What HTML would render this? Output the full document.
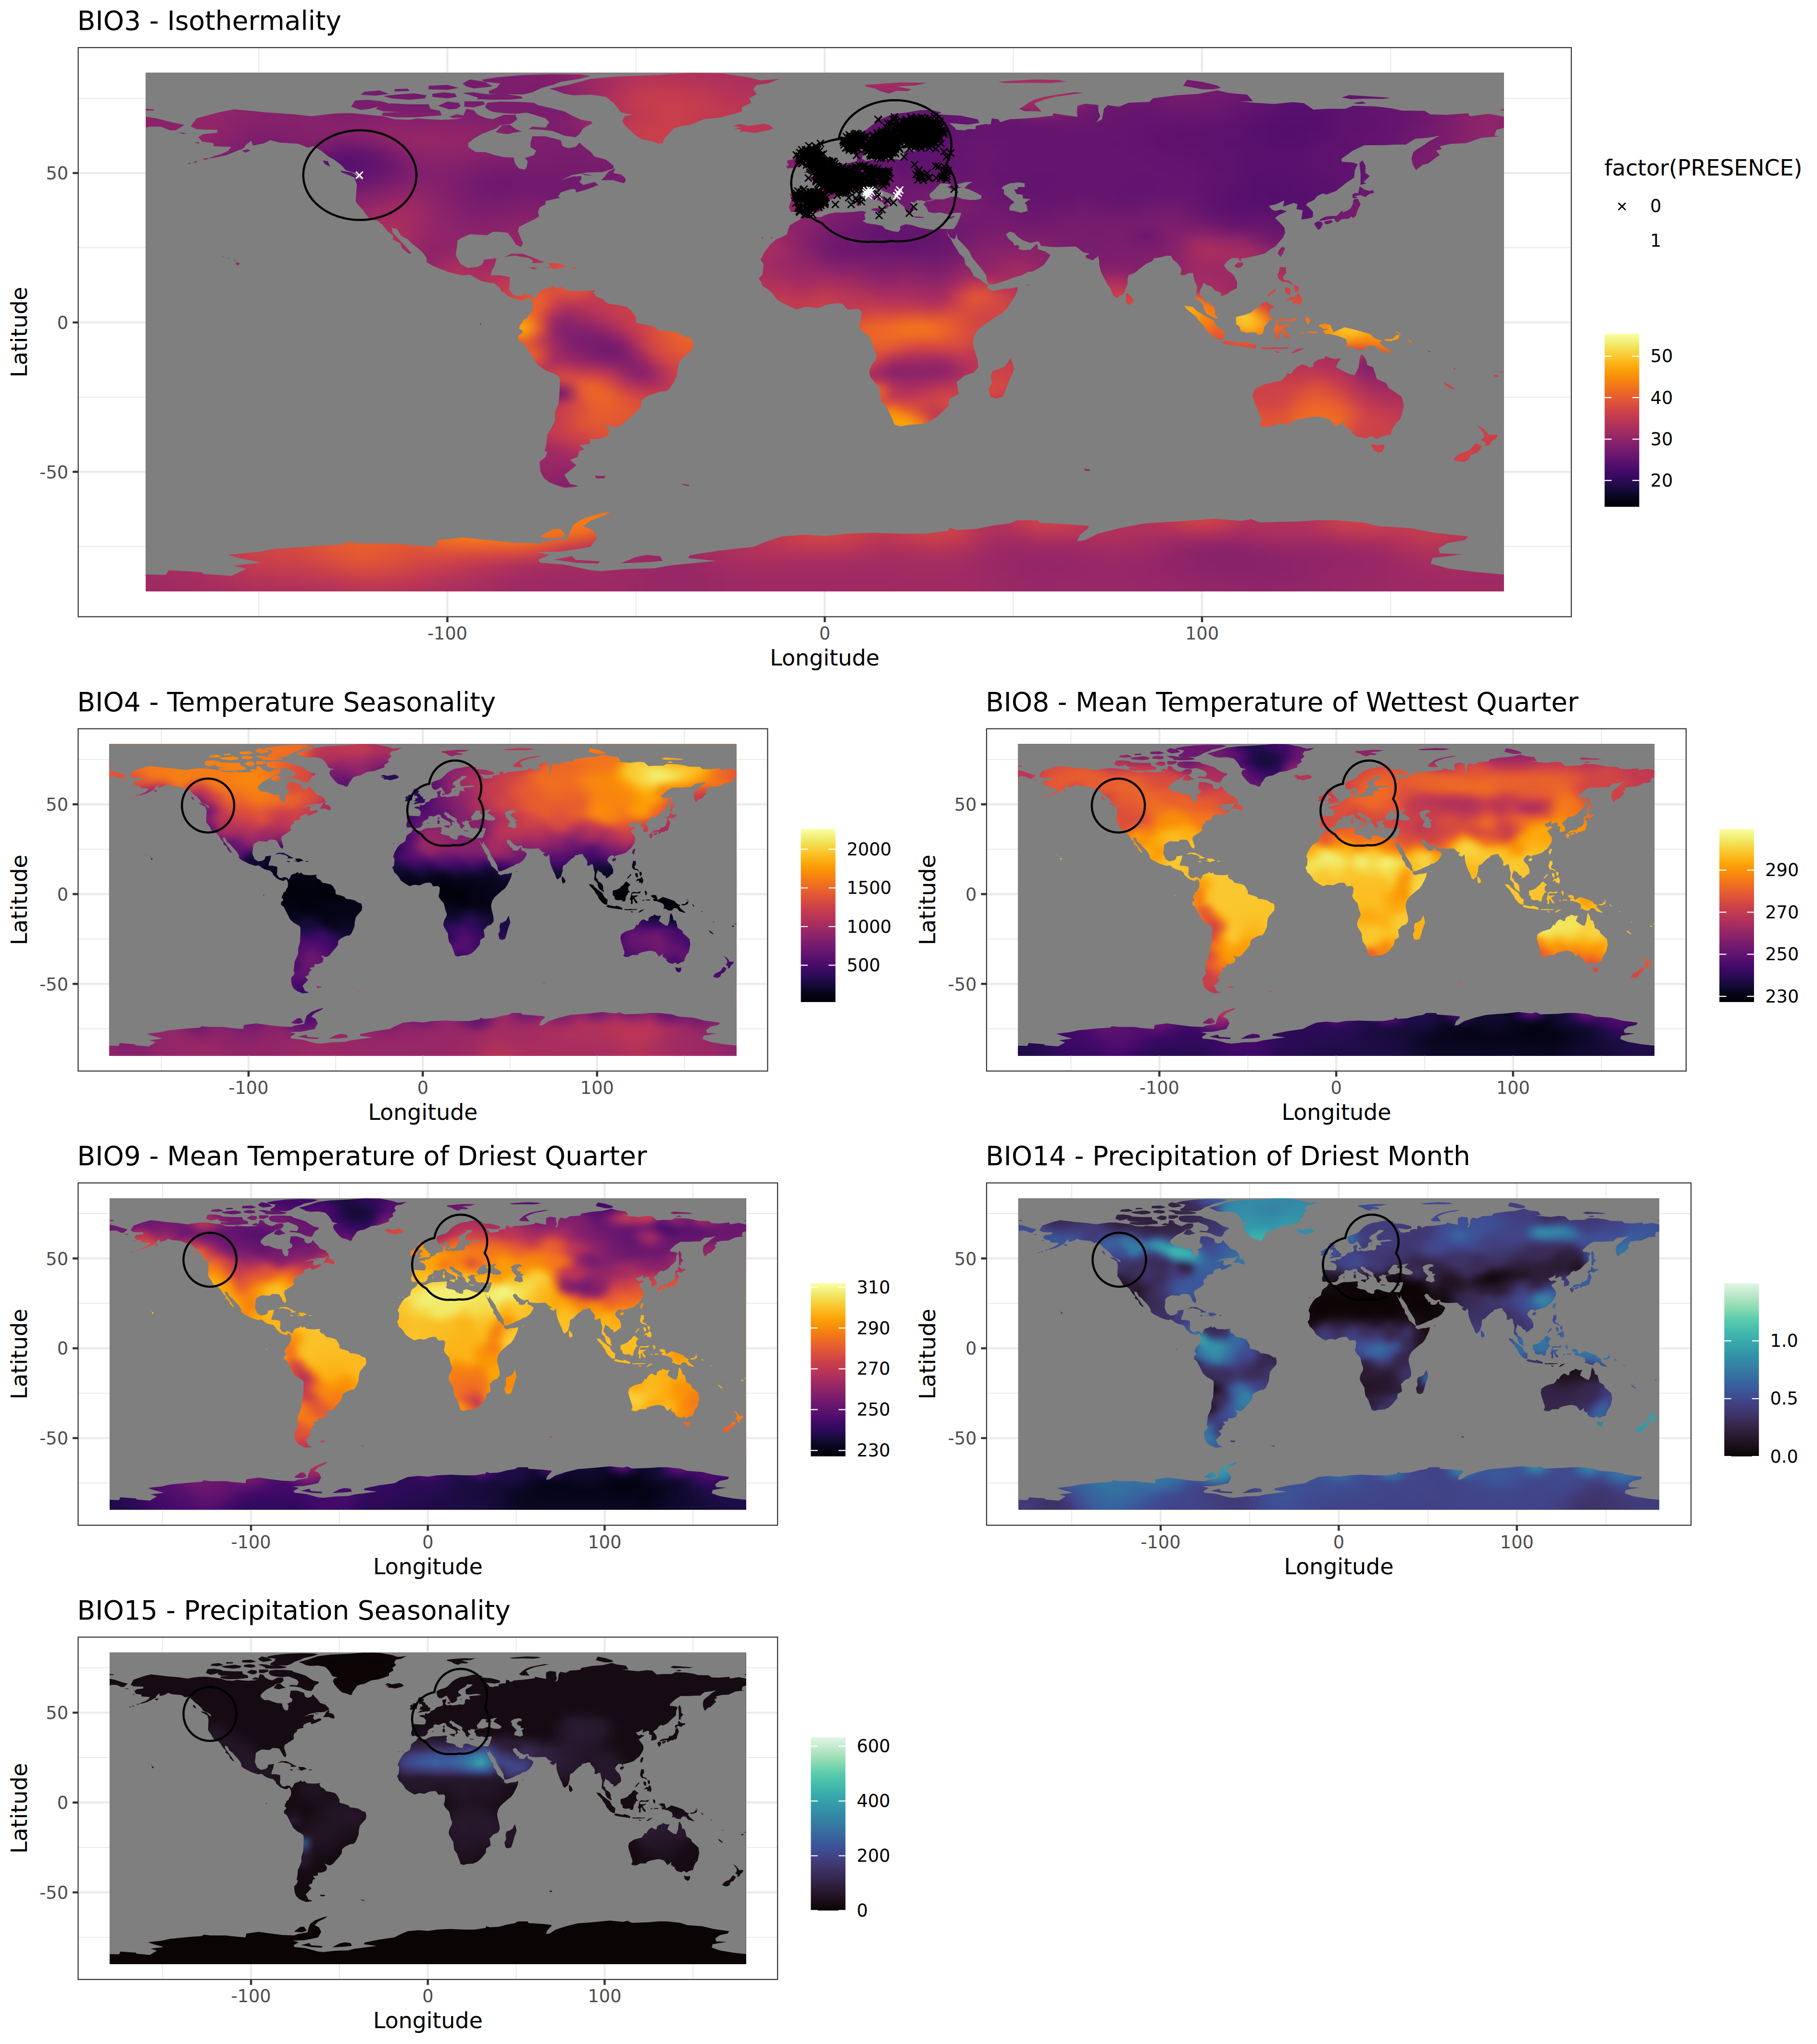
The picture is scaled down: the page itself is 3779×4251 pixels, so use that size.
<!DOCTYPE html><html><head><meta charset="utf-8"><title>Bioclim maps</title><style>
html,body{margin:0;padding:0;background:#fff}body{width:3779px;height:4251px;position:relative;overflow:hidden;font-family:"DejaVu Sans","Liberation Sans",sans-serif}
.r{position:absolute;overflow:hidden;background:#7f7f7f}.b{position:absolute;left:-30px;top:-30px}.b div{width:100%;background-size:inherit;background-position:30px 0}
svg{position:absolute;left:0;top:0}text{font-family:"DejaVu Sans","Liberation Sans",sans-serif}
</style></head><body>
<div class="r" style="left:302.7px;top:151.3px;width:2825.1px;height:1078.6px"><div class="b" style="width:2885.1px;filter:blur(9px);background-size:2825.1px 100%"><div style="height:45.5px;background-image:linear-gradient(90deg,#932667,#932667,#932667,#932667,#922568,#902568,#902568,#8f2469,#8f2469,#8d2369,#8c2369,#88226a,#84206b,#7d1e6d,#7a1d6d,#771c6d,#751b6e,#751b6e,#741a6e,#741a6e,#721a6e,#721a6e,#741a6e,#751b6e,#781c6d,#7c1d6d,#7d1e6d,#7d1e6d,#7f1e6c,#7f1e6c,#801f6c,#85216b,#902568,#9b2964,#a52c60,#ad305d,#b1325a,#b3325a,#b3325a,#b3325a,#b1325a,#b0315b,#ae305c,#ad305d,#ab2f5e,#a92e5e,#a82e5f,#a82e5f,#a62d60,#a32c61,#9f2a63,#9d2964,#a22b62,#a52c60,#a52c60,#a52c60,#a52c60,#a22b62,#9d2964,#932667,#8d2369,#982766,#a22b62,#a62d60,#a62d60,#a62d60,#a62d60,#a62d60,#a32c61,#9a2865,#88226a,#7f1e6c,#7d1e6d,#7c1d6d,#7a1d6d,#781c6d,#781c6d,#781c6d,#771c6d,#771c6d,#751b6e,#721a6e,#71196e,#6f196e,#6f196e,#721a6e,#751b6e,#771c6d,#751b6e,#741a6e,#71196e,#71196e,#71196e,#721a6e,#751b6e,#7a1d6d,#82206c,#8a226a,#8f2469,#922568,#932667)"></div><div style="height:15.5px;background-image:linear-gradient(90deg,#932667,#952667,#952667,#932667,#922568,#902568,#8f2469,#8d2369,#8d2369,#8c2369,#8a226a,#87216b,#801f6c,#7c1d6d,#781c6d,#771c6d,#751b6e,#751b6e,#741a6e,#741a6e,#721a6e,#721a6e,#721a6e,#741a6e,#771c6d,#781c6d,#7c1d6d,#7d1e6d,#7d1e6d,#7d1e6d,#801f6c,#88226a,#932667,#9d2964,#a52c60,#ae305c,#b73557,#ba3655,#ba3655,#b35,#b73557,#b63458,#b3325a,#b0315b,#ae305c,#ad305d,#ab2f5e,#a92e5e,#a82e5f,#a52c60,#9d2964,#9b2964,#a02a63,#a22b62,#a32c61,#a32c61,#a22b62,#9f2a63,#972766,#88226a,#801f6c,#8c2369,#9d2964,#a52c60,#a62d60,#a82e5f,#a82e5f,#a82e5f,#a32c61,#932667,#7f1e6c,#751b6e,#741a6e,#751b6e,#751b6e,#771c6d,#771c6d,#751b6e,#751b6e,#741a6e,#721a6e,#6d186e,#6a176e,#67166e,#65156e,#65156e,#67166e,#69166e,#69166e,#69166e,#67166e,#67166e,#69166e,#6a176e,#6d186e,#721a6e,#7a1d6d,#84206b,#8d2369,#922568,#932667)"></div><div style="height:15.5px;background-image:linear-gradient(90deg,#932667,#952667,#952667,#932667,#922568,#902568,#8f2469,#8d2369,#8c2369,#8c2369,#8a226a,#87216b,#801f6c,#7c1d6d,#781c6d,#771c6d,#771c6d,#751b6e,#741a6e,#741a6e,#721a6e,#721a6e,#721a6e,#721a6e,#751b6e,#771c6d,#7a1d6d,#7c1d6d,#7c1d6d,#7d1e6d,#7f1e6c,#88226a,#932667,#9d2964,#a62d60,#b3325a,#bd3853,#c13a50,#c13a50,#c03a51,#bd3853,#ba3655,#b73557,#b43359,#b1325a,#b0315b,#ad305d,#ab2f5e,#a82e5f,#a32c61,#972766,#8f2469,#952667,#9a2865,#9b2964,#9b2964,#982766,#902568,#85216b,#771c6d,#71196e,#771c6d,#8d2369,#9f2a63,#a62d60,#a92e5e,#ab2f5e,#a92e5e,#a22b62,#8d2369,#781c6d,#71196e,#6f196e,#71196e,#721a6e,#741a6e,#741a6e,#741a6e,#741a6e,#721a6e,#6f196e,#6a176e,#65156e,#62146e,#5f136e,#5f136e,#5f136e,#61136e,#62146e,#64156e,#64156e,#64156e,#65156e,#67166e,#6a176e,#71196e,#781c6d,#84206b,#8c2369,#922568,#932667)"></div><div style="height:15.5px;background-image:linear-gradient(90deg,#932667,#932667,#932667,#932667,#922568,#902568,#8f2469,#8d2369,#8c2369,#8a226a,#8a226a,#87216b,#82206c,#7d1e6d,#7a1d6d,#781c6d,#771c6d,#771c6d,#751b6e,#751b6e,#741a6e,#741a6e,#741a6e,#741a6e,#751b6e,#771c6d,#781c6d,#7a1d6d,#7a1d6d,#7c1d6d,#7d1e6d,#85216b,#922568,#a02a63,#ad305d,#b35,#c13a50,#c63d4d,#c73e4c,#c63d4d,#c33b4f,#c03a51,#bc3754,#b35,#b63458,#b3325a,#b1325a,#ae305c,#a92e5e,#9f2a63,#87216b,#7a1d6d,#7c1d6d,#801f6c,#84206b,#84206b,#7f1e6c,#771c6d,#6f196e,#6a176e,#69166e,#6a176e,#751b6e,#8d2369,#a02a63,#a82e5f,#a92e5e,#a62d60,#9b2964,#85216b,#741a6e,#6d186e,#6c186e,#6c186e,#6d186e,#71196e,#721a6e,#721a6e,#71196e,#6f196e,#6c186e,#67166e,#62146e,#5f136e,#5c126e,#5a116e,#5a116e,#5d126e,#5f136e,#61136e,#62146e,#64156e,#65156e,#67166e,#6a176e,#71196e,#7a1d6d,#84206b,#8c2369,#922568,#932667)"></div><div style="height:15.5px;background-image:linear-gradient(90deg,#922568,#902568,#902568,#922568,#922568,#922568,#8f2469,#8d2369,#8a226a,#8a226a,#88226a,#87216b,#85216b,#801f6c,#7d1e6d,#7c1d6d,#7a1d6d,#7a1d6d,#7a1d6d,#781c6d,#771c6d,#771c6d,#771c6d,#781c6d,#781c6d,#7a1d6d,#7a1d6d,#7a1d6d,#7a1d6d,#7a1d6d,#7c1d6d,#801f6c,#8f2469,#a32c61,#b0315b,#b73557,#bf3952,#c43c4e,#c73e4c,#c73e4c,#c63d4d,#c33b4f,#c03a51,#bc3754,#ba3655,#b73557,#b43359,#b1325a,#a92e5e,#922568,#781c6d,#6d186e,#6c186e,#6c186e,#6c186e,#6c186e,#6a176e,#69166e,#65156e,#65156e,#65156e,#65156e,#6a176e,#781c6d,#8d2369,#9d2964,#a22b62,#9b2964,#8d2369,#7a1d6d,#6f196e,#6a176e,#69166e,#69166e,#69166e,#6c186e,#6d186e,#6f196e,#6d186e,#6c186e,#67166e,#64156e,#5f136e,#5c126e,#59106e,#59106e,#59106e,#5a116e,#5d126e,#5f136e,#61136e,#62146e,#65156e,#67166e,#6c186e,#721a6e,#7a1d6d,#84206b,#8c2369,#902568,#922568)"></div><div style="height:15.5px;background-image:linear-gradient(90deg,#8f2469,#8c2369,#8c2369,#8f2469,#922568,#922568,#8f2469,#8c2369,#88226a,#87216b,#87216b,#87216b,#85216b,#84206b,#82206c,#801f6c,#801f6c,#801f6c,#7f1e6c,#7f1e6c,#7f1e6c,#7d1e6d,#7d1e6d,#7f1e6c,#7f1e6c,#7d1e6d,#7d1e6d,#7c1d6d,#7a1d6d,#7a1d6d,#7a1d6d,#7f1e6c,#8f2469,#a52c60,#b0315b,#b43359,#bc3754,#c13a50,#c73e4c,#c73e4c,#c63d4d,#c33b4f,#c03a51,#bd3853,#bc3754,#ba3655,#b35,#b43359,#a62d60,#84206b,#6f196e,#6a176e,#69166e,#67166e,#67166e,#65156e,#64156e,#64156e,#62146e,#62146e,#62146e,#64156e,#65156e,#6a176e,#741a6e,#801f6c,#87216b,#84206b,#781c6d,#6f196e,#6a176e,#69166e,#67166e,#65156e,#65156e,#67166e,#69166e,#69166e,#69166e,#67166e,#64156e,#5f136e,#5c126e,#59106e,#57106e,#57106e,#57106e,#59106e,#5c126e,#5d126e,#61136e,#62146e,#65156e,#69166e,#6d186e,#741a6e,#7c1d6d,#84206b,#8c2369,#8f2469,#8f2469)"></div><div style="height:15.5px;background-image:linear-gradient(90deg,#8d2369,#8a226a,#8a226a,#8d2369,#922568,#902568,#8d2369,#8a226a,#87216b,#85216b,#85216b,#85216b,#87216b,#87216b,#85216b,#85216b,#85216b,#87216b,#88226a,#88226a,#87216b,#87216b,#87216b,#87216b,#85216b,#84206b,#801f6c,#7f1e6c,#7d1e6d,#7c1d6d,#7c1d6d,#7f1e6c,#8c2369,#a32c61,#b1325a,#b35,#bf3952,#c43c4e,#c73e4c,#c73e4c,#c63d4d,#c33b4f,#c03a51,#bd3853,#bc3754,#ba3655,#ba3655,#b63458,#a22b62,#7a1d6d,#6c186e,#69166e,#67166e,#65156e,#65156e,#64156e,#62146e,#62146e,#61136e,#61136e,#62146e,#62146e,#64156e,#65156e,#67166e,#6a176e,#6d186e,#6d186e,#6a176e,#6a176e,#69166e,#67166e,#65156e,#64156e,#62146e,#62146e,#62146e,#64156e,#62146e,#62146e,#5f136e,#5d126e,#5a116e,#57106e,#550f6d,#550f6d,#550f6d,#59106e,#5c126e,#5d126e,#5f136e,#62146e,#65156e,#69166e,#6d186e,#741a6e,#7c1d6d,#84206b,#8c2369,#8f2469,#8d2369)"></div><div style="height:15.5px;background-image:linear-gradient(90deg,#8d2369,#8a226a,#8a226a,#8f2469,#922568,#902568,#8c2369,#87216b,#84206b,#82206c,#82206c,#84206b,#85216b,#87216b,#87216b,#88226a,#8a226a,#8d2369,#8f2469,#8f2469,#8f2469,#8f2469,#8d2369,#8d2369,#8c2369,#88226a,#85216b,#82206c,#7f1e6c,#7d1e6d,#7d1e6d,#7f1e6c,#87216b,#9a2865,#b0315b,#bd3853,#c43c4e,#c73e4c,#c83f4b,#c73e4c,#c43c4e,#c13a50,#c03a51,#bd3853,#bc3754,#ba3655,#ba3655,#b63458,#9b2964,#741a6e,#6a176e,#69166e,#67166e,#65156e,#64156e,#62146e,#61136e,#5f136e,#5f136e,#5f136e,#62146e,#64156e,#64156e,#64156e,#64156e,#65156e,#65156e,#65156e,#67166e,#67166e,#67166e,#65156e,#64156e,#62146e,#61136e,#61136e,#5f136e,#5f136e,#5f136e,#5d126e,#5d126e,#5a116e,#57106e,#550f6d,#540f6d,#540f6d,#550f6d,#59106e,#5c126e,#5d126e,#5f136e,#62146e,#65156e,#6a176e,#6f196e,#751b6e,#7c1d6d,#84206b,#8c2369,#8f2469,#8d2369)"></div><div style="height:15.5px;background-image:linear-gradient(90deg,#8f2469,#8d2369,#8f2469,#902568,#922568,#8d2369,#88226a,#84206b,#7f1e6c,#7d1e6d,#7f1e6c,#82206c,#84206b,#85216b,#84206b,#84206b,#87216b,#8c2369,#902568,#932667,#932667,#932667,#922568,#922568,#8f2469,#8c2369,#87216b,#82206c,#7f1e6c,#7f1e6c,#7d1e6d,#7d1e6d,#801f6c,#8d2369,#a32c61,#b35,#c43c4e,#c83f4b,#c83f4b,#c73e4c,#c43c4e,#c13a50,#bf3952,#bd3853,#bc3754,#ba3655,#b35,#b1325a,#8d2369,#71196e,#6a176e,#69166e,#67166e,#65156e,#64156e,#62146e,#5f136e,#5d126e,#5d126e,#5f136e,#62146e,#64156e,#65156e,#65156e,#64156e,#64156e,#64156e,#64156e,#65156e,#65156e,#65156e,#64156e,#64156e,#62146e,#61136e,#5f136e,#5d126e,#5d126e,#5d126e,#5c126e,#5c126e,#5a116e,#57106e,#550f6d,#540f6d,#540f6d,#57106e,#5a116e,#5c126e,#5f136e,#61136e,#62146e,#67166e,#6c186e,#71196e,#751b6e,#7c1d6d,#84206b,#8c2369,#8f2469,#8f2469)"></div><div style="height:15.5px;background-image:linear-gradient(90deg,#922568,#922568,#932667,#932667,#902568,#8c2369,#85216b,#801f6c,#7c1d6d,#7a1d6d,#7c1d6d,#7f1e6c,#801f6c,#7f1e6c,#781c6d,#751b6e,#781c6d,#801f6c,#8a226a,#902568,#932667,#932667,#932667,#922568,#902568,#8c2369,#87216b,#82206c,#7f1e6c,#7d1e6d,#7c1d6d,#7c1d6d,#7d1e6d,#82206c,#902568,#a82e5f,#bc3754,#c63d4d,#c73e4c,#c73e4c,#c43c4e,#c13a50,#bf3952,#bc3754,#ba3655,#b35,#b1325a,#9a2865,#7f1e6c,#71196e,#6c186e,#6a176e,#69166e,#67166e,#64156e,#61136e,#5f136e,#5d126e,#5d126e,#5f136e,#64156e,#67166e,#67166e,#67166e,#65156e,#64156e,#64156e,#64156e,#64156e,#64156e,#64156e,#64156e,#62146e,#62146e,#61136e,#5f136e,#5f136e,#5d126e,#5c126e,#5c126e,#5a116e,#5a116e,#59106e,#550f6d,#550f6d,#550f6d,#59106e,#5c126e,#5d126e,#5f136e,#61136e,#62146e,#67166e,#6f196e,#741a6e,#771c6d,#7c1d6d,#84206b,#8a226a,#902568,#922568)"></div><div style="height:15.5px;background-image:linear-gradient(90deg,#932667,#952667,#952667,#932667,#8f2469,#88226a,#82206c,#7c1d6d,#781c6d,#781c6d,#7a1d6d,#7c1d6d,#7a1d6d,#721a6e,#69166e,#64156e,#67166e,#6d186e,#7a1d6d,#88226a,#8f2469,#902568,#902568,#902568,#8d2369,#88226a,#84206b,#7f1e6c,#7d1e6d,#7c1d6d,#7c1d6d,#7a1d6d,#7a1d6d,#7c1d6d,#84206b,#932667,#a92e5e,#bc3754,#c43c4e,#c63d4d,#c43c4e,#c13a50,#bf3952,#ba3655,#b63458,#a92e5e,#922568,#84206b,#7d1e6d,#771c6d,#71196e,#6c186e,#6a176e,#67166e,#65156e,#61136e,#5d126e,#5c126e,#5d126e,#61136e,#65156e,#69166e,#69166e,#67166e,#65156e,#64156e,#64156e,#64156e,#64156e,#64156e,#64156e,#64156e,#64156e,#62146e,#62146e,#61136e,#5f136e,#5f136e,#5d126e,#5c126e,#5c126e,#5a116e,#5a116e,#59106e,#57106e,#59106e,#5c126e,#5d126e,#5f136e,#61136e,#62146e,#64156e,#6a176e,#741a6e,#781c6d,#7a1d6d,#7c1d6d,#82206c,#8a226a,#902568,#932667)"></div><div style="height:15.5px;background-image:linear-gradient(90deg,#932667,#952667,#952667,#922568,#8d2369,#85216b,#7f1e6c,#7a1d6d,#771c6d,#771c6d,#771c6d,#771c6d,#6d186e,#62146e,#5c126e,#5a116e,#5c126e,#62146e,#6d186e,#7d1e6d,#87216b,#8a226a,#8a226a,#8a226a,#87216b,#82206c,#7f1e6c,#7d1e6d,#7c1d6d,#7a1d6d,#781c6d,#781c6d,#781c6d,#7a1d6d,#7c1d6d,#84206b,#922568,#a82e5f,#ba3655,#c33b4f,#c33b4f,#c03a51,#ba3655,#b3325a,#a82e5f,#902568,#85216b,#82206c,#7d1e6d,#781c6d,#741a6e,#6f196e,#6c186e,#69166e,#65156e,#62146e,#5f136e,#5d126e,#5d126e,#61136e,#65156e,#69166e,#69166e,#67166e,#65156e,#64156e,#64156e,#64156e,#64156e,#64156e,#64156e,#64156e,#64156e,#64156e,#62146e,#62146e,#61136e,#61136e,#5f136e,#5d126e,#5c126e,#5a116e,#5a116e,#5a116e,#5a116e,#5a116e,#5c126e,#5d126e,#5f136e,#61136e,#62146e,#64156e,#6d186e,#771c6d,#7a1d6d,#7a1d6d,#7c1d6d,#82206c,#8a226a,#902568,#932667)"></div><div style="height:15.5px;background-image:linear-gradient(90deg,#932667,#952667,#932667,#902568,#8c2369,#84206b,#7d1e6d,#781c6d,#771c6d,#751b6e,#751b6e,#6d186e,#62146e,#59106e,#57106e,#59106e,#5c126e,#61136e,#6a176e,#781c6d,#82206c,#85216b,#85216b,#82206c,#7f1e6c,#7c1d6d,#781c6d,#781c6d,#781c6d,#781c6d,#771c6d,#771c6d,#771c6d,#781c6d,#781c6d,#7c1d6d,#82206c,#8f2469,#a32c61,#b63458,#ba3655,#b73557,#b0315b,#a62d60,#9a2865,#8a226a,#84206b,#82206c,#7f1e6c,#7a1d6d,#751b6e,#721a6e,#6d186e,#6c186e,#69166e,#64156e,#61136e,#5f136e,#5f136e,#62146e,#65156e,#67166e,#69166e,#67166e,#65156e,#64156e,#64156e,#64156e,#64156e,#64156e,#64156e,#64156e,#64156e,#64156e,#64156e,#62146e,#62146e,#61136e,#5f136e,#5d126e,#5c126e,#5a116e,#5a116e,#59106e,#5a116e,#5a116e,#5c126e,#5d126e,#5f136e,#61136e,#62146e,#65156e,#6d186e,#771c6d,#7a1d6d,#7c1d6d,#7d1e6d,#84206b,#8d2369,#902568,#932667)"></div><div style="height:15.5px;background-image:linear-gradient(90deg,#932667,#932667,#932667,#922568,#8d2369,#87216b,#801f6c,#7c1d6d,#7a1d6d,#781c6d,#741a6e,#65156e,#5a116e,#57106e,#59106e,#5c126e,#61136e,#65156e,#6d186e,#781c6d,#801f6c,#84206b,#82206c,#7f1e6c,#7a1d6d,#751b6e,#721a6e,#741a6e,#751b6e,#751b6e,#751b6e,#751b6e,#751b6e,#771c6d,#771c6d,#781c6d,#7a1d6d,#801f6c,#8c2369,#9f2a63,#a92e5e,#a62d60,#a02a63,#9a2865,#932667,#8a226a,#85216b,#82206c,#7f1e6c,#7c1d6d,#771c6d,#741a6e,#71196e,#6d186e,#6c186e,#69166e,#65156e,#62146e,#62146e,#64156e,#65156e,#67166e,#67166e,#65156e,#64156e,#64156e,#64156e,#64156e,#64156e,#64156e,#64156e,#65156e,#64156e,#64156e,#64156e,#64156e,#62146e,#62146e,#61136e,#5f136e,#5c126e,#5a116e,#59106e,#57106e,#59106e,#5a116e,#5a116e,#5c126e,#5d126e,#61136e,#62146e,#64156e,#6d186e,#771c6d,#7c1d6d,#7d1e6d,#82206c,#8c2369,#902568,#922568,#932667)"></div><div style="height:15.5px;background-image:linear-gradient(90deg,#932667,#932667,#932667,#922568,#902568,#8d2369,#8a226a,#85216b,#84206b,#801f6c,#771c6d,#65156e,#5c126e,#5c126e,#5f136e,#64156e,#69166e,#6f196e,#751b6e,#7d1e6d,#84206b,#84206b,#801f6c,#7c1d6d,#751b6e,#71196e,#6f196e,#6f196e,#721a6e,#741a6e,#721a6e,#741a6e,#741a6e,#751b6e,#771c6d,#771c6d,#781c6d,#7a1d6d,#801f6c,#8d2369,#972766,#982766,#972766,#952667,#932667,#8f2469,#8a226a,#87216b,#84206b,#7f1e6c,#7a1d6d,#771c6d,#721a6e,#71196e,#6f196e,#6c186e,#6a176e,#67166e,#67166e,#67166e,#69166e,#69166e,#69166e,#65156e,#64156e,#62146e,#62146e,#62146e,#64156e,#64156e,#64156e,#64156e,#64156e,#62146e,#62146e,#64156e,#64156e,#62146e,#61136e,#5d126e,#5c126e,#59106e,#550f6d,#550f6d,#57106e,#59106e,#5a116e,#5a116e,#5d126e,#62146e,#64156e,#67166e,#721a6e,#7d1e6d,#84206b,#88226a,#8d2369,#922568,#932667,#932667,#932667)"></div><div style="height:15.5px;background-image:linear-gradient(90deg,#932667,#932667,#932667,#932667,#922568,#922568,#902568,#8f2469,#8f2469,#8c2369,#801f6c,#6c186e,#62146e,#64156e,#69166e,#6f196e,#751b6e,#7a1d6d,#801f6c,#87216b,#8a226a,#87216b,#82206c,#7c1d6d,#751b6e,#6f196e,#6d186e,#6f196e,#721a6e,#721a6e,#721a6e,#71196e,#721a6e,#751b6e,#771c6d,#771c6d,#781c6d,#7a1d6d,#7f1e6c,#88226a,#902568,#932667,#932667,#932667,#932667,#922568,#902568,#8f2469,#8a226a,#85216b,#801f6c,#7a1d6d,#751b6e,#741a6e,#721a6e,#6f196e,#6d186e,#6d186e,#6d186e,#6d186e,#6d186e,#6c186e,#6a176e,#67166e,#64156e,#62146e,#62146e,#64156e,#64156e,#65156e,#65156e,#64156e,#62146e,#62146e,#62146e,#65156e,#65156e,#62146e,#5f136e,#5d126e,#5a116e,#57106e,#540f6d,#540f6d,#550f6d,#57106e,#59106e,#5a116e,#5d126e,#67166e,#6a176e,#6c186e,#7d1e6d,#8a226a,#8f2469,#922568,#922568,#932667,#932667,#932667,#932667)"></div><div style="height:15.5px;background-image:linear-gradient(90deg,#932667,#932667,#932667,#932667,#932667,#932667,#932667,#922568,#922568,#902568,#8a226a,#7a1d6d,#6f196e,#71196e,#771c6d,#7c1d6d,#82206c,#87216b,#8d2369,#922568,#922568,#8c2369,#85216b,#7d1e6d,#771c6d,#721a6e,#71196e,#741a6e,#751b6e,#751b6e,#721a6e,#71196e,#71196e,#741a6e,#771c6d,#781c6d,#781c6d,#7c1d6d,#801f6c,#8a226a,#902568,#932667,#932667,#932667,#932667,#932667,#932667,#922568,#8f2469,#8a226a,#85216b,#7d1e6d,#781c6d,#751b6e,#741a6e,#71196e,#6f196e,#71196e,#741a6e,#751b6e,#751b6e,#71196e,#6d186e,#69166e,#65156e,#64156e,#64156e,#64156e,#65156e,#67166e,#65156e,#64156e,#62146e,#62146e,#65156e,#67166e,#67166e,#64156e,#5f136e,#5c126e,#59106e,#57106e,#550f6d,#540f6d,#540f6d,#550f6d,#57106e,#5c126e,#62146e,#6a176e,#6c186e,#6f196e,#87216b,#902568,#922568,#932667,#932667,#932667,#932667,#932667,#932667)"></div><div style="height:15.5px;background-image:linear-gradient(90deg,#932667,#932667,#932667,#932667,#932667,#932667,#932667,#932667,#932667,#922568,#902568,#87216b,#7f1e6c,#7f1e6c,#84206b,#88226a,#8d2369,#932667,#982766,#9b2964,#982766,#902568,#87216b,#801f6c,#7a1d6d,#771c6d,#771c6d,#7a1d6d,#7c1d6d,#7a1d6d,#751b6e,#721a6e,#71196e,#741a6e,#771c6d,#781c6d,#7c1d6d,#7f1e6c,#85216b,#8d2369,#922568,#932667,#932667,#932667,#932667,#932667,#932667,#922568,#902568,#8c2369,#87216b,#7f1e6c,#781c6d,#751b6e,#721a6e,#71196e,#71196e,#741a6e,#781c6d,#7a1d6d,#7a1d6d,#751b6e,#6f196e,#6c186e,#67166e,#65156e,#65156e,#67166e,#69166e,#6a176e,#69166e,#67166e,#65156e,#67166e,#6a176e,#6c186e,#6c186e,#67166e,#61136e,#5c126e,#59106e,#59106e,#57106e,#550f6d,#550f6d,#550f6d,#57106e,#61136e,#6f196e,#721a6e,#71196e,#781c6d,#8f2469,#922568,#932667,#932667,#932667,#932667,#932667,#932667,#932667)"></div><div style="height:15.5px;background-image:linear-gradient(90deg,#932667,#932667,#932667,#932667,#932667,#932667,#932667,#932667,#932667,#932667,#922568,#8f2469,#8a226a,#8a226a,#8d2369,#922568,#972766,#9b2964,#a02a63,#a22b62,#9d2964,#932667,#8a226a,#84206b,#7d1e6d,#7c1d6d,#7d1e6d,#801f6c,#82206c,#7f1e6c,#7a1d6d,#741a6e,#721a6e,#751b6e,#7a1d6d,#7d1e6d,#801f6c,#85216b,#8c2369,#922568,#932667,#932667,#932667,#932667,#932667,#932667,#922568,#922568,#8f2469,#8c2369,#85216b,#7d1e6d,#781c6d,#741a6e,#71196e,#6f196e,#71196e,#751b6e,#7a1d6d,#7c1d6d,#781c6d,#751b6e,#721a6e,#6f196e,#6c186e,#69166e,#69166e,#6c186e,#6d186e,#71196e,#6f196e,#6c186e,#6c186e,#6d186e,#71196e,#721a6e,#71196e,#6a176e,#64156e,#5d126e,#5a116e,#5a116e,#5c126e,#5a116e,#59106e,#57106e,#59106e,#65156e,#741a6e,#771c6d,#781c6d,#84206b,#922568,#932667,#932667,#932667,#932667,#932667,#932667,#932667,#932667)"></div><div style="height:15.5px;background-image:linear-gradient(90deg,#932667,#932667,#932667,#932667,#932667,#932667,#932667,#932667,#932667,#932667,#932667,#922568,#902568,#902568,#932667,#982766,#9d2964,#a22b62,#a52c60,#a52c60,#9f2a63,#952667,#8d2369,#87216b,#82206c,#801f6c,#82206c,#85216b,#87216b,#85216b,#801f6c,#7a1d6d,#771c6d,#781c6d,#801f6c,#85216b,#88226a,#8d2369,#902568,#922568,#932667,#932667,#932667,#932667,#922568,#922568,#922568,#902568,#8d2369,#88226a,#801f6c,#7a1d6d,#751b6e,#71196e,#6a176e,#69166e,#6c186e,#71196e,#771c6d,#751b6e,#721a6e,#721a6e,#741a6e,#721a6e,#6f196e,#6d186e,#6d186e,#71196e,#741a6e,#751b6e,#741a6e,#721a6e,#721a6e,#741a6e,#771c6d,#781c6d,#771c6d,#71196e,#6a176e,#64156e,#5f136e,#5f136e,#61136e,#61136e,#5d126e,#59106e,#5a116e,#6a176e,#751b6e,#771c6d,#781c6d,#85216b,#922568,#932667,#932667,#932667,#932667,#932667,#932667,#932667,#932667)"></div><div style="height:15.5px;background-image:linear-gradient(90deg,#932667,#932667,#932667,#932667,#932667,#932667,#932667,#932667,#932667,#932667,#932667,#932667,#932667,#932667,#972766,#9b2964,#a22b62,#a62d60,#a82e5f,#a62d60,#9d2964,#952667,#8f2469,#8a226a,#87216b,#85216b,#87216b,#8a226a,#8c2369,#8a226a,#87216b,#82206c,#7f1e6c,#82206c,#8a226a,#8d2369,#902568,#922568,#932667,#932667,#932667,#932667,#932667,#932667,#922568,#932667,#922568,#8f2469,#8c2369,#85216b,#7d1e6d,#751b6e,#71196e,#6c186e,#65156e,#64156e,#65156e,#69166e,#6d186e,#71196e,#6f196e,#71196e,#751b6e,#751b6e,#741a6e,#721a6e,#721a6e,#741a6e,#771c6d,#771c6d,#771c6d,#771c6d,#771c6d,#771c6d,#781c6d,#7f1e6c,#7d1e6d,#781c6d,#771c6d,#71196e,#67166e,#65156e,#67166e,#67166e,#64156e,#5d126e,#5d126e,#6f196e,#771c6d,#781c6d,#7c1d6d,#8a226a,#932667,#932667,#932667,#932667,#932667,#932667,#932667,#932667,#932667)"></div><div style="height:15.5px;background-image:linear-gradient(90deg,#932667,#932667,#932667,#932667,#932667,#932667,#932667,#932667,#932667,#932667,#932667,#932667,#932667,#952667,#982766,#9f2a63,#a52c60,#ab2f5e,#ad305d,#a82e5f,#9b2964,#932667,#8f2469,#8d2369,#8a226a,#8a226a,#8d2369,#8f2469,#902568,#8f2469,#8d2369,#8a226a,#88226a,#8d2369,#902568,#922568,#932667,#932667,#932667,#932667,#932667,#932667,#932667,#932667,#972766,#9b2964,#9a2865,#922568,#8a226a,#82206c,#781c6d,#721a6e,#6d186e,#69166e,#64156e,#62146e,#62146e,#64156e,#65156e,#6a176e,#6f196e,#741a6e,#781c6d,#7a1d6d,#781c6d,#771c6d,#781c6d,#771c6d,#771c6d,#781c6d,#771c6d,#781c6d,#781c6d,#6f196e,#6d186e,#7f1e6c,#82206c,#85216b,#87216b,#7f1e6c,#781c6d,#781c6d,#6f196e,#6a176e,#69166e,#65156e,#65156e,#751b6e,#7a1d6d,#7c1d6d,#84206b,#902568,#932667,#932667,#932667,#932667,#932667,#932667,#932667,#932667,#932667)"></div><div style="height:15.5px;background-image:linear-gradient(90deg,#932667,#932667,#932667,#932667,#932667,#932667,#932667,#932667,#932667,#932667,#932667,#932667,#932667,#932667,#972766,#9d2964,#a62d60,#ae305c,#b0315b,#a92e5e,#982766,#902568,#8f2469,#8f2469,#8f2469,#902568,#922568,#932667,#932667,#952667,#982766,#9d2964,#972766,#922568,#932667,#932667,#932667,#932667,#932667,#932667,#932667,#932667,#932667,#932667,#9f2a63,#a62d60,#a52c60,#982766,#8c2369,#7f1e6c,#751b6e,#6f196e,#6c186e,#67166e,#64156e,#62146e,#62146e,#62146e,#64156e,#69166e,#71196e,#7a1d6d,#7f1e6c,#7f1e6c,#7d1e6d,#7f1e6c,#801f6c,#7c1d6d,#781c6d,#781c6d,#781c6d,#781c6d,#7a1d6d,#71196e,#6d186e,#7f1e6c,#85216b,#972766,#9b2964,#932667,#922568,#8f2469,#7f1e6c,#721a6e,#741a6e,#6f196e,#751b6e,#84206b,#87216b,#88226a,#8f2469,#932667,#932667,#932667,#932667,#932667,#932667,#932667,#932667,#932667,#932667)"></div><div style="height:15.5px;background-image:linear-gradient(90deg,#932667,#932667,#932667,#932667,#932667,#932667,#932667,#932667,#932667,#932667,#932667,#932667,#932667,#932667,#952667,#9a2865,#a32c61,#ae305c,#b0315b,#a62d60,#952667,#8f2469,#8f2469,#902568,#932667,#972766,#972766,#972766,#982766,#9d2964,#b3325a,#c43c4e,#b63458,#972766,#932667,#932667,#932667,#932667,#932667,#932667,#932667,#932667,#932667,#952667,#a02a63,#a92e5e,#a82e5f,#9f2a63,#8d2369,#801f6c,#741a6e,#6d186e,#6c186e,#6a176e,#67166e,#65156e,#65156e,#65156e,#67166e,#6a176e,#741a6e,#801f6c,#85216b,#85216b,#85216b,#88226a,#88226a,#801f6c,#781c6d,#781c6d,#781c6d,#7a1d6d,#7c1d6d,#7a1d6d,#7a1d6d,#801f6c,#88226a,#a02a63,#ab2f5e,#a52c60,#a22b62,#9f2a63,#902568,#85216b,#8a226a,#801f6c,#801f6c,#8d2369,#922568,#922568,#932667,#932667,#932667,#932667,#932667,#932667,#932667,#932667,#932667,#932667,#932667)"></div><div style="height:15.5px;background-image:linear-gradient(90deg,#932667,#932667,#932667,#932667,#932667,#932667,#932667,#932667,#932667,#932667,#932667,#932667,#932667,#932667,#932667,#952667,#9d2964,#a82e5f,#a82e5f,#9d2964,#902568,#8f2469,#932667,#9a2865,#9a2865,#9b2964,#9b2964,#9b2964,#9d2964,#a82e5f,#cc4248,#d74b3f,#ce4347,#a02a63,#932667,#932667,#932667,#932667,#932667,#932667,#932667,#932667,#932667,#932667,#9d2964,#a62d60,#a52c60,#9d2964,#902568,#85216b,#771c6d,#71196e,#71196e,#71196e,#6f196e,#6d186e,#6c186e,#6c186e,#6d186e,#6f196e,#781c6d,#84206b,#88226a,#8c2369,#8f2469,#8d2369,#8d2369,#84206b,#7a1d6d,#781c6d,#7a1d6d,#7c1d6d,#7d1e6d,#7f1e6c,#801f6c,#801f6c,#8c2369,#9d2964,#a82e5f,#a32c61,#a62d60,#a62d60,#9b2964,#8f2469,#902568,#8c2369,#8c2369,#922568,#932667,#932667,#932667,#932667,#932667,#932667,#932667,#932667,#932667,#932667,#932667,#932667,#932667)"></div><div style="height:15.5px;background-image:linear-gradient(90deg,#932667,#932667,#932667,#932667,#932667,#932667,#932667,#932667,#932667,#932667,#932667,#932667,#932667,#932667,#932667,#932667,#952667,#9b2964,#9b2964,#922568,#8d2369,#902568,#9d2964,#a62d60,#a22b62,#9f2a63,#a02a63,#9f2a63,#9f2a63,#b43359,#d54a41,#da4e3c,#d44842,#a92e5e,#952667,#932667,#932667,#932667,#932667,#932667,#932667,#932667,#932667,#932667,#9a2865,#a22b62,#a02a63,#9a2865,#932667,#8f2469,#84206b,#7c1d6d,#7c1d6d,#7a1d6d,#771c6d,#771c6d,#771c6d,#771c6d,#751b6e,#771c6d,#801f6c,#88226a,#8c2369,#932667,#9a2865,#972766,#8f2469,#82206c,#7a1d6d,#7a1d6d,#7d1e6d,#7f1e6c,#801f6c,#801f6c,#82206c,#84206b,#8f2469,#9a2865,#a02a63,#9f2a63,#a52c60,#a92e5e,#a32c61,#9d2964,#9f2a63,#9b2964,#922568,#932667,#932667,#932667,#932667,#932667,#932667,#932667,#932667,#932667,#932667,#932667,#932667,#932667,#932667)"></div><div style="height:15.5px;background-image:linear-gradient(90deg,#932667,#932667,#932667,#932667,#932667,#932667,#932667,#932667,#932667,#932667,#932667,#932667,#932667,#932667,#932667,#932667,#932667,#932667,#902568,#8d2369,#8d2369,#932667,#a62d60,#b0315b,#a82e5f,#a52c60,#ab2f5e,#a92e5e,#a32c61,#c03a51,#d94d3d,#db503b,#d84c3e,#b73557,#9f2a63,#9a2865,#952667,#932667,#932667,#932667,#932667,#932667,#932667,#952667,#a02a63,#a62d60,#a32c61,#9b2964,#982766,#972766,#922568,#8c2369,#8a226a,#85216b,#801f6c,#801f6c,#84206b,#801f6c,#7d1e6d,#801f6c,#8f2469,#932667,#922568,#9a2865,#a02a63,#9f2a63,#902568,#801f6c,#7c1d6d,#7c1d6d,#801f6c,#88226a,#87216b,#84206b,#82206c,#85216b,#902568,#9b2964,#a02a63,#9d2964,#a02a63,#a62d60,#a32c61,#a62d60,#a62d60,#a52c60,#952667,#932667,#932667,#932667,#932667,#932667,#932667,#932667,#932667,#932667,#932667,#932667,#932667,#932667,#932667)"></div><div style="height:15.5px;background-image:linear-gradient(90deg,#932667,#932667,#932667,#932667,#932667,#932667,#932667,#932667,#932667,#932667,#932667,#932667,#932667,#932667,#932667,#932667,#932667,#922568,#8f2469,#8d2369,#8d2369,#952667,#ab2f5e,#b1325a,#a92e5e,#ae305c,#b73557,#b35,#b73557,#c83f4b,#da4e3c,#e15635,#e15635,#cb4149,#b63458,#ae305c,#9f2a63,#952667,#932667,#932667,#932667,#932667,#932667,#972766,#a62d60,#ad305d,#ab2f5e,#a32c61,#9f2a63,#9f2a63,#9f2a63,#9b2964,#982766,#902568,#8a226a,#8c2369,#8f2469,#8c2369,#87216b,#8c2369,#9b2964,#a62d60,#a22b62,#a02a63,#a32c61,#a22b62,#952667,#82206c,#7d1e6d,#801f6c,#8f2469,#9f2a63,#9b2964,#8a226a,#84206b,#85216b,#922568,#a02a63,#a22b62,#a02a63,#9b2964,#9b2964,#a62d60,#ab2f5e,#ad305d,#b0315b,#9f2a63,#932667,#932667,#932667,#932667,#932667,#932667,#932667,#932667,#932667,#932667,#932667,#932667,#932667,#932667)"></div><div style="height:15.5px;background-image:linear-gradient(90deg,#932667,#932667,#932667,#932667,#932667,#932667,#932667,#932667,#932667,#932667,#932667,#932667,#932667,#932667,#932667,#932667,#932667,#932667,#902568,#8f2469,#8d2369,#952667,#a62d60,#ae305c,#a82e5f,#b3325a,#bd3853,#c43c4e,#cf4446,#d84c3e,#dd513a,#e45a31,#e25734,#cf4446,#c33b4f,#c13a50,#b3325a,#9d2964,#952667,#932667,#932667,#932667,#932667,#972766,#a92e5e,#b0315b,#b0315b,#ae305c,#a82e5f,#a82e5f,#ad305d,#a92e5e,#a62d60,#9d2964,#972766,#972766,#9a2865,#972766,#932667,#982766,#ae305c,#c43c4e,#c73e4c,#b63458,#b1325a,#a52c60,#972766,#88226a,#82206c,#88226a,#a52c60,#b63458,#b3325a,#9b2964,#87216b,#85216b,#922568,#a22b62,#a22b62,#a32c61,#9d2964,#982766,#c73e4c,#cb4149,#c63d4d,#cc4248,#c13a50,#972766,#932667,#932667,#932667,#932667,#932667,#932667,#932667,#932667,#932667,#932667,#932667,#932667,#932667)"></div><div style="height:15.5px;background-image:linear-gradient(90deg,#932667,#932667,#932667,#932667,#932667,#932667,#932667,#932667,#932667,#932667,#932667,#932667,#932667,#932667,#932667,#932667,#932667,#932667,#922568,#902568,#8f2469,#922568,#9d2964,#a32c61,#a52c60,#b43359,#c03a51,#ce4347,#d94d3d,#e55c30,#da4e3c,#dd513a,#da4e3c,#ca404a,#c63d4d,#c73e4c,#c33b4f,#b0315b,#9b2964,#972766,#952667,#932667,#932667,#952667,#a62d60,#b1325a,#b73557,#ba3655,#b43359,#b63458,#bd3853,#b73557,#b3325a,#ad305d,#a52c60,#a52c60,#a62d60,#a22b62,#a02a63,#a52c60,#c63d4d,#dd513a,#db503b,#c63d4d,#bd3853,#b0315b,#952667,#8f2469,#88226a,#922568,#b3325a,#c03a51,#c73e4c,#c13a50,#8f2469,#88226a,#9f2a63,#b1325a,#a62d60,#a32c61,#9d2964,#9a2865,#d54a41,#d94d3d,#d24644,#d54a41,#d44842,#a02a63,#952667,#932667,#932667,#932667,#932667,#932667,#932667,#932667,#932667,#932667,#932667,#932667,#932667)"></div><div style="height:15.5px;background-image:linear-gradient(90deg,#932667,#932667,#932667,#932667,#932667,#932667,#932667,#932667,#932667,#932667,#932667,#932667,#932667,#932667,#932667,#932667,#932667,#932667,#932667,#922568,#922568,#902568,#952667,#9a2865,#9f2a63,#b0315b,#c33b4f,#d44842,#e15635,#eb6628,#d44842,#c83f4b,#c83f4b,#c13a50,#c63d4d,#c83f4b,#c83f4b,#c13a50,#b1325a,#a82e5f,#a02a63,#972766,#932667,#932667,#9d2964,#b1325a,#bf3952,#c13a50,#bd3853,#c13a50,#c73e4c,#bf3952,#ba3655,#ba3655,#b63458,#b3325a,#b3325a,#ad305d,#a92e5e,#b1325a,#d24644,#e35933,#db503b,#d04545,#c73e4c,#ba3655,#952667,#922568,#8f2469,#952667,#b3325a,#c33b4f,#d44842,#d44842,#a22b62,#902568,#f57b17,#fc9f07,#ec6726,#d24644,#a32c61,#c83f4b,#cb4149,#d34743,#d74b3f,#da4e3c,#d84c3e,#c13a50,#a92e5e,#972766,#932667,#932667,#932667,#932667,#932667,#932667,#932667,#932667,#932667,#932667,#932667)"></div><div style="height:15.5px;background-image:linear-gradient(90deg,#932667,#932667,#932667,#932667,#932667,#932667,#932667,#932667,#932667,#932667,#932667,#932667,#932667,#932667,#932667,#932667,#932667,#932667,#932667,#932667,#932667,#922568,#932667,#952667,#982766,#a32c61,#c13a50,#d74b3f,#e8602d,#e9612b,#c63d4d,#ad305d,#b43359,#ba3655,#c33b4f,#c73e4c,#ca404a,#c83f4b,#ca404a,#cf4446,#c43c4e,#a82e5f,#972766,#932667,#972766,#ad305d,#c03a51,#c33b4f,#c03a51,#c63d4d,#cb4149,#c13a50,#bf3952,#c43c4e,#c43c4e,#c13a50,#c33b4f,#bf3952,#b35,#c33b4f,#d44842,#da4e3c,#d44842,#d34743,#d24644,#bc3754,#952667,#932667,#922568,#932667,#a62d60,#bd3853,#d54a41,#d44842,#a22b62,#a02a63,#fcaa0f,#fcb418,#f68013,#f1731d,#f57b17,#fcb418,#dd513a,#c13a50,#d84c3e,#df5337,#e9612b,#ef6e21,#e35933,#b1325a,#972766,#932667,#932667,#932667,#932667,#932667,#932667,#932667,#932667,#932667,#932667)"></div><div style="height:15.5px;background-image:linear-gradient(90deg,#932667,#932667,#932667,#932667,#932667,#932667,#932667,#932667,#932667,#932667,#932667,#932667,#932667,#932667,#932667,#932667,#932667,#932667,#932667,#932667,#932667,#932667,#932667,#932667,#952667,#972766,#b3325a,#e65d2f,#f2741c,#df5337,#ad305d,#972766,#a52c60,#b0315b,#bc3754,#c43c4e,#ca404a,#cc4248,#d94d3d,#e45a31,#e15635,#c83f4b,#9f2a63,#932667,#932667,#a02a63,#b35,#bf3952,#bc3754,#c43c4e,#ca404a,#bf3952,#c63d4d,#d34743,#d74b3f,#d74b3f,#da4e3c,#da4e3c,#d74b3f,#db503b,#da4e3c,#d34743,#d04545,#d04545,#cf4446,#b1325a,#952667,#932667,#932667,#932667,#972766,#a02a63,#bf3952,#b35,#952667,#a02a63,#fca50a,#fcac11,#f8850f,#f57b17,#fbb81d,#f7d13d,#fb9706,#d44842,#e25734,#ef6c23,#f37819,#f78410,#f8850f,#f67e14,#cc4248,#9b2964,#982766,#932667,#932667,#932667,#932667,#932667,#932667,#932667,#932667)"></div><div style="height:15.5px;background-image:linear-gradient(90deg,#932667,#932667,#932667,#932667,#932667,#932667,#932667,#932667,#932667,#932667,#932667,#932667,#932667,#932667,#932667,#932667,#932667,#932667,#932667,#932667,#932667,#932667,#932667,#932667,#932667,#932667,#ae305c,#fa9407,#fb9d07,#e35933,#952667,#88226a,#952667,#9f2a63,#ad305d,#bd3853,#c83f4b,#d04545,#e05536,#e9612b,#ea632a,#df5337,#b1325a,#952667,#932667,#972766,#a52c60,#b0315b,#ae305c,#b35,#bd3853,#b35,#d74b3f,#e45a31,#e75e2e,#e9612b,#ed6925,#ef6c23,#ec6726,#e75e2e,#de5238,#d34743,#ce4347,#ce4347,#c73e4c,#a02a63,#932667,#932667,#932667,#932667,#932667,#932667,#952667,#952667,#932667,#972766,#ef6c23,#fa9207,#f78410,#ef6c23,#fcb216,#f8cd37,#fcb418,#ed6925,#e8602d,#f1731d,#f57d15,#f98b0b,#fca80d,#f9c932,#fca50a,#e35933,#e8602d,#b3325a,#932667,#932667,#932667,#932667,#932667,#932667,#932667)"></div><div style="height:15.5px;background-image:linear-gradient(90deg,#932667,#932667,#932667,#932667,#932667,#932667,#932667,#932667,#932667,#932667,#932667,#932667,#932667,#932667,#932667,#932667,#932667,#932667,#932667,#932667,#932667,#932667,#932667,#932667,#932667,#932667,#ad305d,#fca108,#fca80d,#e75e2e,#902568,#801f6c,#85216b,#8a226a,#972766,#b0315b,#c43c4e,#d24644,#e05536,#e9612b,#eb6628,#e65d2f,#c13a50,#982766,#932667,#932667,#972766,#9a2865,#9b2964,#a02a63,#a32c61,#ae305c,#e15635,#eb6429,#ec6726,#ef6e21,#f2741c,#f2741c,#f1711f,#ea632a,#df5337,#d44842,#ce4347,#c83f4b,#b3325a,#972766,#932667,#932667,#932667,#932667,#932667,#932667,#932667,#932667,#932667,#932667,#bc3754,#f67e14,#f2741c,#e45a31,#f78212,#fbb81d,#fb9d07,#ed6925,#e8602d,#f06f20,#f57d15,#fa9008,#fac026,#f9cb35,#fcac11,#f98b0b,#fb9b06,#f37819,#972766,#932667,#932667,#932667,#932667,#932667,#932667)"></div><div style="height:15.5px;background-image:linear-gradient(90deg,#932667,#932667,#932667,#932667,#932667,#932667,#932667,#932667,#932667,#932667,#932667,#932667,#932667,#932667,#932667,#932667,#932667,#932667,#932667,#932667,#932667,#932667,#932667,#932667,#932667,#932667,#9f2a63,#f47918,#f47918,#ca404a,#982766,#801f6c,#7c1d6d,#7c1d6d,#82206c,#972766,#b35,#d04545,#df5337,#e75e2e,#eb6429,#e8602d,#ca404a,#9a2865,#932667,#932667,#932667,#932667,#952667,#952667,#952667,#a22b62,#dd513a,#ea632a,#eb6628,#ed6925,#ed6925,#ec6726,#ec6726,#e55c30,#dd513a,#d54a41,#ca404a,#b73557,#9b2964,#932667,#932667,#932667,#932667,#932667,#932667,#932667,#932667,#932667,#932667,#932667,#9d2964,#e45a31,#e9612b,#de5238,#e05536,#ed6925,#f8850f,#e15635,#df5337,#e15635,#f37819,#f98e09,#fbb61a,#fca80d,#fa9407,#fa9008,#fc9f07,#fa9008,#9b2964,#932667,#932667,#932667,#932667,#932667,#932667)"></div><div style="height:15.5px;background-image:linear-gradient(90deg,#932667,#932667,#932667,#932667,#932667,#932667,#932667,#932667,#932667,#932667,#932667,#932667,#932667,#932667,#932667,#932667,#932667,#932667,#932667,#932667,#932667,#932667,#932667,#932667,#932667,#932667,#952667,#ca404a,#e35933,#ca404a,#a22b62,#88226a,#7c1d6d,#751b6e,#741a6e,#7f1e6c,#a62d60,#cc4248,#db503b,#e45a31,#e8602d,#e65d2f,#ca404a,#9a2865,#932667,#932667,#932667,#932667,#932667,#932667,#932667,#972766,#c43c4e,#e55c30,#e8602d,#e65d2f,#df5337,#d94d3d,#db503b,#da4e3c,#d74b3f,#cf4446,#c03a51,#a22b62,#952667,#932667,#932667,#932667,#932667,#932667,#932667,#932667,#932667,#932667,#932667,#932667,#932667,#a52c60,#ca404a,#d34743,#db503b,#dd513a,#d74b3f,#ce4347,#c73e4c,#bd3853,#d84c3e,#df5337,#f57b17,#f1731d,#f2741c,#f8850f,#fb9b06,#f78410,#982766,#932667,#932667,#932667,#932667,#932667,#932667)"></div><div style="height:15.5px;background-image:linear-gradient(90deg,#952667,#932667,#932667,#932667,#932667,#932667,#932667,#932667,#932667,#932667,#932667,#932667,#932667,#932667,#932667,#932667,#932667,#932667,#932667,#932667,#932667,#932667,#932667,#932667,#932667,#932667,#932667,#c73e4c,#ee6a24,#de5238,#a62d60,#8f2469,#84206b,#781c6d,#71196e,#751b6e,#932667,#c13a50,#d74b3f,#df5337,#e35933,#e25734,#c13a50,#982766,#932667,#932667,#932667,#932667,#932667,#932667,#932667,#932667,#b43359,#db503b,#dd513a,#d54a41,#c63d4d,#bf3952,#bf3952,#c73e4c,#ca404a,#c33b4f,#ba3655,#b0315b,#a32c61,#972766,#932667,#932667,#932667,#932667,#932667,#932667,#932667,#932667,#932667,#932667,#932667,#932667,#972766,#ad305d,#d84c3e,#d84c3e,#c33b4f,#cb4149,#c13a50,#ba3655,#b0315b,#ae305c,#c43c4e,#c83f4b,#c43c4e,#e25734,#f1711f,#ca404a,#932667,#932667,#932667,#932667,#932667,#952667,#952667)"></div><div style="height:15.5px;background-image:linear-gradient(90deg,#b43359,#972766,#932667,#932667,#932667,#932667,#932667,#932667,#932667,#932667,#932667,#932667,#932667,#932667,#932667,#932667,#932667,#932667,#932667,#932667,#932667,#932667,#932667,#932667,#932667,#932667,#932667,#b43359,#ec6726,#db503b,#a52c60,#9b2964,#902568,#87216b,#7f1e6c,#7d1e6d,#87216b,#a92e5e,#cc4248,#d84c3e,#db503b,#d94d3d,#b43359,#952667,#932667,#932667,#932667,#932667,#932667,#932667,#932667,#932667,#b35,#d84c3e,#cc4248,#ab2f5e,#a52c60,#a52c60,#a02a63,#a32c61,#b73557,#bc3754,#bc3754,#c43c4e,#c03a51,#a52c60,#952667,#932667,#932667,#932667,#932667,#932667,#932667,#932667,#932667,#932667,#932667,#932667,#932667,#952667,#b73557,#bc3754,#b1325a,#c33b4f,#bc3754,#b35,#ae305c,#a92e5e,#a92e5e,#922568,#85216b,#902568,#9b2964,#952667,#932667,#932667,#932667,#932667,#982766,#b63458,#b43359)"></div><div style="height:15.5px;background-image:linear-gradient(90deg,#ca404a,#a82e5f,#932667,#932667,#932667,#932667,#932667,#932667,#932667,#932667,#932667,#932667,#932667,#932667,#932667,#932667,#932667,#932667,#932667,#932667,#932667,#932667,#932667,#932667,#932667,#932667,#932667,#982766,#c83f4b,#bd3853,#b73557,#bc3754,#ab2f5e,#a52c60,#9d2964,#8f2469,#84206b,#922568,#bc3754,#d04545,#d34743,#cf4446,#a82e5f,#952667,#932667,#932667,#932667,#932667,#932667,#932667,#932667,#932667,#ab2f5e,#cc4248,#b0315b,#8c2369,#8d2369,#902568,#8d2369,#8f2469,#a82e5f,#b35,#c33b4f,#cb4149,#c83f4b,#b35,#972766,#932667,#932667,#932667,#932667,#932667,#932667,#932667,#932667,#932667,#932667,#932667,#932667,#932667,#9a2865,#b43359,#c33b4f,#c13a50,#bc3754,#ba3655,#b43359,#b0315b,#ad305d,#922568,#84206b,#82206c,#8a226a,#952667,#932667,#9a2865,#a62d60,#982766,#b0315b,#ca404a,#ca404a)"></div><div style="height:15.5px;background-image:linear-gradient(90deg,#cb4149,#b43359,#932667,#932667,#932667,#932667,#932667,#932667,#932667,#932667,#932667,#932667,#932667,#932667,#932667,#932667,#932667,#932667,#932667,#932667,#932667,#932667,#932667,#932667,#932667,#932667,#932667,#932667,#972766,#ad305d,#ce4347,#d24644,#cc4248,#cc4248,#bf3952,#a32c61,#8a226a,#8a226a,#ae305c,#cb4149,#cf4446,#c73e4c,#9f2a63,#932667,#932667,#932667,#932667,#932667,#932667,#932667,#932667,#932667,#972766,#a62d60,#932667,#8c2369,#8c2369,#8c2369,#8d2369,#932667,#a32c61,#b35,#cf4446,#ce4347,#cb4149,#c13a50,#9a2865,#932667,#932667,#932667,#932667,#932667,#932667,#932667,#932667,#932667,#932667,#932667,#932667,#952667,#a62d60,#c43c4e,#ca404a,#ca404a,#c13a50,#bf3952,#c03a51,#bd3853,#b73557,#a22b62,#8f2469,#8c2369,#932667,#9a2865,#972766,#bd3853,#c83f4b,#bc3754,#bc3754,#cb4149,#cb4149)"></div><div style="height:15.5px;background-image:linear-gradient(90deg,#ca404a,#a92e5e,#932667,#932667,#932667,#932667,#932667,#932667,#932667,#932667,#932667,#932667,#932667,#932667,#932667,#932667,#932667,#932667,#932667,#932667,#932667,#932667,#932667,#932667,#932667,#932667,#932667,#932667,#932667,#ad305d,#ce4347,#d54a41,#e15635,#e55c30,#d74b3f,#ba3655,#a02a63,#9b2964,#ad305d,#c73e4c,#cb4149,#bc3754,#982766,#932667,#932667,#932667,#932667,#932667,#932667,#932667,#932667,#932667,#972766,#bd3853,#c33b4f,#a22b62,#9b2964,#9b2964,#a32c61,#ad305d,#b43359,#c33b4f,#d54a41,#d24644,#cb4149,#c13a50,#9a2865,#932667,#932667,#932667,#932667,#932667,#932667,#932667,#932667,#932667,#932667,#932667,#932667,#952667,#b3325a,#ca404a,#cc4248,#cb4149,#c83f4b,#c83f4b,#d24644,#ce4347,#c13a50,#b0315b,#9d2964,#972766,#9d2964,#a02a63,#9f2a63,#c83f4b,#cb4149,#c73e4c,#b3325a,#ca404a,#ca404a)"></div><div style="height:15.5px;background-image:linear-gradient(90deg,#b73557,#972766,#932667,#932667,#932667,#932667,#932667,#932667,#932667,#932667,#932667,#932667,#932667,#932667,#932667,#932667,#932667,#932667,#932667,#932667,#932667,#932667,#932667,#932667,#932667,#932667,#932667,#932667,#932667,#a32c61,#721a6e,#88226a,#e65d2f,#ed6925,#e55c30,#d24644,#c03a51,#b35,#ba3655,#c43c4e,#c33b4f,#a82e5f,#952667,#932667,#932667,#932667,#932667,#932667,#932667,#932667,#932667,#932667,#982766,#eb6429,#ef6e21,#b63458,#ab2f5e,#b0315b,#bc3754,#c33b4f,#c43c4e,#c83f4b,#d74b3f,#d34743,#ca404a,#ba3655,#972766,#932667,#932667,#932667,#932667,#932667,#932667,#932667,#932667,#932667,#932667,#932667,#932667,#972766,#b73557,#ca404a,#cc4248,#cc4248,#ce4347,#d54a41,#de5238,#d94d3d,#cb4149,#ba3655,#ab2f5e,#a32c61,#a32c61,#a62d60,#a82e5f,#c83f4b,#cb4149,#c73e4c,#9d2964,#ba3655,#b73557)"></div><div style="height:15.5px;background-image:linear-gradient(90deg,#952667,#932667,#932667,#932667,#932667,#932667,#932667,#932667,#932667,#932667,#932667,#932667,#932667,#932667,#932667,#932667,#932667,#932667,#932667,#932667,#932667,#932667,#932667,#932667,#932667,#932667,#932667,#932667,#952667,#a62d60,#741a6e,#8c2369,#de5238,#eb6628,#eb6429,#e05536,#d44842,#cc4248,#ca404a,#c33b4f,#ae305c,#982766,#932667,#932667,#932667,#932667,#932667,#932667,#932667,#932667,#932667,#932667,#982766,#da4e3c,#e45a31,#bc3754,#bc3754,#c33b4f,#cc4248,#d04545,#cb4149,#c33b4f,#d04545,#cc4248,#c13a50,#a62d60,#952667,#932667,#932667,#932667,#932667,#932667,#932667,#932667,#932667,#932667,#932667,#932667,#932667,#972766,#b73557,#ca404a,#cc4248,#cc4248,#cf4446,#de5238,#e55c30,#e25734,#d84c3e,#c43c4e,#b63458,#ad305d,#ab2f5e,#ae305c,#b0315b,#ba3655,#c73e4c,#b73557,#952667,#952667,#952667)"></div><div style="height:15.5px;background-image:linear-gradient(90deg,#952667,#932667,#932667,#932667,#932667,#932667,#932667,#932667,#932667,#932667,#932667,#932667,#932667,#932667,#932667,#932667,#932667,#932667,#932667,#932667,#932667,#932667,#932667,#932667,#932667,#932667,#932667,#932667,#952667,#b0315b,#bd3853,#c73e4c,#d84c3e,#e8602d,#ea632a,#e45a31,#de5238,#d84c3e,#d24644,#c03a51,#9b2964,#932667,#932667,#932667,#932667,#932667,#932667,#932667,#932667,#932667,#932667,#932667,#952667,#b0315b,#d74b3f,#e25734,#d34743,#d24644,#cc4248,#d54a41,#cc4248,#b1325a,#ab2f5e,#b0315b,#a52c60,#972766,#932667,#932667,#932667,#932667,#932667,#932667,#932667,#932667,#932667,#932667,#932667,#932667,#932667,#972766,#b73557,#ce4347,#d24644,#d04545,#d54a41,#e55c30,#eb6429,#ea632a,#e35933,#d04545,#c03a51,#b73557,#b43359,#b63458,#b43359,#a22b62,#a22b62,#982766,#972766,#982766,#952667)"></div><div style="height:15.5px;background-image:linear-gradient(90deg,#a62d60,#972766,#932667,#932667,#932667,#932667,#932667,#932667,#932667,#932667,#932667,#932667,#932667,#932667,#932667,#932667,#932667,#932667,#932667,#932667,#932667,#932667,#932667,#932667,#932667,#932667,#932667,#932667,#982766,#b35,#c13a50,#ce4347,#da4e3c,#e65d2f,#e75e2e,#e35933,#e05536,#dd513a,#d44842,#b63458,#972766,#932667,#932667,#932667,#932667,#932667,#932667,#932667,#932667,#932667,#932667,#932667,#932667,#b1325a,#f8890c,#fa9207,#ef6c23,#da4e3c,#ba3655,#cb4149,#c33b4f,#9b2964,#952667,#972766,#952667,#932667,#932667,#932667,#932667,#932667,#932667,#932667,#932667,#932667,#932667,#932667,#932667,#932667,#932667,#972766,#bf3952,#d84c3e,#da4e3c,#d94d3d,#de5238,#eb6429,#ee6a24,#ee6a24,#eb6429,#db503b,#ca404a,#c43c4e,#bd3853,#ba3655,#b43359,#9d2964,#952667,#9f2a63,#ae305c,#b3325a,#a62d60)"></div><div style="height:15.5px;background-image:linear-gradient(90deg,#c03a51,#a82e5f,#952667,#932667,#932667,#932667,#932667,#932667,#932667,#932667,#932667,#932667,#932667,#932667,#932667,#932667,#932667,#932667,#932667,#932667,#932667,#932667,#932667,#932667,#932667,#932667,#932667,#932667,#9b2964,#bc3754,#c03a51,#ce4347,#df5337,#e45a31,#e45a31,#e15635,#e05536,#dd513a,#ce4347,#a62d60,#952667,#932667,#932667,#932667,#932667,#932667,#932667,#932667,#932667,#932667,#932667,#932667,#932667,#a92e5e,#fa9008,#fc9f07,#fb9b06,#ef6e21,#c33b4f,#c13a50,#a22b62,#932667,#932667,#932667,#932667,#932667,#932667,#932667,#932667,#932667,#932667,#932667,#932667,#932667,#932667,#932667,#932667,#932667,#932667,#972766,#c43c4e,#dd513a,#df5337,#df5337,#e25734,#ed6925,#ef6c23,#ef6e21,#ed6925,#db503b,#cc4248,#ca404a,#c43c4e,#bc3754,#b0315b,#982766,#9b2964,#b73557,#c63d4d,#c73e4c,#c03a51)"></div><div style="height:15.5px;background-image:linear-gradient(90deg,#c83f4b,#ba3655,#982766,#932667,#932667,#932667,#932667,#932667,#932667,#932667,#932667,#932667,#932667,#932667,#932667,#932667,#932667,#932667,#932667,#932667,#932667,#932667,#932667,#932667,#932667,#932667,#932667,#932667,#9b2964,#bc3754,#c33b4f,#cf4446,#db503b,#e15635,#e15635,#df5337,#dd513a,#d44842,#ba3655,#9b2964,#932667,#932667,#932667,#932667,#932667,#932667,#932667,#932667,#932667,#932667,#932667,#932667,#932667,#982766,#e9612b,#fca309,#fcb014,#fa9207,#d44842,#ae305c,#952667,#932667,#932667,#932667,#932667,#932667,#932667,#932667,#932667,#932667,#932667,#932667,#932667,#932667,#932667,#932667,#932667,#932667,#932667,#972766,#bf3952,#dd513a,#e05536,#e05536,#e25734,#ec6726,#ef6c23,#ef6e21,#eb6429,#d54a41,#cc4248,#cb4149,#c83f4b,#bc3754,#a22b62,#972766,#ab2f5e,#c63d4d,#cb4149,#cb4149,#c83f4b)"></div><div style="height:15.5px;background-image:linear-gradient(90deg,#cb4149,#c03a51,#9b2964,#932667,#932667,#932667,#932667,#932667,#932667,#932667,#932667,#932667,#932667,#932667,#932667,#932667,#932667,#932667,#932667,#932667,#932667,#932667,#932667,#932667,#932667,#932667,#932667,#932667,#9a2865,#b73557,#c33b4f,#ca404a,#d04545,#d94d3d,#de5238,#dd513a,#d84c3e,#c03a51,#a22b62,#952667,#932667,#932667,#932667,#932667,#932667,#932667,#932667,#932667,#932667,#932667,#932667,#932667,#932667,#932667,#a02a63,#f3761b,#fca309,#f78212,#b3325a,#982766,#932667,#932667,#932667,#932667,#932667,#932667,#932667,#932667,#932667,#932667,#932667,#932667,#932667,#932667,#932667,#932667,#932667,#932667,#932667,#952667,#ad305d,#d54a41,#de5238,#de5238,#db503b,#e65d2f,#eb6628,#ec6726,#e05536,#cf4446,#cc4248,#cb4149,#c83f4b,#b1325a,#982766,#a52c60,#bf3952,#ca404a,#cb4149,#cc4248,#cb4149)"></div><div style="height:15.5px;background-image:linear-gradient(90deg,#ca404a,#bf3952,#9b2964,#932667,#932667,#932667,#932667,#932667,#932667,#932667,#932667,#932667,#932667,#932667,#932667,#932667,#932667,#932667,#932667,#932667,#932667,#932667,#932667,#932667,#932667,#932667,#932667,#932667,#9a2865,#a82e5f,#b43359,#bd3853,#c63d4d,#cf4446,#d84c3e,#d84c3e,#c63d4d,#a32c61,#972766,#932667,#932667,#932667,#932667,#932667,#932667,#932667,#932667,#932667,#932667,#932667,#932667,#932667,#932667,#932667,#932667,#a22b62,#c73e4c,#ad305d,#972766,#932667,#932667,#932667,#932667,#932667,#932667,#932667,#932667,#932667,#932667,#932667,#932667,#932667,#932667,#932667,#932667,#932667,#932667,#932667,#932667,#932667,#9a2865,#b35,#cf4446,#cf4446,#c03a51,#c63d4d,#d74b3f,#db503b,#d24644,#cc4248,#cc4248,#cc4248,#c73e4c,#a32c61,#9a2865,#b35,#c83f4b,#cb4149,#cb4149,#cb4149,#ca404a)"></div><div style="height:15.5px;background-image:linear-gradient(90deg,#c83f4b,#b63458,#972766,#932667,#932667,#932667,#932667,#932667,#932667,#932667,#932667,#932667,#932667,#932667,#932667,#932667,#932667,#932667,#932667,#932667,#932667,#932667,#932667,#932667,#932667,#932667,#932667,#932667,#982766,#9f2a63,#a52c60,#ad305d,#b73557,#c43c4e,#cf4446,#c83f4b,#a92e5e,#972766,#932667,#932667,#932667,#932667,#932667,#932667,#932667,#932667,#932667,#932667,#932667,#932667,#932667,#932667,#932667,#932667,#932667,#932667,#932667,#932667,#932667,#932667,#932667,#932667,#932667,#932667,#932667,#932667,#932667,#932667,#932667,#932667,#932667,#932667,#932667,#932667,#932667,#932667,#932667,#932667,#932667,#932667,#932667,#9a2865,#a52c60,#a52c60,#9b2964,#9d2964,#a92e5e,#b3325a,#ba3655,#c73e4c,#cb4149,#cc4248,#c73e4c,#9d2964,#a02a63,#c13a50,#cb4149,#cb4149,#cb4149,#cb4149,#c83f4b)"></div><div style="height:15.5px;background-image:linear-gradient(90deg,#c03a51,#a22b62,#952667,#932667,#932667,#932667,#932667,#932667,#932667,#932667,#932667,#932667,#932667,#932667,#932667,#932667,#932667,#932667,#932667,#932667,#932667,#932667,#932667,#932667,#932667,#932667,#932667,#932667,#972766,#9a2865,#9b2964,#a02a63,#a62d60,#b3325a,#bf3952,#b0315b,#9a2865,#932667,#932667,#932667,#932667,#932667,#932667,#932667,#932667,#932667,#932667,#932667,#932667,#932667,#932667,#932667,#932667,#932667,#932667,#932667,#932667,#932667,#932667,#932667,#932667,#932667,#932667,#932667,#932667,#932667,#932667,#932667,#932667,#932667,#932667,#932667,#932667,#932667,#932667,#932667,#932667,#932667,#932667,#932667,#932667,#932667,#932667,#932667,#932667,#932667,#952667,#982766,#9d2964,#b43359,#c83f4b,#ca404a,#bc3754,#972766,#a22b62,#c33b4f,#cb4149,#cc4248,#cb4149,#ca404a,#c03a51)"></div><div style="height:15.5px;background-image:linear-gradient(90deg,#b0315b,#972766,#932667,#932667,#932667,#932667,#932667,#932667,#932667,#932667,#932667,#932667,#932667,#932667,#932667,#932667,#932667,#932667,#932667,#932667,#932667,#932667,#932667,#932667,#932667,#932667,#932667,#932667,#952667,#972766,#972766,#982766,#9a2865,#a02a63,#a52c60,#9b2964,#952667,#932667,#932667,#932667,#932667,#932667,#932667,#932667,#932667,#932667,#932667,#932667,#932667,#932667,#932667,#932667,#932667,#932667,#932667,#932667,#932667,#932667,#932667,#932667,#932667,#932667,#932667,#932667,#932667,#932667,#932667,#932667,#932667,#932667,#932667,#932667,#932667,#932667,#922568,#922568,#922568,#922568,#922568,#922568,#922568,#922568,#922568,#922568,#922568,#922568,#932667,#932667,#932667,#972766,#a82e5f,#ae305c,#9a2865,#932667,#9d2964,#bf3952,#ca404a,#cb4149,#cb4149,#c63d4d,#b0315b)"></div><div style="height:15.5px;background-image:linear-gradient(90deg,#9f2a63,#952667,#932667,#932667,#932667,#932667,#932667,#932667,#932667,#932667,#932667,#932667,#932667,#932667,#932667,#932667,#932667,#932667,#932667,#932667,#932667,#932667,#932667,#932667,#932667,#932667,#932667,#932667,#932667,#932667,#932667,#922568,#922568,#952667,#972766,#952667,#932667,#932667,#932667,#932667,#932667,#932667,#932667,#932667,#932667,#932667,#932667,#932667,#932667,#932667,#932667,#952667,#952667,#952667,#952667,#952667,#952667,#952667,#952667,#952667,#952667,#952667,#932667,#932667,#932667,#932667,#932667,#922568,#922568,#922568,#922568,#922568,#922568,#922568,#922568,#922568,#922568,#922568,#902568,#902568,#902568,#902568,#902568,#902568,#902568,#922568,#922568,#922568,#922568,#922568,#932667,#932667,#932667,#932667,#972766,#ad305d,#c13a50,#c73e4c,#c63d4d,#b35,#9f2a63)"></div><div style="height:15.5px;background-image:linear-gradient(90deg,#972766,#952667,#952667,#932667,#932667,#932667,#932667,#932667,#932667,#932667,#932667,#932667,#932667,#932667,#952667,#952667,#952667,#952667,#952667,#952667,#952667,#952667,#952667,#932667,#932667,#932667,#932667,#932667,#932667,#922568,#8d2369,#88226a,#88226a,#8d2369,#932667,#932667,#932667,#932667,#932667,#932667,#932667,#932667,#932667,#932667,#932667,#952667,#952667,#952667,#972766,#972766,#972766,#982766,#982766,#982766,#982766,#982766,#982766,#982766,#982766,#982766,#972766,#972766,#952667,#952667,#932667,#932667,#932667,#932667,#932667,#922568,#922568,#922568,#922568,#902568,#902568,#902568,#922568,#932667,#932667,#922568,#902568,#8f2469,#8f2469,#8f2469,#8f2469,#902568,#902568,#922568,#922568,#932667,#932667,#932667,#932667,#932667,#932667,#982766,#a82e5f,#b1325a,#ae305c,#a02a63,#972766)"></div><div style="height:15.5px;background-image:linear-gradient(90deg,#952667,#952667,#952667,#952667,#952667,#952667,#952667,#952667,#952667,#952667,#952667,#952667,#972766,#982766,#982766,#9a2865,#9a2865,#9b2964,#9a2865,#9a2865,#982766,#982766,#972766,#972766,#972766,#952667,#952667,#952667,#952667,#902568,#88226a,#84206b,#84206b,#8c2369,#982766,#952667,#932667,#932667,#932667,#932667,#932667,#932667,#932667,#952667,#952667,#972766,#9a2865,#9d2964,#9f2a63,#a22b62,#a22b62,#a22b62,#a02a63,#9f2a63,#9d2964,#9d2964,#9d2964,#9d2964,#9d2964,#9b2964,#9a2865,#982766,#972766,#972766,#982766,#9a2865,#9b2964,#9b2964,#9a2865,#982766,#952667,#932667,#932667,#932667,#952667,#982766,#9f2a63,#a22b62,#a32c61,#9f2a63,#982766,#922568,#8f2469,#8d2369,#8f2469,#902568,#922568,#952667,#982766,#9a2865,#9a2865,#982766,#972766,#952667,#952667,#952667,#972766,#982766,#982766,#972766,#952667)"></div><div style="height:15.5px;background-image:linear-gradient(90deg,#972766,#972766,#972766,#972766,#982766,#982766,#982766,#9a2865,#9a2865,#9a2865,#9b2964,#9d2964,#9f2a63,#a22b62,#a62d60,#a92e5e,#ab2f5e,#ab2f5e,#a92e5e,#a62d60,#a52c60,#a22b62,#a02a63,#9f2a63,#9d2964,#9d2964,#9b2964,#9a2865,#9a2865,#982766,#8f2469,#8c2369,#982766,#bf3952,#c03a51,#ab2f5e,#9a2865,#952667,#932667,#932667,#952667,#952667,#972766,#982766,#9b2964,#a02a63,#a62d60,#ad305d,#b3325a,#b63458,#b63458,#b43359,#b0315b,#ab2f5e,#a62d60,#a52c60,#a32c61,#a32c61,#a32c61,#a22b62,#a02a63,#9d2964,#9b2964,#9d2964,#a32c61,#a92e5e,#ae305c,#ae305c,#ab2f5e,#a52c60,#a02a63,#9b2964,#9b2964,#9b2964,#a02a63,#a92e5e,#b43359,#bc3754,#bc3754,#b63458,#a92e5e,#9d2964,#952667,#922568,#922568,#952667,#9a2865,#a22b62,#a92e5e,#ad305d,#ad305d,#a82e5f,#a22b62,#9b2964,#9a2865,#982766,#982766,#982766,#982766,#972766,#972766)"></div><div style="height:15.5px;background-image:linear-gradient(90deg,#9a2865,#9a2865,#9a2865,#9a2865,#9b2964,#9d2964,#a02a63,#a22b62,#a32c61,#a52c60,#a82e5f,#ab2f5e,#b1325a,#b73557,#bf3952,#c33b4f,#c43c4e,#c43c4e,#c13a50,#bf3952,#ba3655,#b73557,#b73557,#b73557,#b63458,#b3325a,#b0315b,#ad305d,#ad305d,#b73557,#cf4446,#e15635,#eb6628,#ed6925,#e9612b,#d84c3e,#b3325a,#9a2865,#952667,#952667,#972766,#9a2865,#9d2964,#a02a63,#a62d60,#ae305c,#b73557,#bf3952,#c63d4d,#c83f4b,#c83f4b,#c63d4d,#c03a51,#b35,#b1325a,#ae305c,#ae305c,#b0315b,#b0315b,#ae305c,#a92e5e,#a32c61,#a22b62,#a62d60,#b1325a,#ba3655,#c03a51,#c13a50,#bd3853,#b63458,#ad305d,#a62d60,#a52c60,#a62d60,#ad305d,#b35,#c43c4e,#cc4248,#cc4248,#c73e4c,#bc3754,#ab2f5e,#a02a63,#9b2964,#9b2964,#9f2a63,#a82e5f,#b3325a,#bc3754,#c03a51,#c03a51,#ba3655,#b1325a,#a92e5e,#a52c60,#a32c61,#a22b62,#9f2a63,#9b2964,#9a2865,#9a2865)"></div><div style="height:15.5px;background-image:linear-gradient(90deg,#9b2964,#9b2964,#9b2964,#9f2a63,#a22b62,#a52c60,#a92e5e,#ae305c,#b3325a,#b63458,#b35,#bf3952,#c63d4d,#ce4347,#d34743,#d84c3e,#d94d3d,#d84c3e,#d54a41,#d34743,#d24644,#d34743,#d74b3f,#d94d3d,#d84c3e,#d54a41,#d34743,#d04545,#d04545,#da4e3c,#ea632a,#f1711f,#f3761b,#f37819,#f1731d,#eb6429,#ce4347,#a52c60,#982766,#982766,#9d2964,#a02a63,#a52c60,#ab2f5e,#b1325a,#b35,#c33b4f,#ca404a,#d04545,#d34743,#d34743,#d04545,#cb4149,#c33b4f,#bc3754,#b35,#ba3655,#bd3853,#bf3952,#bd3853,#b63458,#ae305c,#a92e5e,#b0315b,#bc3754,#c63d4d,#cb4149,#cb4149,#c73e4c,#c03a51,#b63458,#b0315b,#ad305d,#ae305c,#b43359,#c03a51,#cb4149,#d24644,#d34743,#cf4446,#c33b4f,#b43359,#ab2f5e,#a62d60,#a62d60,#a92e5e,#b3325a,#bf3952,#c73e4c,#cb4149,#cb4149,#c63d4d,#bf3952,#b63458,#b3325a,#b3325a,#b0315b,#a92e5e,#a32c61,#9f2a63,#9b2964)"></div><div style="height:15.5px;background-image:linear-gradient(90deg,#9f2a63,#9d2964,#9f2a63,#a22b62,#a62d60,#ae305c,#b43359,#ba3655,#bf3952,#c33b4f,#c73e4c,#cc4248,#d34743,#da4e3c,#df5337,#e25734,#e35933,#e25734,#e05536,#df5337,#e05536,#e55c30,#ea632a,#ec6726,#ed6925,#ec6726,#eb6429,#ea632a,#ea632a,#ec6726,#f1711f,#f37819,#f57b17,#f47918,#f3761b,#ec6726,#d24644,#a82e5f,#9a2865,#9d2964,#a22b62,#a62d60,#ad305d,#b1325a,#b73557,#bd3853,#c63d4d,#ce4347,#d34743,#d74b3f,#d74b3f,#d44842,#cf4446,#c83f4b,#c13a50,#c03a51,#c43c4e,#c83f4b,#ca404a,#c83f4b,#c13a50,#b73557,#b0315b,#b3325a,#bf3952,#c83f4b,#ce4347,#ce4347,#ca404a,#c33b4f,#b35,#b3325a,#b1325a,#b1325a,#b63458,#c03a51,#ca404a,#d04545,#d24644,#ce4347,#c33b4f,#b73557,#b0315b,#ae305c,#ae305c,#b1325a,#b73557,#c33b4f,#cb4149,#cf4446,#ce4347,#ca404a,#c33b4f,#bf3952,#bf3952,#bf3952,#bc3754,#b63458,#ad305d,#a32c61,#9f2a63)"></div><div style="height:15.5px;background-image:linear-gradient(90deg,#a02a63,#9f2a63,#a22b62,#a62d60,#ad305d,#b43359,#bc3754,#c33b4f,#c83f4b,#cc4248,#d04545,#d44842,#da4e3c,#e05536,#e45a31,#e65d2f,#e65d2f,#e65d2f,#e45a31,#e45a31,#e75e2e,#ec6726,#f1711f,#f37819,#f47918,#f47918,#f37819,#f37819,#f37819,#f3761b,#f37819,#f47918,#f57b17,#f37819,#f06f20,#e55c30,#c33b4f,#a22b62,#9b2964,#9f2a63,#a32c61,#a92e5e,#b0315b,#b3325a,#b73557,#bd3853,#c63d4d,#cc4248,#d34743,#d54a41,#d74b3f,#d44842,#d04545,#ca404a,#c43c4e,#c33b4f,#c83f4b,#cc4248,#cf4446,#ce4347,#c73e4c,#bd3853,#b3325a,#b3325a,#bc3754,#c63d4d,#ca404a,#cb4149,#c73e4c,#bf3952,#b73557,#b3325a,#b1325a,#b1325a,#b3325a,#b35,#c13a50,#c83f4b,#ca404a,#c63d4d,#bc3754,#b3325a,#b0315b,#b0315b,#b0315b,#b1325a,#b63458,#bf3952,#c73e4c,#cb4149,#cb4149,#c73e4c,#c33b4f,#c33b4f,#c43c4e,#c43c4e,#c13a50,#bc3754,#b1325a,#a82e5f,#a02a63)"></div><div style="height:15.5px;background-image:linear-gradient(90deg,#a22b62,#a02a63,#a32c61,#a92e5e,#b1325a,#ba3655,#c13a50,#c83f4b,#cc4248,#d04545,#d44842,#d84c3e,#dd513a,#e15635,#e55c30,#e75e2e,#e8602d,#e75e2e,#e65d2f,#e65d2f,#e9612b,#ee6a24,#f2741c,#f57b17,#f57d15,#f57d15,#f57d15,#f67e14,#f57d15,#f47918,#f3761b,#f2741c,#f1711f,#ee6a24,#e55c30,#ce4347,#ae305c,#9d2964,#9b2964,#9f2a63,#a32c61,#a92e5e,#b0315b,#b3325a,#b73557,#bc3754,#c13a50,#ca404a,#cf4446,#d34743,#d44842,#d24644,#ce4347,#c73e4c,#c13a50,#c13a50,#c73e4c,#cc4248,#ce4347,#cc4248,#c73e4c,#bc3754,#b0315b,#ad305d,#b1325a,#ba3655,#c03a51,#c03a51,#bd3853,#b73557,#b3325a,#b0315b,#b0315b,#ae305c,#ad305d,#ae305c,#b3325a,#b73557,#b35,#b43359,#ad305d,#a92e5e,#ab2f5e,#ad305d,#ad305d,#ad305d,#b0315b,#b63458,#bd3853,#c13a50,#c13a50,#bf3952,#bf3952,#c03a51,#c33b4f,#c43c4e,#c13a50,#bc3754,#b3325a,#a82e5f,#a22b62)"></div><div style="height:15.5px;background-image:linear-gradient(90deg,#a32c61,#a22b62,#a52c60,#ab2f5e,#b3325a,#bc3754,#c43c4e,#ca404a,#cf4446,#d24644,#d44842,#d84c3e,#dd513a,#e15635,#e55c30,#e75e2e,#e8602d,#e75e2e,#e55c30,#e55c30,#e75e2e,#eb6429,#ef6e21,#f1731d,#f3761b,#f3761b,#f3761b,#f3761b,#f2741c,#f06f20,#eb6628,#e8602d,#e35933,#d94d3d,#c73e4c,#b1325a,#a22b62,#9b2964,#9b2964,#9d2964,#a22b62,#a82e5f,#ae305c,#b1325a,#b43359,#b35,#bd3853,#c33b4f,#c83f4b,#cc4248,#ce4347,#cb4149,#c73e4c,#c13a50,#bc3754,#bc3754,#c03a51,#c63d4d,#c83f4b,#c73e4c,#c03a51,#b63458,#ab2f5e,#a52c60,#a52c60,#ab2f5e,#b0315b,#b0315b,#ae305c,#ab2f5e,#ab2f5e,#ab2f5e,#ab2f5e,#a92e5e,#a62d60,#a32c61,#a22b62,#a22b62,#a22b62,#9f2a63,#9b2964,#9d2964,#a22b62,#a52c60,#a52c60,#a32c61,#a52c60,#a82e5f,#ad305d,#b0315b,#b1325a,#b1325a,#b63458,#ba3655,#bf3952,#bf3952,#bc3754,#b73557,#b0315b,#a82e5f,#a32c61)"></div><div style="height:15.5px;background-image:linear-gradient(90deg,#a32c61,#a32c61,#a62d60,#ab2f5e,#b3325a,#bc3754,#c33b4f,#ca404a,#ce4347,#d24644,#d44842,#d74b3f,#da4e3c,#df5337,#e35933,#e55c30,#e65d2f,#e65d2f,#e45a31,#e25734,#e25734,#e45a31,#e8602d,#ea632a,#eb6429,#eb6429,#ea632a,#ea632a,#e9612b,#e45a31,#da4e3c,#ce4347,#c33b4f,#b73557,#ab2f5e,#a32c61,#9f2a63,#9b2964,#9a2865,#9b2964,#a02a63,#a52c60,#ab2f5e,#b0315b,#b3325a,#b43359,#b73557,#bc3754,#c03a51,#c33b4f,#c33b4f,#c13a50,#bd3853,#b35,#b3325a,#b3325a,#b63458,#ba3655,#bd3853,#bc3754,#b63458,#ad305d,#a32c61,#9d2964,#9b2964,#9d2964,#9f2a63,#a02a63,#a02a63,#a22b62,#a32c61,#a52c60,#a52c60,#a32c61,#a02a63,#9b2964,#972766,#932667,#902568,#8f2469,#8f2469,#922568,#952667,#982766,#9a2865,#9a2865,#982766,#9a2865,#9d2964,#a02a63,#a22b62,#a52c60,#ab2f5e,#b1325a,#b63458,#b73557,#b43359,#b1325a,#ab2f5e,#a62d60,#a32c61)"></div><div style="height:15.5px;background-image:linear-gradient(90deg,#a22b62,#a32c61,#a52c60,#ab2f5e,#b1325a,#b35,#c03a51,#c73e4c,#cb4149,#cf4446,#d04545,#d34743,#d74b3f,#db503b,#e05536,#e35933,#e45a31,#e35933,#e15635,#de5238,#db503b,#db503b,#db503b,#db503b,#da4e3c,#d94d3d,#d84c3e,#d74b3f,#d34743,#cc4248,#c13a50,#b63458,#ad305d,#a62d60,#a32c61,#a02a63,#9d2964,#9b2964,#9a2865,#9a2865,#9d2964,#a22b62,#a82e5f,#ab2f5e,#ae305c,#b0315b,#b1325a,#b3325a,#b43359,#b63458,#b63458,#b63458,#b3325a,#ae305c,#ab2f5e,#a92e5e,#ab2f5e,#ae305c,#b0315b,#ae305c,#ab2f5e,#a52c60,#9f2a63,#9a2865,#972766,#972766,#972766,#972766,#982766,#9a2865,#9d2964,#9f2a63,#9f2a63,#9d2964,#9a2865,#952667,#902568,#8d2369,#8a226a,#88226a,#88226a,#8a226a,#8d2369,#8f2469,#902568,#922568,#922568,#932667,#952667,#972766,#9a2865,#9d2964,#a32c61,#a92e5e,#ad305d,#ae305c,#ae305c,#ab2f5e,#a82e5f,#a52c60,#a22b62)"></div><div style="height:15.5px;background-image:linear-gradient(90deg,#a22b62,#a22b62,#a52c60,#a82e5f,#ae305c,#b43359,#bc3754,#c33b4f,#c73e4c,#ca404a,#cc4248,#ce4347,#d04545,#d54a41,#da4e3c,#de5238,#e05536,#df5337,#dd513a,#d84c3e,#d44842,#d24644,#cf4446,#cb4149,#c83f4b,#c43c4e,#c03a51,#bd3853,#ba3655,#b43359,#ae305c,#a82e5f,#a52c60,#a32c61,#a22b62,#a02a63,#9d2964,#9a2865,#982766,#982766,#9a2865,#9f2a63,#a32c61,#a62d60,#a92e5e,#ab2f5e,#ab2f5e,#ab2f5e,#ab2f5e,#ab2f5e,#ab2f5e,#a92e5e,#a82e5f,#a62d60,#a52c60,#a52c60,#a52c60,#a62d60,#a62d60,#a62d60,#a32c61,#a02a63,#9d2964,#982766,#972766,#952667,#932667,#952667,#952667,#972766,#982766,#9a2865,#982766,#982766,#952667,#922568,#8f2469,#8d2369,#8a226a,#88226a,#88226a,#88226a,#8a226a,#8c2369,#8d2369,#8f2469,#902568,#922568,#932667,#952667,#972766,#9a2865,#9f2a63,#a32c61,#a62d60,#a82e5f,#a82e5f,#a62d60,#a52c60,#a32c61,#a22b62)"></div><div style="height:15.5px;background-image:linear-gradient(90deg,#a22b62,#a22b62,#a32c61,#a62d60,#ab2f5e,#b0315b,#b63458,#bc3754,#c03a51,#c43c4e,#c63d4d,#c73e4c,#c83f4b,#cc4248,#d24644,#d74b3f,#d94d3d,#d84c3e,#d54a41,#d24644,#cc4248,#c83f4b,#c43c4e,#c03a51,#ba3655,#b63458,#b1325a,#ad305d,#a92e5e,#a62d60,#a32c61,#a22b62,#a22b62,#a22b62,#a02a63,#9f2a63,#9b2964,#9a2865,#982766,#972766,#982766,#9b2964,#9f2a63,#a22b62,#a52c60,#a52c60,#a52c60,#a52c60,#a32c61,#a32c61,#a32c61,#a32c61,#a22b62,#a22b62,#a22b62,#a22b62,#a22b62,#a32c61,#a32c61,#a32c61,#a22b62,#9f2a63,#9b2964,#982766,#972766,#952667,#932667,#932667,#952667,#952667,#972766,#972766,#972766,#952667,#932667,#922568,#902568,#8d2369,#8c2369,#8a226a,#8a226a,#8a226a,#8a226a,#8c2369,#8c2369,#8f2469,#902568,#922568,#932667,#952667,#972766,#9a2865,#9b2964,#9f2a63,#a22b62,#a32c61,#a32c61,#a32c61,#a22b62,#a22b62,#a22b62)"></div><div style="height:15.5px;background-image:linear-gradient(90deg,#a02a63,#a22b62,#a32c61,#a52c60,#a82e5f,#ab2f5e,#b0315b,#b63458,#b35,#bc3754,#bd3853,#bf3952,#c03a51,#c33b4f,#c73e4c,#cb4149,#ce4347,#ce4347,#cb4149,#c73e4c,#c33b4f,#bf3952,#ba3655,#b63458,#b1325a,#ad305d,#a82e5f,#a52c60,#a22b62,#a02a63,#9f2a63,#9f2a63,#9f2a63,#a02a63,#9f2a63,#9d2964,#9b2964,#982766,#972766,#972766,#972766,#982766,#9b2964,#9f2a63,#a02a63,#a02a63,#a02a63,#a02a63,#a02a63,#a02a63,#a02a63,#a02a63,#a02a63,#a02a63,#a02a63,#a02a63,#a22b62,#a22b62,#a22b62,#a22b62,#a02a63,#9f2a63,#9b2964,#9a2865,#972766,#952667,#952667,#952667,#952667,#972766,#972766,#972766,#972766,#952667,#952667,#932667,#922568,#902568,#8f2469,#8d2369,#8c2369,#8c2369,#8c2369,#8c2369,#8d2369,#8f2469,#902568,#932667,#952667,#972766,#982766,#9a2865,#9b2964,#9d2964,#9f2a63,#a02a63,#a22b62,#a22b62,#a02a63,#a02a63,#a02a63)"></div><div style="height:15.5px;background-image:linear-gradient(90deg,#a02a63,#a02a63,#a22b62,#a32c61,#a52c60,#a82e5f,#ab2f5e,#ae305c,#b1325a,#b3325a,#b43359,#b43359,#b63458,#b73557,#ba3655,#bd3853,#c03a51,#c03a51,#bf3952,#bc3754,#b35,#b63458,#b1325a,#ae305c,#ab2f5e,#a62d60,#a32c61,#a02a63,#9f2a63,#9f2a63,#9d2964,#9d2964,#9d2964,#9f2a63,#9d2964,#9b2964,#9a2865,#982766,#972766,#972766,#972766,#982766,#9a2865,#9b2964,#9d2964,#9f2a63,#9f2a63,#9f2a63,#9f2a63,#9f2a63,#9f2a63,#9f2a63,#9f2a63,#9f2a63,#9f2a63,#a02a63,#a02a63,#a02a63,#a02a63,#a02a63,#a02a63,#9f2a63,#9b2964,#9a2865,#972766,#972766,#952667,#972766,#972766,#972766,#972766,#972766,#972766,#972766,#952667,#952667,#932667,#922568,#902568,#902568,#8f2469,#8f2469,#8d2369,#8f2469,#8f2469,#902568,#922568,#932667,#952667,#972766,#982766,#9a2865,#9b2964,#9d2964,#9d2964,#9f2a63,#9f2a63,#9f2a63,#9f2a63,#9f2a63,#a02a63)"></div><div style="height:36.6px;background-image:linear-gradient(90deg,#9f2a63,#9f2a63,#a02a63,#a22b62,#a32c61,#a52c60,#a62d60,#a92e5e,#ad305d,#ae305c,#ae305c,#ae305c,#b0315b,#b0315b,#b1325a,#b43359,#b63458,#b63458,#b63458,#b3325a,#b1325a,#ae305c,#ab2f5e,#a92e5e,#a62d60,#a32c61,#a22b62,#9f2a63,#9d2964,#9d2964,#9d2964,#9d2964,#9d2964,#9d2964,#9d2964,#9b2964,#9a2865,#982766,#972766,#972766,#972766,#982766,#9a2865,#9b2964,#9d2964,#9d2964,#9d2964,#9d2964,#9d2964,#9d2964,#9d2964,#9d2964,#9f2a63,#9f2a63,#9f2a63,#9f2a63,#a02a63,#a02a63,#a02a63,#a02a63,#a02a63,#9f2a63,#9b2964,#9a2865,#982766,#972766,#972766,#972766,#972766,#982766,#982766,#982766,#982766,#972766,#972766,#952667,#952667,#932667,#922568,#922568,#902568,#902568,#902568,#902568,#902568,#922568,#932667,#952667,#972766,#982766,#982766,#9a2865,#9b2964,#9b2964,#9d2964,#9d2964,#9f2a63,#9f2a63,#9f2a63,#9f2a63,#9f2a63)"></div></div></div>
<div class="r" style="left:226.9px;top:1547.3px;width:1304.9px;height:648.4px"><div class="b" style="width:1364.9px;filter:blur(6px);background-size:1304.9px 100%"><div style="height:41.2px;background-image:linear-gradient(90deg,#f37819,#f37819,#f37819,#f37819,#f37819,#f37819,#f37819,#f37819,#f37819,#f37819,#f37819,#f37819,#f37819,#f47918,#f68013,#f8890c,#f98c0a,#f98c0a,#f98b0b,#f8850f,#f67e14,#f37819,#f1731d,#f06f20,#f06f20,#f06f20,#f06f20,#f06f20,#ee6a24,#de5238,#c43c4e,#bc3754,#bd3853,#c03a51,#c13a50,#c13a50,#c13a50,#bd3853,#b3325a,#ad305d,#ab2f5e,#ad305d,#b3325a,#ca404a,#ea632a,#ea632a,#c63d4d,#a52c60,#9a2865,#982766,#982766,#9a2865,#a52c60,#c43c4e,#e75e2e,#d94d3d,#c43c4e,#bf3952,#bd3853,#bd3853,#bd3853,#c03a51,#cb4149,#e55c30,#f1731d,#f3761b,#f3761b,#f3761b,#f3761b,#f3761b,#f3761b,#f3761b,#f3761b,#f3761b,#f3761b,#f37819,#f47918,#f57d15,#f8850f,#fa9207,#fb9906,#fb9906,#fb9606,#f98c0a,#f68013,#f47918,#f37819,#f37819,#f37819,#f37819,#f37819)"></div><div style="height:11.2px;background-image:linear-gradient(90deg,#f37819,#f37819,#f37819,#f37819,#f37819,#f37819,#f37819,#f37819,#f37819,#f37819,#f37819,#f37819,#f47918,#f57b17,#f78212,#f8890c,#f98c0a,#f98e09,#f98b0b,#f8870e,#f68013,#f57b17,#f3761b,#f1711f,#f06f20,#f06f20,#ef6e21,#ef6e21,#e9612b,#cc4248,#ba3655,#b63458,#b63458,#b35,#ba3655,#bc3754,#bc3754,#b73557,#ae305c,#a92e5e,#a82e5f,#a92e5e,#b0315b,#c43c4e,#e75e2e,#e45a31,#b73557,#9f2a63,#982766,#952667,#952667,#982766,#9f2a63,#b73557,#df5337,#d74b3f,#c43c4e,#bf3952,#bd3853,#bc3754,#bd3853,#bf3952,#c63d4d,#de5238,#ef6e21,#f1731d,#f1731d,#f2741c,#f3761b,#f3761b,#f3761b,#f3761b,#f3761b,#f3761b,#f47918,#f8850f,#fa9407,#fb9906,#fca108,#fca309,#fca50a,#fca50a,#fca309,#fc9f07,#fb9606,#f8870e,#f67e14,#f47918,#f37819,#f37819,#f37819)"></div><div style="height:11.2px;background-image:linear-gradient(90deg,#f06f20,#ef6e21,#f06f20,#f2741c,#f3761b,#f37819,#f37819,#f37819,#f37819,#f37819,#f37819,#f37819,#f57b17,#f57b17,#f67e14,#f78212,#f8870e,#f98b0b,#f8890c,#f78410,#f67e14,#f57b17,#f37819,#f2741c,#f06f20,#ef6c23,#ed6925,#ea632a,#e15635,#c73e4c,#b73557,#b3325a,#b0315b,#ad305d,#ad305d,#ad305d,#ad305d,#a62d60,#9d2964,#9a2865,#9b2964,#a02a63,#ae305c,#ce4347,#ec6726,#ea632a,#c43c4e,#a32c61,#9a2865,#972766,#972766,#9a2865,#a32c61,#b73557,#c63d4d,#cb4149,#c73e4c,#c03a51,#bd3853,#bc3754,#bd3853,#bf3952,#c63d4d,#de5238,#ec6726,#ee6a24,#ef6c23,#f1711f,#f1731d,#f2741c,#f2741c,#f2741c,#f2741c,#f37819,#f98b0b,#fcb216,#fac026,#fbbe23,#fcb418,#fcae12,#fcaa0f,#fca80d,#fca80d,#fca60c,#fca60c,#fca309,#fb9606,#f8850f,#f47918,#f1731d,#f06f20)"></div><div style="height:11.2px;background-image:linear-gradient(90deg,#e55c30,#e25734,#e45a31,#ec6726,#f2741c,#f37819,#f37819,#f37819,#f37819,#f37819,#f47918,#f57b17,#f57b17,#f57b17,#f57d15,#f57d15,#f68013,#f78410,#f78410,#f68013,#f67e14,#f57d15,#f47918,#f2741c,#ef6e21,#ea632a,#e25734,#dd513a,#d94d3d,#cc4248,#b43359,#a52c60,#9d2964,#9a2865,#9a2865,#9d2964,#9b2964,#932667,#8a226a,#85216b,#84206b,#85216b,#922568,#c43c4e,#ed6925,#f1711f,#e25734,#b35,#9d2964,#922568,#8f2469,#932667,#a02a63,#a62d60,#ab2f5e,#b43359,#c13a50,#c33b4f,#bf3952,#bd3853,#bd3853,#c13a50,#d44842,#e8602d,#ec6726,#ec6726,#ed6925,#ee6a24,#f06f20,#f1731d,#f2741c,#f2741c,#f2741c,#f68013,#fca80d,#fac62d,#f9cb35,#f8cd37,#f9c72f,#fbbe23,#fbb81d,#fcb216,#fcb014,#fcb216,#fcb418,#fcb216,#fca309,#f78410,#ef6e21,#eb6429,#e55c30)"></div><div style="height:11.2px;background-image:linear-gradient(90deg,#e25734,#df5337,#df5337,#e55c30,#ef6e21,#f3761b,#f37819,#f47918,#f47918,#f57b17,#f57d15,#f67e14,#f57d15,#f57b17,#f57b17,#f57b17,#f57d15,#f67e14,#f68013,#f68013,#f68013,#f68013,#f57b17,#f2741c,#ef6c23,#e8602d,#df5337,#d94d3d,#d84c3e,#d04545,#a62d60,#88226a,#84206b,#85216b,#8c2369,#922568,#932667,#8d2369,#84206b,#781c6d,#69166e,#59106e,#550f6d,#7a1d6d,#d54a41,#ee6a24,#db503b,#ab2f5e,#8f2469,#88226a,#88226a,#8f2469,#9b2964,#a22b62,#a62d60,#b1325a,#bf3952,#c63d4d,#c63d4d,#c33b4f,#c43c4e,#d54a41,#e8602d,#ec6726,#ec6726,#ec6726,#ec6726,#ed6925,#ef6e21,#f1731d,#f3761b,#f3761b,#f47918,#fa9008,#fbbc21,#f9cb35,#f8cf3a,#f6d543,#f4dd4f,#f5d949,#f8cf3a,#f9c932,#fac62d,#fac026,#fbbc21,#fcb418,#fb9906,#f37819,#ec6726,#e8602d,#e25734)"></div><div style="height:11.2px;background-image:linear-gradient(90deg,#e25734,#de5238,#de5238,#e05536,#e75e2e,#ef6c23,#f37819,#f57b17,#f57d15,#f67e14,#f68013,#f68013,#f67e14,#f57d15,#f57b17,#f57b17,#f57b17,#f57d15,#f68013,#f78410,#f8850f,#f78410,#f57d15,#f2741c,#f06f20,#eb6429,#e15635,#da4e3c,#d84c3e,#ce4347,#982766,#7d1e6d,#781c6d,#781c6d,#7c1d6d,#85216b,#902568,#8d2369,#721a6e,#4f0d6c,#380962,#2d0b59,#2f0a5b,#470b6a,#a02a63,#b3325a,#7c1d6d,#771c6d,#87216b,#8c2369,#8f2469,#9a2865,#a32c61,#a62d60,#a92e5e,#b63458,#c13a50,#c83f4b,#cb4149,#d04545,#de5238,#ea632a,#ee6a24,#ee6a24,#ed6925,#ed6925,#ed6925,#ef6c23,#f2741c,#f57b17,#f67e14,#f68013,#f78410,#fb9d07,#fac026,#f8cd37,#f7d340,#f4dd4f,#f2ea69,#f1ed71,#f2e865,#f4e156,#f6d543,#f9c72f,#fbbc21,#fcac11,#f98c0a,#f1731d,#ec6726,#e8602d,#e25734)"></div><div style="height:11.2px;background-image:linear-gradient(90deg,#e25734,#df5337,#de5238,#de5238,#df5337,#e55c30,#ef6c23,#ef6e21,#f06f20,#f57b17,#f68013,#f67e14,#f47918,#f1731d,#f47918,#f57b17,#f57b17,#f57d15,#f68013,#f8850f,#f8870e,#f8870e,#f78212,#f47918,#f06f20,#e75e2e,#de5238,#d94d3d,#d94d3d,#d24644,#9b2964,#7c1d6d,#6f196e,#69166e,#67166e,#6c186e,#7d1e6d,#8a226a,#520e6d,#2f0a5b,#260c51,#240c4f,#290b55,#400a67,#8c2369,#741a6e,#5d126e,#62146e,#781c6d,#8d2369,#9a2865,#a52c60,#a92e5e,#ad305d,#b3325a,#bf3952,#c73e4c,#cb4149,#d04545,#da4e3c,#e45a31,#eb6628,#ef6e21,#ef6e21,#ef6e21,#ef6c23,#ef6c23,#f1731d,#f67e14,#f8850f,#f8870e,#f8870e,#f98b0b,#fb9706,#fcb014,#fac42a,#f7d13d,#f4dd4f,#f2e865,#f1ed71,#f3e55d,#f5d949,#f9c932,#fbba1f,#fcae12,#fb9906,#f78410,#f2741c,#ed6925,#e9612b,#e25734)"></div><div style="height:11.2px;background-image:linear-gradient(90deg,#e45a31,#e05536,#df5337,#de5238,#dd513a,#d84c3e,#d54a41,#cb4149,#ce4347,#eb6429,#f57d15,#f06f20,#e05536,#d74b3f,#eb6429,#f37819,#f57b17,#f57d15,#f67e14,#f78410,#f8850f,#f8850f,#f8850f,#f67e14,#ea632a,#db503b,#d84c3e,#d84c3e,#d94d3d,#da4e3c,#cb4149,#88226a,#65156e,#5d126e,#5c126e,#5f136e,#6f196e,#932667,#5f136e,#360961,#2b0b57,#290b55,#340a5f,#540f6d,#741a6e,#64156e,#5c126e,#61136e,#771c6d,#8d2369,#982766,#a22b62,#a82e5f,#b0315b,#bf3952,#c63d4d,#c83f4b,#ce4347,#d74b3f,#df5337,#e45a31,#ea632a,#ee6a24,#f06f20,#f06f20,#ef6e21,#ef6c23,#f06f20,#f57d15,#f8850f,#f8870e,#f8870e,#f8890c,#f98e09,#fb9b06,#fcae12,#fac42a,#f7d13d,#f6d543,#fbbe23,#fca80d,#fca50a,#fc9f07,#fb9706,#f8890c,#f47918,#f37819,#f3761b,#f06f20,#eb6628,#e45a31)"></div><div style="height:11.2px;background-image:linear-gradient(90deg,#e8602d,#e45a31,#e05536,#de5238,#cf4446,#a32c61,#9a2865,#b3325a,#bc3754,#de5238,#ef6e21,#d74b3f,#c13a50,#c03a51,#d24644,#e75e2e,#f1731d,#f47918,#f37819,#f57b17,#f68013,#f68013,#f68013,#f47918,#ea632a,#db503b,#da4e3c,#db503b,#da4e3c,#d84c3e,#d74b3f,#c33b4f,#741a6e,#61136e,#5f136e,#64156e,#7c1d6d,#bd3853,#b3325a,#741a6e,#550f6d,#510e6c,#440a68,#340a5f,#340a5f,#3e0966,#57106e,#69166e,#7d1e6d,#8f2469,#972766,#9b2964,#a02a63,#ae305c,#c13a50,#c43c4e,#c73e4c,#d04545,#dd513a,#e25734,#e45a31,#e75e2e,#eb6628,#ef6c23,#ef6e21,#ee6a24,#ed6925,#ee6a24,#f1731d,#f68013,#f8850f,#f8870e,#f8870e,#f8890c,#f98e09,#fb9906,#fcac11,#fbba1f,#fcb014,#f98c0a,#f68013,#f78212,#f78410,#f37819,#e25734,#d94d3d,#e25734,#ee6a24,#f1711f,#ee6a24,#e8602d)"></div><div style="height:11.2px;background-image:linear-gradient(90deg,#e45a31,#e35933,#e15635,#de5238,#b73557,#8d2369,#88226a,#a22b62,#ce4347,#e35933,#df5337,#ba3655,#a52c60,#a02a63,#bd3853,#d04545,#e25734,#ef6c23,#ee6a24,#ef6e21,#f47918,#f67e14,#f57d15,#f37819,#f1731d,#e8602d,#e55c30,#e55c30,#df5337,#d84c3e,#d54a41,#cf4446,#b1325a,#801f6c,#7a1d6d,#8a226a,#b73557,#db503b,#e05536,#d74b3f,#c33b4f,#5c126e,#290b55,#240c4f,#280b53,#2f0a5b,#490b6a,#6c186e,#771c6d,#87216b,#8f2469,#952667,#9d2964,#ae305c,#c03a51,#c33b4f,#c73e4c,#d04545,#db503b,#e25734,#e35933,#e55c30,#e8602d,#eb6628,#ed6925,#ec6726,#eb6429,#eb6429,#ed6925,#f47918,#f78410,#f8850f,#f8850f,#f8870e,#f8890c,#f98e09,#fb9b06,#fca50a,#fca309,#f98b0b,#f37819,#f3761b,#f3761b,#e45a31,#ca404a,#c33b4f,#c73e4c,#d84c3e,#e8602d,#e75e2e,#e45a31)"></div><div style="height:11.2px;background-image:linear-gradient(90deg,#da4e3c,#da4e3c,#da4e3c,#da4e3c,#cc4248,#a52c60,#a32c61,#ca404a,#da4e3c,#da4e3c,#d34743,#932667,#781c6d,#7d1e6d,#a52c60,#c73e4c,#d74b3f,#ea632a,#ea632a,#eb6628,#f06f20,#f47918,#f37819,#f2741c,#f1711f,#ed6925,#eb6429,#e9612b,#e15635,#d84c3e,#cc4248,#b73557,#b0315b,#bc3754,#c73e4c,#cf4446,#d74b3f,#da4e3c,#da4e3c,#da4e3c,#ce4347,#520e6d,#260c51,#240c4f,#290b55,#340a5f,#4f0d6c,#69166e,#71196e,#7f1e6c,#87216b,#8f2469,#a02a63,#ad305d,#b73557,#c33b4f,#cb4149,#d04545,#d44842,#df5337,#e45a31,#e65d2f,#e75e2e,#e8602d,#ea632a,#ea632a,#e8602d,#e75e2e,#e9612b,#f3761b,#f8850f,#f8850f,#f8850f,#f8850f,#f8850f,#f98b0b,#fb9b06,#fca108,#fca108,#fa9008,#e9612b,#e25734,#e65d2f,#d24644,#c13a50,#bf3952,#c03a51,#c83f4b,#d84c3e,#db503b,#da4e3c)"></div><div style="height:11.2px;background-image:linear-gradient(90deg,#d04545,#d04545,#d04545,#d04545,#d04545,#cf4446,#cf4446,#d04545,#d04545,#d04545,#cc4248,#972766,#741a6e,#741a6e,#801f6c,#9a2865,#cb4149,#e05536,#e25734,#e35933,#e75e2e,#ec6726,#ec6726,#ea632a,#e55c30,#e35933,#e65d2f,#e05536,#d44842,#ce4347,#b35,#ab2f5e,#a92e5e,#b43359,#ce4347,#d04545,#d04545,#d04545,#d04545,#d04545,#cc4248,#7d1e6d,#340a5f,#2b0b57,#380962,#470b6a,#550f6d,#65156e,#6d186e,#7a1d6d,#84206b,#8d2369,#a52c60,#ab2f5e,#ae305c,#c03a51,#ce4347,#d04545,#d24644,#db503b,#e45a31,#e65d2f,#e75e2e,#e75e2e,#e65d2f,#e65d2f,#e75e2e,#e75e2e,#e9612b,#f57b17,#f8890c,#f8890c,#f8850f,#f78410,#f78410,#fa9207,#fb9b06,#fb9d07,#f98c0a,#f1731d,#e25734,#dd513a,#db503b,#cb4149,#c13a50,#c03a51,#c33b4f,#cb4149,#cf4446,#d04545,#d04545)"></div><div style="height:11.2px;background-image:linear-gradient(90deg,#c43c4e,#c43c4e,#c43c4e,#c43c4e,#c43c4e,#c43c4e,#c43c4e,#c43c4e,#c43c4e,#c43c4e,#c43c4e,#b35,#8f2469,#741a6e,#6d186e,#7a1d6d,#b35,#cc4248,#d84c3e,#d94d3d,#db503b,#e15635,#e05536,#d84c3e,#d24644,#ce4347,#d04545,#ce4347,#c73e4c,#c43c4e,#b1325a,#a92e5e,#a92e5e,#b63458,#c43c4e,#c43c4e,#c43c4e,#c43c4e,#c43c4e,#c43c4e,#c43c4e,#b63458,#5c126e,#470b6a,#510e6c,#520e6d,#57106e,#62146e,#67166e,#741a6e,#82206c,#88226a,#9d2964,#a82e5f,#a82e5f,#b1325a,#bc3754,#c83f4b,#cc4248,#d24644,#dd513a,#e25734,#e55c30,#e65d2f,#e15635,#e15635,#e65d2f,#e8602d,#eb6429,#f68013,#f98b0b,#f98b0b,#f8850f,#f68013,#f67e14,#fa9407,#fb9906,#fb9606,#f1731d,#eb6429,#d94d3d,#c63d4d,#c63d4d,#c43c4e,#c33b4f,#c33b4f,#c43c4e,#c43c4e,#c43c4e,#c43c4e,#c43c4e)"></div><div style="height:11.2px;background-image:linear-gradient(90deg,#b35,#b35,#b35,#b35,#b35,#b35,#b35,#b35,#b35,#b35,#b35,#b35,#b43359,#84206b,#751b6e,#9f2a63,#ba3655,#bf3952,#d04545,#d54a41,#d54a41,#de5238,#df5337,#d44842,#c83f4b,#c33b4f,#c83f4b,#cb4149,#c73e4c,#c33b4f,#b63458,#ad305d,#ae305c,#b73557,#b35,#b35,#b35,#b35,#b35,#b35,#b35,#a22b62,#420a68,#3e0966,#520e6d,#59106e,#5a116e,#62146e,#65156e,#6f196e,#82206c,#85216b,#8d2369,#902568,#8f2469,#a32c61,#a92e5e,#b1325a,#c33b4f,#c83f4b,#d24644,#d84c3e,#e05536,#e25734,#dd513a,#db503b,#e15635,#e45a31,#e8602d,#f3761b,#f78410,#f8870e,#f78212,#f57d15,#f2741c,#f78212,#fa9207,#f8890c,#ef6c23,#e75e2e,#c73e4c,#bc3754,#ba3655,#b35,#b35,#b35,#b35,#b35,#b35,#b35,#b35)"></div><div style="height:11.2px;background-image:linear-gradient(90deg,#ab2f5e,#ab2f5e,#ab2f5e,#ab2f5e,#ab2f5e,#ab2f5e,#ab2f5e,#ab2f5e,#ab2f5e,#ab2f5e,#ab2f5e,#ab2f5e,#ab2f5e,#9f2a63,#741a6e,#902568,#b73557,#b35,#bf3952,#c83f4b,#c73e4c,#d04545,#da4e3c,#d04545,#bf3952,#bc3754,#c33b4f,#ca404a,#c83f4b,#c03a51,#b0315b,#ab2f5e,#ab2f5e,#ab2f5e,#ab2f5e,#ab2f5e,#ab2f5e,#ab2f5e,#ab2f5e,#ab2f5e,#ab2f5e,#972766,#470b6a,#450a69,#57106e,#64156e,#751b6e,#6d186e,#67166e,#6f196e,#801f6c,#85216b,#87216b,#85216b,#85216b,#9b2964,#a92e5e,#b1325a,#c13a50,#c43c4e,#cc4248,#d04545,#d24644,#d84c3e,#d94d3d,#d84c3e,#d74b3f,#d24644,#cb4149,#d24644,#e45a31,#f3761b,#f3761b,#ef6e21,#e9612b,#e55c30,#e25734,#d94d3d,#d44842,#b35,#b1325a,#b73557,#b43359,#ad305d,#ab2f5e,#ab2f5e,#ab2f5e,#ab2f5e,#ab2f5e,#ab2f5e,#ab2f5e)"></div><div style="height:11.2px;background-image:linear-gradient(90deg,#9f2a63,#9f2a63,#9f2a63,#9f2a63,#9f2a63,#9f2a63,#9f2a63,#9f2a63,#9f2a63,#9f2a63,#9f2a63,#9f2a63,#9f2a63,#88226a,#5d126e,#6a176e,#ab2f5e,#b3325a,#b1325a,#b73557,#bd3853,#bf3952,#bf3952,#b43359,#b0315b,#b43359,#bc3754,#c43c4e,#c13a50,#ab2f5e,#9f2a63,#9f2a63,#9f2a63,#9f2a63,#9f2a63,#9f2a63,#9f2a63,#9f2a63,#9f2a63,#9f2a63,#9f2a63,#922568,#5c126e,#550f6d,#61136e,#7c1d6d,#8f2469,#8d2369,#84206b,#801f6c,#801f6c,#82206c,#85216b,#84206b,#84206b,#9b2964,#b43359,#b35,#bf3952,#c03a51,#c63d4d,#c43c4e,#bf3952,#c63d4d,#d34743,#d24644,#c73e4c,#b43359,#b0315b,#bc3754,#c13a50,#cb4149,#d34743,#db503b,#dd513a,#d94d3d,#ce4347,#cc4248,#c03a51,#a82e5f,#a82e5f,#a62d60,#a02a63,#9f2a63,#9f2a63,#9f2a63,#9f2a63,#9f2a63,#9f2a63,#9f2a63,#9f2a63)"></div><div style="height:11.2px;background-image:linear-gradient(90deg,#922568,#922568,#922568,#922568,#922568,#922568,#922568,#922568,#922568,#922568,#922568,#922568,#922568,#8a226a,#61136e,#6c186e,#a82e5f,#ab2f5e,#a82e5f,#a62d60,#b0315b,#ad305d,#9f2a63,#a22b62,#a62d60,#a62d60,#ad305d,#ad305d,#9d2964,#932667,#922568,#922568,#922568,#922568,#922568,#922568,#922568,#922568,#922568,#922568,#902568,#781c6d,#4f0d6c,#4d0d6c,#64156e,#8f2469,#932667,#932667,#922568,#8a226a,#7f1e6c,#7d1e6d,#85216b,#84206b,#84206b,#a02a63,#b73557,#b35,#ba3655,#ba3655,#b35,#b35,#b63458,#b0315b,#b63458,#bc3754,#ab2f5e,#9f2a63,#a32c61,#b43359,#b3325a,#a92e5e,#b73557,#c63d4d,#ce4347,#cb4149,#c83f4b,#cb4149,#ba3655,#a62d60,#a62d60,#a32c61,#932667,#922568,#922568,#922568,#922568,#922568,#922568,#922568,#922568)"></div><div style="height:11.2px;background-image:linear-gradient(90deg,#84206b,#84206b,#84206b,#84206b,#84206b,#84206b,#84206b,#84206b,#84206b,#84206b,#84206b,#84206b,#84206b,#84206b,#7c1d6d,#84206b,#7f1e6c,#801f6c,#82206c,#8c2369,#a22b62,#9f2a63,#952667,#972766,#8c2369,#85216b,#88226a,#85216b,#84206b,#84206b,#84206b,#84206b,#84206b,#84206b,#84206b,#84206b,#84206b,#84206b,#84206b,#84206b,#84206b,#69166e,#4d0d6c,#4c0c6b,#62146e,#952667,#972766,#952667,#922568,#8a226a,#801f6c,#7f1e6c,#87216b,#87216b,#87216b,#a32c61,#b3325a,#b1325a,#ad305d,#ae305c,#a22b62,#a92e5e,#a82e5f,#9b2964,#952667,#932667,#87216b,#8f2469,#972766,#a52c60,#9f2a63,#9f2a63,#ae305c,#b73557,#bd3853,#bd3853,#ba3655,#bc3754,#a32c61,#a22b62,#a22b62,#932667,#84206b,#84206b,#84206b,#84206b,#84206b,#84206b,#84206b,#84206b,#84206b)"></div><div style="height:11.2px;background-image:linear-gradient(90deg,#771c6d,#771c6d,#771c6d,#771c6d,#771c6d,#771c6d,#771c6d,#771c6d,#771c6d,#771c6d,#771c6d,#771c6d,#771c6d,#771c6d,#771c6d,#67166e,#5c126e,#5d126e,#65156e,#71196e,#8d2369,#972766,#902568,#82206c,#67166e,#5d126e,#4a0c6b,#450a69,#5a116e,#721a6e,#771c6d,#771c6d,#771c6d,#771c6d,#771c6d,#771c6d,#771c6d,#771c6d,#771c6d,#771c6d,#5f136e,#2f0a5b,#490b6a,#510e6c,#741a6e,#982766,#9a2865,#972766,#902568,#8a226a,#84206b,#82206c,#88226a,#8a226a,#922568,#a62d60,#a82e5f,#a02a63,#982766,#972766,#902568,#972766,#9a2865,#902568,#8d2369,#82206c,#71196e,#751b6e,#7d1e6d,#771c6d,#771c6d,#8c2369,#9b2964,#9b2964,#ae305c,#ae305c,#a52c60,#8c2369,#781c6d,#801f6c,#801f6c,#781c6d,#771c6d,#771c6d,#771c6d,#771c6d,#771c6d,#771c6d,#771c6d,#771c6d,#771c6d)"></div><div style="height:11.2px;background-image:linear-gradient(90deg,#69166e,#69166e,#69166e,#69166e,#69166e,#69166e,#69166e,#69166e,#69166e,#69166e,#69166e,#69166e,#69166e,#69166e,#69166e,#61136e,#59106e,#59106e,#62146e,#65156e,#69166e,#67166e,#550f6d,#380962,#470b6a,#360961,#1f0c48,#150b37,#190c3e,#470b6a,#67166e,#69166e,#69166e,#69166e,#69166e,#69166e,#69166e,#69166e,#69166e,#69166e,#340a5f,#240c4f,#3d0965,#57106e,#721a6e,#932667,#982766,#952667,#8d2369,#88226a,#87216b,#87216b,#88226a,#87216b,#902568,#a32c61,#a02a63,#9a2865,#8d2369,#82206c,#87216b,#8f2469,#87216b,#781c6d,#7a1d6d,#771c6d,#6a176e,#61136e,#5c126e,#510e6c,#5a116e,#6a176e,#7c1d6d,#82206c,#8f2469,#6d186e,#64156e,#64156e,#64156e,#67166e,#69166e,#69166e,#69166e,#69166e,#69166e,#69166e,#69166e,#69166e,#69166e,#69166e,#69166e)"></div><div style="height:11.2px;background-image:linear-gradient(90deg,#5c126e,#5c126e,#5c126e,#5c126e,#5c126e,#5c126e,#5c126e,#5c126e,#5c126e,#5c126e,#5c126e,#5c126e,#5c126e,#5c126e,#5c126e,#5a116e,#59106e,#5a116e,#61136e,#5a116e,#260c51,#150b37,#140b34,#120a32,#1b0c41,#1b0c41,#150b37,#0d0829,#0c0826,#1c0c43,#4f0d6c,#57106e,#5a116e,#5a116e,#5c126e,#5c126e,#5c126e,#5c126e,#5c126e,#5a116e,#340a5f,#2b0b57,#490b6a,#550f6d,#5a116e,#721a6e,#8c2369,#7d1e6d,#741a6e,#741a6e,#751b6e,#7d1e6d,#771c6d,#751b6e,#7d1e6d,#9a2865,#9a2865,#952667,#7d1e6d,#71196e,#771c6d,#801f6c,#69166e,#5d126e,#5f136e,#5f136e,#550f6d,#510e6c,#4f0d6c,#450a69,#4d0d6c,#5f136e,#64156e,#721a6e,#771c6d,#540f6d,#490b6a,#2b0b57,#400a67,#540f6d,#5a116e,#5c126e,#5c126e,#5c126e,#5c126e,#5c126e,#5c126e,#5c126e,#5c126e,#5c126e,#5c126e)"></div><div style="height:11.2px;background-image:linear-gradient(90deg,#4d0d6c,#4d0d6c,#4d0d6c,#4d0d6c,#4d0d6c,#4d0d6c,#4d0d6c,#4d0d6c,#4d0d6c,#4d0d6c,#4d0d6c,#4d0d6c,#4d0d6c,#4d0d6c,#4d0d6c,#4d0d6c,#4f0d6c,#510e6c,#550f6d,#2b0b57,#120a32,#110a30,#10092d,#0e092b,#110a30,#160b39,#120a32,#0b0724,#0b0724,#110a30,#280b53,#380962,#420a68,#490b6a,#4d0d6c,#4d0d6c,#4d0d6c,#4d0d6c,#4d0d6c,#4a0c6b,#290b55,#2d0b59,#450a69,#4f0d6c,#510e6c,#510e6c,#5c126e,#5f136e,#5d126e,#59106e,#550f6d,#5f136e,#62146e,#5d126e,#550f6d,#741a6e,#71196e,#71196e,#6f196e,#6a176e,#6c186e,#67166e,#59106e,#550f6d,#540f6d,#520e6d,#490b6a,#470b6a,#450a69,#3d0965,#340a5f,#490b6a,#4c0c6b,#540f6d,#3e0966,#0e092b,#0a0722,#0a0722,#160b39,#340a5f,#4a0c6b,#4d0d6c,#4d0d6c,#4d0d6c,#4d0d6c,#4d0d6c,#4d0d6c,#4d0d6c,#4d0d6c,#4d0d6c,#4d0d6c)"></div><div style="height:11.2px;background-image:linear-gradient(90deg,#400a67,#400a67,#400a67,#400a67,#400a67,#400a67,#400a67,#400a67,#400a67,#400a67,#400a67,#400a67,#400a67,#400a67,#400a67,#400a67,#400a67,#400a67,#3e0966,#1b0c41,#110a30,#110a30,#0e092b,#0b0724,#0b0724,#140b34,#10092d,#0b0724,#0a0722,#0a0722,#0c0826,#120a32,#1b0c41,#2b0b57,#390963,#3e0966,#400a67,#400a67,#400a67,#360961,#1b0c41,#190c3e,#210c4a,#340a5f,#400a67,#340a5f,#290b55,#450a69,#4a0c6b,#470b6a,#3e0966,#3b0964,#4d0d6c,#400a67,#280b53,#260c51,#3e0966,#400a67,#5a116e,#67166e,#65156e,#510e6c,#4f0d6c,#420a68,#380962,#3d0965,#420a68,#420a68,#3b0964,#290b55,#190c3e,#180c3c,#230c4c,#320a5e,#09061f,#050417,#040314,#040314,#07051b,#150b37,#320a5e,#3e0966,#400a67,#400a67,#400a67,#400a67,#400a67,#400a67,#400a67,#400a67,#400a67)"></div><div style="height:11.2px;background-image:linear-gradient(90deg,#310a5c,#310a5c,#310a5c,#310a5c,#310a5c,#310a5c,#310a5c,#310a5c,#310a5c,#310a5c,#310a5c,#310a5c,#310a5c,#310a5c,#310a5c,#310a5c,#310a5c,#310a5c,#310a5c,#1f0c48,#120a32,#110a30,#0b0724,#09061f,#09061f,#0e092b,#0d0829,#09061f,#060419,#040314,#040314,#050417,#07051b,#0d0829,#1f0c48,#2f0a5b,#310a5c,#310a5c,#310a5c,#260c51,#160b39,#140b34,#120a32,#110a30,#1f0c48,#1e0c45,#140b34,#160b39,#1b0c41,#240c4f,#230c4c,#1b0c41,#210c4a,#1c0c43,#120a32,#0c0826,#2b0b57,#290b55,#2f0a5b,#540f6d,#490b6a,#360961,#2f0a5b,#1c0c43,#1b0c41,#1c0c43,#280b53,#310a5c,#180c3c,#120a32,#110a30,#0e092b,#0c0826,#0a0722,#040314,#040312,#040312,#02020e,#030210,#08051d,#190c3e,#290b55,#2d0b59,#2f0a5b,#310a5c,#310a5c,#310a5c,#310a5c,#310a5c,#310a5c,#310a5c)"></div><div style="height:11.2px;background-image:linear-gradient(90deg,#230c4c,#230c4c,#230c4c,#230c4c,#230c4c,#230c4c,#230c4c,#230c4c,#230c4c,#230c4c,#230c4c,#230c4c,#230c4c,#230c4c,#230c4c,#230c4c,#230c4c,#230c4c,#230c4c,#210c4a,#190c3e,#150b37,#0b0724,#08051d,#09061f,#0b0724,#060419,#040314,#040312,#040312,#030210,#030210,#030210,#040314,#0c0826,#1b0c41,#210c4a,#210c4a,#230c4c,#1b0c41,#110a30,#0e092b,#0b0724,#07051b,#0c0826,#120a32,#0b0724,#07051b,#060419,#0c0826,#120a32,#0d0829,#0b0724,#0e092b,#0c0826,#08051d,#10092d,#160b39,#160b39,#260c51,#240c4f,#230c4c,#1f0c48,#180c3c,#160b39,#0e092b,#0c0826,#120a32,#050417,#040314,#07051b,#08051d,#08051d,#040312,#02020c,#02020e,#02020e,#02020c,#02020e,#030210,#08051d,#10092d,#150b37,#180c3c,#1c0c43,#210c4a,#230c4c,#230c4c,#230c4c,#230c4c,#230c4c)"></div><div style="height:11.2px;background-image:linear-gradient(90deg,#160b39,#160b39,#160b39,#160b39,#160b39,#160b39,#160b39,#160b39,#160b39,#160b39,#160b39,#160b39,#160b39,#160b39,#160b39,#160b39,#160b39,#160b39,#160b39,#150b37,#150b37,#150b37,#0e092b,#0a0722,#09061f,#050417,#030210,#030210,#030210,#030210,#030210,#02020e,#02020e,#02020e,#050417,#0c0826,#10092d,#140b34,#150b37,#110a30,#0a0722,#08051d,#060419,#050417,#07051b,#0a0722,#07051b,#050417,#040312,#040314,#08051d,#060419,#060419,#08051d,#08051d,#08051d,#0a0722,#0e092b,#0e092b,#140b34,#160b39,#160b39,#160b39,#160b39,#120a32,#07051b,#07051b,#07051b,#02020e,#02020c,#02020c,#02020e,#030210,#02010a,#010108,#02010a,#02010a,#02020c,#02010a,#02020c,#02020e,#040312,#050417,#07051b,#0b0724,#110a30,#150b37,#150b37,#150b37,#160b39,#160b39)"></div><div style="height:11.2px;background-image:linear-gradient(90deg,#0b0724,#0b0724,#0b0724,#0b0724,#0b0724,#0b0724,#0b0724,#0b0724,#0b0724,#0b0724,#0b0724,#0b0724,#0b0724,#0b0724,#0b0724,#0b0724,#0b0724,#0b0724,#0b0724,#0b0724,#0b0724,#0b0724,#0b0724,#09061f,#050417,#02020e,#02020e,#02020e,#030210,#030210,#02020e,#02020c,#02020c,#02020e,#040312,#060419,#07051b,#08051d,#0a0722,#0a0722,#07051b,#050417,#050417,#050417,#050417,#060419,#050417,#040314,#030210,#02020e,#030210,#040312,#040314,#050417,#060419,#07051b,#09061f,#0a0722,#0a0722,#0b0724,#0b0724,#0b0724,#0b0724,#0e092b,#0e092b,#060419,#060419,#030210,#02010a,#02010a,#02010a,#02010a,#02010a,#010108,#010108,#010108,#02010a,#02010a,#010108,#010108,#02010a,#02020c,#02020e,#02020e,#030210,#060419,#0a0722,#0b0724,#0b0724,#0b0724,#0b0724)"></div><div style="height:11.2px;background-image:linear-gradient(90deg,#040312,#040312,#040312,#040312,#040312,#040312,#040312,#040312,#040312,#040312,#040312,#040312,#040312,#040312,#040312,#040312,#040312,#040312,#040312,#040312,#040312,#040312,#040312,#030210,#02020e,#02020c,#02020c,#02020c,#02020e,#02020e,#02020e,#02020e,#02020c,#02020e,#040312,#040314,#040314,#040314,#040312,#040312,#040314,#040314,#050417,#050417,#050417,#050417,#040314,#040312,#02020e,#02020c,#02020c,#02020e,#040312,#040314,#050417,#050417,#08051d,#09061f,#08051d,#040312,#040312,#040312,#040312,#040312,#040314,#040314,#030210,#02010a,#010108,#010108,#010108,#010108,#010108,#010108,#010106,#010108,#010108,#010108,#010108,#010108,#02010a,#02010a,#02020c,#02020c,#02020c,#02020c,#030210,#040312,#040312,#040312,#040312)"></div><div style="height:11.2px;background-image:linear-gradient(90deg,#050417,#050417,#050417,#050417,#050417,#050417,#050417,#050417,#050417,#050417,#050417,#050417,#050417,#050417,#050417,#050417,#050417,#050417,#050417,#050417,#050417,#050417,#050417,#040314,#02020e,#02020c,#02020c,#02020c,#02020e,#02020e,#02020e,#02020e,#02020e,#030210,#040314,#050417,#050417,#050417,#050417,#050417,#050417,#050417,#050417,#050417,#050417,#040314,#040312,#030210,#02020e,#02020c,#02020c,#02020e,#040312,#040314,#050417,#050417,#060419,#07051b,#060419,#050417,#050417,#050417,#050417,#050417,#050417,#050417,#040314,#02020c,#010108,#010108,#010108,#010108,#010108,#010108,#010108,#010106,#010106,#010108,#010108,#010108,#02010a,#02020c,#02020c,#02020c,#02020c,#02020e,#040312,#050417,#050417,#050417,#050417)"></div><div style="height:11.2px;background-image:linear-gradient(90deg,#0e092b,#0e092b,#0e092b,#0e092b,#0e092b,#0e092b,#0e092b,#0e092b,#0e092b,#0e092b,#0e092b,#0e092b,#0e092b,#0e092b,#0e092b,#0e092b,#0e092b,#0e092b,#0e092b,#0e092b,#0e092b,#0e092b,#0d0829,#0b0724,#040314,#030210,#030210,#02020e,#02020e,#030210,#030210,#030210,#040312,#040314,#050417,#050417,#050417,#050417,#07051b,#0c0826,#0c0826,#0a0722,#08051d,#07051b,#07051b,#07051b,#040314,#030210,#030210,#030210,#02020e,#02020e,#040312,#040314,#050417,#050417,#050417,#07051b,#0b0724,#0d0829,#0e092b,#0e092b,#0e092b,#0e092b,#0e092b,#0d0829,#0c0826,#050417,#02010a,#010108,#010108,#02010a,#02010a,#02010a,#010108,#010108,#010108,#010108,#010108,#02010a,#02010a,#02020c,#02020c,#02020c,#02020c,#02020e,#07051b,#0d0829,#0d0829,#0e092b,#0e092b)"></div><div style="height:11.2px;background-image:linear-gradient(90deg,#190c3e,#190c3e,#190c3e,#190c3e,#190c3e,#190c3e,#190c3e,#190c3e,#190c3e,#190c3e,#190c3e,#190c3e,#190c3e,#190c3e,#190c3e,#190c3e,#190c3e,#190c3e,#190c3e,#190c3e,#190c3e,#190c3e,#190c3e,#150b37,#09061f,#050417,#050417,#040314,#030210,#030210,#040312,#040312,#040314,#050417,#050417,#050417,#050417,#060419,#09061f,#140b34,#180c3c,#160b39,#120a32,#110a30,#120a32,#110a30,#0b0724,#07051b,#08051d,#09061f,#060419,#050417,#08051d,#060419,#060419,#060419,#07051b,#0b0724,#150b37,#190c3e,#190c3e,#190c3e,#190c3e,#190c3e,#190c3e,#190c3e,#180c3c,#0d0829,#040312,#02020c,#02010a,#02010a,#02020c,#02010a,#02010a,#010108,#02010a,#02020c,#02020e,#02020e,#02020c,#02020e,#02020c,#02020c,#02020e,#040312,#0b0724,#160b39,#190c3e,#190c3e,#190c3e)"></div><div style="height:11.2px;background-image:linear-gradient(90deg,#240c4f,#260c51,#260c51,#260c51,#260c51,#260c51,#260c51,#260c51,#260c51,#260c51,#260c51,#260c51,#260c51,#260c51,#260c51,#260c51,#260c51,#260c51,#260c51,#260c51,#260c51,#260c51,#260c51,#240c4f,#110a30,#07051b,#07051b,#060419,#050417,#050417,#040314,#040314,#050417,#050417,#050417,#050417,#060419,#07051b,#0c0826,#1e0c45,#260c51,#260c51,#240c4f,#240c4f,#240c4f,#240c4f,#1e0c45,#120a32,#0e092b,#0e092b,#0d0829,#150b37,#1b0c41,#110a30,#0d0829,#0d0829,#0c0826,#160b39,#210c4a,#260c51,#260c51,#260c51,#260c51,#260c51,#260c51,#260c51,#260c51,#1f0c48,#0e092b,#050417,#02020e,#02020c,#02020c,#02020c,#02020c,#030210,#0a0722,#0d0829,#0d0829,#08051d,#050417,#050417,#030210,#02020e,#030210,#060419,#150b37,#240c4f,#260c51,#240c4f,#240c4f)"></div><div style="height:11.2px;background-image:linear-gradient(90deg,#0d0829,#310a5c,#360961,#360961,#360961,#360961,#360961,#360961,#360961,#360961,#360961,#360961,#360961,#360961,#360961,#360961,#360961,#360961,#360961,#360961,#360961,#360961,#360961,#340a5f,#240c4f,#0b0724,#08051d,#09061f,#10092d,#10092d,#09061f,#050417,#050417,#060419,#07051b,#060419,#060419,#09061f,#150b37,#2d0b59,#360961,#360961,#360961,#360961,#360961,#360961,#340a5f,#240c4f,#120a32,#110a30,#120a32,#230c4c,#260c51,#1e0c45,#150b37,#150b37,#190c3e,#1f0c48,#230c4c,#320a5e,#360961,#360961,#360961,#360961,#360961,#360961,#360961,#320a5e,#280b53,#140b34,#07051b,#040312,#02020e,#030210,#040314,#180c3c,#2b0b57,#240c4f,#180c3c,#150b37,#10092d,#0a0722,#060419,#040312,#050417,#0d0829,#260c51,#320a5e,#310a5c,#0d0829,#0d0829)"></div><div style="height:11.2px;background-image:linear-gradient(90deg,#09061f,#280b53,#440a68,#440a68,#440a68,#440a68,#440a68,#440a68,#440a68,#440a68,#440a68,#440a68,#440a68,#440a68,#440a68,#440a68,#440a68,#440a68,#440a68,#440a68,#440a68,#440a68,#440a68,#440a68,#3e0966,#1f0c48,#10092d,#140b34,#160b39,#160b39,#120a32,#08051d,#07051b,#09061f,#0b0724,#0a0722,#0a0722,#110a30,#290b55,#400a67,#440a68,#440a68,#440a68,#440a68,#440a68,#440a68,#440a68,#3b0964,#260c51,#230c4c,#290b55,#310a5c,#2d0b59,#280b53,#190c3e,#180c3c,#1e0c45,#1f0c48,#210c4a,#360961,#440a68,#440a68,#440a68,#440a68,#440a68,#440a68,#440a68,#440a68,#400a67,#320a5e,#180c3c,#09061f,#060419,#0a0722,#260c51,#450a69,#400a67,#390963,#290b55,#320a5e,#320a5e,#1f0c48,#180c3c,#0c0826,#0e092b,#230c4c,#190c3e,#1e0c45,#280b53,#09061f,#09061f)"></div><div style="height:11.2px;background-image:linear-gradient(90deg,#0a0722,#3b0964,#520e6d,#520e6d,#520e6d,#520e6d,#520e6d,#520e6d,#520e6d,#520e6d,#520e6d,#520e6d,#520e6d,#520e6d,#520e6d,#520e6d,#520e6d,#520e6d,#520e6d,#520e6d,#520e6d,#520e6d,#520e6d,#520e6d,#510e6c,#4c0c6b,#3e0966,#210c4a,#190c3e,#1c0c43,#290b55,#1e0c45,#0d0829,#0d0829,#0e092b,#0e092b,#150b37,#290b55,#450a69,#510e6c,#520e6d,#520e6d,#520e6d,#520e6d,#520e6d,#520e6d,#520e6d,#470b6a,#380962,#380962,#400a67,#470b6a,#380962,#2f0a5b,#210c4a,#1c0c43,#1f0c48,#1f0c48,#210c4a,#3d0965,#520e6d,#520e6d,#520e6d,#520e6d,#520e6d,#520e6d,#520e6d,#520e6d,#510e6c,#4d0d6c,#3d0965,#230c4c,#1c0c43,#3e0966,#5c126e,#5d126e,#540f6d,#520e6d,#5a116e,#59106e,#510e6c,#470b6a,#420a68,#380962,#340a5f,#280b53,#110a30,#120a32,#320a5e,#0a0722,#0a0722)"></div><div style="height:11.2px;background-image:linear-gradient(90deg,#2d0b59,#5d126e,#5f136e,#5f136e,#5f136e,#5f136e,#5f136e,#5f136e,#5f136e,#5f136e,#5f136e,#5f136e,#5f136e,#5f136e,#5f136e,#5f136e,#5f136e,#5f136e,#5f136e,#5f136e,#5f136e,#5f136e,#5f136e,#5f136e,#5f136e,#5f136e,#5c126e,#3e0966,#260c51,#310a5c,#3e0966,#3b0964,#280b53,#150b37,#110a30,#140b34,#320a5e,#510e6c,#5c126e,#5f136e,#5f136e,#5f136e,#5f136e,#5f136e,#5f136e,#5f136e,#5f136e,#4d0d6c,#210c4a,#2f0a5b,#450a69,#4f0d6c,#450a69,#360961,#310a5c,#2f0a5b,#230c4c,#210c4a,#280b53,#510e6c,#5f136e,#5f136e,#5f136e,#5f136e,#5f136e,#5f136e,#5f136e,#5f136e,#5f136e,#5f136e,#5a116e,#510e6c,#4d0d6c,#450a69,#550f6d,#67166e,#62146e,#67166e,#71196e,#6a176e,#57106e,#4d0d6c,#4a0c6b,#470b6a,#4f0d6c,#340a5f,#120a32,#140b34,#4d0d6c,#2d0b59,#2d0b59)"></div><div style="height:11.2px;background-image:linear-gradient(90deg,#6c186e,#6d186e,#6d186e,#6d186e,#6d186e,#6d186e,#6d186e,#6d186e,#6d186e,#6d186e,#6d186e,#6d186e,#6d186e,#6d186e,#6d186e,#6d186e,#6d186e,#6d186e,#6d186e,#6d186e,#6d186e,#6d186e,#6d186e,#6d186e,#6d186e,#6c186e,#5a116e,#4c0c6b,#490b6a,#420a68,#440a68,#400a67,#380962,#2d0b59,#1c0c43,#2b0b57,#5d126e,#6a176e,#6c186e,#6d186e,#6d186e,#6d186e,#6d186e,#6d186e,#6d186e,#6d186e,#6d186e,#5f136e,#230c4c,#2f0a5b,#4c0c6b,#520e6d,#4f0d6c,#380962,#540f6d,#5a116e,#380962,#310a5c,#490b6a,#69166e,#6d186e,#6d186e,#6d186e,#6d186e,#6d186e,#6d186e,#6d186e,#6d186e,#6d186e,#6d186e,#6c186e,#6a176e,#5c126e,#450a69,#540f6d,#69166e,#69166e,#6d186e,#721a6e,#71196e,#61136e,#510e6c,#4d0d6c,#3e0966,#420a68,#62146e,#280b53,#320a5e,#6a176e,#6c186e,#6c186e)"></div><div style="height:11.2px;background-image:linear-gradient(90deg,#741a6e,#7a1d6d,#7a1d6d,#7a1d6d,#7a1d6d,#7a1d6d,#7a1d6d,#7a1d6d,#7a1d6d,#7a1d6d,#7a1d6d,#7a1d6d,#7a1d6d,#7a1d6d,#7a1d6d,#7a1d6d,#7a1d6d,#7a1d6d,#7a1d6d,#7a1d6d,#7a1d6d,#7a1d6d,#7a1d6d,#7a1d6d,#7a1d6d,#781c6d,#540f6d,#4c0c6b,#4d0d6c,#520e6d,#4d0d6c,#470b6a,#3b0964,#380962,#400a67,#67166e,#781c6d,#7a1d6d,#7a1d6d,#7a1d6d,#7a1d6d,#7a1d6d,#7a1d6d,#7a1d6d,#7a1d6d,#7a1d6d,#7a1d6d,#771c6d,#57106e,#4d0d6c,#550f6d,#550f6d,#4a0c6b,#280b53,#5f136e,#781c6d,#71196e,#6c186e,#751b6e,#7a1d6d,#7a1d6d,#7a1d6d,#7a1d6d,#7a1d6d,#7a1d6d,#7a1d6d,#7a1d6d,#7a1d6d,#7a1d6d,#7a1d6d,#7a1d6d,#7a1d6d,#6d186e,#550f6d,#5a116e,#64156e,#65156e,#64156e,#6c186e,#6f196e,#6a176e,#5d126e,#59106e,#420a68,#440a68,#771c6d,#771c6d,#771c6d,#721a6e,#6d186e,#741a6e)"></div><div style="height:11.2px;background-image:linear-gradient(90deg,#59106e,#7a1d6d,#87216b,#88226a,#88226a,#88226a,#88226a,#88226a,#88226a,#88226a,#88226a,#88226a,#88226a,#88226a,#88226a,#88226a,#88226a,#88226a,#88226a,#88226a,#88226a,#88226a,#88226a,#88226a,#88226a,#85216b,#59106e,#4d0d6c,#540f6d,#64156e,#5a116e,#4f0d6c,#440a68,#3e0966,#5d126e,#85216b,#87216b,#88226a,#88226a,#88226a,#88226a,#88226a,#88226a,#88226a,#88226a,#88226a,#88226a,#87216b,#82206c,#64156e,#490b6a,#4d0d6c,#550f6d,#390963,#801f6c,#88226a,#87216b,#87216b,#87216b,#88226a,#88226a,#88226a,#88226a,#88226a,#88226a,#88226a,#88226a,#88226a,#88226a,#88226a,#88226a,#87216b,#771c6d,#510e6c,#4c0c6b,#540f6d,#5f136e,#5d126e,#67166e,#6d186e,#6a176e,#62146e,#62146e,#59106e,#5d126e,#87216b,#87216b,#721a6e,#540f6d,#4f0d6c,#59106e)"></div><div style="height:11.2px;background-image:linear-gradient(90deg,#490b6a,#67166e,#922568,#952667,#952667,#952667,#952667,#952667,#952667,#952667,#952667,#952667,#952667,#952667,#952667,#952667,#952667,#952667,#952667,#952667,#952667,#952667,#952667,#952667,#952667,#932667,#69166e,#5a116e,#65156e,#6a176e,#64156e,#59106e,#510e6c,#59106e,#87216b,#952667,#952667,#952667,#952667,#952667,#952667,#952667,#952667,#952667,#952667,#952667,#952667,#952667,#932667,#781c6d,#320a5e,#390963,#5f136e,#7c1d6d,#932667,#952667,#952667,#952667,#952667,#952667,#952667,#952667,#952667,#952667,#952667,#952667,#952667,#952667,#952667,#952667,#952667,#952667,#85216b,#4d0d6c,#470b6a,#4c0c6b,#5f136e,#5f136e,#69166e,#6d186e,#5a116e,#510e6c,#5d126e,#67166e,#7f1e6c,#932667,#88226a,#59106e,#470b6a,#450a69,#490b6a)"></div><div style="height:11.2px;background-image:linear-gradient(90deg,#450a69,#5d126e,#9b2964,#a22b62,#a22b62,#a22b62,#a22b62,#a22b62,#a22b62,#a22b62,#a22b62,#a22b62,#a22b62,#a22b62,#a22b62,#a22b62,#a22b62,#a22b62,#a22b62,#a22b62,#a22b62,#a22b62,#a22b62,#a22b62,#a22b62,#972766,#4a0c6b,#4a0c6b,#65156e,#6c186e,#6a176e,#67166e,#721a6e,#932667,#a22b62,#a22b62,#a22b62,#a22b62,#a22b62,#a22b62,#a22b62,#a22b62,#a22b62,#a22b62,#a22b62,#a22b62,#a22b62,#a22b62,#a22b62,#9d2964,#65156e,#62146e,#82206c,#9d2964,#a22b62,#a22b62,#a22b62,#a22b62,#a22b62,#a22b62,#a22b62,#a22b62,#a22b62,#a22b62,#a22b62,#a22b62,#a22b62,#a22b62,#a22b62,#a22b62,#a22b62,#a22b62,#9f2a63,#6a176e,#4f0d6c,#57106e,#7c1d6d,#781c6d,#7f1e6c,#7d1e6d,#4d0d6c,#450a69,#4c0c6b,#6c186e,#982766,#9a2865,#6d186e,#4f0d6c,#450a69,#440a68,#450a69)"></div><div style="height:11.2px;background-image:linear-gradient(90deg,#490b6a,#69166e,#a92e5e,#b0315b,#b0315b,#b0315b,#b0315b,#b0315b,#b0315b,#b0315b,#b0315b,#b0315b,#b0315b,#b0315b,#b0315b,#b0315b,#b0315b,#b0315b,#b0315b,#b0315b,#b0315b,#b0315b,#b0315b,#b0315b,#b0315b,#932667,#4a0c6b,#4a0c6b,#62146e,#6a176e,#6f196e,#85216b,#a82e5f,#ae305c,#b0315b,#b0315b,#b0315b,#b0315b,#b0315b,#b0315b,#b0315b,#b0315b,#b0315b,#b0315b,#b0315b,#b0315b,#b0315b,#b0315b,#b0315b,#b0315b,#ad305d,#a92e5e,#ad305d,#b0315b,#b0315b,#b0315b,#b0315b,#b0315b,#b0315b,#b0315b,#b0315b,#b0315b,#b0315b,#b0315b,#b0315b,#b0315b,#b0315b,#b0315b,#b0315b,#b0315b,#b0315b,#b0315b,#b0315b,#a82e5f,#952667,#9d2964,#ab2f5e,#ad305d,#ab2f5e,#a92e5e,#5a116e,#340a5f,#310a5c,#4f0d6c,#ab2f5e,#8a226a,#57106e,#4d0d6c,#490b6a,#450a69,#490b6a)"></div><div style="height:11.2px;background-image:linear-gradient(90deg,#57106e,#932667,#ba3655,#bc3754,#bc3754,#bc3754,#bc3754,#bc3754,#bc3754,#bc3754,#bc3754,#bc3754,#bc3754,#bc3754,#bc3754,#bc3754,#bc3754,#bc3754,#bc3754,#bc3754,#bc3754,#bc3754,#bc3754,#bc3754,#bc3754,#972766,#5f136e,#5c126e,#62146e,#65156e,#721a6e,#a82e5f,#bc3754,#bc3754,#bc3754,#bc3754,#bc3754,#bc3754,#bc3754,#bc3754,#bc3754,#bc3754,#bc3754,#bc3754,#bc3754,#bc3754,#bc3754,#bc3754,#bc3754,#bc3754,#bc3754,#bc3754,#bc3754,#bc3754,#bc3754,#bc3754,#bc3754,#bc3754,#bc3754,#bc3754,#bc3754,#bc3754,#bc3754,#bc3754,#bc3754,#bc3754,#bc3754,#bc3754,#bc3754,#bc3754,#bc3754,#bc3754,#bc3754,#bc3754,#bc3754,#bc3754,#bc3754,#bc3754,#bc3754,#bc3754,#7d1e6d,#340a5f,#310a5c,#5a116e,#b73557,#7f1e6c,#520e6d,#4c0c6b,#4c0c6b,#4c0c6b,#57106e)"></div><div style="height:11.2px;background-image:linear-gradient(90deg,#801f6c,#c03a51,#c83f4b,#c83f4b,#c83f4b,#c83f4b,#c83f4b,#c83f4b,#c83f4b,#c83f4b,#c83f4b,#c83f4b,#c83f4b,#c83f4b,#c83f4b,#c83f4b,#c83f4b,#c83f4b,#c83f4b,#c83f4b,#c83f4b,#c83f4b,#c83f4b,#c83f4b,#c63d4d,#8d2369,#59106e,#550f6d,#59106e,#62146e,#7d1e6d,#bf3952,#c83f4b,#c83f4b,#c83f4b,#c83f4b,#c83f4b,#c83f4b,#c83f4b,#c73e4c,#c73e4c,#c73e4c,#c73e4c,#c73e4c,#c73e4c,#c73e4c,#c73e4c,#c73e4c,#c73e4c,#c73e4c,#c73e4c,#c83f4b,#c83f4b,#c83f4b,#c83f4b,#c83f4b,#c83f4b,#c83f4b,#c83f4b,#c83f4b,#c83f4b,#c83f4b,#c83f4b,#c83f4b,#c83f4b,#c73e4c,#c73e4c,#c73e4c,#c73e4c,#c73e4c,#c73e4c,#c83f4b,#c83f4b,#c83f4b,#c83f4b,#c83f4b,#c83f4b,#c83f4b,#c83f4b,#c83f4b,#c03a51,#71196e,#62146e,#b43359,#c63d4d,#8f2469,#57106e,#4d0d6c,#4d0d6c,#540f6d,#801f6c)"></div><div style="height:11.2px;background-image:linear-gradient(90deg,#ba3655,#d24644,#d34743,#d34743,#d34743,#d34743,#d34743,#d34743,#d34743,#d34743,#d34743,#d34743,#d34743,#d34743,#d34743,#d34743,#d34743,#d34743,#d34743,#d34743,#d34743,#d34743,#d34743,#d34743,#d04545,#87216b,#4d0d6c,#490b6a,#490b6a,#550f6d,#982766,#d04545,#d34743,#d34743,#d34743,#d34743,#d24644,#d24644,#d24644,#d04545,#d04545,#cf4446,#cf4446,#ce4347,#ce4347,#ce4347,#ce4347,#cf4446,#cf4446,#d04545,#d04545,#d24644,#d24644,#d34743,#d34743,#d34743,#d34743,#d34743,#d34743,#d34743,#d34743,#d24644,#d24644,#d24644,#d24644,#d04545,#d04545,#d04545,#d04545,#d04545,#d04545,#d24644,#d24644,#d24644,#d34743,#d34743,#d34743,#d34743,#d34743,#d34743,#d34743,#d24644,#d24644,#d34743,#d34743,#bc3754,#721a6e,#59106e,#59106e,#721a6e,#ba3655)"></div><div style="height:11.2px;background-image:linear-gradient(90deg,#da4e3c,#dd513a,#dd513a,#dd513a,#dd513a,#dd513a,#de5238,#de5238,#de5238,#de5238,#de5238,#de5238,#de5238,#de5238,#de5238,#de5238,#dd513a,#dd513a,#dd513a,#dd513a,#dd513a,#dd513a,#dd513a,#dd513a,#db503b,#a92e5e,#520e6d,#3e0966,#360961,#3b0964,#972766,#db503b,#db503b,#db503b,#da4e3c,#da4e3c,#d94d3d,#d84c3e,#d74b3f,#d44842,#d34743,#d04545,#cf4446,#cc4248,#cc4248,#cb4149,#cc4248,#ce4347,#d04545,#d34743,#d54a41,#d84c3e,#d94d3d,#db503b,#db503b,#dd513a,#db503b,#db503b,#da4e3c,#da4e3c,#d94d3d,#d84c3e,#d84c3e,#d74b3f,#d54a41,#d44842,#d34743,#d34743,#d34743,#d34743,#d44842,#d54a41,#d74b3f,#d84c3e,#d94d3d,#da4e3c,#da4e3c,#db503b,#dd513a,#dd513a,#dd513a,#dd513a,#de5238,#de5238,#dd513a,#da4e3c,#c43c4e,#9f2a63,#9f2a63,#c43c4e,#da4e3c)"></div><div style="height:11.2px;background-image:linear-gradient(90deg,#e35933,#e35933,#e45a31,#e45a31,#e45a31,#e55c30,#e55c30,#e55c30,#e55c30,#e55c30,#e55c30,#e55c30,#e55c30,#e55c30,#e55c30,#e55c30,#e45a31,#e35933,#e25734,#e25734,#e15635,#e15635,#e25734,#e25734,#e35933,#dd513a,#88226a,#3e0966,#320a5e,#3e0966,#b3325a,#e25734,#e15635,#df5337,#dd513a,#da4e3c,#d74b3f,#d44842,#d24644,#ce4347,#ca404a,#c63d4d,#c33b4f,#c03a51,#bf3952,#bf3952,#bf3952,#c13a50,#c63d4d,#ca404a,#d04545,#d54a41,#db503b,#df5337,#e15635,#e15635,#e05536,#dd513a,#d94d3d,#d54a41,#d44842,#d34743,#d24644,#d24644,#d04545,#cf4446,#ce4347,#cc4248,#cc4248,#cc4248,#cc4248,#cf4446,#d34743,#d44842,#d54a41,#d54a41,#d94d3d,#dd513a,#df5337,#e05536,#e15635,#e35933,#e45a31,#e55c30,#e55c30,#e55c30,#e35933,#e15635,#e15635,#e25734,#e35933)"></div><div style="height:11.2px;background-image:linear-gradient(90deg,#e35933,#e35933,#e45a31,#e55c30,#e75e2e,#e8602d,#e8602d,#e8602d,#e8602d,#e75e2e,#e75e2e,#e8602d,#e9612b,#e9612b,#e9612b,#e8602d,#e45a31,#e05536,#dd513a,#d94d3d,#d74b3f,#d84c3e,#da4e3c,#de5238,#e15635,#e45a31,#db503b,#932667,#67166e,#8c2369,#c63d4d,#d84c3e,#dd513a,#da4e3c,#d44842,#cf4446,#ca404a,#c63d4d,#c13a50,#bd3853,#b35,#b43359,#b1325a,#ae305c,#ae305c,#ad305d,#ae305c,#b1325a,#b43359,#ba3655,#c13a50,#ca404a,#d24644,#d84c3e,#dd513a,#db503b,#d74b3f,#ce4347,#c33b4f,#b73557,#b43359,#b73557,#bd3853,#c13a50,#c13a50,#c03a51,#c03a51,#c03a51,#ba3655,#b0315b,#ab2f5e,#b1325a,#bc3754,#bd3853,#b3325a,#ab2f5e,#b3325a,#c13a50,#c73e4c,#bc3754,#b43359,#bd3853,#d34743,#e25734,#e45a31,#e35933,#e35933,#e35933,#e35933,#e35933,#e35933)"></div><div style="height:11.2px;background-image:linear-gradient(90deg,#d44842,#d54a41,#d84c3e,#da4e3c,#de5238,#df5337,#df5337,#de5238,#da4e3c,#d94d3d,#d94d3d,#da4e3c,#de5238,#e05536,#e15635,#dd513a,#d34743,#c83f4b,#bf3952,#b35,#b63458,#b73557,#bc3754,#c43c4e,#cc4248,#cc4248,#a92e5e,#781c6d,#62146e,#5f136e,#6c186e,#902568,#bd3853,#c83f4b,#c33b4f,#bc3754,#b73557,#b3325a,#ae305c,#ab2f5e,#a82e5f,#a62d60,#a32c61,#a22b62,#9f2a63,#9f2a63,#9f2a63,#a22b62,#a62d60,#ab2f5e,#ad305d,#a82e5f,#a22b62,#a32c61,#b3325a,#c13a50,#bf3952,#b0315b,#9a2865,#8c2369,#87216b,#8f2469,#9f2a63,#a82e5f,#a32c61,#a22b62,#a62d60,#ab2f5e,#9d2964,#8a226a,#82206c,#88226a,#9a2865,#9a2865,#88226a,#801f6c,#85216b,#952667,#952667,#7f1e6c,#741a6e,#771c6d,#8a226a,#ab2f5e,#ad305d,#a62d60,#ad305d,#bd3853,#cb4149,#d24644,#d44842)"></div><div style="height:11.2px;background-image:linear-gradient(90deg,#b63458,#b35,#ba3655,#bd3853,#c03a51,#c13a50,#c03a51,#bc3754,#b35,#b63458,#b63458,#b63458,#b73557,#bc3754,#bf3952,#ba3655,#b0315b,#a32c61,#9a2865,#922568,#8f2469,#922568,#982766,#a22b62,#a92e5e,#9d2964,#71196e,#550f6d,#4c0c6b,#4a0c6b,#4f0d6c,#61136e,#902568,#ae305c,#ae305c,#a92e5e,#a62d60,#a32c61,#a02a63,#9d2964,#9b2964,#9b2964,#982766,#922568,#8c2369,#88226a,#8c2369,#932667,#9a2865,#9b2964,#922568,#7d1e6d,#71196e,#6f196e,#7a1d6d,#952667,#a62d60,#9a2865,#85216b,#781c6d,#751b6e,#7c1d6d,#8a226a,#902568,#88226a,#85216b,#8c2369,#952667,#8c2369,#7a1d6d,#751b6e,#7a1d6d,#8c2369,#8c2369,#7d1e6d,#771c6d,#7a1d6d,#87216b,#82206c,#6f196e,#67166e,#67166e,#6f196e,#7c1d6d,#781c6d,#771c6d,#7c1d6d,#88226a,#9d2964,#ae305c,#b63458)"></div><div style="height:11.2px;background-image:linear-gradient(90deg,#9f2a63,#a22b62,#a22b62,#a52c60,#a62d60,#a82e5f,#a62d60,#a52c60,#a22b62,#a02a63,#9d2964,#972766,#902568,#902568,#952667,#9b2964,#982766,#8d2369,#82206c,#7a1d6d,#781c6d,#7c1d6d,#84206b,#8d2369,#932667,#84206b,#65156e,#540f6d,#4c0c6b,#4a0c6b,#4d0d6c,#5c126e,#85216b,#a22b62,#a22b62,#9f2a63,#9d2964,#9a2865,#932667,#8f2469,#8c2369,#8f2469,#8f2469,#85216b,#7c1d6d,#781c6d,#7c1d6d,#85216b,#902568,#932667,#82206c,#6d186e,#65156e,#64156e,#6a176e,#801f6c,#9b2964,#972766,#85216b,#781c6d,#771c6d,#7c1d6d,#88226a,#8c2369,#82206c,#7f1e6c,#85216b,#922568,#902568,#82206c,#7c1d6d,#82206c,#932667,#952667,#87216b,#801f6c,#85216b,#902568,#88226a,#721a6e,#69166e,#69166e,#721a6e,#771c6d,#721a6e,#71196e,#751b6e,#7f1e6c,#8d2369,#9a2865,#9f2a63)"></div><div style="height:11.2px;background-image:linear-gradient(90deg,#922568,#922568,#902568,#932667,#972766,#982766,#9a2865,#9a2865,#9a2865,#972766,#902568,#85216b,#7c1d6d,#781c6d,#7d1e6d,#88226a,#8c2369,#84206b,#781c6d,#721a6e,#6f196e,#721a6e,#7a1d6d,#85216b,#8a226a,#7c1d6d,#67166e,#5c126e,#57106e,#540f6d,#57106e,#6c186e,#902568,#9d2964,#9b2964,#9a2865,#982766,#922568,#88226a,#801f6c,#7f1e6c,#82206c,#87216b,#84206b,#7a1d6d,#771c6d,#7a1d6d,#84206b,#8f2469,#922568,#84206b,#71196e,#67166e,#65156e,#6c186e,#84206b,#9b2964,#9d2964,#922568,#88226a,#87216b,#8c2369,#952667,#952667,#8d2369,#8a226a,#902568,#9d2964,#a22b62,#9b2964,#972766,#9d2964,#a92e5e,#ab2f5e,#a32c61,#9d2964,#a22b62,#a92e5e,#a22b62,#8a226a,#7d1e6d,#7d1e6d,#85216b,#801f6c,#781c6d,#781c6d,#7c1d6d,#84206b,#8d2369,#922568,#922568)"></div><div style="height:11.2px;background-image:linear-gradient(90deg,#8a226a,#87216b,#85216b,#88226a,#8c2369,#902568,#932667,#952667,#952667,#932667,#8c2369,#801f6c,#771c6d,#741a6e,#771c6d,#82206c,#88226a,#84206b,#7c1d6d,#741a6e,#721a6e,#751b6e,#7d1e6d,#87216b,#8a226a,#801f6c,#6f196e,#64156e,#61136e,#62146e,#6d186e,#88226a,#9a2865,#9a2865,#982766,#982766,#952667,#902568,#87216b,#7f1e6c,#7c1d6d,#801f6c,#88226a,#8a226a,#85216b,#82206c,#85216b,#8c2369,#932667,#952667,#902568,#801f6c,#741a6e,#721a6e,#7c1d6d,#932667,#a22b62,#a22b62,#9f2a63,#9b2964,#9b2964,#9f2a63,#a22b62,#a32c61,#a02a63,#a02a63,#a52c60,#ab2f5e,#ae305c,#ae305c,#ae305c,#b1325a,#b43359,#b63458,#b63458,#b63458,#b63458,#b73557,#b43359,#a92e5e,#a02a63,#9d2964,#9a2865,#922568,#8a226a,#87216b,#8a226a,#8d2369,#8f2469,#8d2369,#8a226a)"></div><div style="height:11.2px;background-image:linear-gradient(90deg,#85216b,#801f6c,#801f6c,#82206c,#87216b,#8c2369,#902568,#932667,#932667,#932667,#8f2469,#87216b,#7d1e6d,#7a1d6d,#7d1e6d,#85216b,#8a226a,#88226a,#84206b,#7f1e6c,#7f1e6c,#801f6c,#85216b,#8a226a,#8d2369,#8a226a,#801f6c,#751b6e,#721a6e,#771c6d,#88226a,#982766,#9a2865,#982766,#982766,#972766,#952667,#932667,#8d2369,#87216b,#85216b,#88226a,#8f2469,#922568,#922568,#922568,#922568,#932667,#972766,#972766,#972766,#952667,#922568,#922568,#9a2865,#a22b62,#a52c60,#a32c61,#a32c61,#a22b62,#a32c61,#a52c60,#a62d60,#a82e5f,#a92e5e,#ab2f5e,#ad305d,#ae305c,#ae305c,#b0315b,#b0315b,#b3325a,#b43359,#b73557,#b35,#b35,#b35,#b35,#b63458,#b0315b,#a92e5e,#a52c60,#a02a63,#9b2964,#972766,#932667,#922568,#922568,#8f2469,#8a226a,#85216b)"></div><div style="height:11.2px;background-image:linear-gradient(90deg,#84206b,#801f6c,#7f1e6c,#801f6c,#84206b,#88226a,#8d2369,#922568,#932667,#932667,#932667,#902568,#8c2369,#8a226a,#8c2369,#8d2369,#8d2369,#8c2369,#8a226a,#88226a,#88226a,#8a226a,#8c2369,#8d2369,#902568,#922568,#902568,#8f2469,#8f2469,#932667,#9a2865,#9b2964,#9a2865,#982766,#972766,#972766,#952667,#952667,#932667,#922568,#922568,#922568,#952667,#952667,#952667,#952667,#972766,#972766,#972766,#982766,#982766,#9a2865,#9b2964,#a02a63,#a52c60,#a62d60,#a62d60,#a52c60,#a32c61,#a32c61,#a52c60,#a52c60,#a82e5f,#a92e5e,#ab2f5e,#ab2f5e,#ad305d,#ad305d,#ad305d,#ad305d,#ae305c,#b0315b,#b3325a,#b43359,#b73557,#b35,#b35,#b73557,#b3325a,#ad305d,#a62d60,#a32c61,#a02a63,#9f2a63,#9b2964,#982766,#972766,#932667,#902568,#8a226a,#84206b)"></div><div style="height:11.2px;background-image:linear-gradient(90deg,#87216b,#84206b,#82206c,#82206c,#84206b,#88226a,#8c2369,#902568,#922568,#932667,#952667,#952667,#932667,#932667,#932667,#932667,#902568,#8d2369,#8d2369,#8d2369,#8d2369,#8d2369,#8f2469,#902568,#922568,#932667,#952667,#972766,#982766,#9b2964,#9b2964,#9b2964,#9a2865,#982766,#972766,#972766,#972766,#952667,#952667,#952667,#952667,#952667,#972766,#972766,#972766,#972766,#972766,#972766,#972766,#982766,#982766,#9a2865,#9d2964,#a22b62,#a62d60,#a92e5e,#a92e5e,#a82e5f,#a62d60,#a62d60,#a62d60,#a62d60,#a82e5f,#a92e5e,#a92e5e,#a92e5e,#a92e5e,#a92e5e,#ab2f5e,#ab2f5e,#ab2f5e,#ad305d,#ae305c,#b1325a,#b43359,#b63458,#b73557,#b43359,#b0315b,#a92e5e,#a52c60,#a22b62,#a02a63,#9f2a63,#9d2964,#9b2964,#982766,#972766,#922568,#8c2369,#87216b)"></div><div style="height:11.2px;background-image:linear-gradient(90deg,#8a226a,#87216b,#85216b,#85216b,#85216b,#88226a,#8c2369,#8f2469,#922568,#932667,#952667,#952667,#972766,#972766,#972766,#972766,#932667,#902568,#902568,#902568,#902568,#902568,#922568,#922568,#932667,#952667,#952667,#972766,#9a2865,#9b2964,#9b2964,#9b2964,#9a2865,#982766,#972766,#972766,#972766,#972766,#972766,#972766,#972766,#972766,#972766,#972766,#972766,#972766,#972766,#972766,#982766,#982766,#9a2865,#9b2964,#9d2964,#a32c61,#a92e5e,#b0315b,#b0315b,#ad305d,#ab2f5e,#a92e5e,#a82e5f,#a82e5f,#a82e5f,#a82e5f,#a82e5f,#a82e5f,#a82e5f,#a82e5f,#a82e5f,#a82e5f,#a92e5e,#a92e5e,#ab2f5e,#ae305c,#b1325a,#b43359,#b43359,#b3325a,#ad305d,#a82e5f,#a32c61,#a22b62,#a02a63,#9f2a63,#9d2964,#9b2964,#9a2865,#972766,#932667,#8f2469,#8a226a)"></div><div style="height:39.6px;background-image:linear-gradient(90deg,#8f2469,#8c2369,#88226a,#87216b,#88226a,#88226a,#8c2369,#8f2469,#922568,#932667,#952667,#972766,#982766,#9a2865,#9a2865,#9a2865,#972766,#952667,#932667,#922568,#922568,#932667,#932667,#932667,#952667,#952667,#972766,#982766,#9a2865,#9b2964,#9d2964,#9d2964,#9b2964,#9a2865,#982766,#972766,#972766,#972766,#972766,#972766,#972766,#972766,#972766,#972766,#982766,#982766,#982766,#982766,#982766,#9a2865,#9a2865,#9b2964,#9f2a63,#a52c60,#ad305d,#b63458,#b35,#b63458,#b1325a,#ae305c,#ab2f5e,#a92e5e,#a82e5f,#a82e5f,#a82e5f,#a62d60,#a62d60,#a62d60,#a62d60,#a62d60,#a82e5f,#a82e5f,#a92e5e,#ab2f5e,#ae305c,#b1325a,#b3325a,#b1325a,#ad305d,#a82e5f,#a52c60,#a22b62,#a02a63,#9f2a63,#9d2964,#9b2964,#9a2865,#982766,#952667,#922568,#8f2469)"></div></div></div>
<div class="r" style="left:2117px;top:1547.3px;width:1324.2px;height:648.4px"><div class="b" style="width:1384.2px;filter:blur(6px);background-size:1324.2px 100%"><div style="height:41.2px;background-image:linear-gradient(90deg,#741a6e,#741a6e,#741a6e,#741a6e,#741a6e,#751b6e,#751b6e,#751b6e,#741a6e,#741a6e,#741a6e,#741a6e,#751b6e,#771c6d,#781c6d,#741a6e,#6f196e,#6d186e,#6d186e,#6f196e,#6d186e,#6c186e,#6c186e,#6c186e,#6a176e,#6a176e,#6a176e,#6c186e,#6c186e,#69166e,#57106e,#3d0965,#260c51,#1f0c48,#260c51,#320a5e,#3d0965,#420a68,#470b6a,#550f6d,#64156e,#6a176e,#6c186e,#71196e,#741a6e,#771c6d,#801f6c,#88226a,#8a226a,#8a226a,#8a226a,#8a226a,#88226a,#801f6c,#771c6d,#751b6e,#771c6d,#771c6d,#771c6d,#781c6d,#781c6d,#781c6d,#7a1d6d,#781c6d,#771c6d,#751b6e,#751b6e,#781c6d,#7a1d6d,#7c1d6d,#7c1d6d,#7c1d6d,#7a1d6d,#781c6d,#771c6d,#781c6d,#7c1d6d,#7d1e6d,#87216b,#932667,#9a2865,#9b2964,#972766,#8d2369,#7f1e6c,#771c6d,#741a6e,#741a6e,#741a6e,#741a6e,#741a6e)"></div><div style="height:11.2px;background-image:linear-gradient(90deg,#7f1e6c,#7f1e6c,#7f1e6c,#82206c,#8c2369,#982766,#a02a63,#9d2964,#922568,#85216b,#801f6c,#82206c,#8c2369,#9a2865,#972766,#85216b,#751b6e,#71196e,#71196e,#751b6e,#751b6e,#721a6e,#6d186e,#6c186e,#6c186e,#6c186e,#6c186e,#6c186e,#6c186e,#69166e,#5f136e,#540f6d,#3d0965,#230c4c,#1c0c43,#210c4a,#290b55,#310a5c,#400a67,#5c126e,#67166e,#6a176e,#6c186e,#721a6e,#7c1d6d,#82206c,#87216b,#8a226a,#8c2369,#8c2369,#8c2369,#8c2369,#8a226a,#88226a,#87216b,#801f6c,#7c1d6d,#7c1d6d,#7d1e6d,#7f1e6c,#82206c,#87216b,#922568,#a22b62,#a22b62,#902568,#82206c,#84206b,#85216b,#88226a,#88226a,#88226a,#85216b,#84206b,#8f2469,#a62d60,#ad305d,#ad305d,#a82e5f,#a82e5f,#a82e5f,#a62d60,#a62d60,#a32c61,#9d2964,#952667,#8f2469,#8a226a,#84206b,#801f6c,#7f1e6c)"></div><div style="height:11.2px;background-image:linear-gradient(90deg,#972766,#972766,#982766,#a62d60,#c03a51,#cc4248,#d04545,#cf4446,#c83f4b,#b43359,#982766,#972766,#a82e5f,#b0315b,#ad305d,#9f2a63,#88226a,#7c1d6d,#7d1e6d,#88226a,#8c2369,#84206b,#771c6d,#6f196e,#6c186e,#6d186e,#6f196e,#741a6e,#771c6d,#6d186e,#62146e,#5a116e,#470b6a,#280b53,#190c3e,#180c3c,#190c3e,#1f0c48,#3b0964,#5f136e,#69166e,#6c186e,#6d186e,#771c6d,#87216b,#8a226a,#8a226a,#8c2369,#8c2369,#8d2369,#8d2369,#8f2469,#932667,#ab2f5e,#c03a51,#b35,#9f2a63,#902568,#8f2469,#922568,#972766,#a02a63,#b43359,#c33b4f,#c63d4d,#bd3853,#a22b62,#982766,#9a2865,#9a2865,#9a2865,#9a2865,#9a2865,#9d2964,#b43359,#bf3952,#c03a51,#bf3952,#b73557,#b1325a,#ae305c,#ad305d,#ab2f5e,#ae305c,#b43359,#ba3655,#b73557,#b3325a,#ab2f5e,#9f2a63,#972766)"></div><div style="height:11.2px;background-image:linear-gradient(90deg,#b63458,#b43359,#b63458,#c13a50,#d34743,#d74b3f,#d84c3e,#d94d3d,#d84c3e,#d34743,#c03a51,#b0315b,#b3325a,#b63458,#b63458,#b1325a,#a82e5f,#9f2a63,#9d2964,#a52c60,#a82e5f,#a02a63,#8a226a,#751b6e,#6f196e,#741a6e,#84206b,#952667,#9a2865,#88226a,#65156e,#540f6d,#3e0966,#260c51,#1b0c41,#180c3c,#180c3c,#240c4f,#5a116e,#741a6e,#7a1d6d,#7c1d6d,#85216b,#922568,#952667,#932667,#932667,#9b2964,#ab2f5e,#b35,#c03a51,#c43c4e,#ce4347,#d84c3e,#db503b,#dd513a,#d44842,#b35,#a52c60,#9f2a63,#a32c61,#b3325a,#c43c4e,#cc4248,#d04545,#d04545,#c63d4d,#b1325a,#b0315b,#ae305c,#ae305c,#ae305c,#b0315b,#b63458,#c13a50,#c33b4f,#c43c4e,#c43c4e,#c33b4f,#bd3853,#b35,#b63458,#b63458,#bd3853,#c63d4d,#c33b4f,#bf3952,#bd3853,#bc3754,#b35,#b63458)"></div><div style="height:11.2px;background-image:linear-gradient(90deg,#bc3754,#ba3655,#ba3655,#c33b4f,#d44842,#d94d3d,#db503b,#dd513a,#df5337,#e05536,#de5238,#d74b3f,#c43c4e,#bd3853,#bd3853,#c03a51,#c43c4e,#c63d4d,#c43c4e,#c13a50,#c03a51,#ba3655,#a62d60,#87216b,#7c1d6d,#88226a,#9b2964,#a52c60,#a62d60,#a22b62,#7f1e6c,#5f136e,#57106e,#400a67,#2b0b57,#260c51,#240c4f,#2f0a5b,#67166e,#82206c,#932667,#ab2f5e,#b43359,#b0315b,#a52c60,#a02a63,#ad305d,#c83f4b,#d24644,#d44842,#d74b3f,#d94d3d,#dd513a,#de5238,#df5337,#e15635,#e35933,#de5238,#ca404a,#b63458,#b63458,#c43c4e,#cf4446,#d54a41,#d94d3d,#da4e3c,#d94d3d,#ca404a,#c33b4f,#c13a50,#c13a50,#c13a50,#c33b4f,#ca404a,#cc4248,#cc4248,#cc4248,#ce4347,#cf4446,#cb4149,#c63d4d,#c33b4f,#c63d4d,#ce4347,#cc4248,#c73e4c,#c13a50,#bf3952,#bf3952,#bf3952,#bc3754)"></div><div style="height:11.2px;background-image:linear-gradient(90deg,#bd3853,#bc3754,#bc3754,#c63d4d,#d74b3f,#de5238,#e15635,#e45a31,#e65d2f,#e75e2e,#e65d2f,#e55c30,#e15635,#d54a41,#d44842,#d84c3e,#d94d3d,#d74b3f,#d44842,#d24644,#d24644,#d04545,#cb4149,#b73557,#9f2a63,#a22b62,#a62d60,#a82e5f,#a82e5f,#a62d60,#932667,#71196e,#67166e,#520e6d,#3e0966,#390963,#380962,#3e0966,#84206b,#b0315b,#b73557,#ba3655,#ba3655,#b35,#b3325a,#b63458,#ca404a,#d24644,#d34743,#d74b3f,#dd513a,#e25734,#e35933,#e15635,#e15635,#e35933,#e65d2f,#e75e2e,#e55c30,#e05536,#dd513a,#dd513a,#de5238,#df5337,#e15635,#e15635,#e15635,#e05536,#e05536,#df5337,#df5337,#e05536,#e05536,#e25734,#e15635,#e05536,#df5337,#de5238,#db503b,#d84c3e,#d34743,#cf4446,#d04545,#d24644,#d04545,#cb4149,#c43c4e,#c13a50,#c03a51,#c03a51,#bd3853)"></div><div style="height:11.2px;background-image:linear-gradient(90deg,#bd3853,#bc3754,#c03a51,#d24644,#df5337,#e25734,#e55c30,#e75e2e,#e55c30,#e65d2f,#e75e2e,#e75e2e,#e65d2f,#e55c30,#e75e2e,#e8602d,#e65d2f,#e35933,#df5337,#d94d3d,#d74b3f,#d54a41,#d54a41,#d24644,#c33b4f,#b73557,#b3325a,#ae305c,#ab2f5e,#a92e5e,#a32c61,#71196e,#5d126e,#57106e,#520e6d,#4a0c6b,#440a68,#520e6d,#a62d60,#ba3655,#ba3655,#ba3655,#ba3655,#ba3655,#ba3655,#c83f4b,#cf4446,#d44842,#da4e3c,#e15635,#e75e2e,#ea632a,#e9612b,#e65d2f,#e45a31,#e65d2f,#e8602d,#e9612b,#e9612b,#ea632a,#eb6429,#eb6429,#ea632a,#e9612b,#e8602d,#e8602d,#e9612b,#ea632a,#e9612b,#e9612b,#e8602d,#e8602d,#e8602d,#e75e2e,#e8602d,#e9612b,#e9612b,#e75e2e,#e35933,#de5238,#d84c3e,#d24644,#d04545,#d24644,#d24644,#d04545,#ca404a,#c43c4e,#c13a50,#c03a51,#bd3853)"></div><div style="height:11.2px;background-image:linear-gradient(90deg,#bf3952,#bf3952,#cb4149,#dd513a,#e15635,#e25734,#e45a31,#df5337,#d94d3d,#de5238,#e65d2f,#e75e2e,#e65d2f,#e75e2e,#ea632a,#eb6429,#ea632a,#e9612b,#e45a31,#de5238,#d94d3d,#d94d3d,#d94d3d,#d74b3f,#ca404a,#c33b4f,#c03a51,#bc3754,#b73557,#bc3754,#c43c4e,#a62d60,#6c186e,#65156e,#64156e,#5d126e,#59106e,#7a1d6d,#b63458,#bc3754,#bc3754,#bc3754,#bc3754,#bf3952,#c63d4d,#cc4248,#cf4446,#d34743,#df5337,#e8602d,#eb6628,#ec6726,#ec6726,#e9612b,#e45a31,#e45a31,#e65d2f,#e8602d,#ea632a,#eb6429,#eb6628,#ec6726,#ed6925,#ee6a24,#ed6925,#ee6a24,#ee6a24,#ed6925,#eb6429,#e9612b,#e9612b,#e8602d,#e8602d,#e75e2e,#e8602d,#ea632a,#eb6429,#ea632a,#e75e2e,#dd513a,#d34743,#d04545,#cf4446,#d04545,#d04545,#d04545,#ce4347,#c73e4c,#c33b4f,#c13a50,#bf3952)"></div><div style="height:11.2px;background-image:linear-gradient(90deg,#c43c4e,#c63d4d,#d54a41,#df5337,#e15635,#e15635,#e15635,#da4e3c,#d54a41,#db503b,#e55c30,#e55c30,#e45a31,#e35933,#e8602d,#e9612b,#ea632a,#ea632a,#e8602d,#e45a31,#e25734,#e35933,#e35933,#e05536,#d04545,#c73e4c,#c63d4d,#c63d4d,#cc4248,#d34743,#d54a41,#d34743,#a22b62,#781c6d,#741a6e,#7a1d6d,#982766,#bd3853,#c33b4f,#c03a51,#bf3952,#bf3952,#c43c4e,#c83f4b,#cb4149,#cc4248,#cf4446,#d44842,#e05536,#ea632a,#ee6a24,#ef6c23,#ee6a24,#e9612b,#e05536,#de5238,#df5337,#e15635,#e55c30,#e75e2e,#e9612b,#ea632a,#eb6429,#ec6726,#ec6726,#ed6925,#ee6a24,#ed6925,#e9612b,#e55c30,#e55c30,#e65d2f,#e65d2f,#e65d2f,#e75e2e,#e8602d,#ea632a,#eb6628,#e9612b,#d94d3d,#d24644,#d04545,#cf4446,#cf4446,#ce4347,#ce4347,#ce4347,#cc4248,#c73e4c,#c43c4e,#c43c4e)"></div><div style="height:11.2px;background-image:linear-gradient(90deg,#d04545,#d24644,#d54a41,#db503b,#df5337,#df5337,#dd513a,#d84c3e,#d54a41,#da4e3c,#df5337,#de5238,#d44842,#d74b3f,#e35933,#e75e2e,#e8602d,#ea632a,#eb6429,#eb6429,#e8602d,#e75e2e,#e75e2e,#e75e2e,#e55c30,#d94d3d,#d44842,#d74b3f,#d74b3f,#d74b3f,#d74b3f,#d74b3f,#d34743,#c13a50,#ba3655,#c63d4d,#cf4446,#d24644,#d24644,#cf4446,#ce4347,#c83f4b,#c73e4c,#c83f4b,#cb4149,#ce4347,#d74b3f,#e45a31,#e8602d,#ec6726,#ee6a24,#ef6c23,#ee6a24,#e75e2e,#de5238,#d84c3e,#d24644,#ca404a,#c83f4b,#cc4248,#d34743,#d04545,#d34743,#d54a41,#d74b3f,#e15635,#e55c30,#e35933,#d84c3e,#cf4446,#d44842,#de5238,#e15635,#e35933,#e45a31,#e55c30,#eb6628,#f1711f,#f06f20,#e35933,#d34743,#d24644,#d04545,#ce4347,#ce4347,#ce4347,#ce4347,#ce4347,#d04545,#d04545,#d04545)"></div><div style="height:11.2px;background-image:linear-gradient(90deg,#da4e3c,#da4e3c,#da4e3c,#db503b,#db503b,#db503b,#db503b,#da4e3c,#da4e3c,#da4e3c,#db503b,#d84c3e,#d24644,#d44842,#e15635,#e75e2e,#e65d2f,#e8602d,#eb6628,#ed6925,#eb6628,#e8602d,#e8602d,#e9612b,#e9612b,#e75e2e,#e45a31,#e35933,#de5238,#d84c3e,#d74b3f,#d74b3f,#d74b3f,#d94d3d,#da4e3c,#da4e3c,#da4e3c,#da4e3c,#da4e3c,#da4e3c,#d94d3d,#cb4149,#c73e4c,#c83f4b,#cb4149,#d04545,#dd513a,#e75e2e,#ea632a,#ec6726,#ee6a24,#ed6925,#e9612b,#e35933,#dd513a,#ce4347,#c43c4e,#bf3952,#b73557,#b63458,#b63458,#b3325a,#b3325a,#b43359,#b73557,#c63d4d,#cb4149,#c83f4b,#c03a51,#c03a51,#c43c4e,#c83f4b,#ce4347,#cf4446,#ce4347,#d54a41,#ec6726,#f3761b,#f3761b,#ef6e21,#e15635,#df5337,#da4e3c,#cf4446,#ce4347,#ce4347,#ce4347,#d24644,#d84c3e,#da4e3c,#da4e3c)"></div><div style="height:11.2px;background-image:linear-gradient(90deg,#e25734,#e25734,#e25734,#e25734,#e25734,#e25734,#e25734,#e25734,#e25734,#e25734,#e25734,#e15635,#d74b3f,#d74b3f,#de5238,#df5337,#e25734,#e45a31,#eb6429,#ef6e21,#f06f20,#ee6a24,#ec6726,#eb6429,#ea632a,#e9612b,#e65d2f,#e55c30,#e35933,#da4e3c,#d74b3f,#d74b3f,#d84c3e,#dd513a,#e25734,#e25734,#e25734,#e25734,#e25734,#e25734,#e15635,#d54a41,#ca404a,#cb4149,#d24644,#d84c3e,#de5238,#e05536,#e15635,#ea632a,#eb6628,#ea632a,#e45a31,#e25734,#df5337,#c83f4b,#c03a51,#bf3952,#bd3853,#bc3754,#b63458,#b1325a,#b0315b,#ae305c,#b0315b,#b73557,#c33b4f,#c03a51,#b35,#bd3853,#c33b4f,#b63458,#ad305d,#ae305c,#b35,#ce4347,#ed6925,#f57b17,#f37819,#f2741c,#e75e2e,#e35933,#e25734,#d94d3d,#d34743,#d24644,#d54a41,#dd513a,#e15635,#e25734,#e25734)"></div><div style="height:11.2px;background-image:linear-gradient(90deg,#e9612b,#e9612b,#e9612b,#e9612b,#e9612b,#e9612b,#e9612b,#e9612b,#e9612b,#e9612b,#e9612b,#e9612b,#e8602d,#de5238,#da4e3c,#db503b,#e05536,#e15635,#e55c30,#ef6c23,#f3761b,#f57d15,#f78212,#f37819,#ee6a24,#ed6925,#ed6925,#eb6628,#e9612b,#df5337,#d84c3e,#d84c3e,#d94d3d,#e35933,#e9612b,#e9612b,#e9612b,#e9612b,#e9612b,#e9612b,#e9612b,#e65d2f,#da4e3c,#d54a41,#d94d3d,#db503b,#dd513a,#d34743,#d34743,#de5238,#e15635,#e15635,#e15635,#e15635,#de5238,#cb4149,#c43c4e,#c33b4f,#c43c4e,#c43c4e,#c03a51,#bf3952,#bc3754,#b43359,#b63458,#c33b4f,#d34743,#ce4347,#bf3952,#c73e4c,#ce4347,#c43c4e,#b73557,#b35,#c03a51,#d74b3f,#f1731d,#f78212,#f47918,#f3761b,#f06f20,#ed6925,#eb6628,#e8602d,#e55c30,#e55c30,#e65d2f,#e8602d,#e9612b,#e9612b,#e9612b)"></div><div style="height:11.2px;background-image:linear-gradient(90deg,#ef6c23,#ef6c23,#ef6c23,#ef6c23,#ef6c23,#ef6c23,#ef6c23,#ef6c23,#ef6c23,#ef6c23,#ef6c23,#ef6c23,#ef6c23,#e55c30,#db503b,#da4e3c,#db503b,#db503b,#de5238,#eb6628,#f68013,#f8890c,#f98c0a,#f98b0b,#f68013,#f3761b,#f3761b,#f2741c,#f1711f,#eb6628,#e05536,#de5238,#e55c30,#ed6925,#ef6c23,#ef6c23,#ef6c23,#ef6c23,#ef6c23,#ef6c23,#ef6c23,#ec6726,#dd513a,#d54a41,#d54a41,#d94d3d,#db503b,#d44842,#d34743,#d94d3d,#db503b,#db503b,#da4e3c,#d54a41,#d24644,#cc4248,#cb4149,#c83f4b,#ca404a,#cb4149,#cf4446,#d24644,#ce4347,#c63d4d,#cb4149,#d34743,#e35933,#e15635,#d04545,#d74b3f,#e05536,#e35933,#e05536,#e15635,#e35933,#e8602d,#f57d15,#f8850f,#f57b17,#f37819,#f1711f,#f06f20,#ef6e21,#ef6c23,#ef6c23,#ef6c23,#ef6c23,#ef6c23,#ef6c23,#ef6c23,#ef6c23)"></div><div style="height:11.2px;background-image:linear-gradient(90deg,#f37819,#f37819,#f37819,#f37819,#f37819,#f37819,#f37819,#f37819,#f37819,#f37819,#f37819,#f37819,#f37819,#ef6c23,#de5238,#da4e3c,#d94d3d,#da4e3c,#de5238,#ee6a24,#f8870e,#f98c0a,#f98e09,#f98e09,#f98e09,#f57b17,#f37819,#f37819,#f3761b,#f3761b,#f2741c,#f1731d,#f3761b,#f37819,#f37819,#f37819,#f37819,#f37819,#f37819,#f37819,#f37819,#f06f20,#db503b,#d54a41,#d44842,#d74b3f,#de5238,#d94d3d,#d74b3f,#d94d3d,#d34743,#d04545,#d44842,#d04545,#ce4347,#cb4149,#ca404a,#c13a50,#c33b4f,#ce4347,#d54a41,#d94d3d,#d74b3f,#d44842,#d94d3d,#e35933,#ee6a24,#ec6726,#d84c3e,#d44842,#e05536,#ec6726,#f1731d,#f67e14,#f8890c,#f98c0a,#f98e09,#fa9207,#f98c0a,#f98b0b,#f78410,#f1731d,#f1731d,#f37819,#f37819,#f37819,#f37819,#f37819,#f37819,#f37819,#f37819)"></div><div style="height:11.2px;background-image:linear-gradient(90deg,#f78212,#f78212,#f78212,#f78212,#f78212,#f78212,#f78212,#f78212,#f78212,#f78212,#f78212,#f78212,#f78212,#f06f20,#de5238,#db503b,#e05536,#ee6a24,#ef6e21,#f47918,#fa9008,#fb9606,#fb9b06,#fca108,#fca60c,#fa9407,#f47918,#f37819,#f57b17,#f78212,#f78212,#f78212,#f78212,#f78212,#f78212,#f78212,#f78212,#f78212,#f78212,#f78212,#f78212,#f57d15,#e25734,#d94d3d,#d84c3e,#df5337,#e45a31,#e9612b,#e8602d,#e45a31,#d24644,#d04545,#d44842,#d24644,#d04545,#cc4248,#c63d4d,#bc3754,#c13a50,#ca404a,#d24644,#d84c3e,#d74b3f,#d74b3f,#d84c3e,#e05536,#e65d2f,#e35933,#d24644,#ca404a,#d54a41,#e55c30,#f78410,#fb9d07,#fca50a,#fca50a,#fb9706,#fb9606,#fa9407,#fa9207,#fa9207,#f98e09,#f78410,#f78212,#f78212,#f78212,#f78212,#f78212,#f78212,#f78212,#f78212)"></div><div style="height:11.2px;background-image:linear-gradient(90deg,#f98e09,#f98e09,#f98e09,#f98e09,#f98e09,#f98e09,#f98e09,#f98e09,#f98e09,#f98e09,#f98e09,#f98e09,#f98e09,#f78410,#e15635,#e05536,#f78212,#fa9207,#f78212,#f8890c,#fca60c,#fcb014,#fbba1f,#fcb216,#fcae12,#fcaa0f,#fa9008,#f78410,#f98b0b,#f98e09,#f98e09,#f98e09,#f98e09,#f98e09,#f98e09,#f98e09,#f98e09,#f98e09,#f98e09,#f98e09,#f98e09,#f98b0b,#e8602d,#e25734,#e25734,#eb6429,#eb6628,#ec6726,#ec6726,#f1711f,#ef6c23,#ee6a24,#e8602d,#db503b,#d54a41,#d24644,#cc4248,#c43c4e,#c83f4b,#cb4149,#cf4446,#d44842,#d84c3e,#e65d2f,#d54a41,#d04545,#d94d3d,#dd513a,#d34743,#c63d4d,#ce4347,#f1711f,#fb9d07,#fca80d,#fcaa0f,#fca60c,#fb9906,#fb9706,#fa9407,#fa9207,#fa9207,#fa9207,#fa9008,#f98e09,#f98e09,#f98e09,#f98e09,#f98e09,#f98e09,#f98e09,#f98e09)"></div><div style="height:11.2px;background-image:linear-gradient(90deg,#fb9b06,#fb9b06,#fb9b06,#fb9b06,#fb9b06,#fb9b06,#fb9b06,#fb9b06,#fb9b06,#fb9b06,#fb9b06,#fb9b06,#fb9b06,#fb9b06,#f8870e,#f78212,#fb9906,#fb9b06,#f98e09,#fc9f07,#fcae12,#fbb61a,#fac026,#fbb81d,#fcb014,#fbb61a,#fcae12,#fb9d07,#fb9b06,#fb9b06,#fb9b06,#fb9b06,#fb9b06,#fb9b06,#fb9b06,#fb9b06,#fb9b06,#fb9b06,#fb9b06,#fb9b06,#fb9b06,#fb9906,#eb6429,#e35933,#e65d2f,#f57b17,#f67e14,#f1711f,#ef6e21,#f3761b,#f1731d,#f1731d,#f2741c,#ea632a,#dd513a,#d84c3e,#d54a41,#d24644,#ce4347,#d04545,#d84c3e,#e25734,#f1711f,#fca60c,#f8870e,#e65d2f,#e55c30,#e15635,#da4e3c,#cc4248,#e45a31,#fb9b06,#fca60c,#fcac11,#fca80d,#fca60c,#fca309,#fb9b06,#fb9706,#fa9407,#fa9407,#fb9706,#fb9b06,#fb9b06,#fb9b06,#fb9b06,#fb9b06,#fb9b06,#fb9b06,#fb9b06,#fb9b06)"></div><div style="height:11.2px;background-image:linear-gradient(90deg,#fca80d,#fca80d,#fca80d,#fca80d,#fca80d,#fca80d,#fca80d,#fca80d,#fca80d,#fca80d,#fca80d,#fca80d,#fca80d,#fca80d,#fca80d,#fb9706,#fa9008,#fa9008,#fb9706,#fca108,#fca80d,#fbb61a,#fac026,#fbbc21,#fbbe23,#fac62d,#fac42a,#fbb81d,#fcb014,#fcaa0f,#fca80d,#fca80d,#fca80d,#fca80d,#fca80d,#fca80d,#fca80d,#fca80d,#fca80d,#fca80d,#fca80d,#fca60c,#fb9906,#eb6429,#ec6726,#f8890c,#fa9407,#fa9008,#f47918,#f57b17,#f68013,#f57d15,#f57d15,#f06f20,#e55c30,#e05536,#e65d2f,#e55c30,#d34743,#d94d3d,#e15635,#f47918,#fcb014,#f7d13d,#f8cd37,#fcaa0f,#f2741c,#f3761b,#f3761b,#f1711f,#f8890c,#fb9d07,#fcac11,#fcb418,#fcac11,#fcaa0f,#fcac11,#fcb216,#fcac11,#fca50a,#fca50a,#fca80d,#fca80d,#fca80d,#fca80d,#fca80d,#fca80d,#fca80d,#fca80d,#fca80d,#fca80d)"></div><div style="height:11.2px;background-image:linear-gradient(90deg,#fbb61a,#fbb61a,#fbb61a,#fbb61a,#fbb61a,#fbb61a,#fbb61a,#fbb61a,#fbb61a,#fbb61a,#fbb61a,#fbb61a,#fbb61a,#fbb61a,#fbb61a,#fc9f07,#fa9008,#fa9008,#fcb014,#fca309,#fb9606,#fcaa0f,#fac42a,#fac62d,#fac62d,#f9c72f,#f9c72f,#fac42a,#fac026,#fbba1f,#fbb61a,#fbb61a,#fbb61a,#fbb61a,#fbb61a,#fbb61a,#fbb61a,#fbb61a,#fbb61a,#fbb61a,#fcaa0f,#fca80d,#fcb216,#f9c72f,#fbb61a,#fcb014,#fcb216,#fcb216,#fa9008,#fb9b06,#fbb81d,#fca309,#f8850f,#f68013,#ef6c23,#ef6e21,#f98c0a,#fb9d07,#f1711f,#f06f20,#eb6628,#f8890c,#fac62d,#f6d746,#f6d746,#f8cd37,#fbb81d,#fcb216,#fbb61a,#fcac11,#fa9207,#fa9407,#fcb418,#fbb81d,#fbb61a,#fbba1f,#fbbe23,#fac228,#fbbe23,#fbb81d,#fbb61a,#fbb61a,#fbb61a,#fbb61a,#fbb61a,#fbb61a,#fbb61a,#fbb61a,#fbb61a,#fbb61a,#fbb61a)"></div><div style="height:11.2px;background-image:linear-gradient(90deg,#fac42a,#fac42a,#fac42a,#fac42a,#fac42a,#fac42a,#fac42a,#fac42a,#fac42a,#fac42a,#fac42a,#fac42a,#fac42a,#fac42a,#fac42a,#fbba1f,#fb9706,#fb9706,#fbba1f,#fca60c,#fb9606,#fcb014,#f9c932,#f9cb35,#f9c932,#f9c72f,#f9c72f,#fac42a,#fac42a,#fac42a,#fac42a,#fac42a,#fac42a,#fac42a,#fac42a,#fac42a,#fac42a,#fac42a,#fac42a,#fac42a,#fcb014,#fcb014,#fac42a,#f3e55d,#f1ec6d,#f4df53,#f9c72f,#fac026,#f7d13d,#f7d13d,#f8cd37,#f9c932,#fbba1f,#fcac11,#fa9407,#fb9b06,#fbb61a,#f9cb35,#fac62d,#fca108,#f98b0b,#fa9207,#f9c932,#f7d340,#f8cd37,#f8cd37,#f9c932,#fac42a,#fac42a,#fbbe23,#fca60c,#fc9f07,#fac228,#fbbe23,#fbbe23,#fac228,#fac42a,#f9c72f,#f9c72f,#fac62d,#fac42a,#fac42a,#fac42a,#fac42a,#fac42a,#fac42a,#fac42a,#fac42a,#fac42a,#fac42a,#fac42a)"></div><div style="height:11.2px;background-image:linear-gradient(90deg,#f8cd37,#f8cd37,#f8cd37,#f8cd37,#f8cd37,#f8cd37,#f8cd37,#f8cd37,#f8cd37,#f8cd37,#f8cd37,#f8cd37,#f8cd37,#f8cd37,#f8cd37,#f9cb35,#fac42a,#fbba1f,#fcb216,#fb9d07,#fcaa0f,#fbbc21,#f9c932,#f9cb35,#f9c932,#f9c72f,#fac62d,#fac42a,#fac42a,#fac62d,#f9cb35,#f9cb35,#f8cd37,#f8cd37,#f8cd37,#f8cd37,#f8cd37,#f8cd37,#f8cd37,#f8cd37,#f8cd37,#f8cd37,#f4df53,#f2ea69,#f1ed71,#f1ef75,#f4df53,#f8cf3a,#f1ec6d,#f2ea69,#f6d746,#f4e156,#f1ed71,#f2e865,#f6d543,#fbba1f,#fac42a,#f6d543,#f6d543,#fcae12,#fca309,#fca50a,#f9c932,#f9c932,#f9c72f,#f9c72f,#f9c932,#f9c72f,#fac62d,#fac42a,#fac42a,#fac62d,#f9c932,#f9c932,#fac62d,#f9c72f,#f9c72f,#f9c72f,#f9c932,#f9cb35,#f8cd37,#f8cd37,#f8cd37,#f8cd37,#f8cd37,#f8cd37,#f8cd37,#f8cd37,#f8cd37,#f8cd37,#f8cd37)"></div><div style="height:11.2px;background-image:linear-gradient(90deg,#f8cd37,#f8cd37,#f8cd37,#f8cd37,#f8cd37,#f8cd37,#f8cd37,#f8cd37,#f8cd37,#f8cd37,#f8cd37,#f8cd37,#f8cd37,#f8cd37,#f8cd37,#f8cd37,#f8cd37,#f9cb35,#fbb61a,#fca50a,#fbb81d,#fbbe23,#f9c72f,#fac62d,#fac228,#fac62d,#fac62d,#fac42a,#fac42a,#f9c72f,#f9c932,#f9cb35,#f9cb35,#f8cd37,#f8cd37,#f8cd37,#f8cd37,#f8cd37,#f8cd37,#f8cf3a,#f5db4c,#f4df53,#f3e35a,#f3e35a,#f3e55d,#f2e661,#f4df53,#f8cf3a,#f2e661,#f2ea69,#f5db4c,#f3e55d,#f1ef75,#f3e55d,#f6d746,#fbbe23,#fac228,#f9c932,#f6d746,#fcb418,#fcaa0f,#fbb81d,#f9c72f,#fbbe23,#fbbe23,#fac026,#fac42a,#f9c932,#fac62d,#f9c72f,#f9cb35,#f9c72f,#fac62d,#f9c72f,#f9c72f,#f9c72f,#f9c72f,#f9c72f,#f9c72f,#f9c932,#f9cb35,#f8cd37,#f8cd37,#f8cd37,#f8cd37,#f8cd37,#f8cd37,#f8cd37,#f8cd37,#f8cd37,#f8cd37)"></div><div style="height:11.2px;background-image:linear-gradient(90deg,#f8cd37,#f8cd37,#f8cd37,#f8cd37,#f8cd37,#f8cd37,#f8cd37,#f8cd37,#f8cd37,#f8cd37,#f8cd37,#f8cd37,#f8cd37,#f8cd37,#f8cd37,#f8cd37,#f8cd37,#f8cd37,#f9cb35,#fac42a,#fac026,#fac026,#fac42a,#fac026,#fac026,#fac026,#fac62d,#fac62d,#f9c72f,#f9c72f,#f9c72f,#f9c932,#f9cb35,#f9cb35,#f8cd37,#f8cd37,#f8cd37,#f8cd37,#f8cd37,#f8cf3a,#f5db4c,#f4dd4f,#f5d949,#f8cf3a,#f7d340,#f5d949,#f7d13d,#fac62d,#f7d13d,#f6d746,#f7d340,#f6d746,#f3e55d,#f5db4c,#f9c72f,#fb9b06,#fac026,#fac62d,#f7d13d,#fbbe23,#fbba1f,#f9c72f,#fac42a,#fbb61a,#fbb61a,#fbb61a,#fbbc21,#f9c932,#f9c932,#f9c932,#f9cb35,#f9c72f,#fac42a,#f9c72f,#f9c72f,#f9c72f,#f9c72f,#f9c72f,#f9c72f,#f9c72f,#f9c932,#f9cb35,#f8cd37,#f8cd37,#f8cd37,#f8cd37,#f8cd37,#f8cd37,#f8cd37,#f8cd37,#f8cd37)"></div><div style="height:11.2px;background-image:linear-gradient(90deg,#f8cd37,#f8cd37,#f8cd37,#f8cd37,#f8cd37,#f8cd37,#f8cd37,#f8cd37,#f8cd37,#f8cd37,#f8cd37,#f8cd37,#f8cd37,#f8cd37,#f8cd37,#f8cd37,#f8cd37,#f8cd37,#f8cd37,#f8cd37,#f9cb35,#f9c72f,#fac228,#fbbe23,#fbbe23,#fac026,#fbb61a,#fac62d,#f9c72f,#f9c72f,#f9c72f,#f9c932,#f9c932,#f9c932,#f9cb35,#f9cb35,#f9cb35,#f8cd37,#f8cd37,#f8cd37,#f7d340,#f6d543,#f8cd37,#fac62d,#f9c932,#f8cf3a,#f9c72f,#fac42a,#fac42a,#f9c72f,#f9cb35,#f9cb35,#f7d340,#f6d543,#fcae12,#f98e09,#f9c932,#f7d340,#f7d340,#f8cd37,#f9cb35,#f8cd37,#fac42a,#fbb61a,#fbb61a,#fbba1f,#fbbc21,#f9c932,#f9c72f,#f9c72f,#f9c72f,#f9c72f,#fac62d,#f9c72f,#f9c72f,#f9c72f,#f9c72f,#f9c72f,#f9c72f,#fac62d,#fac62d,#f9c932,#f8cd37,#f8cd37,#f8cd37,#f8cd37,#f8cd37,#f8cd37,#f8cd37,#f8cd37,#f8cd37)"></div><div style="height:11.2px;background-image:linear-gradient(90deg,#f8cd37,#f8cd37,#f8cd37,#f8cd37,#f8cd37,#f8cd37,#f8cd37,#f8cd37,#f8cd37,#f8cd37,#f8cd37,#f8cd37,#f8cd37,#f8cd37,#f8cd37,#f8cd37,#f8cd37,#f8cd37,#f8cd37,#f8cd37,#f8cd37,#f8cd37,#fac62d,#fac026,#fac026,#fcb216,#fb9706,#fcb418,#f9c72f,#f9c72f,#f9c72f,#f9c72f,#f9c72f,#f9c932,#f9c932,#f9c932,#f9c932,#f9cb35,#f8cd37,#f9cb35,#f9c932,#f9c72f,#fac62d,#fac42a,#fac42a,#f9c72f,#fac42a,#fac228,#fac026,#fac228,#fac228,#fac228,#fac62d,#f8cf3a,#fb9b06,#fa9207,#f8cf3a,#f6d746,#f6d746,#f7d13d,#f8cd37,#f8cd37,#f9c932,#fbba1f,#fbb81d,#fbbe23,#fbbe23,#f9c72f,#f9c72f,#fac62d,#f9c72f,#f9c72f,#f9c72f,#f9c72f,#fac62d,#fac62d,#fac62d,#fac62d,#fac62d,#fac228,#fac228,#fac62d,#f9cb35,#f8cd37,#f8cd37,#f8cd37,#f8cd37,#f8cd37,#f8cd37,#f8cd37,#f8cd37)"></div><div style="height:11.2px;background-image:linear-gradient(90deg,#f8cd37,#f8cd37,#f8cd37,#f8cd37,#f8cd37,#f8cd37,#f8cd37,#f8cd37,#f8cd37,#f8cd37,#f8cd37,#f8cd37,#f8cd37,#f8cd37,#f8cd37,#f8cd37,#f8cd37,#f8cd37,#f8cd37,#f8cd37,#f8cd37,#f8cd37,#f9cb35,#f9c72f,#f9c72f,#fb9b06,#fa9407,#fcae12,#f9c72f,#f9c72f,#f9c72f,#f9c72f,#f9c72f,#f9c72f,#f9c72f,#fac62d,#fac62d,#f9c932,#f9cb35,#f9cb35,#fac62d,#fac42a,#fac42a,#fac42a,#fac42a,#fac42a,#fac228,#fac228,#fac026,#fac026,#fac026,#fbbe23,#fac026,#fac026,#fb9606,#fc9f07,#f7d340,#f6d746,#f6d746,#f7d340,#f8cd37,#f8cd37,#f8cd37,#fac62d,#fbbe23,#fbbe23,#fac228,#f9c72f,#fac62d,#fac62d,#fac62d,#fac62d,#fac62d,#fac62d,#fac62d,#fac42a,#fac42a,#fac42a,#fac228,#fac026,#fac026,#fac42a,#f9c932,#f8cd37,#f8cd37,#f8cd37,#f8cd37,#f8cd37,#f8cd37,#f8cd37,#f8cd37)"></div><div style="height:11.2px;background-image:linear-gradient(90deg,#f8cd37,#f8cd37,#f8cd37,#f8cd37,#f8cd37,#f8cd37,#f8cd37,#f8cd37,#f8cd37,#f8cd37,#f8cd37,#f8cd37,#f8cd37,#f8cd37,#f8cd37,#f8cd37,#f8cd37,#f8cd37,#f8cd37,#f8cd37,#f8cd37,#f8cd37,#f8cd37,#f8cd37,#fbb81d,#f57d15,#f8870e,#fac026,#f9c72f,#f9c72f,#f9c72f,#f9c72f,#f9c72f,#f9c72f,#fac62d,#fac42a,#fac42a,#fac62d,#f9c932,#f9cb35,#f9c72f,#fac42a,#fac42a,#fac42a,#fac42a,#fac42a,#fac228,#fac026,#fac026,#fbbe23,#fbbe23,#fbbe23,#fbba1f,#fcaa0f,#fa9207,#fb9906,#f6d543,#f6d746,#f6d746,#f7d13d,#f8cd37,#f8cd37,#f8cd37,#f8cd37,#f9cb35,#f9c932,#f9cb35,#f9c72f,#fac62d,#fac62d,#fac62d,#fac62d,#fac62d,#fac62d,#fac42a,#fac026,#fac026,#fac026,#fac026,#fbbe23,#fbba1f,#fac026,#f9c72f,#f9cb35,#f8cd37,#f8cd37,#f8cd37,#f8cd37,#f8cd37,#f8cd37,#f8cd37)"></div><div style="height:11.2px;background-image:linear-gradient(90deg,#f8cd37,#f8cd37,#f8cd37,#f8cd37,#f8cd37,#f8cd37,#f8cd37,#f8cd37,#f8cd37,#f8cd37,#f8cd37,#f8cd37,#f8cd37,#f8cd37,#f8cd37,#f8cd37,#f8cd37,#f8cd37,#f8cd37,#f8cd37,#f8cd37,#f8cd37,#f8cd37,#f8cd37,#fcb014,#f57b17,#f67e14,#fac42a,#f9c72f,#f9c72f,#f9c72f,#f9c72f,#f9c72f,#f9c72f,#fac62d,#fac42a,#fac42a,#fac42a,#f9c72f,#f9cb35,#f9c932,#fac62d,#fac42a,#fac42a,#fac42a,#fac228,#fac026,#fac026,#fbbe23,#fbbe23,#fbbe23,#fbbe23,#fcac11,#fca309,#fb9706,#fb9d07,#f7d13d,#f6d543,#f6d543,#f8cf3a,#f8cd37,#f8cd37,#f8cd37,#f8cd37,#f8cd37,#f8cd37,#f9cb35,#f9c72f,#fac62d,#fac62d,#fac62d,#fac62d,#fac62d,#fac42a,#fac228,#fbbe23,#fbbe23,#fbbe23,#fbbe23,#fbba1f,#fb9906,#fca60c,#fbbe23,#f9c932,#f8cd37,#f8cd37,#f8cd37,#f8cd37,#f8cd37,#f8cd37,#f8cd37)"></div><div style="height:11.2px;background-image:linear-gradient(90deg,#f8cd37,#f8cd37,#f8cd37,#f8cd37,#f8cd37,#f8cd37,#f8cd37,#f8cd37,#f8cd37,#f8cd37,#f8cd37,#f8cd37,#f8cd37,#f8cd37,#f8cd37,#f8cd37,#f8cd37,#f8cd37,#f8cd37,#f8cd37,#f8cd37,#f8cd37,#f8cd37,#f8cd37,#fac62d,#f8850f,#f78212,#fbbc21,#f9c72f,#f9c72f,#f9c72f,#f9c72f,#f9c72f,#fac62d,#fac62d,#fac42a,#fac42a,#fac42a,#fac62d,#f9cb35,#f9cb35,#f9c72f,#fac62d,#fac62d,#fac62d,#fac42a,#fac026,#fac026,#fbbe23,#fbbe23,#fbbe23,#fbbe23,#fcae12,#fca50a,#fca50a,#fca80d,#fac228,#f7d13d,#f8cf3a,#f8cd37,#f8cd37,#f8cd37,#f8cd37,#f8cd37,#f8cd37,#f8cd37,#f9cb35,#f9c72f,#fac62d,#fac42a,#fac42a,#fac42a,#fac42a,#fac42a,#fac228,#fbbe23,#fbbc21,#fbbe23,#fbbe23,#fcb418,#fb9706,#fca50a,#fbb81d,#f9c72f,#f9cb35,#f8cd37,#f8cd37,#f8cd37,#f8cd37,#f8cd37,#f8cd37)"></div><div style="height:11.2px;background-image:linear-gradient(90deg,#f8cd37,#f8cd37,#f8cd37,#f8cd37,#f8cd37,#f8cd37,#f8cd37,#f8cd37,#f8cd37,#f8cd37,#f8cd37,#f8cd37,#f8cd37,#f8cd37,#f8cd37,#f8cd37,#f8cd37,#f8cd37,#f8cd37,#f8cd37,#f8cd37,#f8cd37,#f8cd37,#f8cd37,#f8cd37,#f8850f,#e65d2f,#f06f20,#fac62d,#f9c72f,#fac62d,#fac62d,#fac62d,#fac62d,#fac42a,#fac42a,#fac42a,#fac42a,#fac62d,#f9cb35,#f8cd37,#f9cb35,#f9c932,#f9c932,#f9c932,#fac62d,#fac228,#fac026,#fbba1f,#fcb418,#fbb61a,#fbbc21,#fbb61a,#fcaa0f,#fca80d,#fcae12,#fac228,#f9cb35,#f8cd37,#f8cd37,#f8cd37,#f8cd37,#f8cd37,#f8cd37,#f8cd37,#f8cd37,#f8cd37,#f9c932,#fac62d,#fac42a,#fac42a,#fac42a,#fac42a,#fac42a,#fac228,#fbbe23,#fbbc21,#fac026,#fac62d,#fac228,#fbba1f,#fcb216,#fbb61a,#f9c72f,#f9cb35,#f8cd37,#f8cd37,#f8cd37,#f8cd37,#f8cd37,#f8cd37)"></div><div style="height:11.2px;background-image:linear-gradient(90deg,#f8cd37,#f8cd37,#f8cd37,#f8cd37,#f8cd37,#f8cd37,#f8cd37,#f8cd37,#f8cd37,#f8cd37,#f8cd37,#f8cd37,#f8cd37,#f8cd37,#f8cd37,#f8cd37,#f8cd37,#f8cd37,#f8cd37,#f8cd37,#f8cd37,#f8cd37,#f8cd37,#f8cd37,#f8cd37,#f47918,#e35933,#e35933,#fb9906,#fac62d,#fac62d,#fac62d,#fac62d,#fac42a,#fac42a,#fac42a,#fac42a,#fac42a,#fac62d,#f9cb35,#f8cd37,#f8cd37,#f9cb35,#f9cb35,#f9cb35,#f9c932,#fac42a,#fbbe23,#fcae12,#fcaa0f,#fcac11,#fcb418,#fcb216,#fcb418,#fbbe23,#fac62d,#fac42a,#fbbc21,#fac62d,#f9cb35,#f8cd37,#f8cd37,#f8cd37,#f8cd37,#f8cd37,#f8cd37,#f8cd37,#f9cb35,#f9c72f,#fac62d,#fac42a,#fac42a,#fac42a,#fac42a,#fac228,#fac026,#f9c932,#f7d340,#f5db4c,#f6d746,#f9cb35,#f9c932,#fac42a,#f9c932,#f8cd37,#f8cd37,#f8cd37,#f8cd37,#f8cd37,#f8cd37,#f8cd37)"></div><div style="height:11.2px;background-image:linear-gradient(90deg,#f9c932,#f8cd37,#f8cd37,#f8cd37,#f8cd37,#f8cd37,#f8cd37,#f8cd37,#f8cd37,#f8cd37,#f8cd37,#f8cd37,#f8cd37,#f8cd37,#f8cd37,#f8cd37,#f8cd37,#f8cd37,#f8cd37,#f8cd37,#f8cd37,#f8cd37,#f8cd37,#f8cd37,#f8cd37,#fcaa0f,#e55c30,#df5337,#e65d2f,#fca80d,#fac42a,#fac42a,#fac42a,#fac228,#fac228,#fac42a,#fac42a,#fac42a,#f9c72f,#f9cb35,#f8cd37,#f8cd37,#f8cd37,#f8cd37,#f8cd37,#f9cb35,#f9c932,#fac026,#fcac11,#fca80d,#fcaa0f,#fcb014,#fcb014,#fbbe23,#f9cb35,#f9cb35,#fbba1f,#fcb216,#fbb61a,#f9c72f,#f8cd37,#f8cd37,#f8cd37,#f8cd37,#f8cd37,#f8cd37,#f8cd37,#f8cd37,#f9cb35,#f9c72f,#fac62d,#fac42a,#fac42a,#fac42a,#fac62d,#f7d340,#f4e156,#f3e35a,#f3e35a,#f4e156,#f8cf3a,#f8cd37,#f8cd37,#f8cd37,#f8cd37,#f8cd37,#f9cb35,#f8cd37,#f8cd37,#f9c932,#f9c932)"></div><div style="height:11.2px;background-image:linear-gradient(90deg,#f9c72f,#f9cb35,#f8cd37,#f8cd37,#f8cd37,#f8cd37,#f8cd37,#f8cd37,#f8cd37,#f8cd37,#f8cd37,#f8cd37,#f8cd37,#f8cd37,#f8cd37,#f8cd37,#f8cd37,#f8cd37,#f8cd37,#f8cd37,#f8cd37,#f8cd37,#f8cd37,#f8cd37,#f8cd37,#f9cb35,#f47918,#d84c3e,#d34743,#f06f20,#fac42a,#fac42a,#fac026,#fbba1f,#fbba1f,#fac228,#fac42a,#fac62d,#f9c932,#f9cb35,#f8cd37,#f8cd37,#f8cd37,#f8cd37,#f8cd37,#f8cd37,#f9cb35,#fac62d,#fbb81d,#fbb61a,#fbb81d,#fcb418,#fcb014,#fac026,#f8cd37,#f9c932,#fcb418,#fcb014,#fcb216,#fac228,#f8cd37,#f8cd37,#f8cd37,#f8cd37,#f8cd37,#f8cd37,#f8cd37,#f8cd37,#f8cd37,#f9cb35,#f9c72f,#fac62d,#fac42a,#f9c932,#f4df53,#f2e661,#f3e55d,#f3e55d,#f3e55d,#f3e35a,#f7d13d,#f8cf3a,#f7d13d,#f8cf3a,#f8cd37,#f9cb35,#fac228,#fac228,#f9cb35,#f9c72f,#f9c72f)"></div><div style="height:11.2px;background-image:linear-gradient(90deg,#f9c72f,#f9cb35,#f8cd37,#f8cd37,#f8cd37,#f8cd37,#f8cd37,#f8cd37,#f8cd37,#f8cd37,#f8cd37,#f8cd37,#f8cd37,#f8cd37,#f8cd37,#f8cd37,#f8cd37,#f8cd37,#f8cd37,#f8cd37,#f8cd37,#f8cd37,#f8cd37,#f8cd37,#f8cd37,#f8cd37,#fca309,#d54a41,#d24644,#f06f20,#f9c72f,#f9c72f,#fbbc21,#fbb61a,#fbb61a,#fbbc21,#fac62d,#f9c72f,#f9cb35,#f8cd37,#f8cd37,#f8cd37,#f8cd37,#f8cd37,#f8cd37,#f8cd37,#f8cd37,#f9c932,#fac42a,#fac42a,#fac62d,#fac62d,#fbbc21,#fac42a,#f8cd37,#fac42a,#fcb014,#fcb014,#fcb216,#fac026,#f8cd37,#f8cd37,#f8cd37,#f8cd37,#f8cd37,#f8cd37,#f8cd37,#f8cd37,#f8cd37,#f8cd37,#f9cb35,#f9c72f,#f9c72f,#f5db4c,#f1ec6d,#f1ec6d,#f3e55d,#f3e55d,#f3e35a,#f4e156,#f7d340,#f6d543,#f6d543,#f7d340,#f8cd37,#fac62d,#fbbe23,#fbbe23,#f9c932,#f9c72f,#f9c72f)"></div><div style="height:11.2px;background-image:linear-gradient(90deg,#fac42a,#fac026,#fac026,#fac026,#fac026,#fac026,#fac026,#fac026,#fac026,#fac026,#fac026,#fac026,#fac026,#fac026,#fac026,#fac026,#fac026,#fac026,#fac026,#fac026,#fac026,#fac026,#fac026,#fac026,#fac026,#fac026,#f8890c,#d34743,#db503b,#fca108,#f9c932,#fac62d,#fcb216,#fcb216,#fcb418,#fbba1f,#fac026,#fac026,#fac026,#fac026,#fac026,#fac026,#fac026,#fac026,#fac026,#fac026,#fac026,#fac228,#fac42a,#fac42a,#f9c72f,#f9c932,#fac228,#fbbe23,#f9c72f,#fbbc21,#fcb014,#fcb014,#fcb216,#fbbc21,#fac026,#fac026,#fac026,#fac026,#fac026,#fac026,#fac026,#fac026,#fac026,#fac026,#fac026,#fac026,#fac228,#fac228,#f5d949,#f3e35a,#f7d13d,#f6d543,#f6d746,#f7d13d,#f9c932,#f7d340,#f6d543,#f9c932,#fac026,#fac026,#fbbe23,#fbbe23,#fac026,#fac42a,#fac42a)"></div><div style="height:11.2px;background-image:linear-gradient(90deg,#fcb216,#fcb216,#fcb216,#fcb216,#fcb216,#fcb216,#fcb216,#fcb216,#fcb216,#fcb216,#fcb216,#fcb216,#fcb216,#fcb216,#fcb216,#fcb216,#fcb216,#fcb216,#fcb216,#fcb216,#fcb216,#fcb216,#fcb216,#fcb216,#fcb216,#fcb216,#f37819,#d54a41,#ea632a,#fb9706,#fac42a,#fbbc21,#fca50a,#fca309,#fcae12,#fcb418,#fcb418,#fcb216,#fcb216,#fcb216,#fcb216,#fcb216,#fcb216,#fcb216,#fcb216,#fcb216,#fcb216,#fbb61a,#fac228,#fac62d,#f9c72f,#fbbc21,#fca309,#fcac11,#fcb216,#fcb216,#fcb014,#fcb014,#fcb014,#fcb216,#fcb216,#fcb216,#fcb216,#fcb216,#fcb216,#fcb216,#fcb216,#fcb216,#fcb216,#fcb216,#fcb216,#fcb216,#fcaa0f,#f78410,#fb9606,#fac026,#fcae12,#fcb216,#fac228,#fbb81d,#fbb61a,#fac228,#fac026,#fcb014,#fcb014,#fcb418,#fbba1f,#fbba1f,#fcb216,#fcb216,#fcb216)"></div><div style="height:11.2px;background-image:linear-gradient(90deg,#fb9b06,#fca309,#fca50a,#fca50a,#fca50a,#fca50a,#fca50a,#fca50a,#fca50a,#fca50a,#fca50a,#fca50a,#fca50a,#fca50a,#fca50a,#fca50a,#fca50a,#fca50a,#fca50a,#fca50a,#fca50a,#fca50a,#fca50a,#fca50a,#fca50a,#fca50a,#fa9407,#eb6429,#f78410,#fa9207,#fcb014,#fcaa0f,#fb9d07,#fb9d07,#fca108,#fca50a,#fca50a,#fca50a,#fca50a,#fca50a,#fca50a,#fca50a,#fca50a,#fca50a,#fca50a,#fca50a,#fca50a,#fca60c,#fcb418,#fbbe23,#fbb81d,#fca50a,#f78212,#fca50a,#fca60c,#fca50a,#fca60c,#fca60c,#fca50a,#fca50a,#fca50a,#fca50a,#fca50a,#fca50a,#fca50a,#fca50a,#fca50a,#fca50a,#fca50a,#fca50a,#fca50a,#fca50a,#fc9f07,#f57b17,#f67e14,#fca309,#fb9d07,#fa9407,#fca50a,#fb9b06,#fca60c,#fca60c,#fb9b06,#fcac11,#fcae12,#fca50a,#fca50a,#fca309,#fb9706,#fa9008,#fb9b06)"></div><div style="height:11.2px;background-image:linear-gradient(90deg,#ee6a24,#f98b0b,#fb9706,#fb9706,#fb9706,#fb9706,#fb9706,#fb9706,#fb9706,#fb9706,#fb9706,#fb9706,#fb9706,#fb9706,#fb9706,#fb9706,#fb9706,#fb9706,#fb9706,#fb9706,#fb9706,#fb9706,#fb9706,#fb9706,#fb9706,#fb9706,#e9612b,#d84c3e,#f47918,#fb9706,#fb9d07,#fc9f07,#fb9b06,#fb9b06,#fb9906,#fb9706,#fb9706,#fb9706,#fb9706,#fb9706,#fb9706,#fb9706,#fb9706,#fb9706,#fb9706,#fb9706,#fb9706,#fb9706,#fb9b06,#ea632a,#e9612b,#f8890c,#f78410,#fa9207,#fb9706,#fb9706,#fb9706,#fb9706,#fb9706,#fb9706,#fb9706,#fb9706,#fb9706,#fb9706,#fb9706,#fb9706,#fb9706,#fb9706,#fb9706,#fb9706,#fb9706,#fb9706,#fb9706,#ed6925,#e65d2f,#f37819,#fa9008,#f78212,#f8870e,#f67e14,#fa9008,#fa9207,#fa9008,#fca309,#fca80d,#fb9706,#fb9606,#f78212,#ec6726,#e9612b,#ee6a24)"></div><div style="height:11.2px;background-image:linear-gradient(90deg,#e55c30,#ef6e21,#f8890c,#f98b0b,#f98b0b,#f98b0b,#f98b0b,#f98b0b,#f98b0b,#f98b0b,#f98b0b,#f98b0b,#f98b0b,#f98b0b,#f98b0b,#f98b0b,#f98b0b,#f98b0b,#f98b0b,#f98b0b,#f98b0b,#f98b0b,#f98b0b,#f98b0b,#f98b0b,#f8890c,#da4e3c,#d24644,#e8602d,#fb9606,#fb9906,#fb9b06,#fb9906,#fb9606,#f98e09,#f98b0b,#f98b0b,#f98b0b,#f98b0b,#f98b0b,#f98b0b,#f98b0b,#f98b0b,#f98b0b,#f98b0b,#f98b0b,#f98b0b,#f98b0b,#f98b0b,#e8602d,#e65d2f,#f47918,#f8890c,#f98e09,#f98b0b,#f98b0b,#f98b0b,#f98b0b,#f98b0b,#f98b0b,#f98b0b,#f98b0b,#f98b0b,#f98b0b,#f98b0b,#f98b0b,#f98b0b,#f98b0b,#f98b0b,#f98b0b,#f98b0b,#f98b0b,#f98b0b,#eb6628,#e45a31,#eb6429,#f8890c,#f57d15,#f57b17,#f2741c,#f2741c,#ee6a24,#f78212,#fa9008,#f98e09,#f98b0b,#f68013,#ea632a,#e45a31,#e35933,#e55c30)"></div><div style="height:11.2px;background-image:linear-gradient(90deg,#e35933,#e9612b,#f57d15,#f67e14,#f67e14,#f67e14,#f67e14,#f67e14,#f67e14,#f67e14,#f67e14,#f67e14,#f67e14,#f67e14,#f67e14,#f67e14,#f67e14,#f67e14,#f67e14,#f67e14,#f67e14,#f67e14,#f67e14,#f67e14,#f67e14,#f57d15,#e65d2f,#e05536,#ef6c23,#f8850f,#fa9407,#fb9606,#f8890c,#f78212,#f68013,#f67e14,#f67e14,#f67e14,#f67e14,#f67e14,#f67e14,#f67e14,#f67e14,#f67e14,#f67e14,#f67e14,#f67e14,#f67e14,#f67e14,#f57d15,#f47918,#f57b17,#f68013,#f68013,#f67e14,#f67e14,#f67e14,#f67e14,#f67e14,#f67e14,#f67e14,#f67e14,#f67e14,#f67e14,#f67e14,#f67e14,#f67e14,#f67e14,#f67e14,#f67e14,#f67e14,#f67e14,#f67e14,#f37819,#ea632a,#ef6e21,#f78212,#f57d15,#f47918,#f2741c,#e75e2e,#e35933,#e65d2f,#f2741c,#f67e14,#f37819,#e55c30,#df5337,#e15635,#e25734,#e35933)"></div><div style="height:11.2px;background-image:linear-gradient(90deg,#e35933,#e9612b,#f1731d,#f2741c,#f2741c,#f2741c,#f2741c,#f2741c,#f2741c,#f2741c,#f2741c,#f2741c,#f2741c,#f2741c,#f2741c,#f2741c,#f2741c,#f2741c,#f2741c,#f2741c,#f2741c,#f2741c,#f2741c,#f2741c,#f1731d,#eb6429,#d74b3f,#e35933,#ed6925,#f1731d,#f68013,#f8870e,#f3761b,#f2741c,#f2741c,#f2741c,#f2741c,#f2741c,#f2741c,#f2741c,#f2741c,#f2741c,#f2741c,#f2741c,#f2741c,#f2741c,#f2741c,#f2741c,#f2741c,#f2741c,#f2741c,#f2741c,#f2741c,#f2741c,#f2741c,#f2741c,#f2741c,#f2741c,#f2741c,#f2741c,#f2741c,#f2741c,#f2741c,#f2741c,#f1731d,#f1731d,#f1731d,#f1731d,#f1731d,#f1731d,#f1731d,#f1731d,#f2741c,#f1731d,#f1731d,#f1731d,#f2741c,#f2741c,#f2741c,#f1731d,#e45a31,#da4e3c,#d84c3e,#df5337,#f1731d,#e8602d,#d74b3f,#d44842,#da4e3c,#e05536,#e35933)"></div><div style="height:11.2px;background-image:linear-gradient(90deg,#e15635,#e9612b,#ec6726,#ed6925,#ed6925,#ed6925,#ed6925,#ed6925,#ed6925,#ed6925,#ed6925,#ed6925,#ed6925,#ed6925,#ed6925,#ed6925,#ed6925,#ed6925,#ed6925,#ed6925,#ed6925,#ed6925,#ed6925,#ed6925,#ec6726,#d74b3f,#c43c4e,#cb4149,#e05536,#e9612b,#ee6a24,#ef6c23,#ed6925,#ed6925,#ed6925,#ed6925,#ed6925,#ed6925,#ed6925,#ed6925,#ed6925,#ed6925,#ed6925,#ed6925,#ed6925,#ed6925,#ed6925,#ed6925,#ed6925,#ed6925,#ed6925,#ed6925,#ed6925,#ed6925,#ed6925,#ed6925,#ed6925,#ed6925,#ed6925,#ed6925,#ed6925,#ed6925,#ed6925,#ec6726,#ec6726,#ec6726,#ec6726,#ec6726,#ec6726,#ec6726,#ec6726,#ec6726,#ec6726,#ed6925,#ed6925,#ed6925,#ed6925,#ed6925,#ed6925,#ed6925,#e45a31,#d84c3e,#d84c3e,#df5337,#eb6628,#df5337,#d34743,#d24644,#d34743,#d94d3d,#e15635)"></div><div style="height:11.2px;background-image:linear-gradient(90deg,#de5238,#e65d2f,#e75e2e,#e75e2e,#e75e2e,#e75e2e,#e75e2e,#e75e2e,#e75e2e,#e75e2e,#e75e2e,#e75e2e,#e75e2e,#e75e2e,#e75e2e,#e75e2e,#e75e2e,#e75e2e,#e75e2e,#e75e2e,#e75e2e,#e75e2e,#e75e2e,#e75e2e,#e65d2f,#d34743,#c63d4d,#c83f4b,#d24644,#d94d3d,#e05536,#e65d2f,#e75e2e,#e75e2e,#e75e2e,#e75e2e,#e75e2e,#e75e2e,#e75e2e,#e75e2e,#e75e2e,#e75e2e,#e75e2e,#e75e2e,#e75e2e,#e75e2e,#e75e2e,#e75e2e,#e75e2e,#e75e2e,#e75e2e,#e75e2e,#e75e2e,#e75e2e,#e75e2e,#e75e2e,#e75e2e,#e75e2e,#e75e2e,#e75e2e,#e65d2f,#e65d2f,#e65d2f,#e65d2f,#e65d2f,#e55c30,#e55c30,#e55c30,#e55c30,#e55c30,#e55c30,#e65d2f,#e65d2f,#e65d2f,#e65d2f,#e65d2f,#e75e2e,#e75e2e,#e75e2e,#e75e2e,#e65d2f,#de5238,#dd513a,#e55c30,#e65d2f,#dd513a,#d34743,#d24644,#d24644,#d44842,#de5238)"></div><div style="height:11.2px;background-image:linear-gradient(90deg,#dd513a,#e05536,#e05536,#e05536,#e05536,#e05536,#e05536,#e05536,#e05536,#e05536,#e05536,#e05536,#e05536,#e05536,#e05536,#e05536,#e05536,#e05536,#e05536,#e05536,#e05536,#e05536,#e05536,#e05536,#df5337,#d74b3f,#cc4248,#cb4149,#cb4149,#cc4248,#d74b3f,#df5337,#e05536,#e05536,#e05536,#e05536,#e05536,#e05536,#e05536,#e05536,#e05536,#e05536,#e05536,#e05536,#e05536,#e05536,#e05536,#e05536,#e05536,#e05536,#e05536,#e05536,#e05536,#e05536,#e05536,#e05536,#e05536,#e05536,#df5337,#df5337,#df5337,#de5238,#dd513a,#db503b,#da4e3c,#da4e3c,#d94d3d,#d84c3e,#d84c3e,#d94d3d,#d94d3d,#da4e3c,#db503b,#dd513a,#de5238,#df5337,#df5337,#df5337,#df5337,#e05536,#e05536,#e05536,#e05536,#e05536,#e05536,#dd513a,#d44842,#d24644,#d24644,#d54a41,#dd513a)"></div><div style="height:11.2px;background-image:linear-gradient(90deg,#d74b3f,#d74b3f,#d74b3f,#d74b3f,#d74b3f,#d74b3f,#d84c3e,#d84c3e,#d84c3e,#d84c3e,#d84c3e,#d84c3e,#d74b3f,#d74b3f,#d74b3f,#d74b3f,#d74b3f,#d74b3f,#d74b3f,#d74b3f,#d74b3f,#d74b3f,#d74b3f,#d74b3f,#d74b3f,#d54a41,#cc4248,#c13a50,#bd3853,#bf3952,#ce4347,#d84c3e,#d84c3e,#d84c3e,#d84c3e,#d84c3e,#d84c3e,#d84c3e,#d84c3e,#d84c3e,#d84c3e,#d84c3e,#d84c3e,#d74b3f,#d74b3f,#d74b3f,#d74b3f,#d74b3f,#d74b3f,#d74b3f,#d74b3f,#d74b3f,#d74b3f,#d74b3f,#d74b3f,#d74b3f,#d74b3f,#d54a41,#d54a41,#d44842,#d24644,#d04545,#cc4248,#c83f4b,#c43c4e,#c03a51,#bd3853,#bc3754,#bc3754,#bd3853,#c03a51,#c43c4e,#c83f4b,#cb4149,#cf4446,#d04545,#d34743,#d44842,#d54a41,#d74b3f,#d74b3f,#d84c3e,#d84c3e,#d84c3e,#d84c3e,#d74b3f,#d54a41,#d44842,#d44842,#d54a41,#d74b3f)"></div><div style="height:11.2px;background-image:linear-gradient(90deg,#ca404a,#ca404a,#cb4149,#cb4149,#cb4149,#cc4248,#cc4248,#cc4248,#cc4248,#cc4248,#cc4248,#cc4248,#cb4149,#ca404a,#ca404a,#c83f4b,#ca404a,#ca404a,#cb4149,#cb4149,#cc4248,#cc4248,#cc4248,#cc4248,#cc4248,#ce4347,#c83f4b,#bd3853,#bc3754,#bd3853,#c83f4b,#cf4446,#cf4446,#cf4446,#cf4446,#cf4446,#cf4446,#cf4446,#cf4446,#ce4347,#ce4347,#ce4347,#cc4248,#cb4149,#cb4149,#ca404a,#ca404a,#ca404a,#ca404a,#ca404a,#c83f4b,#c73e4c,#c63d4d,#c63d4d,#c63d4d,#c73e4c,#c73e4c,#c63d4d,#c33b4f,#bf3952,#b35,#b1325a,#a82e5f,#9f2a63,#952667,#8c2369,#85216b,#82206c,#82206c,#85216b,#8a226a,#922568,#9b2964,#a32c61,#ab2f5e,#b1325a,#b73557,#bd3853,#c33b4f,#c73e4c,#cb4149,#cc4248,#ce4347,#ce4347,#ce4347,#cc4248,#cc4248,#cb4149,#cb4149,#cb4149,#ca404a)"></div><div style="height:11.2px;background-image:linear-gradient(90deg,#b3325a,#b3325a,#b43359,#b63458,#b63458,#b73557,#b73557,#b73557,#b73557,#b35,#b73557,#b63458,#b3325a,#b0315b,#ad305d,#ab2f5e,#ab2f5e,#ae305c,#b1325a,#b63458,#b35,#ba3655,#ba3655,#bc3754,#bc3754,#bd3853,#bf3952,#bf3952,#bd3853,#c03a51,#c43c4e,#c43c4e,#c63d4d,#c63d4d,#c63d4d,#c63d4d,#c43c4e,#c43c4e,#c33b4f,#c13a50,#bf3952,#bc3754,#b63458,#b1325a,#ad305d,#ab2f5e,#ab2f5e,#ab2f5e,#ab2f5e,#a92e5e,#a52c60,#9f2a63,#9b2964,#9b2964,#9d2964,#9f2a63,#9f2a63,#9b2964,#932667,#8a226a,#801f6c,#751b6e,#6a176e,#5f136e,#540f6d,#4a0c6b,#440a68,#400a67,#400a67,#440a68,#490b6a,#510e6c,#59106e,#61136e,#67166e,#6f196e,#781c6d,#84206b,#922568,#a22b62,#b0315b,#b35,#bd3853,#bf3952,#bd3853,#bc3754,#ba3655,#b73557,#b63458,#b43359,#b3325a)"></div><div style="height:11.2px;background-image:linear-gradient(90deg,#88226a,#88226a,#8a226a,#8c2369,#8d2369,#8d2369,#8d2369,#8d2369,#8d2369,#8f2469,#902568,#8d2369,#8a226a,#85216b,#801f6c,#7f1e6c,#801f6c,#84206b,#88226a,#8d2369,#922568,#952667,#972766,#982766,#9b2964,#a02a63,#a52c60,#ad305d,#b43359,#b35,#b35,#b35,#b35,#ba3655,#ba3655,#ba3655,#b73557,#b43359,#ae305c,#a62d60,#9d2964,#902568,#84206b,#771c6d,#6f196e,#6c186e,#6c186e,#6f196e,#71196e,#6d186e,#67166e,#61136e,#5c126e,#5c126e,#5d126e,#5f136e,#5c126e,#550f6d,#4d0d6c,#450a69,#3e0966,#380962,#340a5f,#2b0b57,#230c4c,#1c0c43,#1b0c41,#190c3e,#190c3e,#190c3e,#1c0c43,#260c51,#3b0964,#3e0966,#310a5c,#2d0b59,#320a5e,#3b0964,#470b6a,#5c126e,#721a6e,#87216b,#972766,#9a2865,#952667,#902568,#8f2469,#8d2369,#8c2369,#8a226a,#88226a)"></div><div style="height:11.2px;background-image:linear-gradient(90deg,#59106e,#5a116e,#5c126e,#5f136e,#61136e,#61136e,#62146e,#62146e,#64156e,#67166e,#69166e,#6a176e,#69166e,#67166e,#65156e,#65156e,#65156e,#67166e,#69166e,#6c186e,#6c186e,#6c186e,#69166e,#69166e,#6c186e,#721a6e,#801f6c,#a22b62,#b63458,#b35,#b35,#b1325a,#a52c60,#a82e5f,#a92e5e,#a62d60,#9d2964,#902568,#82206c,#721a6e,#65156e,#59106e,#4d0d6c,#470b6a,#440a68,#440a68,#420a68,#420a68,#420a68,#3e0966,#390963,#390963,#400a67,#3e0966,#360961,#310a5c,#2d0b59,#290b55,#240c4f,#1f0c48,#1c0c43,#2b0b57,#420a68,#3d0965,#1f0c48,#110a30,#110a30,#120a32,#120a32,#110a30,#120a32,#340a5f,#59106e,#5a116e,#390963,#150b37,#150b37,#190c3e,#260c51,#4c0c6b,#5f136e,#64156e,#62146e,#5f136e,#5d126e,#5c126e,#5a116e,#5a116e,#5a116e,#59106e,#59106e)"></div><div style="height:11.2px;background-image:linear-gradient(90deg,#390963,#3b0964,#3e0966,#440a68,#470b6a,#4c0c6b,#4d0d6c,#4f0d6c,#510e6c,#540f6d,#57106e,#5c126e,#5f136e,#5f136e,#5d126e,#5c126e,#5a116e,#5c126e,#61136e,#65156e,#67166e,#62146e,#59106e,#4f0d6c,#4c0c6b,#550f6d,#741a6e,#922568,#a82e5f,#b1325a,#b1325a,#9f2a63,#7f1e6c,#84206b,#88226a,#82206c,#71196e,#5d126e,#4f0d6c,#450a69,#3e0966,#390963,#360961,#390963,#470b6a,#4d0d6c,#450a69,#360961,#2f0a5b,#290b55,#2b0b57,#400a67,#520e6d,#510e6c,#3d0965,#240c4f,#230c4c,#230c4c,#1f0c48,#190c3e,#160b39,#320a5e,#4d0d6c,#4c0c6b,#290b55,#10092d,#10092d,#110a30,#110a30,#10092d,#0e092b,#280b53,#4f0d6c,#4f0d6c,#280b53,#0d0829,#110a30,#160b39,#1f0c48,#450a69,#5c126e,#5d126e,#4f0d6c,#4a0c6b,#4f0d6c,#510e6c,#4d0d6c,#490b6a,#400a67,#3b0964,#390963)"></div><div style="height:11.2px;background-image:linear-gradient(90deg,#2d0b59,#2d0b59,#310a5c,#380962,#3d0965,#420a68,#450a69,#470b6a,#4a0c6b,#4d0d6c,#540f6d,#5c126e,#5f136e,#5f136e,#5d126e,#5a116e,#59106e,#5a116e,#61136e,#67166e,#69166e,#64156e,#57106e,#490b6a,#420a68,#4a0c6b,#6f196e,#85216b,#8d2369,#902568,#87216b,#67166e,#57106e,#5c126e,#62146e,#5a116e,#4a0c6b,#3e0966,#380962,#340a5f,#310a5c,#2f0a5b,#2f0a5b,#360961,#490b6a,#510e6c,#490b6a,#340a5f,#280b53,#230c4c,#230c4c,#380962,#4a0c6b,#4a0c6b,#340a5f,#1f0c48,#1f0c48,#210c4a,#1e0c45,#180c3c,#110a30,#150b37,#2b0b57,#290b55,#140b34,#0c0826,#0e092b,#10092d,#10092d,#0e092b,#0b0724,#0a0722,#110a30,#10092d,#09061f,#09061f,#10092d,#140b34,#180c3c,#240c4f,#3b0964,#3d0965,#340a5f,#420a68,#4a0c6b,#4c0c6b,#490b6a,#420a68,#380962,#2f0a5b,#2d0b59)"></div><div style="height:11.2px;background-image:linear-gradient(90deg,#280b53,#280b53,#2b0b57,#320a5e,#390963,#3e0966,#420a68,#440a68,#450a69,#4a0c6b,#510e6c,#5a116e,#61136e,#61136e,#5d126e,#59106e,#550f6d,#57106e,#5c126e,#62146e,#62146e,#5c126e,#510e6c,#440a68,#3d0965,#400a67,#57106e,#721a6e,#7a1d6d,#741a6e,#61136e,#4d0d6c,#490b6a,#4a0c6b,#4c0c6b,#450a69,#390963,#320a5e,#2f0a5b,#2d0b59,#2d0b59,#2b0b57,#2b0b57,#2d0b59,#340a5f,#390963,#340a5f,#2b0b57,#260c51,#210c4a,#1e0c45,#1e0c45,#230c4c,#230c4c,#1c0c43,#190c3e,#1b0c41,#1c0c43,#190c3e,#120a32,#0c0826,#09061f,#08051d,#08051d,#08051d,#09061f,#0c0826,#0d0829,#0d0829,#0b0724,#09061f,#060419,#040314,#040314,#040314,#060419,#0a0722,#0e092b,#110a30,#120a32,#140b34,#160b39,#210c4a,#320a5e,#3d0965,#400a67,#3e0966,#380962,#310a5c,#2b0b57,#280b53)"></div><div style="height:11.2px;background-image:linear-gradient(90deg,#240c4f,#240c4f,#280b53,#2f0a5b,#360961,#3b0964,#3e0966,#400a67,#440a68,#450a69,#4c0c6b,#550f6d,#5c126e,#5d126e,#5a116e,#57106e,#540f6d,#520e6d,#520e6d,#540f6d,#520e6d,#4c0c6b,#420a68,#3d0965,#390963,#390963,#3d0965,#470b6a,#4d0d6c,#4a0c6b,#450a69,#440a68,#440a68,#450a69,#440a68,#3d0965,#340a5f,#2f0a5b,#2d0b59,#2b0b57,#2b0b57,#290b55,#290b55,#290b55,#290b55,#290b55,#280b53,#260c51,#230c4c,#1f0c48,#1c0c43,#190c3e,#190c3e,#180c3c,#160b39,#150b37,#150b37,#120a32,#10092d,#0c0826,#09061f,#08051d,#07051b,#060419,#060419,#07051b,#08051d,#09061f,#09061f,#08051d,#060419,#050417,#040314,#040314,#040314,#040314,#060419,#08051d,#0a0722,#0c0826,#0e092b,#120a32,#180c3c,#1f0c48,#290b55,#2f0a5b,#310a5c,#2f0a5b,#2b0b57,#280b53,#240c4f)"></div><div style="height:11.2px;background-image:linear-gradient(90deg,#230c4c,#230c4c,#260c51,#2b0b57,#320a5e,#380962,#3b0964,#3e0966,#400a67,#420a68,#450a69,#4c0c6b,#520e6d,#550f6d,#550f6d,#540f6d,#510e6c,#4c0c6b,#470b6a,#420a68,#3e0966,#3b0964,#390963,#380962,#360961,#360961,#360961,#390963,#3d0965,#3e0966,#400a67,#420a68,#420a68,#420a68,#420a68,#390963,#310a5c,#2d0b59,#2b0b57,#2b0b57,#290b55,#290b55,#280b53,#280b53,#280b53,#260c51,#260c51,#240c4f,#210c4a,#1e0c45,#1c0c43,#190c3e,#190c3e,#180c3c,#160b39,#150b37,#110a30,#0e092b,#0b0724,#09061f,#08051d,#08051d,#07051b,#07051b,#060419,#060419,#060419,#07051b,#07051b,#060419,#060419,#050417,#050417,#040314,#040314,#040314,#050417,#060419,#09061f,#0c0826,#0e092b,#110a30,#150b37,#190c3e,#1f0c48,#240c4f,#280b53,#280b53,#260c51,#240c4f,#230c4c)"></div><div style="height:11.2px;background-image:linear-gradient(90deg,#210c4a,#210c4a,#240c4f,#280b53,#2f0a5b,#340a5f,#380962,#3b0964,#3d0965,#3e0966,#420a68,#450a69,#4a0c6b,#4f0d6c,#510e6c,#4f0d6c,#4c0c6b,#470b6a,#3e0966,#390963,#360961,#340a5f,#340a5f,#320a5e,#320a5e,#320a5e,#320a5e,#360961,#390963,#3d0965,#3e0966,#400a67,#420a68,#420a68,#400a67,#390963,#310a5c,#2d0b59,#2b0b57,#290b55,#280b53,#280b53,#260c51,#260c51,#240c4f,#240c4f,#230c4c,#230c4c,#210c4a,#1e0c45,#1c0c43,#1b0c41,#190c3e,#180c3c,#180c3c,#150b37,#110a30,#0d0829,#0b0724,#09061f,#09061f,#08051d,#08051d,#08051d,#08051d,#08051d,#07051b,#07051b,#07051b,#07051b,#07051b,#07051b,#060419,#060419,#050417,#050417,#060419,#07051b,#0a0722,#0d0829,#10092d,#110a30,#140b34,#160b39,#190c3e,#1e0c45,#210c4a,#230c4c,#210c4a,#210c4a,#210c4a)"></div><div style="height:11.2px;background-image:linear-gradient(90deg,#1f0c48,#210c4a,#230c4c,#260c51,#2b0b57,#310a5c,#340a5f,#380962,#390963,#3b0964,#3e0966,#400a67,#450a69,#4a0c6b,#4c0c6b,#4a0c6b,#450a69,#3e0966,#380962,#320a5e,#2f0a5b,#2f0a5b,#2f0a5b,#2d0b59,#2d0b59,#2d0b59,#2f0a5b,#320a5e,#380962,#3b0964,#3e0966,#400a67,#400a67,#400a67,#400a67,#390963,#310a5c,#2b0b57,#290b55,#280b53,#260c51,#260c51,#240c4f,#230c4c,#210c4a,#210c4a,#210c4a,#210c4a,#1f0c48,#1e0c45,#1e0c45,#1c0c43,#1b0c41,#190c3e,#180c3c,#160b39,#120a32,#0e092b,#0c0826,#0a0722,#0a0722,#0a0722,#0a0722,#0a0722,#0a0722,#0a0722,#0a0722,#09061f,#09061f,#09061f,#09061f,#09061f,#09061f,#08051d,#08051d,#07051b,#08051d,#0a0722,#0c0826,#0e092b,#110a30,#120a32,#140b34,#150b37,#180c3c,#1b0c41,#1c0c43,#1e0c45,#1f0c48,#1f0c48,#1f0c48)"></div><div style="height:39.6px;background-image:linear-gradient(90deg,#1f0c48,#1f0c48,#210c4a,#240c4f,#280b53,#2d0b59,#310a5c,#340a5f,#380962,#390963,#3b0964,#3d0965,#420a68,#450a69,#450a69,#440a68,#3d0965,#360961,#2f0a5b,#2b0b57,#290b55,#290b55,#290b55,#290b55,#280b53,#280b53,#290b55,#2d0b59,#320a5e,#380962,#3b0964,#3d0965,#3e0966,#400a67,#3e0966,#380962,#2f0a5b,#290b55,#280b53,#260c51,#240c4f,#230c4c,#210c4a,#210c4a,#210c4a,#1f0c48,#1f0c48,#1f0c48,#1f0c48,#1f0c48,#1e0c45,#1e0c45,#1c0c43,#1c0c43,#1b0c41,#190c3e,#150b37,#110a30,#0e092b,#0c0826,#0c0826,#0c0826,#0c0826,#0c0826,#0c0826,#0c0826,#0c0826,#0c0826,#0c0826,#0c0826,#0c0826,#0b0724,#0b0724,#0b0724,#0b0724,#0a0722,#0b0724,#0c0826,#10092d,#110a30,#120a32,#140b34,#140b34,#160b39,#180c3c,#1b0c41,#1c0c43,#1e0c45,#1e0c45,#1f0c48,#1f0c48)"></div></div></div>
<div class="r" style="left:227.9px;top:2491.9px;width:1323.8px;height:648.5px"><div class="b" style="width:1383.8px;filter:blur(6px);background-size:1323.8px 100%"><div style="height:41.2px;background-image:linear-gradient(90deg,#320a5e,#320a5e,#320a5e,#320a5e,#320a5e,#320a5e,#320a5e,#320a5e,#320a5e,#320a5e,#320a5e,#320a5e,#340a5f,#390963,#440a68,#4d0d6c,#510e6c,#520e6d,#520e6d,#4f0d6c,#4c0c6b,#490b6a,#470b6a,#440a68,#420a68,#420a68,#420a68,#400a67,#400a67,#3e0966,#390963,#2b0b57,#1e0c45,#190c3e,#1e0c45,#260c51,#2d0b59,#320a5e,#360961,#420a68,#4f0d6c,#510e6c,#4d0d6c,#3e0966,#340a5f,#3b0964,#540f6d,#62146e,#67166e,#69166e,#69166e,#67166e,#62146e,#540f6d,#3e0966,#470b6a,#520e6d,#550f6d,#550f6d,#550f6d,#550f6d,#550f6d,#4f0d6c,#400a67,#360961,#340a5f,#380962,#3e0966,#400a67,#420a68,#420a68,#420a68,#400a67,#3e0966,#380962,#320a5e,#320a5e,#380962,#450a69,#540f6d,#5c126e,#5d126e,#59106e,#4d0d6c,#3d0965,#340a5f,#320a5e,#320a5e,#320a5e,#320a5e,#320a5e)"></div><div style="height:11.2px;background-image:linear-gradient(90deg,#420a68,#420a68,#420a68,#440a68,#470b6a,#4d0d6c,#510e6c,#4f0d6c,#4a0c6b,#450a69,#440a68,#470b6a,#550f6d,#6c186e,#71196e,#67166e,#5d126e,#59106e,#59106e,#5a116e,#550f6d,#510e6c,#4d0d6c,#4c0c6b,#4a0c6b,#470b6a,#440a68,#420a68,#420a68,#470b6a,#4a0c6b,#440a68,#310a5c,#1c0c43,#180c3c,#1c0c43,#210c4a,#260c51,#320a5e,#4a0c6b,#540f6d,#550f6d,#540f6d,#4f0d6c,#450a69,#4c0c6b,#5f136e,#67166e,#69166e,#6a176e,#6a176e,#69166e,#67166e,#5f136e,#510e6c,#510e6c,#550f6d,#57106e,#59106e,#5a116e,#5c126e,#5d126e,#5d126e,#5c126e,#550f6d,#540f6d,#510e6c,#470b6a,#450a69,#440a68,#440a68,#450a69,#450a69,#450a69,#470b6a,#4d0d6c,#4c0c6b,#520e6d,#61136e,#67166e,#69166e,#69166e,#69166e,#64156e,#5a116e,#4c0c6b,#450a69,#440a68,#420a68,#420a68,#420a68)"></div><div style="height:11.2px;background-image:linear-gradient(90deg,#550f6d,#57106e,#57106e,#5a116e,#62146e,#65156e,#67166e,#67166e,#65156e,#5d126e,#57106e,#62146e,#7f1e6c,#8a226a,#88226a,#7d1e6d,#6c186e,#61136e,#62146e,#6a176e,#6c186e,#64156e,#5f136e,#61136e,#5f136e,#5a116e,#520e6d,#4d0d6c,#4d0d6c,#4f0d6c,#4f0d6c,#490b6a,#390963,#230c4c,#160b39,#160b39,#160b39,#1b0c41,#310a5c,#4d0d6c,#550f6d,#550f6d,#550f6d,#540f6d,#520e6d,#550f6d,#61136e,#67166e,#69166e,#6a176e,#6a176e,#6a176e,#6c186e,#771c6d,#801f6c,#721a6e,#61136e,#61136e,#62146e,#64156e,#67166e,#69166e,#6f196e,#751b6e,#781c6d,#771c6d,#741a6e,#62146e,#520e6d,#4f0d6c,#540f6d,#61136e,#781c6d,#922568,#9b2964,#ae305c,#b63458,#952667,#6c186e,#6f196e,#6f196e,#6d186e,#6a176e,#67166e,#62146e,#5c126e,#59106e,#550f6d,#550f6d,#550f6d,#550f6d)"></div><div style="height:11.2px;background-image:linear-gradient(90deg,#69166e,#69166e,#69166e,#69166e,#6a176e,#6a176e,#6a176e,#6c186e,#6c186e,#6c186e,#69166e,#7c1d6d,#9a2865,#a22b62,#9b2964,#8f2469,#7f1e6c,#6f196e,#6f196e,#7a1d6d,#7f1e6c,#7a1d6d,#751b6e,#741a6e,#741a6e,#6f196e,#67166e,#64156e,#64156e,#5c126e,#4d0d6c,#440a68,#340a5f,#210c4a,#190c3e,#180c3c,#180c3c,#1f0c48,#4c0c6b,#62146e,#67166e,#6c186e,#721a6e,#6d186e,#62146e,#61136e,#62146e,#69166e,#741a6e,#82206c,#8a226a,#8c2369,#952667,#a02a63,#a22b62,#9f2a63,#88226a,#6f196e,#6a176e,#6c186e,#6d186e,#721a6e,#7a1d6d,#7f1e6c,#7f1e6c,#7f1e6c,#7d1e6d,#771c6d,#65156e,#5d126e,#6f196e,#8d2369,#b43359,#c73e4c,#b35,#bd3853,#cb4149,#c13a50,#751b6e,#88226a,#982766,#84206b,#6f196e,#7c1d6d,#8f2469,#801f6c,#771c6d,#6a176e,#67166e,#67166e,#69166e)"></div><div style="height:11.2px;background-image:linear-gradient(90deg,#6a176e,#6a176e,#6a176e,#6c186e,#6c186e,#6c186e,#6d186e,#6f196e,#71196e,#721a6e,#71196e,#7c1d6d,#ab2f5e,#b35,#b1325a,#9d2964,#87216b,#771c6d,#721a6e,#771c6d,#781c6d,#751b6e,#741a6e,#751b6e,#771c6d,#721a6e,#6d186e,#6a176e,#6a176e,#67166e,#550f6d,#4a0c6b,#470b6a,#360961,#280b53,#240c4f,#230c4c,#2b0b57,#5a116e,#751b6e,#922568,#ba3655,#c63d4d,#b3325a,#85216b,#71196e,#741a6e,#932667,#a92e5e,#ab2f5e,#ab2f5e,#ab2f5e,#a92e5e,#a82e5f,#a62d60,#a82e5f,#a82e5f,#982766,#801f6c,#7c1d6d,#7c1d6d,#7f1e6c,#82206c,#85216b,#87216b,#84206b,#801f6c,#7c1d6d,#721a6e,#65156e,#6f196e,#85216b,#9a2865,#a62d60,#a52c60,#a82e5f,#a52c60,#7a1d6d,#5a116e,#6f196e,#85216b,#7c1d6d,#6d186e,#8f2469,#9b2964,#88226a,#7d1e6d,#6f196e,#6a176e,#6a176e,#6a176e)"></div><div style="height:11.2px;background-image:linear-gradient(90deg,#6c186e,#6c186e,#6c186e,#6f196e,#7a1d6d,#771c6d,#741a6e,#771c6d,#7a1d6d,#781c6d,#71196e,#6d186e,#84206b,#a92e5e,#a52c60,#88226a,#721a6e,#69166e,#64156e,#61136e,#61136e,#5f136e,#5f136e,#65156e,#6d186e,#6d186e,#6c186e,#6a176e,#6a176e,#6a176e,#5f136e,#57106e,#540f6d,#450a69,#380962,#360961,#360961,#3d0965,#8d2369,#c43c4e,#d04545,#d44842,#d34743,#cb4149,#a82e5f,#85216b,#922568,#a22b62,#ab2f5e,#b3325a,#b43359,#b35,#b73557,#ae305c,#ab2f5e,#ae305c,#b43359,#b43359,#a82e5f,#9b2964,#932667,#8f2469,#8f2469,#932667,#972766,#902568,#84206b,#7f1e6c,#781c6d,#6d186e,#69166e,#6a176e,#6c186e,#65156e,#67166e,#6f196e,#71196e,#5f136e,#4f0d6c,#4f0d6c,#57106e,#5d126e,#5c126e,#61136e,#6a176e,#6f196e,#6d186e,#6a176e,#6a176e,#6a176e,#6c186e)"></div><div style="height:11.2px;background-image:linear-gradient(90deg,#6c186e,#6c186e,#6f196e,#8c2369,#b63458,#ae305c,#8c2369,#85216b,#8c2369,#801f6c,#6f196e,#6d186e,#6d186e,#71196e,#6d186e,#67166e,#64156e,#64156e,#61136e,#5c126e,#59106e,#59106e,#59106e,#5c126e,#62146e,#67166e,#67166e,#67166e,#6a176e,#6d186e,#6a176e,#550f6d,#520e6d,#520e6d,#4d0d6c,#470b6a,#420a68,#510e6c,#b35,#d34743,#d54a41,#d54a41,#d44842,#ce4347,#b63458,#9d2964,#a32c61,#a22b62,#a62d60,#b43359,#c03a51,#c73e4c,#c63d4d,#bd3853,#b43359,#b63458,#b35,#b35,#b3325a,#a92e5e,#a02a63,#9d2964,#a62d60,#a92e5e,#a52c60,#982766,#87216b,#7f1e6c,#7a1d6d,#721a6e,#6d186e,#6c186e,#69166e,#64156e,#69166e,#84206b,#982766,#8c2369,#64156e,#510e6c,#550f6d,#5d126e,#5d126e,#5c126e,#5d126e,#62146e,#67166e,#69166e,#6a176e,#6c186e,#6c186e)"></div><div style="height:11.2px;background-image:linear-gradient(90deg,#6f196e,#6f196e,#7f1e6c,#b35,#ca404a,#c83f4b,#b63458,#a22b62,#a82e5f,#952667,#781c6d,#87216b,#87216b,#741a6e,#6d186e,#69166e,#65156e,#65156e,#64156e,#5f136e,#5a116e,#5a116e,#5a116e,#5d126e,#64156e,#64156e,#64156e,#64156e,#69166e,#751b6e,#7a1d6d,#741a6e,#67166e,#65156e,#64156e,#5d126e,#57106e,#721a6e,#c13a50,#d24644,#d44842,#d44842,#d34743,#d54a41,#e35933,#cc4248,#a92e5e,#ad305d,#c03a51,#da4e3c,#d94d3d,#d74b3f,#d54a41,#d44842,#d44842,#cc4248,#c33b4f,#c03a51,#bc3754,#b43359,#ae305c,#ba3655,#d24644,#d04545,#bd3853,#a32c61,#922568,#88226a,#801f6c,#7a1d6d,#721a6e,#6d186e,#69166e,#65156e,#6a176e,#88226a,#a52c60,#a02a63,#7c1d6d,#62146e,#65156e,#65156e,#62146e,#62146e,#67166e,#6d186e,#6c186e,#6c186e,#6c186e,#6d186e,#6f196e)"></div><div style="height:11.2px;background-image:linear-gradient(90deg,#87216b,#8a226a,#a32c61,#c63d4d,#ce4347,#d54a41,#d54a41,#ba3655,#ae305c,#9b2964,#a02a63,#b35,#ba3655,#a62d60,#952667,#84206b,#6d186e,#6a176e,#6a176e,#69166e,#64156e,#62146e,#62146e,#67166e,#6c186e,#67166e,#65156e,#69166e,#71196e,#771c6d,#781c6d,#7d1e6d,#781c6d,#6f196e,#6d186e,#6f196e,#801f6c,#a22b62,#b73557,#c73e4c,#cc4248,#d24644,#e9612b,#f57d15,#fa9008,#f98e09,#d44842,#ca404a,#ea632a,#f1711f,#ee6a24,#eb6628,#ec6726,#ed6925,#eb6429,#e9612b,#e35933,#de5238,#d74b3f,#c83f4b,#c33b4f,#dd513a,#e65d2f,#e55c30,#da4e3c,#b35,#ae305c,#a02a63,#8f2469,#85216b,#7c1d6d,#71196e,#6c186e,#67166e,#65156e,#721a6e,#87216b,#87216b,#741a6e,#6a176e,#6a176e,#69166e,#67166e,#6d186e,#7d1e6d,#84206b,#7d1e6d,#741a6e,#721a6e,#7a1d6d,#87216b)"></div><div style="height:11.2px;background-image:linear-gradient(90deg,#b3325a,#b43359,#b73557,#c13a50,#d24644,#da4e3c,#da4e3c,#d04545,#b1325a,#a32c61,#b73557,#c63d4d,#db503b,#e15635,#b63458,#9d2964,#7d1e6d,#6f196e,#741a6e,#751b6e,#6c186e,#65156e,#67166e,#721a6e,#781c6d,#741a6e,#751b6e,#771c6d,#781c6d,#781c6d,#7c1d6d,#88226a,#9b2964,#952667,#902568,#9f2a63,#b1325a,#b73557,#b73557,#ba3655,#c03a51,#e8602d,#f57b17,#f78410,#fa9407,#fc9f07,#fb9706,#f8890c,#f68013,#f57b17,#f57b17,#f2741c,#f3761b,#f3761b,#f1711f,#f1711f,#f06f20,#ea632a,#e75e2e,#e45a31,#e15635,#e9612b,#ea632a,#e8602d,#dd513a,#bf3952,#b73557,#ad305d,#972766,#8d2369,#82206c,#741a6e,#6f196e,#6c186e,#67166e,#67166e,#6c186e,#6c186e,#6c186e,#6d186e,#6f196e,#6f196e,#6f196e,#801f6c,#8f2469,#902568,#8f2469,#8a226a,#8d2369,#a52c60,#b3325a)"></div><div style="height:11.2px;background-image:linear-gradient(90deg,#c43c4e,#c43c4e,#c43c4e,#c43c4e,#ca404a,#d44842,#d44842,#ca404a,#c43c4e,#c33b4f,#c13a50,#d34743,#ef6e21,#ed6925,#d04545,#c13a50,#ab2f5e,#84206b,#7f1e6c,#801f6c,#7d1e6d,#741a6e,#71196e,#781c6d,#781c6d,#7c1d6d,#801f6c,#801f6c,#82206c,#801f6c,#9b2964,#b35,#c33b4f,#c43c4e,#c33b4f,#c33b4f,#c43c4e,#c43c4e,#c43c4e,#c43c4e,#ca404a,#ed6925,#f57b17,#f78410,#fa9407,#fca108,#fb9d07,#fb9706,#fa9008,#f8850f,#f78410,#f57b17,#f47918,#f47918,#f57b17,#f78410,#f78410,#f1711f,#ef6c23,#f2741c,#f47918,#f47918,#f2741c,#ee6a24,#e75e2e,#c83f4b,#b0315b,#922568,#84206b,#88226a,#82206c,#771c6d,#721a6e,#6f196e,#6c186e,#6d186e,#71196e,#6f196e,#6f196e,#7a1d6d,#8d2369,#902568,#8f2469,#932667,#952667,#952667,#972766,#a02a63,#b35,#c33b4f,#c43c4e)"></div><div style="height:11.2px;background-image:linear-gradient(90deg,#d04545,#d04545,#d04545,#d04545,#d04545,#d04545,#d04545,#d04545,#d04545,#d04545,#d04545,#d44842,#eb6429,#eb6628,#e75e2e,#e25734,#d54a41,#bd3853,#9b2964,#922568,#9a2865,#9a2865,#902568,#801f6c,#7c1d6d,#801f6c,#8a226a,#902568,#a02a63,#a62d60,#c13a50,#ca404a,#cc4248,#ce4347,#d04545,#d04545,#d04545,#d04545,#d04545,#d04545,#d24644,#e65d2f,#f47918,#f8850f,#fb9906,#fca309,#fca108,#f98b0b,#f78410,#f78410,#f37819,#e05536,#ef6c23,#f47918,#f78410,#fa9207,#fb9606,#f98b0b,#f78410,#f8890c,#f78410,#f68013,#f57d15,#f37819,#f2741c,#e55c30,#9f2a63,#7d1e6d,#741a6e,#7d1e6d,#801f6c,#801f6c,#7d1e6d,#7d1e6d,#801f6c,#82206c,#7f1e6c,#7a1d6d,#7d1e6d,#8a226a,#932667,#952667,#9b2964,#b3325a,#a52c60,#a22b62,#ab2f5e,#c13a50,#cf4446,#d04545,#d04545)"></div><div style="height:11.2px;background-image:linear-gradient(90deg,#db503b,#db503b,#db503b,#db503b,#db503b,#db503b,#db503b,#db503b,#db503b,#db503b,#db503b,#db503b,#de5238,#f06f20,#f57d15,#f1711f,#de5238,#ce4347,#bd3853,#ad305d,#ae305c,#b63458,#ca404a,#b63458,#952667,#a92e5e,#bf3952,#b35,#b73557,#ba3655,#ca404a,#cc4248,#cf4446,#d74b3f,#db503b,#db503b,#db503b,#db503b,#db503b,#db503b,#db503b,#e05536,#f3761b,#fb9d07,#fca60c,#fca50a,#fca108,#f1731d,#f2741c,#f8850f,#f47918,#de5238,#e75e2e,#f57b17,#f8890c,#fb9b06,#fc9f07,#fb9606,#f98c0a,#f98c0a,#f98e09,#f8890c,#f68013,#f37819,#ee6a24,#da4e3c,#ad305d,#952667,#7f1e6c,#801f6c,#85216b,#8d2369,#972766,#9b2964,#9b2964,#8f2469,#8a226a,#88226a,#8a226a,#8d2369,#9d2964,#ad305d,#b63458,#d74b3f,#d34743,#d24644,#d74b3f,#da4e3c,#db503b,#db503b,#db503b)"></div><div style="height:11.2px;background-image:linear-gradient(90deg,#e65d2f,#e65d2f,#e65d2f,#e65d2f,#e65d2f,#e65d2f,#e65d2f,#e65d2f,#e65d2f,#e65d2f,#e65d2f,#e65d2f,#e65d2f,#f1711f,#f8850f,#f78410,#f1711f,#d94d3d,#c33b4f,#c73e4c,#cf4446,#d44842,#df5337,#de5238,#db503b,#e35933,#de5238,#d44842,#c33b4f,#c03a51,#d04545,#d44842,#db503b,#e45a31,#e65d2f,#e65d2f,#e65d2f,#e65d2f,#e65d2f,#e65d2f,#e65d2f,#ea632a,#fb9d07,#fbb81d,#fbb81d,#fcb014,#fca309,#fa9407,#fca60c,#fc9f07,#fb9706,#f8870e,#f8890c,#fb9d07,#fb9b06,#fb9706,#fb9b06,#fb9b06,#fa9008,#fb9d07,#fbb81d,#fcb418,#fb9606,#f06f20,#cc4248,#bd3853,#b35,#a92e5e,#952667,#8d2369,#8f2469,#972766,#9d2964,#a02a63,#a52c60,#9b2964,#922568,#932667,#922568,#922568,#ae305c,#b43359,#bc3754,#e45a31,#e55c30,#e55c30,#e55c30,#e65d2f,#e65d2f,#e65d2f,#e65d2f)"></div><div style="height:11.2px;background-image:linear-gradient(90deg,#ee6a24,#ee6a24,#ee6a24,#ee6a24,#ee6a24,#ee6a24,#ee6a24,#ee6a24,#ee6a24,#ee6a24,#ee6a24,#ee6a24,#ee6a24,#f37819,#fca50a,#fb9b06,#f8890c,#eb6429,#ca404a,#d74b3f,#e25734,#e35933,#e45a31,#e8602d,#f57d15,#f47918,#e9612b,#df5337,#d54a41,#d54a41,#e9612b,#ec6726,#ed6925,#ee6a24,#ee6a24,#ee6a24,#ee6a24,#ee6a24,#ee6a24,#ee6a24,#ee6a24,#f2741c,#fcac11,#fbba1f,#fbbc21,#fbbc21,#fbb61a,#fcac11,#fcb216,#fcaa0f,#fbb81d,#fbba1f,#fcaa0f,#fcac11,#fca108,#fa9207,#fc9f07,#fbb81d,#fcb216,#fac228,#f7d13d,#f8cf3a,#fac026,#eb6628,#b43359,#b63458,#ba3655,#a32c61,#8f2469,#922568,#952667,#9f2a63,#a62d60,#ae305c,#b63458,#ba3655,#bc3754,#c33b4f,#c13a50,#d04545,#cf4446,#bd3853,#d04545,#ed6925,#ee6a24,#ee6a24,#ee6a24,#ee6a24,#ee6a24,#ee6a24,#ee6a24)"></div><div style="height:11.2px;background-image:linear-gradient(90deg,#f47918,#f47918,#f47918,#f47918,#f47918,#f47918,#f47918,#f47918,#f47918,#f47918,#f47918,#f47918,#f47918,#f98e09,#fbb61a,#fcb014,#fb9606,#f78410,#df5337,#e05536,#e8602d,#ee6a24,#f57b17,#fb9606,#fca309,#fa9207,#f57b17,#e9612b,#e75e2e,#f1731d,#f47918,#f47918,#f47918,#f47918,#f47918,#f47918,#f47918,#f47918,#f47918,#f47918,#f47918,#f8870e,#fcb418,#fac026,#fac026,#f9cb35,#f6d543,#f7d13d,#f9c72f,#fbbc21,#fac62d,#fac42a,#fcae12,#fcae12,#fcac11,#fca309,#fac42a,#fac42a,#f9c72f,#f6d543,#f7d13d,#f9cb35,#fac228,#f2741c,#972766,#982766,#982766,#82206c,#82206c,#8d2369,#922568,#b0315b,#c33b4f,#c43c4e,#c83f4b,#ce4347,#ce4347,#ce4347,#d44842,#de5238,#de5238,#e05536,#f1731d,#f47918,#f47918,#f47918,#f47918,#f47918,#f47918,#f47918,#f47918)"></div><div style="height:11.2px;background-image:linear-gradient(90deg,#f8890c,#f8890c,#f8890c,#f8890c,#f8890c,#f8890c,#f8890c,#f8890c,#f8890c,#f8890c,#f8890c,#f8890c,#f8890c,#fa9008,#fcb418,#fcb014,#fca108,#fb9906,#e8602d,#e55c30,#f37819,#fa9008,#fcae12,#fbbe23,#fbbc21,#fca309,#fa9008,#f67e14,#f67e14,#f8890c,#f8890c,#f8890c,#f8890c,#f8890c,#f8890c,#f8890c,#f8890c,#f8890c,#f8890c,#f8890c,#f98e09,#fbbc21,#f7d340,#f8cf3a,#f7d340,#f4e156,#f4dd4f,#f2ea69,#f1ed71,#f2e865,#f3e55d,#f4e156,#f9c72f,#fac62d,#f5db4c,#f2e661,#f1ef75,#f4dd4f,#f5d949,#f4dd4f,#f8cf3a,#fac026,#fbbc21,#f98b0b,#8d2369,#7c1d6d,#7a1d6d,#721a6e,#781c6d,#84206b,#8f2469,#c83f4b,#cf4446,#cf4446,#d54a41,#db503b,#d44842,#cf4446,#d94d3d,#de5238,#de5238,#e45a31,#f8850f,#f8890c,#f8890c,#f8890c,#f8890c,#f8890c,#f8890c,#f8890c,#f8890c)"></div><div style="height:11.2px;background-image:linear-gradient(90deg,#fb9906,#fb9906,#fb9906,#fb9906,#fb9906,#fb9906,#fb9906,#fb9906,#fb9906,#fb9906,#fb9906,#fb9906,#fb9906,#fb9b06,#fca108,#fca50a,#fca50a,#fca309,#f3761b,#f06f20,#f78410,#fb9706,#fcb014,#fac026,#fac228,#fbb61a,#fc9f07,#fb9706,#fb9906,#fb9906,#fb9906,#fb9906,#fb9906,#fb9906,#fb9906,#fb9906,#fb9906,#fb9906,#fb9906,#fb9b06,#fcaa0f,#f6d543,#f4dd4f,#f5db4c,#f4e156,#f1f179,#f1ef75,#f1ef75,#f1ef75,#f1ed71,#f1ec6d,#f2ea69,#f3e35a,#f4df53,#f2ea69,#f2f482,#f3f586,#f1ed71,#f3e55d,#f5db4c,#f9c932,#fbba1f,#fbb61a,#fca309,#d84c3e,#a02a63,#9b2964,#7a1d6d,#7a1d6d,#82206c,#a22b62,#da4e3c,#de5238,#e15635,#e25734,#e35933,#e45a31,#e15635,#ec6726,#e45a31,#e45a31,#f37819,#fb9906,#fb9906,#fb9906,#fb9906,#fb9906,#fb9906,#fb9906,#fb9906,#fb9906)"></div><div style="height:11.2px;background-image:linear-gradient(90deg,#fcac11,#fcac11,#fcac11,#fcac11,#fcac11,#fcac11,#fcac11,#fcac11,#fcac11,#fcac11,#fcac11,#fcac11,#fcac11,#fcac11,#fcac11,#fca60c,#fca50a,#fca50a,#fb9906,#f68013,#f78410,#fb9706,#fcb014,#fbbc21,#fbba1f,#fcb418,#fcb014,#fcac11,#fcac11,#fcac11,#fcac11,#fcac11,#fcac11,#fcac11,#fcac11,#fcac11,#fcac11,#fcac11,#fcac11,#fcac11,#fbbe23,#f8cd37,#f5d949,#f3e55d,#f1ec6d,#f2f27d,#f1ef75,#f1ec6d,#f1ed71,#f1ed71,#f1ec6d,#f2e865,#f3e55d,#f3e35a,#f1ed71,#f1f179,#f1ec6d,#f2e865,#f3e35a,#f8cf3a,#fac228,#fbb81d,#fcb014,#fca80d,#fa9407,#f06f20,#e15635,#bd3853,#b63458,#b0315b,#d84c3e,#e35933,#e9612b,#ee6a24,#e8602d,#e8602d,#ef6e21,#fb9906,#fca80d,#fb9706,#fb9706,#fca80d,#fcac11,#fcac11,#fcac11,#fcac11,#fcac11,#fcac11,#fcac11,#fcac11,#fcac11)"></div><div style="height:11.2px;background-image:linear-gradient(90deg,#fbbe23,#fbbe23,#fbbe23,#fbbe23,#fbbe23,#fbbe23,#fbbe23,#fbbe23,#fbbe23,#fbbe23,#fbbe23,#fbbe23,#fbbe23,#fbbe23,#fbbe23,#fcb014,#fca60c,#fca60c,#fca108,#f98b0b,#f57d15,#f98e09,#fcb418,#fbba1f,#fcb418,#fcb014,#fcb014,#fcb014,#fcb216,#fbb81d,#fbbe23,#fbbe23,#fbbe23,#fbbe23,#fbbe23,#fbbe23,#fbbe23,#fbbe23,#fbbe23,#fbbe23,#fac228,#fac62d,#f8cd37,#f3e35a,#f1ed71,#f1ec6d,#f1ec6d,#f2e865,#f1ec6d,#f1ec6d,#f3e55d,#f3e55d,#f3e35a,#f4df53,#f2e865,#f3e55d,#f8cd37,#f8cf3a,#f7d13d,#fac228,#fbbe23,#fbb81d,#fcae12,#fca80d,#fca60c,#fb9b06,#f68013,#f2741c,#f57d15,#f57d15,#ed6925,#eb6429,#ef6e21,#f1711f,#f1711f,#f67e14,#f98b0b,#fcb418,#fbbc21,#fbbe23,#fbbe23,#fbbe23,#fbbe23,#fbbe23,#fbbe23,#fbbe23,#fbbe23,#fbbe23,#fbbe23,#fbbe23,#fbbe23)"></div><div style="height:11.2px;background-image:linear-gradient(90deg,#fbbe23,#fbbe23,#fbbe23,#fbbe23,#fbbe23,#fbbe23,#fbbe23,#fbbe23,#fbbe23,#fbbe23,#fbbe23,#fbbe23,#fbbe23,#fbbe23,#fbbe23,#fbba1f,#fcaa0f,#fca60c,#fca309,#f98e09,#f68013,#fb9906,#fbb61a,#fbb81d,#fcb418,#fcb014,#fcb014,#fcb014,#fcb014,#fcb418,#fbbe23,#fbbe23,#fbbe23,#fbbe23,#fbbe23,#fbbe23,#fbbe23,#fbbe23,#fbbe23,#fbbe23,#fac026,#fac42a,#f9c932,#f6d746,#f3e35a,#f4e156,#f2ea69,#f2ea69,#f2ea69,#f2e865,#f5d949,#f4dd4f,#f4df53,#f5d949,#f5db4c,#f8cd37,#fbb81d,#fac026,#f9c72f,#fac026,#fbbe23,#fbba1f,#fcb014,#fcae12,#fbb61a,#fcb014,#fb9b06,#f98b0b,#fa9008,#fb9606,#f68013,#f37819,#f8870e,#f67e14,#f98c0a,#fa9207,#fc9f07,#fbb81d,#fbbc21,#fbbe23,#fbbe23,#fbbe23,#fbbe23,#fbbe23,#fbbe23,#fbbe23,#fbbe23,#fbbe23,#fbbe23,#fbbe23,#fbbe23)"></div><div style="height:11.2px;background-image:linear-gradient(90deg,#fbbe23,#fbbe23,#fbbe23,#fbbe23,#fbbe23,#fbbe23,#fbbe23,#fbbe23,#fbbe23,#fbbe23,#fbbe23,#fbbe23,#fbbe23,#fbbe23,#fbbe23,#fbbe23,#fbba1f,#fcb216,#fb9b06,#f8850f,#fa9207,#fca50a,#fbb61a,#fbb81d,#fbb61a,#fcb014,#fcb014,#fcb014,#fcb014,#fcb418,#fac026,#fac026,#fbbe23,#fbbe23,#fbbe23,#fbbe23,#fbbe23,#fbbe23,#fbbe23,#fbbe23,#fbbe23,#fac228,#f9c72f,#f8cd37,#f7d340,#f6d746,#f2e661,#f2ea69,#f3e55d,#f5db4c,#f9c932,#f7d340,#f5d949,#f7d13d,#f8cf3a,#fbba1f,#fcaa0f,#fbba1f,#f9c72f,#fac026,#fbbe23,#fbbe23,#fbb81d,#fbba1f,#fbbc21,#fbbc21,#fcb216,#fb9606,#fb9906,#fc9f07,#fca60c,#fcaa0f,#fb9d07,#fb9906,#fcae12,#fcb418,#fbb81d,#fbba1f,#fbbc21,#fbbc21,#fbbe23,#fbbe23,#fbbe23,#fbbe23,#fbbe23,#fbbe23,#fbbe23,#fbbe23,#fbbe23,#fbbe23,#fbbe23)"></div><div style="height:11.2px;background-image:linear-gradient(90deg,#fbbe23,#fbbe23,#fbbe23,#fbbe23,#fbbe23,#fbbe23,#fbbe23,#fbbe23,#fbbe23,#fbbe23,#fbbe23,#fbbe23,#fbbe23,#fbbe23,#fbbe23,#fbbe23,#fbbe23,#fbbc21,#fca50a,#f98e09,#fca108,#fca60c,#fcb418,#fbb61a,#fbb61a,#fcb216,#fcb014,#fcb014,#fcb216,#fbbc21,#fac228,#fac026,#fbbe23,#fbbe23,#fbbe23,#fbbe23,#fbbe23,#fbbe23,#fbbe23,#fbbe23,#fbba1f,#fbbc21,#fac026,#fac62d,#f9c72f,#f9c932,#f7d13d,#f7d340,#f9c932,#fbbe23,#fbb81d,#fbbe23,#f9cb35,#f9c72f,#fac42a,#fca309,#fb9606,#fca309,#fac228,#fac228,#fbbe23,#fbbe23,#fbbe23,#fbbe23,#fbbe23,#fbbe23,#fbbc21,#fcae12,#fca309,#fcac11,#fcb418,#fcae12,#fca60c,#fcaa0f,#fbb81d,#fbba1f,#fbba1f,#fbbc21,#fbbc21,#fbbc21,#fbbe23,#fbbe23,#fbbe23,#fbbe23,#fbbe23,#fbbe23,#fbbe23,#fbbe23,#fbbe23,#fbbe23,#fbbe23)"></div><div style="height:11.2px;background-image:linear-gradient(90deg,#fbbe23,#fbbe23,#fbbe23,#fbbe23,#fbbe23,#fbbe23,#fbbe23,#fbbe23,#fbbe23,#fbbe23,#fbbe23,#fbbe23,#fbbe23,#fbbe23,#fbbe23,#fbbe23,#fbbe23,#fbbe23,#fbbc21,#fcb216,#fca80d,#fca80d,#fcb418,#fcb418,#fcb418,#fbb61a,#fbb81d,#fbb81d,#fbbe23,#fac228,#fac228,#fac228,#fac026,#fbbe23,#fbbe23,#fbbe23,#fbbe23,#fbbe23,#fbbe23,#fbbe23,#fbbc21,#fbba1f,#fbbe23,#fac228,#fac228,#fac026,#fac026,#fac026,#fbbe23,#fbb81d,#fcb418,#fbb61a,#fac026,#fbbe23,#fcb014,#f8850f,#fa9407,#fb9906,#fbb61a,#fac026,#fbbe23,#fbbe23,#fbbe23,#fbbe23,#fbbe23,#fbbe23,#fbbe23,#fbbc21,#fbb81d,#fbb81d,#fbb81d,#fcb014,#fcaa0f,#fcb418,#fbba1f,#fbba1f,#fbbc21,#fbbc21,#fbbc21,#fbbe23,#fbbe23,#fbbe23,#fbbe23,#fbbe23,#fbbe23,#fbbe23,#fbbe23,#fbbe23,#fbbe23,#fbbe23,#fbbe23)"></div><div style="height:11.2px;background-image:linear-gradient(90deg,#fbbe23,#fbbe23,#fbbe23,#fbbe23,#fbbe23,#fbbe23,#fbbe23,#fbbe23,#fbbe23,#fbbe23,#fbbe23,#fbbe23,#fbbe23,#fbbe23,#fbbe23,#fbbe23,#fbbe23,#fbbe23,#fbbe23,#fbbe23,#fbba1f,#fbb81d,#fbb61a,#fcb418,#fcb418,#fbb61a,#fcac11,#fbbe23,#fac228,#fac42a,#fac228,#fac228,#fac026,#fbbe23,#fbbe23,#fbbe23,#fbbe23,#fbbe23,#fbbe23,#fbbe23,#fbbe23,#fbbe23,#fac026,#fac228,#fac228,#fac026,#fbbe23,#fbbe23,#fbbc21,#fbba1f,#fbb61a,#fbb61a,#fbbc21,#fbbc21,#fb9706,#f47918,#fcac11,#fac228,#fac62d,#fac026,#fbbe23,#fbbe23,#fbbe23,#fbbe23,#fbbe23,#fbbe23,#fbbe23,#fbbe23,#fbbe23,#fbbe23,#fbbc21,#fbb61a,#fcb216,#fbba1f,#fbbc21,#fbbc21,#fbbc21,#fbbc21,#fbbc21,#fbbc21,#fbbc21,#fbbe23,#fbbe23,#fbbe23,#fbbe23,#fbbe23,#fbbe23,#fbbe23,#fbbe23,#fbbe23,#fbbe23)"></div><div style="height:11.2px;background-image:linear-gradient(90deg,#fbbe23,#fbbe23,#fbbe23,#fbbe23,#fbbe23,#fbbe23,#fbbe23,#fbbe23,#fbbe23,#fbbe23,#fbbe23,#fbbe23,#fbbe23,#fbbe23,#fbbe23,#fbbe23,#fbbe23,#fbbe23,#fbbe23,#fbbe23,#fbbe23,#fbbe23,#fbba1f,#fbb61a,#fbb61a,#fca60c,#f98b0b,#fcaa0f,#fac228,#fac228,#fac228,#fac026,#fbbe23,#fbbe23,#fbbe23,#fbbc21,#fbbc21,#fbbe23,#fbbe23,#fac026,#fac026,#fac228,#fac228,#fac42a,#fac228,#fac026,#fbbe23,#fbbc21,#fbba1f,#fbb81d,#fbb61a,#fbb61a,#fbb81d,#fbb81d,#f8870e,#f67e14,#fac228,#f9cb35,#f9cb35,#fac026,#fbbe23,#fbbe23,#fbbe23,#fbbe23,#fbbe23,#fbbe23,#fbbe23,#fbbe23,#fbbe23,#fbbe23,#fbbe23,#fbbc21,#fbbc21,#fbbe23,#fbbc21,#fbbc21,#fbbc21,#fbbc21,#fbbc21,#fbbc21,#fbba1f,#fbbc21,#fbbe23,#fbbe23,#fbbe23,#fbbe23,#fbbe23,#fbbe23,#fbbe23,#fbbe23,#fbbe23)"></div><div style="height:11.2px;background-image:linear-gradient(90deg,#fbbe23,#fbbe23,#fbbe23,#fbbe23,#fbbe23,#fbbe23,#fbbe23,#fbbe23,#fbbe23,#fbbe23,#fbbe23,#fbbe23,#fbbe23,#fbbe23,#fbbe23,#fbbe23,#fbbe23,#fbbe23,#fbbe23,#fbbe23,#fbbe23,#fbbe23,#fbbe23,#fbba1f,#fbba1f,#fa9008,#f8870e,#fca50a,#fac228,#fac228,#fac228,#fac026,#fbbe23,#fbbe23,#fbbc21,#fbbc21,#fbba1f,#fbbc21,#fbbe23,#fac026,#fac228,#fac228,#fac42a,#fac42a,#fac228,#fac026,#fbbc21,#fbba1f,#fbb81d,#fbb61a,#fcb418,#fcb418,#fcb418,#fcb014,#f78212,#fb9706,#f9c932,#f8cd37,#f9cb35,#fac026,#fbbe23,#fbbe23,#fbbe23,#fbbe23,#fbbe23,#fbbe23,#fbbe23,#fbbe23,#fbbe23,#fbbe23,#fbbe23,#fbbe23,#fbbe23,#fbbe23,#fbbc21,#fbbc21,#fbbc21,#fbbc21,#fbba1f,#fbba1f,#fbba1f,#fbba1f,#fbbe23,#fbbe23,#fbbe23,#fbbe23,#fbbe23,#fbbe23,#fbbe23,#fbbe23,#fbbe23)"></div><div style="height:11.2px;background-image:linear-gradient(90deg,#fbbe23,#fbbe23,#fbbe23,#fbbe23,#fbbe23,#fbbe23,#fbbe23,#fbbe23,#fbbe23,#fbbe23,#fbbe23,#fbbe23,#fbbe23,#fbbe23,#fbbe23,#fbbe23,#fbbe23,#fbbe23,#fbbe23,#fbbe23,#fbbe23,#fbbe23,#fbbe23,#fbbe23,#fcaa0f,#f2741c,#f67e14,#fbb81d,#fac228,#fac228,#fac026,#fbbe23,#fbbe23,#fbbe23,#fbbc21,#fbba1f,#fbba1f,#fbba1f,#fbbc21,#fbbe23,#fac228,#fac228,#fac42a,#fac42a,#fac228,#fbbe23,#fbba1f,#fbb81d,#fbb61a,#fbb61a,#fcb418,#fcb418,#fcac11,#fb9606,#f57b17,#f8890c,#f9cb35,#f9cb35,#f9c72f,#fbbe23,#fbbe23,#fbbe23,#fbbe23,#fbbe23,#fbbe23,#fbbe23,#fbbe23,#fbbe23,#fbbe23,#fbbe23,#fbbe23,#fbbe23,#fbbe23,#fbbc21,#fbbc21,#fbbc21,#fbbc21,#fbba1f,#fbba1f,#fbba1f,#fcb418,#fbb81d,#fbbc21,#fbbe23,#fbbe23,#fbbe23,#fbbe23,#fbbe23,#fbbe23,#fbbe23,#fbbe23)"></div><div style="height:11.2px;background-image:linear-gradient(90deg,#fbbe23,#fbbe23,#fbbe23,#fbbe23,#fbbe23,#fbbe23,#fbbe23,#fbbe23,#fbbe23,#fbbe23,#fbbe23,#fbbe23,#fbbe23,#fbbe23,#fbbe23,#fbbe23,#fbbe23,#fbbe23,#fbbe23,#fbbe23,#fbbe23,#fbbe23,#fbbe23,#fbbe23,#fca309,#f1711f,#f3761b,#fbbe23,#fac026,#fac026,#fbbe23,#fbbe23,#fbbc21,#fbbc21,#fbbc21,#fbba1f,#fbba1f,#fbba1f,#fbbc21,#fbbe23,#fac026,#fac228,#fac228,#fac228,#fac228,#fbbc21,#fbb81d,#fbb61a,#fcb418,#fcb418,#fcb418,#fcb418,#fb9906,#f98c0a,#f78410,#f8870e,#fac026,#fac62d,#fac026,#fbbe23,#fbbe23,#fbbe23,#fbbe23,#fbbe23,#fbbe23,#fbbe23,#fbbe23,#fbbe23,#fbbe23,#fbbe23,#fbbe23,#fbbe23,#fbbc21,#fbbc21,#fbbc21,#fbba1f,#fbba1f,#fbba1f,#fbba1f,#fcb418,#fa9207,#fb9d07,#fcb418,#fbbe23,#fbbe23,#fbbe23,#fbbe23,#fbbe23,#fbbe23,#fbbe23,#fbbe23)"></div><div style="height:11.2px;background-image:linear-gradient(90deg,#fbbe23,#fbbe23,#fbbe23,#fbbe23,#fbbe23,#fbbe23,#fbbe23,#fbbe23,#fbbe23,#fbbe23,#fbbe23,#fbbe23,#fbbe23,#fbbe23,#fbbe23,#fbbe23,#fbbe23,#fbbe23,#fbbe23,#fbbe23,#fbbe23,#fbbe23,#fbbe23,#fbbe23,#fbb81d,#f57d15,#f3761b,#fcb216,#fac026,#fbbe23,#fbbc21,#fbbc21,#fbbc21,#fbbc21,#fbba1f,#fbba1f,#fbba1f,#fbba1f,#fbba1f,#fbbe23,#fbbe23,#fac026,#fac228,#fac228,#fac026,#fbba1f,#fbb61a,#fcb418,#fcb418,#fcb014,#fcb216,#fcb216,#fb9906,#fa9008,#fa9207,#fa9407,#fcae12,#fbbe23,#fbbe23,#fbbe23,#fbbe23,#fbbe23,#fbbe23,#fbbe23,#fbbe23,#fbbe23,#fbbe23,#fbbe23,#fbbe23,#fbbe23,#fbbe23,#fbbc21,#fbbc21,#fbba1f,#fbba1f,#fbba1f,#fbba1f,#fbba1f,#fbba1f,#fcae12,#fa9008,#fb9906,#fcae12,#fbbe23,#fbbe23,#fbbe23,#fbbe23,#fbbe23,#fbbe23,#fbbe23,#fbbe23)"></div><div style="height:11.2px;background-image:linear-gradient(90deg,#fbbe23,#fbbe23,#fbbe23,#fbbe23,#fbbe23,#fbbe23,#fbbe23,#fbbe23,#fbbe23,#fbbe23,#fbbe23,#fbbe23,#fbbe23,#fbbe23,#fbbe23,#fbbe23,#fbbe23,#fbbe23,#fbbe23,#fbbe23,#fbbe23,#fbbe23,#fbbe23,#fbbe23,#fbbe23,#f1731d,#d84c3e,#e65d2f,#fbba1f,#fbbc21,#fbba1f,#fbb81d,#fbb81d,#fbb81d,#fbba1f,#fbba1f,#fbba1f,#fbba1f,#fbba1f,#fbbc21,#fbbe23,#fbbe23,#fac026,#fac026,#fac026,#fbba1f,#fbb61a,#fcb418,#fca60c,#fb9706,#fca108,#fca80d,#fb9d07,#fb9606,#fa9407,#fb9706,#fcae12,#fbbc21,#fbbe23,#fbbe23,#fbbe23,#fbbe23,#fbbe23,#fbbe23,#fbbe23,#fbbe23,#fbbe23,#fbbe23,#fbbe23,#fbbe23,#fbbc21,#fbbc21,#fbba1f,#fbba1f,#fbba1f,#fbba1f,#fbba1f,#fbb81d,#fbb81d,#fbb61a,#fcb014,#fca50a,#fcac11,#fbbe23,#fbbe23,#fbbe23,#fbbe23,#fbbe23,#fbbe23,#fbbe23,#fbbe23)"></div><div style="height:11.2px;background-image:linear-gradient(90deg,#fbbe23,#fbbe23,#fbbe23,#fbbe23,#fbbe23,#fbbe23,#fbbe23,#fbbe23,#fbbe23,#fbbe23,#fbbe23,#fbbe23,#fbbe23,#fbbe23,#fbbe23,#fbbe23,#fbbe23,#fbbe23,#fbbe23,#fbbe23,#fbbe23,#fbbe23,#fbbe23,#fbbe23,#fbbe23,#ec6726,#d44842,#ca404a,#f78212,#fbb81d,#fbb61a,#fcb418,#fcb418,#fbb61a,#fbb81d,#fbba1f,#fbba1f,#fbba1f,#fbba1f,#fbbe23,#fbbe23,#fbbe23,#fbbe23,#fbbe23,#fbbe23,#fbbc21,#fbb81d,#fcae12,#f98c0a,#f78212,#f8870e,#f98b0b,#f78212,#fa9008,#fc9f07,#fca309,#fca50a,#fc9f07,#fcb014,#fbbe23,#fbbe23,#fbbe23,#fbbe23,#fbbe23,#fbbe23,#fbbe23,#fbbe23,#fbbe23,#fbbe23,#fbbe23,#fbbc21,#fbba1f,#fbba1f,#fbba1f,#fbba1f,#fbba1f,#fbba1f,#fbb61a,#fcb216,#fcb216,#fcb418,#fcae12,#fcae12,#fbbc21,#fbbe23,#fbbe23,#fbbe23,#fbbe23,#fbbe23,#fbbe23,#fbbe23)"></div><div style="height:11.2px;background-image:linear-gradient(90deg,#fbba1f,#fbbe23,#fbbe23,#fbbe23,#fbbe23,#fbbe23,#fbbe23,#fbbe23,#fbbe23,#fbbe23,#fbbe23,#fbbe23,#fbbe23,#fbbe23,#fbbe23,#fbbe23,#fbbe23,#fbbe23,#fbbe23,#fbbe23,#fbbe23,#fbbe23,#fbbe23,#fbbe23,#fbbe23,#fb9906,#cf4446,#bf3952,#cc4248,#fa9407,#fcb216,#fcb216,#fcb014,#fcac11,#fcb216,#fbb81d,#fbba1f,#fbba1f,#fbbc21,#fbbe23,#fbbe23,#fbbe23,#fbbe23,#fbbe23,#fbbe23,#fbbe23,#fbbc21,#fcaa0f,#f78212,#f57b17,#f67e14,#f57d15,#f47918,#f98b0b,#fca50a,#fca50a,#fb9606,#f98c0a,#fb9606,#fbb61a,#fbbe23,#fbbe23,#fbbe23,#fbbe23,#fbbe23,#fbbe23,#fbbe23,#fbbe23,#fbbe23,#fbbe23,#fbbc21,#fbba1f,#fbba1f,#fbba1f,#fbb81d,#fbb81d,#fbb81d,#fbb61a,#fcb014,#fcb014,#fcb014,#fcae12,#fcae12,#fbb61a,#fbbe23,#fbbe23,#fbbe23,#fbbe23,#fbbe23,#fbba1f,#fbba1f)"></div><div style="height:11.2px;background-image:linear-gradient(90deg,#fbba1f,#fbbc21,#fbbe23,#fbbe23,#fbbe23,#fbbe23,#fbbe23,#fbbe23,#fbbe23,#fbbe23,#fbbe23,#fbbe23,#fbbe23,#fbbe23,#fbbe23,#fbbe23,#fbbe23,#fbbe23,#fbbe23,#fbbe23,#fbbe23,#fbbe23,#fbbe23,#fbbe23,#fbbe23,#fbbc21,#e75e2e,#b73557,#b43359,#e35933,#fca60c,#fcae12,#fca80d,#fb9b06,#fb9d07,#fcb216,#fbba1f,#fbba1f,#fbbc21,#fbbe23,#fbbe23,#fbbe23,#fbbe23,#fbbe23,#fbbe23,#fbbe23,#fbbe23,#fcaa0f,#f68013,#f47918,#f47918,#f37819,#f2741c,#f67e14,#fca309,#fca309,#f98e09,#f98b0b,#f98c0a,#fcaa0f,#fbbe23,#fbbe23,#fbbe23,#fbbe23,#fbbe23,#fbbe23,#fbbe23,#fbbe23,#fbbe23,#fbbe23,#fbbc21,#fbba1f,#fbba1f,#fbb81d,#fcae12,#fcae12,#fbb81d,#fbb81d,#fcb216,#fcb014,#fca80d,#fca60c,#fca309,#fcae12,#fbbe23,#fbba1f,#fcaa0f,#fcac11,#fbbc21,#fbba1f,#fbba1f)"></div><div style="height:11.2px;background-image:linear-gradient(90deg,#fbba1f,#fbbc21,#fbbe23,#fbbe23,#fbbe23,#fbbe23,#fbbe23,#fbbe23,#fbbe23,#fbbe23,#fbbe23,#fbbe23,#fbbe23,#fbbe23,#fbbe23,#fbbe23,#fbbe23,#fbbe23,#fbbe23,#fbbe23,#fbbe23,#fbbe23,#fbbe23,#fbbe23,#fbbe23,#fbbe23,#f98c0a,#b73557,#c03a51,#ea632a,#f98c0a,#fb9d07,#fb9b06,#fa9207,#fa9207,#fca309,#fbba1f,#fbbc21,#fbbe23,#fbbe23,#fbbe23,#fbbe23,#fbbe23,#fbbe23,#fbbe23,#fbbe23,#fbbe23,#fca108,#f47918,#f3761b,#f1711f,#ef6c23,#f1711f,#f2741c,#fb9b06,#fc9f07,#f98b0b,#f98b0b,#f98c0a,#fca60c,#fbbe23,#fbbe23,#fbbe23,#fbbe23,#fbbe23,#fbbe23,#fbbe23,#fbbe23,#fbbe23,#fbbe23,#fbbe23,#fbbc21,#fbba1f,#fcb014,#fca80d,#fcaa0f,#fbb61a,#fbb81d,#fcb216,#fcac11,#fb9706,#fa9407,#fa9207,#fca108,#fbbc21,#fcb014,#fca60c,#fca60c,#fbb81d,#fbba1f,#fbba1f)"></div><div style="height:11.2px;background-image:linear-gradient(90deg,#fbbc21,#fbbe23,#fbbe23,#fbbe23,#fbbe23,#fbbe23,#fbbe23,#fbbe23,#fbbe23,#fbbe23,#fbbe23,#fbbe23,#fbbe23,#fbbe23,#fbbe23,#fbbe23,#fbbe23,#fbbe23,#fbbe23,#fbbe23,#fbbe23,#fbbe23,#fbbe23,#fbbe23,#fbbe23,#fbbe23,#f67e14,#c03a51,#d24644,#ef6c23,#f8870e,#f98e09,#f98b0b,#f98c0a,#fa9008,#fc9f07,#fbba1f,#fbbe23,#fbbe23,#fbbe23,#fbbe23,#fbbe23,#fbbe23,#fbbe23,#fbbe23,#fbbe23,#fbbe23,#fb9d07,#f2741c,#f1731d,#ef6c23,#eb6429,#ee6a24,#f3761b,#fb9b06,#fc9f07,#f98c0a,#f98b0b,#fa9008,#fcb014,#fbbe23,#fbbe23,#fbbe23,#fbbe23,#fbbe23,#fbbe23,#fbbe23,#fbbe23,#fbbe23,#fbbe23,#fbbe23,#fbbe23,#fbbe23,#fbb81d,#fcb216,#fcb216,#fbbc21,#fbba1f,#fcb014,#fcaa0f,#fb9606,#fa9008,#fa9008,#f98c0a,#fca80d,#fcb014,#fca60c,#fca60c,#fbb81d,#fbbc21,#fbbc21)"></div><div style="height:11.2px;background-image:linear-gradient(90deg,#fbb81d,#fbb81d,#fbb81d,#fbb81d,#fbb81d,#fbb81d,#fbb81d,#fbb81d,#fbb81d,#fbb81d,#fbb81d,#fbb81d,#fbb81d,#fbb81d,#fbb81d,#fbb81d,#fbb81d,#fbb81d,#fbb81d,#fbb81d,#fbb81d,#fbb81d,#fbb81d,#fbb81d,#fbb81d,#fbb81d,#f06f20,#c13a50,#ca404a,#e25734,#f78410,#f8870e,#f57d15,#f68013,#f98e09,#fca80d,#fbb81d,#fbb81d,#fbb81d,#fbb81d,#fbb81d,#fbb81d,#fbb81d,#fbb81d,#fbb81d,#fbb81d,#fbb81d,#fca60c,#f47918,#f1731d,#eb6628,#e15635,#db503b,#f3761b,#fcaa0f,#fcae12,#fb9706,#fa9407,#fca108,#fbb61a,#fbb81d,#fbb81d,#fbb81d,#fbb81d,#fbb81d,#fbb81d,#fbb81d,#fbb81d,#fbb81d,#fbb81d,#fbb81d,#fbb81d,#fac026,#f9cb35,#f9c72f,#fac42a,#fac026,#fbb81d,#fcb014,#fca60c,#fb9b06,#fa9407,#f8890c,#f47918,#f68013,#fcb418,#fcaa0f,#fcac11,#fbb81d,#fbb81d,#fbb81d)"></div><div style="height:11.2px;background-image:linear-gradient(90deg,#fca108,#fca60c,#fca60c,#fca60c,#fca60c,#fca60c,#fca60c,#fca60c,#fca60c,#fca60c,#fca60c,#fca60c,#fca60c,#fca60c,#fca60c,#fca60c,#fca60c,#fca60c,#fca60c,#fca60c,#fca60c,#fca60c,#fca60c,#fca60c,#fca60c,#fca60c,#f98c0a,#e15635,#d24644,#d54a41,#f1711f,#f67e14,#f47918,#f47918,#f8850f,#fca309,#fca60c,#fca60c,#fca60c,#fca60c,#fca60c,#fca60c,#fca60c,#fca60c,#fca60c,#fca60c,#fca60c,#fca50a,#f98c0a,#f3761b,#e45a31,#d44842,#c03a51,#ed6925,#fb9906,#fca60c,#fca309,#fca108,#fca50a,#fca60c,#fca60c,#fca60c,#fca60c,#fca60c,#fca60c,#fca60c,#fca60c,#fca60c,#fca60c,#fca60c,#fca60c,#fca60c,#fcb418,#f8cf3a,#f7d13d,#f8cf3a,#fbbe23,#fcae12,#fcae12,#fcac11,#fc9f07,#fa9207,#f78212,#f47918,#f57d15,#fca50a,#fca60c,#fca50a,#fca108,#fb9d07,#fca108)"></div><div style="height:11.2px;background-image:linear-gradient(90deg,#f8870e,#fa9207,#fb9606,#fb9606,#fb9606,#fb9606,#fb9606,#fb9606,#fb9606,#fb9606,#fb9606,#fb9606,#fb9606,#fb9606,#fb9606,#fb9606,#fb9606,#fb9606,#fb9606,#fb9606,#fb9606,#fb9606,#fb9606,#fb9606,#fb9606,#fb9606,#f78410,#f67e14,#ea632a,#df5337,#e55c30,#f06f20,#f37819,#f47918,#f8850f,#fa9407,#fb9606,#fb9606,#fb9606,#fb9606,#fb9606,#fb9606,#fb9606,#fb9606,#fb9606,#fb9606,#fb9606,#fb9606,#fa9407,#fb9706,#f98c0a,#e25734,#c33b4f,#e05536,#fa9407,#fb9606,#fb9606,#fb9606,#fb9606,#fb9606,#fb9606,#fb9606,#fb9606,#fb9606,#fb9606,#fb9606,#fb9606,#fb9606,#fb9606,#fb9606,#fb9606,#fb9606,#fc9f07,#fac42a,#fac62d,#f9c72f,#fcb014,#fca60c,#fcb014,#fbb81d,#fca80d,#f8890c,#f68013,#f57d15,#f78410,#fb9606,#fa9407,#f98e09,#f8850f,#f78410,#f8870e)"></div><div style="height:11.2px;background-image:linear-gradient(90deg,#f68013,#f78212,#f78410,#f8850f,#f8850f,#f8850f,#f8850f,#f8850f,#f8850f,#f8850f,#f8850f,#f8850f,#f8850f,#f8850f,#f8850f,#f8850f,#f8850f,#f8850f,#f8850f,#f8850f,#f8850f,#f8850f,#f8850f,#f8850f,#f8850f,#f8850f,#f68013,#f67e14,#f06f20,#e55c30,#e35933,#e75e2e,#f3761b,#f57d15,#f78212,#f8850f,#f8850f,#f8850f,#f8850f,#f8850f,#f8850f,#f8850f,#f8850f,#f8850f,#f8850f,#f8850f,#f8850f,#f8850f,#f8850f,#fb9706,#fa9407,#ef6c23,#e8602d,#f57d15,#f8850f,#f8850f,#f8850f,#f8850f,#f8850f,#f8850f,#f8850f,#f8850f,#f8850f,#f8850f,#f8850f,#f8850f,#f8850f,#f8850f,#f8850f,#f8850f,#f8850f,#f8850f,#f8870e,#fcb418,#fbbe23,#fbbe23,#fca60c,#fca50a,#fcb216,#fbba1f,#fca60c,#fa9207,#f8850f,#f68013,#f78410,#f78410,#f78212,#f67e14,#f68013,#f68013,#f68013)"></div><div style="height:11.2px;background-image:linear-gradient(90deg,#f67e14,#f57d15,#f3761b,#f2741c,#f2741c,#f2741c,#f2741c,#f2741c,#f2741c,#f2741c,#f2741c,#f2741c,#f2741c,#f2741c,#f2741c,#f2741c,#f2741c,#f2741c,#f2741c,#f2741c,#f2741c,#f2741c,#f2741c,#f2741c,#f2741c,#f2741c,#f37819,#f57d15,#f37819,#ed6925,#e65d2f,#e65d2f,#ef6e21,#f2741c,#f2741c,#f2741c,#f2741c,#f2741c,#f2741c,#f2741c,#f2741c,#f2741c,#f2741c,#f2741c,#f2741c,#f2741c,#f2741c,#f2741c,#f2741c,#f3761b,#f47918,#f06f20,#f1731d,#f2741c,#f2741c,#f2741c,#f2741c,#f2741c,#f2741c,#f2741c,#f2741c,#f2741c,#f2741c,#f2741c,#f2741c,#f2741c,#f2741c,#f2741c,#f2741c,#f2741c,#f2741c,#f2741c,#f2741c,#f78212,#fca80d,#fb9b06,#f78410,#f98e09,#fb9b06,#fcaa0f,#fb9906,#fb9606,#f78410,#f3761b,#f2741c,#f1731d,#ef6c23,#f1731d,#f57d15,#f67e14,#f67e14)"></div><div style="height:11.2px;background-image:linear-gradient(90deg,#f57d15,#f3761b,#ec6726,#eb6628,#eb6628,#eb6628,#eb6628,#eb6628,#eb6628,#eb6628,#eb6628,#eb6628,#eb6628,#eb6628,#eb6628,#eb6628,#eb6628,#eb6628,#eb6628,#eb6628,#eb6628,#eb6628,#eb6628,#eb6628,#eb6628,#e9612b,#e75e2e,#ef6c23,#f37819,#f37819,#ef6c23,#e9612b,#eb6429,#eb6628,#eb6628,#eb6628,#eb6628,#eb6628,#eb6628,#eb6628,#eb6628,#eb6628,#eb6628,#eb6628,#eb6628,#eb6628,#eb6628,#eb6628,#eb6628,#eb6628,#eb6628,#eb6628,#eb6628,#eb6628,#eb6628,#eb6628,#eb6628,#eb6628,#eb6628,#eb6628,#eb6628,#eb6628,#eb6628,#eb6628,#eb6628,#eb6628,#eb6628,#eb6628,#eb6628,#eb6628,#eb6628,#eb6628,#eb6628,#eb6628,#ec6726,#ec6726,#eb6628,#ec6726,#ed6925,#ef6c23,#f57b17,#ef6e21,#eb6429,#eb6429,#eb6628,#eb6429,#eb6429,#eb6628,#f1711f,#f57b17,#f57d15)"></div><div style="height:11.2px;background-image:linear-gradient(90deg,#f2741c,#eb6429,#e35933,#e35933,#e35933,#e35933,#e35933,#e35933,#e35933,#e35933,#e35933,#e35933,#e35933,#e35933,#e35933,#e35933,#e35933,#e35933,#e35933,#e35933,#e35933,#e35933,#e35933,#e35933,#e35933,#e05536,#df5337,#e25734,#eb6628,#f06f20,#f06f20,#e75e2e,#e35933,#e35933,#e35933,#e35933,#e35933,#e35933,#e35933,#e35933,#e35933,#e35933,#e35933,#e35933,#e35933,#e35933,#e35933,#e35933,#e35933,#e35933,#e35933,#e35933,#e35933,#e35933,#e35933,#e35933,#e35933,#e35933,#e35933,#e35933,#e35933,#e35933,#e35933,#e35933,#e35933,#e35933,#e35933,#e35933,#e35933,#e35933,#e35933,#e35933,#e35933,#e35933,#e35933,#e35933,#e35933,#e35933,#e35933,#e35933,#e75e2e,#ea632a,#ea632a,#e8602d,#e35933,#e75e2e,#e9612b,#ea632a,#eb6628,#ef6e21,#f2741c)"></div><div style="height:11.2px;background-image:linear-gradient(90deg,#e65d2f,#db503b,#d94d3d,#d94d3d,#d94d3d,#d94d3d,#d94d3d,#d94d3d,#d94d3d,#d94d3d,#d94d3d,#d94d3d,#d94d3d,#d94d3d,#d94d3d,#d94d3d,#d94d3d,#d94d3d,#d94d3d,#d94d3d,#d94d3d,#d94d3d,#d94d3d,#d94d3d,#d94d3d,#db503b,#dd513a,#de5238,#e15635,#e45a31,#e55c30,#db503b,#d94d3d,#d94d3d,#d94d3d,#d94d3d,#d94d3d,#d94d3d,#d94d3d,#d94d3d,#d94d3d,#d94d3d,#d94d3d,#d94d3d,#d94d3d,#d94d3d,#d94d3d,#d94d3d,#d94d3d,#d94d3d,#d94d3d,#d94d3d,#d94d3d,#d94d3d,#d94d3d,#d94d3d,#d94d3d,#d94d3d,#d94d3d,#d94d3d,#d84c3e,#d84c3e,#d84c3e,#d84c3e,#d84c3e,#d84c3e,#d74b3f,#d74b3f,#d74b3f,#d74b3f,#d84c3e,#d84c3e,#d84c3e,#d84c3e,#d84c3e,#d84c3e,#d94d3d,#d94d3d,#d94d3d,#d94d3d,#da4e3c,#e35933,#e45a31,#db503b,#d94d3d,#e15635,#e8602d,#e9612b,#ea632a,#ea632a,#e65d2f)"></div><div style="height:11.2px;background-image:linear-gradient(90deg,#d44842,#ce4347,#cc4248,#cc4248,#cc4248,#cc4248,#cc4248,#cc4248,#cc4248,#cc4248,#cc4248,#cc4248,#cc4248,#cc4248,#cc4248,#cc4248,#cc4248,#cc4248,#cc4248,#cc4248,#cc4248,#cc4248,#cc4248,#cc4248,#ce4347,#d54a41,#db503b,#da4e3c,#d84c3e,#d84c3e,#d54a41,#ce4347,#cc4248,#cc4248,#cc4248,#cc4248,#cc4248,#cc4248,#cc4248,#cc4248,#cc4248,#cc4248,#cc4248,#cc4248,#cc4248,#cc4248,#cc4248,#cc4248,#cc4248,#cc4248,#cc4248,#cc4248,#cc4248,#cc4248,#cc4248,#cc4248,#cc4248,#cc4248,#cc4248,#cc4248,#cc4248,#cb4149,#ca404a,#c83f4b,#c83f4b,#c73e4c,#c63d4d,#c63d4d,#c63d4d,#c63d4d,#c73e4c,#c83f4b,#c83f4b,#ca404a,#cb4149,#cb4149,#cc4248,#cc4248,#cc4248,#cc4248,#cc4248,#ce4347,#ce4347,#cc4248,#ce4347,#d34743,#e35933,#e75e2e,#e75e2e,#e35933,#d44842)"></div><div style="height:11.2px;background-image:linear-gradient(90deg,#c03a51,#c03a51,#c03a51,#c03a51,#c03a51,#c03a51,#c03a51,#c03a51,#c03a51,#c03a51,#c03a51,#c03a51,#c03a51,#c03a51,#c03a51,#c03a51,#c03a51,#c03a51,#c03a51,#c03a51,#c03a51,#c03a51,#c03a51,#c03a51,#c03a51,#c63d4d,#d04545,#c63d4d,#c03a51,#c03a51,#c33b4f,#c03a51,#c03a51,#c03a51,#c03a51,#c03a51,#c03a51,#c03a51,#c03a51,#c03a51,#c03a51,#c03a51,#c03a51,#c03a51,#c03a51,#c03a51,#c03a51,#c03a51,#c03a51,#c03a51,#c03a51,#bf3952,#bf3952,#bf3952,#bf3952,#bf3952,#bf3952,#bf3952,#bf3952,#bd3853,#ba3655,#b35,#b43359,#b1325a,#ad305d,#a92e5e,#a62d60,#a52c60,#a32c61,#a62d60,#a82e5f,#ad305d,#b0315b,#b43359,#b73557,#b35,#bc3754,#bd3853,#bf3952,#bf3952,#c03a51,#c03a51,#c03a51,#c03a51,#c03a51,#c13a50,#ca404a,#d54a41,#d54a41,#ca404a,#c03a51)"></div><div style="height:11.2px;background-image:linear-gradient(90deg,#ae305c,#ae305c,#ae305c,#b0315b,#b0315b,#b0315b,#b0315b,#b1325a,#b1325a,#b1325a,#b1325a,#b1325a,#b0315b,#b0315b,#b0315b,#ae305c,#ae305c,#b0315b,#b0315b,#b0315b,#b0315b,#b0315b,#b1325a,#b1325a,#b1325a,#b1325a,#b35,#bc3754,#bc3754,#ba3655,#b63458,#b3325a,#b3325a,#b3325a,#b3325a,#b3325a,#b3325a,#b3325a,#b3325a,#b3325a,#b1325a,#b1325a,#b0315b,#b0315b,#ae305c,#ae305c,#ae305c,#ae305c,#ae305c,#ad305d,#ad305d,#ab2f5e,#a92e5e,#a92e5e,#ab2f5e,#ab2f5e,#ab2f5e,#a92e5e,#a62d60,#a22b62,#9d2964,#972766,#8f2469,#87216b,#7d1e6d,#771c6d,#71196e,#6d186e,#6d186e,#71196e,#751b6e,#7c1d6d,#84206b,#8a226a,#902568,#972766,#9b2964,#a22b62,#a62d60,#ab2f5e,#ae305c,#b0315b,#b1325a,#b1325a,#b1325a,#b1325a,#b1325a,#b1325a,#b1325a,#b0315b,#ae305c)"></div><div style="height:11.2px;background-image:linear-gradient(90deg,#952667,#952667,#972766,#972766,#982766,#9a2865,#9a2865,#9b2964,#9b2964,#9b2964,#9d2964,#9b2964,#9a2865,#982766,#972766,#952667,#972766,#972766,#982766,#9a2865,#9b2964,#9b2964,#9b2964,#9b2964,#9d2964,#9f2a63,#a02a63,#ad305d,#b43359,#ae305c,#a52c60,#a32c61,#a52c60,#a52c60,#a52c60,#a52c60,#a32c61,#a32c61,#a22b62,#a02a63,#9f2a63,#9b2964,#972766,#932667,#902568,#8d2369,#8d2369,#8f2469,#8f2469,#8c2369,#88226a,#84206b,#82206c,#801f6c,#82206c,#84206b,#84206b,#801f6c,#7a1d6d,#721a6e,#69166e,#61136e,#57106e,#4d0d6c,#440a68,#3b0964,#360961,#320a5e,#320a5e,#360961,#3b0964,#420a68,#490b6a,#4f0d6c,#540f6d,#5a116e,#62146e,#6c186e,#781c6d,#85216b,#902568,#982766,#9d2964,#9d2964,#9d2964,#9b2964,#9a2865,#982766,#972766,#952667,#952667)"></div><div style="height:11.2px;background-image:linear-gradient(90deg,#6f196e,#6f196e,#721a6e,#741a6e,#771c6d,#781c6d,#7a1d6d,#7c1d6d,#7d1e6d,#7f1e6c,#801f6c,#801f6c,#7f1e6c,#7d1e6d,#7c1d6d,#7c1d6d,#7c1d6d,#7c1d6d,#7d1e6d,#7d1e6d,#7d1e6d,#7d1e6d,#7d1e6d,#7d1e6d,#7f1e6c,#82206c,#87216b,#902568,#a32c61,#ad305d,#a62d60,#982766,#952667,#952667,#952667,#952667,#932667,#902568,#8c2369,#87216b,#7f1e6c,#751b6e,#6c186e,#62146e,#5d126e,#5a116e,#5a116e,#5c126e,#5d126e,#5a116e,#550f6d,#4f0d6c,#4c0c6b,#4c0c6b,#4c0c6b,#4d0d6c,#4c0c6b,#450a69,#3e0966,#380962,#310a5c,#2b0b57,#280b53,#210c4a,#1b0c41,#160b39,#150b37,#140b34,#140b34,#150b37,#160b39,#1f0c48,#340a5f,#380962,#280b53,#230c4c,#260c51,#2d0b59,#390963,#4c0c6b,#61136e,#6f196e,#781c6d,#7c1d6d,#7a1d6d,#771c6d,#751b6e,#741a6e,#71196e,#6f196e,#6f196e)"></div><div style="height:11.2px;background-image:linear-gradient(90deg,#490b6a,#4a0c6b,#4f0d6c,#540f6d,#59106e,#5d126e,#61136e,#64156e,#65156e,#69166e,#6c186e,#6d186e,#6f196e,#6f196e,#6f196e,#6f196e,#6d186e,#6d186e,#6d186e,#6c186e,#6c186e,#67166e,#61136e,#5d126e,#5d126e,#61136e,#6d186e,#9a2865,#b3325a,#b73557,#b63458,#a52c60,#84206b,#82206c,#82206c,#801f6c,#7a1d6d,#721a6e,#69166e,#5f136e,#550f6d,#4c0c6b,#440a68,#3e0966,#3d0965,#3d0965,#3b0964,#390963,#380962,#340a5f,#310a5c,#320a5e,#390963,#390963,#2f0a5b,#290b55,#260c51,#240c4f,#1f0c48,#190c3e,#160b39,#260c51,#3e0966,#3b0964,#1c0c43,#0e092b,#10092d,#10092d,#10092d,#0e092b,#10092d,#320a5e,#57106e,#59106e,#360961,#110a30,#120a32,#160b39,#230c4c,#490b6a,#5d126e,#5f136e,#57106e,#520e6d,#540f6d,#540f6d,#520e6d,#4f0d6c,#4a0c6b,#490b6a,#490b6a)"></div><div style="height:11.2px;background-image:linear-gradient(90deg,#320a5e,#340a5f,#390963,#420a68,#4a0c6b,#520e6d,#57106e,#5a116e,#5c126e,#5f136e,#64156e,#69166e,#6c186e,#6c186e,#6c186e,#6a176e,#6a176e,#6a176e,#6c186e,#6f196e,#71196e,#6a176e,#5f136e,#520e6d,#4c0c6b,#520e6d,#6f196e,#8f2469,#a62d60,#b1325a,#b0315b,#982766,#6a176e,#67166e,#69166e,#64156e,#5a116e,#4f0d6c,#470b6a,#400a67,#3b0964,#360961,#320a5e,#360961,#450a69,#4c0c6b,#440a68,#320a5e,#290b55,#260c51,#260c51,#3d0965,#510e6c,#510e6c,#3b0964,#210c4a,#210c4a,#210c4a,#1e0c45,#180c3c,#140b34,#310a5c,#4d0d6c,#4c0c6b,#290b55,#0e092b,#10092d,#110a30,#110a30,#0e092b,#0d0829,#260c51,#4d0d6c,#4d0d6c,#260c51,#0c0826,#110a30,#150b37,#1f0c48,#440a68,#5c126e,#5d126e,#4a0c6b,#470b6a,#4d0d6c,#4d0d6c,#4c0c6b,#450a69,#3b0964,#320a5e,#320a5e)"></div><div style="height:11.2px;background-image:linear-gradient(90deg,#290b55,#2b0b57,#320a5e,#3b0964,#450a69,#4d0d6c,#520e6d,#550f6d,#59106e,#5c126e,#62146e,#6a176e,#6d186e,#6f196e,#6d186e,#6a176e,#69166e,#69166e,#6d186e,#741a6e,#741a6e,#6f196e,#62146e,#520e6d,#490b6a,#4f0d6c,#71196e,#85216b,#8d2369,#8f2469,#85216b,#65156e,#520e6d,#520e6d,#520e6d,#4c0c6b,#420a68,#3b0964,#380962,#360961,#320a5e,#310a5c,#2f0a5b,#360961,#490b6a,#510e6c,#490b6a,#320a5e,#260c51,#210c4a,#210c4a,#360961,#4a0c6b,#4a0c6b,#320a5e,#1e0c45,#1f0c48,#1f0c48,#1e0c45,#180c3c,#10092d,#150b37,#290b55,#280b53,#120a32,#0c0826,#0e092b,#10092d,#10092d,#0e092b,#0b0724,#0a0722,#10092d,#10092d,#08051d,#09061f,#0e092b,#140b34,#180c3c,#240c4f,#390963,#390963,#310a5c,#400a67,#490b6a,#4a0c6b,#490b6a,#400a67,#360961,#2b0b57,#290b55)"></div><div style="height:11.2px;background-image:linear-gradient(90deg,#260c51,#280b53,#2f0a5b,#380962,#420a68,#4a0c6b,#510e6c,#540f6d,#550f6d,#5a116e,#61136e,#6a176e,#6f196e,#6f196e,#6d186e,#6a176e,#67166e,#67166e,#6a176e,#6f196e,#6f196e,#69166e,#5c126e,#4f0d6c,#470b6a,#490b6a,#5c126e,#741a6e,#7c1d6d,#751b6e,#62146e,#510e6c,#4a0c6b,#4a0c6b,#490b6a,#400a67,#390963,#360961,#340a5f,#320a5e,#310a5c,#2f0a5b,#2d0b59,#2d0b59,#340a5f,#390963,#320a5e,#290b55,#240c4f,#1f0c48,#1c0c43,#1c0c43,#230c4c,#210c4a,#1b0c41,#180c3c,#1b0c41,#1b0c41,#180c3c,#120a32,#0c0826,#08051d,#08051d,#07051b,#07051b,#09061f,#0b0724,#0c0826,#0c0826,#0b0724,#08051d,#050417,#040314,#040312,#040314,#060419,#09061f,#0d0829,#10092d,#110a30,#110a30,#140b34,#1e0c45,#310a5c,#3d0965,#400a67,#3d0965,#380962,#2f0a5b,#290b55,#260c51)"></div><div style="height:11.2px;background-image:linear-gradient(90deg,#240c4f,#260c51,#2b0b57,#340a5f,#3e0966,#470b6a,#4d0d6c,#510e6c,#540f6d,#550f6d,#5c126e,#65156e,#6a176e,#6d186e,#6c186e,#69166e,#65156e,#62146e,#61136e,#61136e,#5d126e,#57106e,#4f0d6c,#490b6a,#450a69,#440a68,#450a69,#4d0d6c,#520e6d,#510e6c,#4c0c6b,#490b6a,#490b6a,#490b6a,#450a69,#3d0965,#360961,#340a5f,#320a5e,#320a5e,#310a5c,#2f0a5b,#2d0b59,#2b0b57,#290b55,#290b55,#280b53,#260c51,#230c4c,#1e0c45,#1b0c41,#190c3e,#180c3c,#160b39,#160b39,#150b37,#140b34,#120a32,#0e092b,#0b0724,#09061f,#07051b,#060419,#060419,#060419,#060419,#08051d,#08051d,#08051d,#07051b,#060419,#040314,#040312,#040312,#040312,#040314,#050417,#07051b,#09061f,#0b0724,#0d0829,#110a30,#160b39,#1f0c48,#280b53,#2f0a5b,#2f0a5b,#2d0b59,#290b55,#260c51,#240c4f)"></div><div style="height:11.2px;background-image:linear-gradient(90deg,#230c4c,#240c4f,#280b53,#310a5c,#3b0964,#440a68,#490b6a,#4d0d6c,#4f0d6c,#520e6d,#550f6d,#5c126e,#62146e,#65156e,#67166e,#65156e,#61136e,#5c126e,#540f6d,#4f0d6c,#4a0c6b,#470b6a,#450a69,#440a68,#420a68,#400a67,#3e0966,#400a67,#440a68,#450a69,#470b6a,#490b6a,#490b6a,#470b6a,#440a68,#3d0965,#340a5f,#320a5e,#320a5e,#310a5c,#2f0a5b,#2d0b59,#2b0b57,#290b55,#280b53,#260c51,#240c4f,#230c4c,#210c4a,#1e0c45,#1b0c41,#190c3e,#180c3c,#160b39,#150b37,#140b34,#10092d,#0d0829,#0a0722,#09061f,#08051d,#07051b,#07051b,#060419,#060419,#060419,#060419,#060419,#060419,#060419,#050417,#050417,#040314,#040314,#040314,#040314,#040314,#050417,#08051d,#0b0724,#0d0829,#110a30,#140b34,#180c3c,#1e0c45,#240c4f,#260c51,#280b53,#260c51,#230c4c,#230c4c)"></div><div style="height:11.2px;background-image:linear-gradient(90deg,#210c4a,#230c4c,#260c51,#2d0b59,#360961,#3e0966,#450a69,#490b6a,#4c0c6b,#4d0d6c,#510e6c,#540f6d,#5a116e,#5f136e,#61136e,#5f136e,#5c126e,#540f6d,#4a0c6b,#440a68,#400a67,#3e0966,#3e0966,#3d0965,#3d0965,#3b0964,#3b0964,#3d0965,#400a67,#440a68,#470b6a,#470b6a,#470b6a,#470b6a,#440a68,#3b0964,#320a5e,#310a5c,#2f0a5b,#2f0a5b,#2d0b59,#2b0b57,#290b55,#260c51,#240c4f,#230c4c,#230c4c,#210c4a,#1f0c48,#1c0c43,#1b0c41,#190c3e,#180c3c,#160b39,#150b37,#140b34,#10092d,#0c0826,#0a0722,#09061f,#08051d,#08051d,#07051b,#07051b,#07051b,#07051b,#07051b,#07051b,#07051b,#07051b,#07051b,#060419,#060419,#050417,#050417,#040314,#050417,#060419,#09061f,#0c0826,#0e092b,#110a30,#120a32,#150b37,#190c3e,#1e0c45,#210c4a,#210c4a,#210c4a,#210c4a,#210c4a)"></div><div style="height:11.2px;background-image:linear-gradient(90deg,#1f0c48,#210c4a,#240c4f,#290b55,#310a5c,#390963,#400a67,#450a69,#470b6a,#4a0c6b,#4c0c6b,#4f0d6c,#540f6d,#59106e,#5a116e,#59106e,#520e6d,#490b6a,#400a67,#390963,#360961,#360961,#360961,#360961,#340a5f,#340a5f,#340a5f,#380962,#3d0965,#400a67,#440a68,#450a69,#450a69,#450a69,#400a67,#380962,#2f0a5b,#2d0b59,#2d0b59,#2b0b57,#290b55,#280b53,#260c51,#230c4c,#210c4a,#210c4a,#1f0c48,#1f0c48,#1e0c45,#1c0c43,#1b0c41,#190c3e,#190c3e,#180c3c,#160b39,#140b34,#10092d,#0c0826,#0a0722,#09061f,#09061f,#09061f,#09061f,#09061f,#09061f,#09061f,#09061f,#09061f,#09061f,#09061f,#09061f,#08051d,#08051d,#07051b,#07051b,#060419,#060419,#08051d,#0a0722,#0d0829,#10092d,#110a30,#120a32,#140b34,#160b39,#190c3e,#1c0c43,#1e0c45,#1e0c45,#1e0c45,#1f0c48)"></div><div style="height:39.6px;background-image:linear-gradient(90deg,#1f0c48,#1f0c48,#210c4a,#260c51,#2b0b57,#340a5f,#3b0964,#400a67,#440a68,#450a69,#490b6a,#4a0c6b,#4d0d6c,#510e6c,#510e6c,#4d0d6c,#450a69,#3d0965,#360961,#310a5c,#2f0a5b,#2f0a5b,#2f0a5b,#2f0a5b,#2f0a5b,#2d0b59,#2f0a5b,#310a5c,#360961,#3b0964,#400a67,#420a68,#420a68,#420a68,#3b0964,#310a5c,#290b55,#280b53,#280b53,#260c51,#240c4f,#230c4c,#210c4a,#210c4a,#1f0c48,#1f0c48,#1e0c45,#1e0c45,#1e0c45,#1c0c43,#1c0c43,#1b0c41,#190c3e,#180c3c,#160b39,#140b34,#10092d,#0d0829,#0b0724,#0a0722,#0a0722,#0a0722,#0a0722,#0b0724,#0b0724,#0b0724,#0b0724,#0b0724,#0b0724,#0b0724,#0b0724,#0b0724,#0a0722,#0a0722,#09061f,#08051d,#08051d,#0a0722,#0c0826,#0e092b,#10092d,#110a30,#140b34,#150b37,#160b39,#190c3e,#1b0c41,#1c0c43,#1e0c45,#1e0c45,#1f0c48)"></div></div></div>
<div class="r" style="left:2117.6px;top:2491.9px;width:1333.5px;height:648.5px"><div class="b" style="width:1393.5px;filter:blur(6px);background-size:1333.5px 100%"><div style="height:41.2px;background-image:linear-gradient(90deg,#3b2e5d,#3b2e5d,#3b2e5d,#3b2e5d,#3b2e5d,#3b2e5d,#3b2e5d,#3b2e5d,#3b2e5d,#3b2e5d,#3b2e5d,#3b2e5d,#3b2d5b,#3a2c59,#37284f,#342447,#324,#312140,#312140,#312140,#324,#324,#35264c,#382953,#3b2e5d,#403c79,#3e4d93,#3b5698,#3c5598,#366ca0,#3483a5,#3487a6,#3489a6,#348ba6,#348ba6,#348ba6,#3489a6,#3488a6,#3488a6,#3489a6,#3489a6,#3486a5,#357ba3,#3a599a,#3f366f,#3e3367,#413e7f,#40488d,#3f4b90,#3f4c92,#3f4c92,#3f4b90,#40488d,#413e7f,#3e356b,#413e7f,#40498e,#3f4c92,#3f4c92,#3f4c92,#3f4c92,#3f4b90,#414488,#3f3770,#3c3060,#3b2f5f,#3e3469,#403b78,#413e7f,#413e7f,#413f80,#413e7f,#413e7f,#403b78,#3e3469,#3b2f5f,#3b2e5d,#3b2f5f,#3c3060,#3d3266,#3e3367,#3e3367,#3d3266,#3d3164,#3c3060,#3b2e5d,#3b2e5d,#3b2e5d,#3b2e5d,#3b2e5d,#3b2e5d)"></div><div style="height:11.2px;background-image:linear-gradient(90deg,#3b2e5d,#3b2e5d,#3b2e5d,#3b2e5d,#3b2d5b,#3a2c59,#3a2c59,#3a2c59,#3b2d5b,#3b2d5b,#3b2e5d,#3b2d5b,#382a54,#35254a,#324,#312140,#312140,#30203e,#30203e,#30203e,#312140,#312140,#324,#37284f,#382a54,#3c3060,#403a76,#414082,#3e4f94,#347fa4,#348ba6,#348ca7,#348ca7,#348ba6,#3488a6,#3486a5,#3484a5,#3485a5,#3489a6,#348ca7,#348ca7,#348ba6,#3485a5,#366fa0,#413f80,#3f366d,#414285,#3f4a8f,#3f4c92,#3f4c92,#3f4c92,#3f4c92,#3f4a8f,#414285,#3f3770,#413e7f,#40498e,#3f4c92,#3f4c92,#3e4d93,#3f4c92,#3f4b90,#40488d,#413f80,#403872,#3f3770,#403b78,#413e7d,#413f80,#413f80,#413f80,#413f80,#413e7f,#413d7b,#3f366f,#3b2f5f,#3b2f5f,#3d3164,#3e3469,#3e356b,#3e356b,#3e356b,#3e3469,#3e3469,#3e3367,#3d3164,#3c3060,#3b2f5f,#3b2e5d,#3b2e5d,#3b2e5d)"></div><div style="height:11.2px;background-image:linear-gradient(90deg,#3e3469,#3e356b,#3e3367,#3b2f5f,#3a2c58,#392b56,#382a54,#392b56,#392b56,#3a2c59,#3b2d5b,#382a54,#342548,#324,#312140,#30203e,#30203e,#30203e,#30203e,#30203e,#30203e,#312140,#324,#342548,#36274d,#372851,#392b56,#3c3060,#3c5598,#3483a5,#348ca7,#348da7,#348da7,#348ca7,#3487a6,#3484a5,#3483a5,#3486a5,#348ca7,#348da7,#348da7,#348ba6,#3484a5,#366b9f,#413e7d,#3e3367,#413e7f,#40498e,#3f4b90,#3f4c92,#3f4c92,#3f4b90,#40488d,#413e7f,#403872,#403b78,#40468a,#3f4b90,#3f4c92,#3f4c92,#3f4c92,#3f4c92,#3f4b90,#3f4a8f,#40488d,#40488d,#40488d,#414387,#414082,#413f80,#413f80,#413f80,#413e7f,#403c79,#3d3266,#3a2c59,#3b2e5d,#3e356b,#3f366f,#3f366f,#3f366f,#3f366d,#3f366d,#3f366f,#403872,#403a76,#403974,#3f366d,#3e356b,#3e3367,#3e3469)"></div><div style="height:11.2px;background-image:linear-gradient(90deg,#40478b,#40478b,#414387,#3f366f,#3a2c58,#382a54,#382a54,#392b56,#3a2c58,#3a2c59,#3b2e5d,#382953,#324,#312140,#30203e,#30203e,#30203e,#30203e,#30203e,#30203e,#30203e,#312140,#324,#342548,#35264c,#37284f,#3a2c58,#3d3164,#403c79,#37669e,#3487a6,#348ea7,#348fa7,#348fa7,#348da7,#348ba6,#348ca7,#3491a8,#3495a9,#3492a8,#348ea7,#3487a6,#3579a2,#3c5598,#3f366d,#3c3060,#3e356b,#413e7f,#414285,#414285,#414184,#413f80,#413e7d,#413d7b,#403c79,#403c79,#413f80,#40498e,#3f4c92,#3f4c92,#3f4c92,#3f4c92,#3e4d93,#3e4d93,#3e4d93,#3f4c92,#3f4c92,#3f4a8f,#414488,#414082,#413f80,#413f80,#413e7d,#3f366f,#3b2d5b,#3a2c58,#3b2d5b,#3e356b,#403974,#403974,#403974,#403872,#403974,#403b78,#413f80,#414184,#414285,#40468a,#40498e,#40488d,#40478b)"></div><div style="height:11.2px;background-image:linear-gradient(90deg,#3e4d93,#3f4c92,#3f4b90,#414184,#3b2f5f,#392b56,#3a2c59,#3b2e5d,#3c3162,#3e3367,#3f366d,#3e3469,#372851,#324,#312140,#312140,#312140,#312140,#312140,#30203e,#30203e,#312140,#324,#342548,#35264c,#382a54,#3c3060,#3e3367,#3e356b,#414082,#357ba3,#3493a8,#39a,#3496a9,#3492a8,#3491a8,#3493a8,#39a,#39a,#39a,#3490a8,#3489a6,#3482a4,#366a9f,#413e7d,#3c3060,#3c3162,#403872,#413d7b,#413d7b,#413e7d,#413d7b,#413d7b,#413d7b,#413d7b,#403c79,#403b78,#413e7d,#40478b,#3f4b90,#3f4c92,#3e4d93,#3e4f94,#3e4f94,#3e5095,#3e4f94,#3e4d93,#3f4c92,#40488d,#414285,#414082,#413f80,#413e7f,#403b78,#3f3770,#403b78,#413e7f,#413f80,#413d7b,#403b78,#403b78,#403c79,#413e7d,#414184,#414387,#40468a,#40498e,#3e4f94,#3d5195,#3e5095,#3e4d93)"></div><div style="height:11.2px;background-image:linear-gradient(90deg,#3e4f94,#3e4d93,#3f4c92,#40488d,#403872,#3d3164,#3e3367,#3f366f,#403974,#403b78,#403b78,#403a76,#3f3770,#392b56,#342447,#35254a,#36274d,#35264c,#324,#312140,#324,#324,#342447,#35254a,#382953,#3c3060,#3e3469,#3e356b,#3e356b,#403c79,#3576a2,#3496a9,#39a,#39a,#39a,#39a,#3495a9,#39a,#39a,#3492a8,#348ea7,#348da7,#3489a6,#347fa4,#3b5698,#3e3367,#3e3469,#403a76,#413d7b,#413d7b,#413d7b,#413d7b,#413d7b,#413d7b,#413d7b,#403b78,#403872,#3f3770,#403a76,#414488,#3f4b90,#3e5095,#3c5397,#3d5296,#3d5296,#3d5195,#3e4f94,#3f4b90,#40488d,#414488,#414387,#414488,#3a5b9b,#3671a0,#366ca0,#3572a1,#3578a2,#366da0,#3d5296,#413f80,#403c79,#413f80,#414387,#40468a,#40478b,#40498e,#3e5095,#3c5397,#3c5397,#3d5195,#3e4f94)"></div><div style="height:11.2px;background-image:linear-gradient(90deg,#3e4f94,#3e4d93,#3f4c92,#3f4b90,#3f4c92,#3f4a8f,#414387,#414387,#414387,#413e7f,#403c79,#403b78,#403b78,#403872,#3f366d,#413e7f,#3f3770,#3a2c59,#37284f,#35254a,#36274d,#37284f,#372851,#382953,#3c3162,#403974,#403a76,#403974,#3f3770,#403c79,#366fa0,#3493a8,#35a0ab,#38aaac,#3aadac,#38aaac,#3496a9,#348fa7,#348ea7,#348da7,#348da7,#348da7,#348ba6,#3482a4,#3a5b9b,#403872,#3a599a,#3d5195,#413e7d,#413d7b,#413d7b,#413d7b,#413d7b,#413d7b,#403b78,#403872,#3f3770,#3f3770,#403c79,#40478b,#3e4f94,#38619d,#37659e,#3a5b9b,#3c5397,#3d5296,#3f4c92,#40478b,#414488,#414488,#414488,#40488d,#366ca0,#3493a8,#3493a8,#348da7,#3489a6,#3483a5,#3572a1,#3e4d93,#414387,#40498e,#3f4b90,#3f4a8f,#3f4a8f,#3e5095,#3b5799,#3b589a,#3b5698,#3d5296,#3e4f94)"></div><div style="height:11.2px;background-image:linear-gradient(90deg,#3f4c92,#3f4b90,#3f4a8f,#3e4f94,#3c5598,#3c5598,#3d5296,#3b5698,#3c5598,#414387,#403b78,#413d7b,#40498e,#3c5598,#395e9c,#3573a1,#37659e,#414285,#403974,#3b5698,#3e5095,#403a76,#3c3162,#3c3060,#403872,#413e7f,#413f80,#413f80,#414082,#40498e,#3a599a,#347fa4,#37a8ac,#3db3ad,#3fb5ad,#3cb2ad,#39a,#366a9f,#357aa2,#3486a5,#3489a6,#3489a6,#3485a5,#366fa0,#40488d,#40478b,#3574a1,#3670a0,#414387,#413d7b,#413d7b,#413d7b,#413d7b,#403c79,#403872,#3f3770,#3f3770,#403a76,#414285,#3f4b90,#3e4d93,#3a5c9b,#38639d,#3b589a,#3e5095,#3f4a8f,#414285,#414184,#414285,#414387,#414488,#414488,#3e5095,#366b9f,#3671a0,#366ca0,#37659e,#37659e,#37669e,#3c5598,#3e5095,#3d5195,#3e5095,#3e5095,#3d5296,#3a599a,#395d9c,#395d9c,#3a599a,#3d5296,#3f4c92)"></div><div style="height:11.2px;background-image:linear-gradient(90deg,#413f80,#413d7b,#413d7b,#3f4b90,#3c5397,#3c5598,#3c5397,#3b589a,#3b5799,#414387,#403b78,#40488d,#38629d,#38639d,#3a5c9b,#357aa2,#357aa2,#3572a1,#3671a0,#39a,#359caa,#3484a5,#357ba3,#357aa2,#3b589a,#414488,#414285,#40468a,#3f4c92,#3a5b9b,#385f9c,#395e9c,#348fa7,#3aadac,#3bafad,#37a6ac,#3574a1,#403a76,#3f4a8f,#36699f,#3576a2,#3574a1,#395e9c,#3d5195,#3f4a8f,#40468a,#3c5397,#3b5799,#413e7f,#403c79,#403c79,#413d7b,#413d7b,#403b78,#3f366f,#3f3770,#403a76,#414184,#40478b,#3f4b90,#3f4c92,#3e4d93,#3e5095,#3e4d93,#3f4a8f,#414285,#413f80,#413f80,#413f80,#414082,#413f80,#403a76,#3e3469,#3e3367,#3e3469,#3e356b,#3f366d,#3f366d,#403974,#3f4a8f,#3d5296,#3d5296,#3d5296,#3c5598,#37659e,#366da0,#37669e,#385f9c,#3a599a,#3f4c92,#413f80)"></div><div style="height:11.2px;background-image:linear-gradient(90deg,#3c3060,#3b2f5f,#3c3060,#3f3770,#40468a,#3f4a8f,#40468a,#414082,#413d7b,#3e356b,#3f366f,#3f4c92,#395e9c,#3b5698,#3e4f94,#395e9c,#347fa4,#357da3,#38629d,#3574a1,#359eaa,#3bafad,#40b7ad,#3fb5ad,#36a3ab,#3576a2,#3e4f94,#3f4c92,#3c5598,#395e9c,#38629d,#38639d,#395d9c,#366a9f,#3573a1,#3b5799,#3f366d,#3b2f5f,#3c3060,#3e356b,#403c79,#3e4d93,#3b5698,#3c5397,#3f4c92,#40488d,#414488,#414184,#413e7f,#403a76,#403974,#403b78,#403b78,#403872,#3f366f,#3f366f,#403a76,#414285,#40478b,#40488d,#40468a,#413f80,#413f80,#414285,#414285,#413f80,#413e7d,#403c79,#403974,#3f3770,#3f366d,#3c3060,#3a2c59,#3a2c59,#3b2d5b,#3b2d5b,#37284f,#324,#342447,#3e356b,#3e4f94,#3c5397,#3d5296,#385f9c,#3573a1,#3576a2,#3572a1,#385f9c,#40498e,#3f3770,#3c3060)"></div><div style="height:11.2px;background-image:linear-gradient(90deg,#3b2e5d,#3b2e5d,#3b2e5d,#3b2e5d,#3c3060,#3c3162,#3c3060,#3b2e5d,#3b2e5d,#3b2e5d,#3b2f5f,#3f366d,#3f4a8f,#3f4c92,#3f4c92,#3d5296,#3574a1,#395e9c,#403872,#3f366f,#3f4c92,#3493a8,#41b8ad,#3fb5ad,#3aaead,#39a,#38619d,#3c5397,#3b5799,#38619d,#36699f,#3671a0,#366fa0,#414488,#3c3162,#3b2f5f,#3b2e5d,#3b2e5d,#3b2e5d,#3b2e5d,#3d3164,#3f4c92,#3b5698,#3c5598,#3f4c92,#40478b,#414387,#414285,#414082,#403a76,#3f3770,#403872,#3f366d,#3e3367,#3e3367,#3d3164,#3c3162,#403872,#414082,#414082,#3f3770,#3e356b,#3e356b,#3e356b,#3d3266,#3e356b,#3f3770,#3f366f,#3e356b,#3d3266,#3b2f5f,#3a2c58,#392b56,#392b56,#3a2c59,#37284f,#30203e,#30203e,#30203e,#342447,#3b589a,#37669e,#395d9c,#395d9c,#3572a1,#3574a1,#366da0,#40488d,#3d3164,#3b2f5f,#3b2e5d)"></div><div style="height:11.2px;background-image:linear-gradient(90deg,#3b2e5d,#3b2e5d,#3b2e5d,#3b2e5d,#3b2e5d,#3b2e5d,#3b2e5d,#3b2e5d,#3b2e5d,#3b2e5d,#3b2e5d,#3b2f5f,#403c79,#414488,#403c79,#403872,#413d7b,#3e3469,#3b2f5f,#3b2d5b,#3b2d5b,#3f3770,#3572a1,#357ea4,#3496a9,#348da7,#366a9f,#38619d,#3a5c9b,#37649e,#3573a1,#3578a2,#3575a1,#3d5195,#3b2f5f,#3b2e5d,#3b2e5d,#3b2e5d,#3b2e5d,#3b2e5d,#3b2f5f,#414082,#3d5296,#3e5095,#40488d,#414387,#414387,#3f4a8f,#3f4a8f,#403c79,#403872,#3f366f,#3e3367,#3d3266,#3c3162,#37284f,#342548,#36274d,#3a2c59,#3b2d5b,#3d3164,#3e3469,#3e3469,#3d3266,#3b2d5b,#3a2c59,#3d3164,#3d3266,#3d3266,#392b56,#35264c,#342447,#36274d,#37284f,#342548,#2d1d38,#2c1c36,#2d1d38,#2a1b33,#28192e,#3e4f94,#36699f,#38639d,#403a76,#3f4a8f,#3d5195,#413f80,#3c3162,#3b2e5d,#3b2e5d,#3b2e5d)"></div><div style="height:11.2px;background-image:linear-gradient(90deg,#3b2e5d,#3b2e5d,#3b2e5d,#3b2e5d,#3b2e5d,#3b2e5d,#3b2e5d,#3b2e5d,#3b2e5d,#3b2e5d,#3b2e5d,#3b2e5d,#3b2f5f,#3e3469,#3e3469,#3e3367,#3b2e5d,#3c3162,#3c3162,#3b2d5b,#392b56,#3b2d5b,#3e3469,#30203e,#372851,#37689f,#37669e,#38639d,#385f9c,#38629d,#3574a1,#3576a2,#3671a0,#414387,#3b2e5d,#3b2e5d,#3b2e5d,#3b2e5d,#3b2e5d,#3b2e5d,#3b2e5d,#3c3060,#3d3164,#3b2d5b,#3e3469,#413e7d,#414285,#3e4f94,#40498e,#403c79,#403c79,#403a76,#3d3164,#3b2e5d,#3a2c59,#37284f,#35264c,#324,#324,#324,#382953,#3d3164,#3e3367,#3c3162,#3a2c58,#3a2c58,#392b56,#392b56,#382953,#312140,#2f1f3d,#2e1e39,#2f1f3d,#2e1e3b,#2e1e39,#2b1c35,#2a1b33,#2a1b33,#231526,#212,#3e3469,#38619d,#3b589a,#3c3060,#3b2f5f,#3b2f5f,#3b2e5d,#3b2e5d,#3b2e5d,#3b2e5d,#3b2e5d)"></div><div style="height:11.2px;background-image:linear-gradient(90deg,#3b2e5d,#3b2e5d,#3b2e5d,#3b2e5d,#3b2e5d,#3b2e5d,#3b2e5d,#3b2e5d,#3b2e5d,#3b2e5d,#3b2e5d,#3b2e5d,#3b2e5d,#3c3162,#3d3266,#3b2e5d,#3a2c58,#3c3060,#3e3367,#3b2f5f,#3a2c58,#3e3367,#403a76,#372851,#324,#3b589a,#385f9c,#395d9c,#3a5b9b,#3f4a8f,#395e9c,#37659e,#3e4f94,#3d3164,#3b2e5d,#3b2e5d,#3b2e5d,#3b2e5d,#3b2e5d,#3b2e5d,#3b2e5d,#3a2c58,#291930,#312140,#37284f,#382953,#403c79,#403a76,#3b2f5f,#372851,#3e356b,#3e3469,#30203e,#231526,#2a1b33,#3b2d5b,#3c3162,#35264c,#312140,#30203e,#2e1e3b,#324,#3b2d5b,#3c3060,#392b56,#3b2e5d,#291a31,#26172b,#1f1220,#211423,#27182d,#26172b,#2b1c35,#2d1d38,#2d1d38,#2c1c36,#2a1b33,#2a1b33,#231526,#241628,#3f4a8f,#38619d,#3a5b9b,#3c3060,#3b2e5d,#3b2e5d,#3b2e5d,#3b2e5d,#3b2e5d,#3b2e5d,#3b2e5d)"></div><div style="height:11.2px;background-image:linear-gradient(90deg,#3b2e5d,#3b2e5d,#3b2e5d,#3b2e5d,#3b2e5d,#3b2e5d,#3b2e5d,#3b2e5d,#3b2e5d,#3b2e5d,#3b2e5d,#3b2e5d,#3b2e5d,#392b56,#2d1d38,#324,#382a54,#3b2e5d,#3d3266,#3b2f5f,#3a2c59,#3f366d,#413e7f,#413f80,#3e4d93,#3b589a,#3a5b9b,#3a599a,#3c5598,#403872,#3d3164,#3d3266,#3c3060,#3b2e5d,#3b2e5d,#3b2e5d,#3b2e5d,#3b2e5d,#3b2e5d,#3b2e5d,#3b2e5d,#382953,#231526,#212,#221425,#221425,#30203e,#3a2c58,#324,#28192e,#27182d,#221425,#1a0e19,#150a12,#1e111f,#35264c,#3a2c59,#324,#324,#2c1c36,#251729,#241628,#2e1e39,#392b56,#2c1c36,#1d111d,#10060a,#0f0609,#170c15,#1e111f,#221425,#231526,#2a1b33,#2d1d38,#2e1e39,#2e1e3b,#392b56,#3e3469,#3b2e5d,#3f4a8f,#3a5b9b,#395e9c,#3f4a8f,#3b2e5d,#3b2e5d,#3b2e5d,#3b2e5d,#3b2e5d,#3b2e5d,#3b2e5d,#3b2e5d)"></div><div style="height:11.2px;background-image:linear-gradient(90deg,#3b2e5d,#3b2e5d,#3b2e5d,#3b2e5d,#3b2e5d,#3b2e5d,#3b2e5d,#3b2e5d,#3b2e5d,#3b2e5d,#3b2e5d,#3b2e5d,#3b2e5d,#35254a,#241628,#291930,#342548,#35254a,#3b2d5b,#3a2c59,#3a2c59,#403974,#3f4a8f,#3d5195,#3b589a,#3a599a,#3b589a,#3c5397,#414082,#3b2f5f,#3b2e5d,#3b2e5d,#3b2e5d,#3b2e5d,#3b2e5d,#3b2e5d,#3b2e5d,#3b2e5d,#3b2e5d,#3b2e5d,#3b2e5d,#382a54,#251729,#1b0f1a,#1b0f1a,#150a12,#0b0405,#140910,#1b0f1a,#212,#170c15,#150a12,#150a12,#13090f,#12080d,#160b13,#140910,#212,#3a2c59,#28192e,#212,#212,#231526,#2a1b33,#211423,#170c15,#160b13,#160b13,#1e111f,#27182d,#324,#382953,#324,#2f1f3d,#324,#372851,#403c79,#413e7f,#3f4c92,#38619d,#38629d,#3a599a,#3e3367,#3b2e5d,#3b2e5d,#3b2e5d,#3b2e5d,#3b2e5d,#3b2e5d,#3b2e5d,#3b2e5d)"></div><div style="height:11.2px;background-image:linear-gradient(90deg,#3b2e5d,#3b2e5d,#3b2e5d,#3b2e5d,#3b2e5d,#3b2e5d,#3b2e5d,#3b2e5d,#3b2e5d,#3b2e5d,#3b2e5d,#3b2e5d,#3b2e5d,#382a54,#26172b,#27182d,#2a1b33,#28192e,#312140,#3b2e5d,#3d3164,#414082,#3c5397,#3b589a,#3a599a,#3b589a,#3b5799,#3f4a8f,#3c3162,#3b2e5d,#3b2e5d,#3b2e5d,#3b2e5d,#3b2e5d,#3b2e5d,#3b2e5d,#3b2e5d,#3b2e5d,#3b2e5d,#3b2e5d,#3b2d5b,#37284f,#1f1220,#150a12,#150a12,#11070c,#0b0405,#0d0406,#0d0406,#0f0609,#0e0508,#0f0609,#10060a,#10060a,#0d0406,#0d0406,#0d0406,#11070c,#26172b,#1f1220,#1e111f,#221425,#251729,#2b1c35,#291a31,#251729,#251729,#27182d,#291a31,#324,#3e3469,#403872,#382953,#35254a,#3f366f,#40468a,#414184,#413e7f,#3d5195,#38619d,#38619d,#3b5799,#3c3162,#3b2e5d,#3b2e5d,#3b2e5d,#3b2e5d,#3b2e5d,#3b2e5d,#3b2e5d,#3b2e5d)"></div><div style="height:11.2px;background-image:linear-gradient(90deg,#3b2e5d,#3b2e5d,#3b2e5d,#3b2e5d,#3b2e5d,#3b2e5d,#3b2e5d,#3b2e5d,#3b2e5d,#3b2e5d,#3b2e5d,#3b2e5d,#3b2e5d,#3b2e5d,#37284f,#2e1e39,#27182d,#26172b,#342447,#3b2e5d,#3e3367,#413e7d,#3d5296,#3b589a,#3b589a,#3b5799,#3d5195,#403a76,#3b2f5f,#3b2e5d,#3b2e5d,#3b2e5d,#3b2e5d,#3b2e5d,#3b2e5d,#3b2e5d,#3b2e5d,#3b2e5d,#3b2e5d,#3b2e5d,#3a2c58,#2a1b33,#150a12,#12080d,#11070c,#11070c,#0f0609,#0b0405,#0b0405,#0d0406,#0b0405,#0d0406,#0d0406,#0d0406,#0b0405,#0d0406,#0d0406,#10060a,#1c101c,#1c101c,#1a0e19,#26172b,#2e1e3b,#342548,#342447,#2e1e39,#2e1e39,#2a1b33,#2c1c36,#392b56,#413d7b,#414184,#403872,#3e5095,#38639d,#3a599a,#3e5095,#3f366d,#414184,#3a599a,#3a599a,#414184,#3b2f5f,#3b2e5d,#3b2e5d,#3b2e5d,#3b2e5d,#3b2e5d,#3b2e5d,#3b2e5d,#3b2e5d)"></div><div style="height:11.2px;background-image:linear-gradient(90deg,#3b2e5d,#3b2e5d,#3b2e5d,#3b2e5d,#3b2e5d,#3b2e5d,#3b2e5d,#3b2e5d,#3b2e5d,#3b2e5d,#3b2e5d,#3b2e5d,#3b2e5d,#3b2e5d,#3b2e5d,#35254a,#231526,#241628,#37284f,#3a2c58,#3d3164,#403872,#3f4b90,#3b5698,#3b5698,#3f4b90,#413e7d,#3d3266,#3b2f5f,#3b2e5d,#3b2e5d,#3b2e5d,#3b2e5d,#3b2e5d,#3b2e5d,#3b2e5d,#3b2e5d,#3b2e5d,#3b2e5d,#3b2d5b,#324,#160b13,#0f0609,#0d0406,#0d0406,#0e0508,#0e0508,#0b0405,#0b0405,#0d0406,#0d0406,#0b0405,#0b0405,#0d0406,#0d0406,#0e0508,#0d0406,#0f0609,#180d16,#170c15,#150a12,#28192e,#35264c,#372851,#392b56,#3a2c58,#3f366d,#382a54,#3d3266,#403974,#40468a,#40498e,#3a599a,#3486a5,#3486a5,#3671a0,#3d5195,#3b2f5f,#3c3060,#3f366f,#3f366f,#3c3060,#3b2e5d,#3b2e5d,#3b2e5d,#3b2e5d,#3b2e5d,#3b2e5d,#3b2e5d,#3b2e5d,#3b2e5d)"></div><div style="height:11.2px;background-image:linear-gradient(90deg,#3b2e5d,#3b2e5d,#3b2e5d,#3b2e5d,#3b2e5d,#3b2e5d,#3b2e5d,#3b2e5d,#3b2e5d,#3b2e5d,#3b2e5d,#3b2e5d,#3b2e5d,#3b2e5d,#3b2e5d,#382a54,#231526,#251729,#372851,#392b56,#3b2d5b,#3e3367,#413d7b,#414184,#414184,#413f80,#413e7f,#414285,#413e7f,#3c3060,#3b2e5d,#3b2e5d,#3b2e5d,#3b2e5d,#3b2e5d,#3b2e5d,#3b2e5d,#3b2e5d,#3b2e5d,#3b2d5b,#241628,#0f0609,#0d0406,#0d0406,#0d0406,#0d0406,#0d0406,#0d0406,#0d0406,#0d0406,#0d0406,#0b0405,#0b0405,#0d0406,#10060a,#0e0508,#0d0406,#0d0406,#10060a,#12080d,#13090f,#26172b,#372851,#382953,#3a2c59,#3c3162,#3e3469,#3e356b,#403c79,#403c79,#40488d,#3f4c92,#37649e,#357ca3,#3483a5,#3573a1,#37649e,#3b2e5d,#3b2e5d,#3b2e5d,#3b2e5d,#3b2e5d,#3b2e5d,#3b2e5d,#3b2e5d,#3b2e5d,#3b2e5d,#3b2e5d,#3b2e5d,#3b2e5d,#3b2e5d)"></div><div style="height:11.2px;background-image:linear-gradient(90deg,#3b2e5d,#3b2e5d,#3b2e5d,#3b2e5d,#3b2e5d,#3b2e5d,#3b2e5d,#3b2e5d,#3b2e5d,#3b2e5d,#3b2e5d,#3b2e5d,#3b2e5d,#3b2e5d,#3b2e5d,#3b2d5b,#312140,#2f1f3d,#382a54,#392b56,#3b2e5d,#3c3162,#413e7d,#413e7f,#413e7f,#413f80,#414082,#3f4b90,#3f4b90,#403872,#3b2e5d,#3b2e5d,#3b2e5d,#3b2e5d,#3b2e5d,#3b2e5d,#3b2e5d,#3b2e5d,#3b2e5d,#3a2c59,#1e111f,#0e0508,#0b0405,#0d0406,#0d0406,#0d0406,#0e0508,#0d0406,#0d0406,#0d0406,#0e0508,#0d0406,#0d0406,#0d0406,#11070c,#0e0508,#0d0406,#0b0405,#0e0508,#11070c,#12080d,#212,#372851,#392b56,#3c3060,#3d3164,#3d3266,#3f366d,#3f366f,#3f366d,#414184,#3f4b90,#3d5296,#385f9c,#3578a2,#366ca0,#385f9c,#3b2e5d,#3b2e5d,#3b2e5d,#3b2e5d,#3b2e5d,#3b2e5d,#3b2e5d,#3b2e5d,#3b2e5d,#3b2e5d,#3b2e5d,#3b2e5d,#3b2e5d,#3b2e5d)"></div><div style="height:11.2px;background-image:linear-gradient(90deg,#3b2e5d,#3b2e5d,#3b2e5d,#3b2e5d,#3b2e5d,#3b2e5d,#3b2e5d,#3b2e5d,#3b2e5d,#3b2e5d,#3b2e5d,#3b2e5d,#3b2e5d,#3b2e5d,#3b2e5d,#3b2e5d,#3b2e5d,#3b2d5b,#3a2c58,#3b2e5d,#3c3060,#3c3162,#413e7d,#413f80,#413e7f,#413f80,#414387,#3f4c92,#3f4c92,#413e7d,#3b2e5d,#3b2e5d,#3b2e5d,#3b2e5d,#3b2e5d,#3b2e5d,#3b2e5d,#3b2e5d,#3b2e5d,#3a2c59,#1f1220,#10060a,#0e0508,#0e0508,#10060a,#11070c,#11070c,#0f0609,#0e0508,#0e0508,#12080d,#0f0609,#0e0508,#0f0609,#160b13,#11070c,#10060a,#0e0508,#0e0508,#11070c,#12080d,#1d111d,#382a54,#3b2f5f,#3d3164,#3d3266,#3d3164,#3e3367,#3d3266,#3e3367,#403872,#414488,#3f4c92,#3e4f94,#40478b,#3f4a8f,#40488d,#3f366d,#3b2e5d,#3b2e5d,#3b2e5d,#3b2e5d,#3b2e5d,#3b2e5d,#3b2e5d,#3b2e5d,#3b2e5d,#3b2e5d,#3b2e5d,#3b2e5d,#3b2e5d)"></div><div style="height:11.2px;background-image:linear-gradient(90deg,#3b2e5d,#3b2e5d,#3b2e5d,#3b2e5d,#3b2e5d,#3b2e5d,#3b2e5d,#3b2e5d,#3b2e5d,#3b2e5d,#3b2e5d,#3b2e5d,#3b2e5d,#3b2e5d,#3b2e5d,#3b2e5d,#3b2e5d,#3b2e5d,#3b2e5d,#3c3060,#3c3060,#3c3162,#403c79,#413f80,#413f80,#403c79,#414488,#3f4c92,#3f4a8f,#3f3770,#3b2f5f,#3b2f5f,#3b2e5d,#3b2e5d,#3b2e5d,#3b2e5d,#3b2e5d,#3b2e5d,#3b2e5d,#3a2c59,#1d111d,#12080d,#12080d,#170c15,#1c101c,#1d111d,#1d111d,#190e18,#180d16,#180d16,#180d16,#180d16,#190e18,#1a0e19,#1b0f1a,#1a0e19,#160b13,#13090f,#0f0609,#13090f,#160b13,#291930,#3b2d5b,#3d3266,#3e3469,#3e3367,#3d3164,#3c3060,#3d3266,#3e3469,#3f366d,#403872,#40498e,#414488,#414285,#3f4c92,#3f4c92,#414387,#3b2f5f,#3b2e5d,#3b2e5d,#3b2e5d,#3b2e5d,#3b2e5d,#3b2e5d,#3b2e5d,#3b2e5d,#3b2e5d,#3b2e5d,#3b2e5d,#3b2e5d)"></div><div style="height:11.2px;background-image:linear-gradient(90deg,#3b2e5d,#3b2e5d,#3b2e5d,#3b2e5d,#3b2e5d,#3b2e5d,#3b2e5d,#3b2e5d,#3b2e5d,#3b2e5d,#3b2e5d,#3b2e5d,#3b2e5d,#3b2e5d,#3b2e5d,#3b2e5d,#3b2e5d,#3b2e5d,#3b2e5d,#3b2f5f,#3c3060,#3c3060,#3f3770,#413f80,#3e5095,#3f4a8f,#3d3266,#3d3266,#3c3162,#3a2c58,#403974,#413d7b,#3d3164,#3b2e5d,#3b2e5d,#3b2e5d,#3b2e5d,#3b2e5d,#3b2e5d,#3b2d5b,#212,#140910,#212,#372851,#2f1f3d,#2d1d38,#2f1f3d,#342447,#324,#2e1e3b,#231526,#27182d,#312140,#2b1c35,#26172b,#324,#1b0f1a,#160b13,#160b13,#212,#291a31,#382953,#3b2f5f,#3e356b,#3f366f,#3f366d,#3d3266,#3b2e5d,#3d3164,#3f366d,#3f366f,#3f366f,#414184,#403a76,#414488,#3e4d93,#3e5095,#3d5195,#3e3367,#3b2e5d,#3b2e5d,#3b2e5d,#3b2e5d,#3b2e5d,#3b2e5d,#3b2e5d,#3b2e5d,#3b2e5d,#3b2e5d,#3b2e5d,#3b2e5d)"></div><div style="height:11.2px;background-image:linear-gradient(90deg,#3b2e5d,#3b2e5d,#3b2e5d,#3b2e5d,#3b2e5d,#3b2e5d,#3b2e5d,#3b2e5d,#3b2e5d,#3b2e5d,#3b2e5d,#3b2e5d,#3b2e5d,#3b2e5d,#3b2e5d,#3b2e5d,#3b2e5d,#3b2e5d,#3b2e5d,#3b2e5d,#3b2e5d,#3b2e5d,#3b2f5f,#414082,#36699f,#395e9c,#3a2c59,#382a54,#382a54,#3a2c58,#3d5195,#38619d,#40478b,#3b2f5f,#3b2e5d,#3b2e5d,#3b2e5d,#3b2e5d,#3b2e5d,#3b2e5d,#324,#28192e,#3b2e5d,#3f366d,#3b2d5b,#372851,#3b2f5f,#403a76,#3a2c58,#392b56,#392b56,#382a54,#35254a,#342548,#392b56,#3e3367,#291930,#160b13,#170c15,#35254a,#3a2c59,#3b2e5d,#3b2e5d,#3f366d,#413e7f,#414184,#413f80,#3b2e5d,#3b2f5f,#3e356b,#3f366f,#3f366f,#3f366f,#413f80,#40468a,#3d5195,#3a5b9b,#395d9c,#414082,#3b2e5d,#3b2e5d,#3b2e5d,#3b2e5d,#3b2e5d,#3b2e5d,#3b2e5d,#3b2e5d,#3b2e5d,#3b2e5d,#3b2e5d,#3b2e5d)"></div><div style="height:11.2px;background-image:linear-gradient(90deg,#3b2e5d,#3b2e5d,#3b2e5d,#3b2e5d,#3b2e5d,#3b2e5d,#3b2e5d,#3b2e5d,#3b2e5d,#3b2e5d,#3b2e5d,#3b2e5d,#3b2e5d,#3b2e5d,#3b2e5d,#3b2e5d,#3b2e5d,#3b2e5d,#3b2e5d,#3b2e5d,#3b2e5d,#3b2e5d,#3b2e5d,#3d3164,#3c5598,#348da7,#348fa7,#3b2d5b,#3c3162,#3e3367,#38639d,#36699f,#395e9c,#3e356b,#3b2e5d,#3b2e5d,#3b2e5d,#3b2e5d,#3b2e5d,#3b2e5d,#3b2d5b,#3b2f5f,#3f366f,#403c79,#403974,#3b2d5b,#413d7b,#414184,#3e356b,#3d3266,#3f3770,#3e3367,#36274d,#36274d,#3c3060,#3c3162,#27182d,#1d111d,#1d111d,#372851,#3b2e5d,#3b2e5d,#3b2e5d,#3d3266,#403a76,#3b589a,#3d5296,#3b2e5d,#3b2e5d,#403974,#385f9c,#395e9c,#3f4a8f,#366a9f,#366a9f,#3a5b9b,#385f9c,#395e9c,#40468a,#3c3060,#3b2e5d,#3b2e5d,#3b2e5d,#3b2e5d,#3b2e5d,#3b2e5d,#3b2e5d,#3b2e5d,#3b2e5d,#3b2e5d,#3b2e5d)"></div><div style="height:11.2px;background-image:linear-gradient(90deg,#3b2e5d,#3b2e5d,#3b2e5d,#3b2e5d,#3b2e5d,#3b2e5d,#3b2e5d,#3b2e5d,#3b2e5d,#3b2e5d,#3b2e5d,#3b2e5d,#3b2e5d,#3b2e5d,#3b2e5d,#3b2e5d,#3b2e5d,#3b2e5d,#3b2e5d,#3b2e5d,#3b2e5d,#3b2e5d,#3b2e5d,#3b2e5d,#3b2e5d,#359fab,#39acac,#357aa2,#366fa0,#38639d,#366a9f,#366a9f,#395d9c,#414184,#3c3162,#3b2e5d,#3b2e5d,#3b2e5d,#3b2e5d,#3b2e5d,#3b2e5d,#3d3164,#403c79,#413f80,#413e7f,#3d3266,#414082,#414488,#40488d,#414285,#40478b,#40498e,#3c3060,#403a76,#3c3060,#36274d,#231526,#211423,#241628,#382953,#3b2e5d,#3b2e5d,#3b2e5d,#3b2e5d,#3c3162,#3e4f94,#3f3770,#3b2e5d,#3b2f5f,#3b5799,#366a9f,#366a9f,#37689f,#3574a1,#3573a1,#38629d,#395e9c,#37659e,#37649e,#3c5598,#3e356b,#3b2f5f,#3b2e5d,#3b2e5d,#3b2e5d,#3b2e5d,#3b2e5d,#3b2e5d,#3b2e5d,#3b2e5d,#3b2e5d)"></div><div style="height:11.2px;background-image:linear-gradient(90deg,#3b2e5d,#3b2e5d,#3b2e5d,#3b2e5d,#3b2e5d,#3b2e5d,#3b2e5d,#3b2e5d,#3b2e5d,#3b2e5d,#3b2e5d,#3b2e5d,#3b2e5d,#3b2e5d,#3b2e5d,#3b2e5d,#3b2e5d,#3b2e5d,#3b2e5d,#3b2e5d,#3b2e5d,#3b2e5d,#3b2e5d,#3b2e5d,#3b2f5f,#37659e,#3490a8,#3493a8,#3492a8,#3485a5,#366da0,#38639d,#3d5195,#3f4a8f,#3f366d,#392b56,#3a2c59,#3b2e5d,#3b2e5d,#3b2e5d,#3b2e5d,#3b2f5f,#403a76,#413f80,#403b78,#3c3162,#413f80,#3f4a8f,#3e4d93,#3a5b9b,#38639d,#366b9f,#3a5b9b,#395d9c,#3d3164,#372851,#26172b,#221425,#291930,#3a2c58,#3b2e5d,#3b2e5d,#3b2e5d,#3b2e5d,#3b2e5d,#3b2e5d,#3b2e5d,#3b2e5d,#3d3164,#38639d,#366b9f,#366a9f,#366ca0,#3575a1,#3573a1,#3a5c9b,#3a5c9b,#366a9f,#3671a0,#3572a1,#366b9f,#3e4d93,#3e3469,#3d3164,#3b2e5d,#3b2e5d,#3b2e5d,#3b2e5d,#3b2e5d,#3b2e5d,#3b2e5d)"></div><div style="height:11.2px;background-image:linear-gradient(90deg,#3b2e5d,#3b2e5d,#3b2e5d,#3b2e5d,#3b2e5d,#3b2e5d,#3b2e5d,#3b2e5d,#3b2e5d,#3b2e5d,#3b2e5d,#3b2e5d,#3b2e5d,#3b2e5d,#3b2e5d,#3b2e5d,#3b2e5d,#3b2e5d,#3b2e5d,#3b2e5d,#3b2e5d,#3b2e5d,#3b2e5d,#3b2e5d,#3c3162,#366b9f,#3484a5,#3491a8,#3491a8,#357da3,#366ca0,#3b5698,#3e4d93,#3f4b90,#3c3162,#36274d,#37284f,#3a2c59,#3b2e5d,#3b2e5d,#3b2e5d,#3b2e5d,#3c3060,#3d3266,#3c3060,#3b2e5d,#403872,#3f4a8f,#3e4d93,#38639d,#366ca0,#366da0,#3a599a,#40488d,#382a54,#372851,#2f1f3d,#291a31,#342548,#3b2d5b,#3b2e5d,#3b2e5d,#3b2e5d,#3b2e5d,#3b2e5d,#3b2e5d,#3b2e5d,#3b2e5d,#3c3162,#38619d,#366a9f,#36699f,#38619d,#3572a1,#366da0,#3b5799,#3b5698,#37669e,#3670a0,#3576a2,#357ca3,#3574a1,#36699f,#37689f,#3d3164,#3b2e5d,#3b2e5d,#3b2e5d,#3b2e5d,#3b2e5d,#3b2e5d)"></div><div style="height:11.2px;background-image:linear-gradient(90deg,#3b2e5d,#3b2e5d,#3b2e5d,#3b2e5d,#3b2e5d,#3b2e5d,#3b2e5d,#3b2e5d,#3b2e5d,#3b2e5d,#3b2e5d,#3b2e5d,#3b2e5d,#3b2e5d,#3b2e5d,#3b2e5d,#3b2e5d,#3b2e5d,#3b2e5d,#3b2e5d,#3b2e5d,#3b2e5d,#3b2e5d,#3b2e5d,#3d3266,#38619d,#3573a1,#3484a5,#348ba6,#3572a1,#37669e,#3f4b90,#40498e,#40478b,#382953,#35264c,#35264c,#382a54,#3b2e5d,#3b2e5d,#3b2e5d,#3b2e5d,#3b2e5d,#3b2e5d,#3b2e5d,#3b2e5d,#3c3060,#413e7f,#413e7f,#40488d,#3a599a,#3b589a,#3e4f94,#3a2c58,#342548,#35264c,#372851,#382a54,#3b2d5b,#3b2e5d,#3b2e5d,#3b2e5d,#3b2e5d,#3b2e5d,#3b2e5d,#3b2e5d,#3b2e5d,#3b2e5d,#3b2e5d,#40498e,#38639d,#3a599a,#3d3266,#413e7d,#3b5799,#413e7d,#403974,#3a5b9b,#366b9f,#3573a1,#366fa0,#3670a0,#3670a0,#3574a1,#414285,#3b2e5d,#3b2e5d,#3b2e5d,#3b2e5d,#3b2e5d,#3b2e5d)"></div><div style="height:11.2px;background-image:linear-gradient(90deg,#3b2e5d,#3b2e5d,#3b2e5d,#3b2e5d,#3b2e5d,#3b2e5d,#3b2e5d,#3b2e5d,#3b2e5d,#3b2e5d,#3b2e5d,#3b2e5d,#3b2e5d,#3b2e5d,#3b2e5d,#3b2e5d,#3b2e5d,#3b2e5d,#3b2e5d,#3b2e5d,#3b2e5d,#3b2e5d,#3b2e5d,#3b2e5d,#3c3162,#312140,#414387,#37689f,#3574a1,#37659e,#3b5698,#413e7f,#403c79,#3e3367,#37284f,#35264c,#35264c,#382953,#3b2e5d,#3b2e5d,#3b2e5d,#3b2e5d,#3b2e5d,#3b2e5d,#3b2e5d,#3b2e5d,#3b2e5d,#392b56,#2e1e3b,#2f1f3d,#3e3367,#403c79,#3f366d,#35254a,#35254a,#36274d,#3a2c58,#3b2e5d,#3b2e5d,#3b2e5d,#3b2e5d,#3b2e5d,#3b2e5d,#3b2e5d,#3b2e5d,#3b2e5d,#3b2e5d,#3b2e5d,#3b2e5d,#3c3060,#403974,#3e3367,#3b2f5f,#3c3060,#2d1d38,#231526,#1b0f1a,#26172b,#3b2f5f,#40478b,#3f4b90,#3b589a,#366da0,#3572a1,#413e7d,#3b2e5d,#3b2e5d,#3b2e5d,#3b2e5d,#3b2e5d,#3b2e5d)"></div><div style="height:11.2px;background-image:linear-gradient(90deg,#3e3367,#3b2e5d,#3b2e5d,#3b2e5d,#3b2e5d,#3b2e5d,#3b2e5d,#3b2e5d,#3b2e5d,#3b2e5d,#3b2e5d,#3b2e5d,#3b2e5d,#3b2e5d,#3b2e5d,#3b2e5d,#3b2e5d,#3b2e5d,#3b2e5d,#3b2e5d,#3b2e5d,#3b2e5d,#3b2e5d,#3b2e5d,#3b2e5d,#3c3162,#3c3162,#3e356b,#3f366d,#3f3770,#403c79,#403974,#3d3266,#3a2c58,#382953,#3b2d5b,#3f366f,#382a54,#3b2e5d,#3b2e5d,#3b2e5d,#3b2e5d,#3b2e5d,#3b2e5d,#3b2e5d,#3b2e5d,#3b2e5d,#35264c,#2b1c35,#2b1c35,#324,#392b56,#324,#342447,#3b2d5b,#3c3162,#3c3162,#3b2e5d,#3b2e5d,#3b2e5d,#3b2e5d,#3b2e5d,#3b2e5d,#3b2e5d,#3b2e5d,#3b2e5d,#3b2e5d,#3b2e5d,#3b2e5d,#3b2e5d,#3b2e5d,#3b2e5d,#3b2f5f,#3b2f5f,#28192e,#212,#180d16,#1a0e19,#1d111d,#26172b,#392b56,#2b1c35,#413e7f,#3b5698,#3c3060,#3b2e5d,#3b2e5d,#3b2e5d,#3b2e5d,#3e3367,#3e3367)"></div><div style="height:11.2px;background-image:linear-gradient(90deg,#366ca0,#3e3469,#3b2e5d,#3b2e5d,#3b2e5d,#3b2e5d,#3b2e5d,#3b2e5d,#3b2e5d,#3b2e5d,#3b2e5d,#3b2e5d,#3b2e5d,#3b2e5d,#3b2e5d,#3b2e5d,#3b2e5d,#3b2e5d,#3b2e5d,#3b2e5d,#3b2e5d,#3b2e5d,#3b2e5d,#3b2e5d,#3b2e5d,#3b2d5b,#392b56,#3a2c59,#3b2e5d,#3b2e5d,#3d3164,#3f366d,#3b2e5d,#392b56,#392b56,#3f366f,#3f4a8f,#3b2d5b,#3b2e5d,#3b2e5d,#3b2e5d,#3b2e5d,#3b2e5d,#3b2e5d,#3b2e5d,#3b2e5d,#3b2e5d,#36274d,#2b1c35,#2a1b33,#2d1d38,#2c1c36,#291930,#324,#3d3266,#3e3469,#3c3060,#3f4a8f,#3f3770,#3b2e5d,#3b2e5d,#3b2e5d,#3b2e5d,#3b2e5d,#3b2e5d,#3b2e5d,#3b2e5d,#3b2e5d,#3b2e5d,#3b2e5d,#3b2e5d,#3b2e5d,#3b2e5d,#3b2d5b,#35254a,#231526,#1d111d,#1d111d,#1c101c,#1d111d,#212,#1f1220,#241628,#3a2c58,#3b2e5d,#3b2e5d,#3c3060,#3b2f5f,#3e3469,#366ca0,#366ca0)"></div><div style="height:11.2px;background-image:linear-gradient(90deg,#3578a2,#40488d,#3b2e5d,#3b2e5d,#3b2e5d,#3b2e5d,#3b2e5d,#3b2e5d,#3b2e5d,#3b2e5d,#3b2e5d,#3b2e5d,#3b2e5d,#3b2e5d,#3b2e5d,#3b2e5d,#3b2e5d,#3b2e5d,#3b2e5d,#3b2e5d,#3b2e5d,#3b2e5d,#3b2e5d,#3b2e5d,#3b2e5d,#3b2e5d,#3a2c59,#3b2d5b,#3b2e5d,#3b2e5d,#3c3060,#3f366d,#3b2e5d,#3d3266,#3e3367,#3c3060,#3d3266,#3b2e5d,#3b2e5d,#3b2e5d,#3b2e5d,#3b2e5d,#3b2e5d,#3b2e5d,#3b2e5d,#3b2e5d,#3b2e5d,#37284f,#291a31,#28192e,#28192e,#28192e,#291930,#2f1f3d,#3c3162,#3e3367,#2d1d38,#37689f,#366da0,#3b2e5d,#3b2e5d,#3b2e5d,#3b2e5d,#3b2e5d,#3b2e5d,#3b2e5d,#3b2e5d,#3b2e5d,#3b2e5d,#3b2e5d,#3b2e5d,#3b2e5d,#3b2d5b,#382953,#342447,#27182d,#1f1220,#212,#211423,#211423,#27182d,#291930,#30203e,#3a2c58,#3b2e5d,#3e3367,#3d5195,#3f4c92,#40498e,#3578a2,#3578a2)"></div><div style="height:11.2px;background-image:linear-gradient(90deg,#3576a2,#413f80,#3b2e5d,#3b2e5d,#3b2e5d,#3b2e5d,#3b2e5d,#3b2e5d,#3b2e5d,#3b2e5d,#3b2e5d,#3b2e5d,#3b2e5d,#3b2e5d,#3b2e5d,#3b2e5d,#3b2e5d,#3b2e5d,#3b2e5d,#3b2e5d,#3b2e5d,#3b2e5d,#3b2e5d,#3b2e5d,#3b2e5d,#3b2e5d,#3b2e5d,#211423,#342548,#3b2e5d,#414285,#38629d,#40478b,#414082,#414082,#413d7b,#3e3469,#3b2e5d,#3b2e5d,#3b2e5d,#3b2e5d,#3b2e5d,#3b2e5d,#3b2e5d,#3b2e5d,#3b2e5d,#3b2e5d,#342447,#251729,#241628,#241628,#27182d,#291930,#2c1c36,#382a54,#3a2c58,#27182d,#413f80,#37649e,#3b2e5d,#3b2e5d,#3b2e5d,#3b2e5d,#3b2e5d,#3b2e5d,#3b2e5d,#3b2e5d,#3b2e5d,#3b2e5d,#3b2e5d,#3b2e5d,#3b2e5d,#392b56,#35254a,#324,#2e1e3b,#27182d,#291930,#2d1d38,#2e1e3b,#35254a,#35264c,#392b56,#3f366d,#3b2f5f,#414488,#3a5b9b,#3a5b9b,#414488,#3576a2,#3576a2)"></div><div style="height:11.2px;background-image:linear-gradient(90deg,#3c5397,#3c3060,#3b2e5d,#3b2e5d,#3b2e5d,#3b2e5d,#3b2e5d,#3b2e5d,#3b2e5d,#3b2e5d,#3b2e5d,#3b2e5d,#3b2e5d,#3b2e5d,#3b2e5d,#3b2e5d,#3b2e5d,#3b2e5d,#3b2e5d,#3b2e5d,#3b2e5d,#3b2e5d,#3b2e5d,#3b2e5d,#3b2e5d,#3b2e5d,#3a2c59,#10060a,#212,#3a2c58,#3a5c9b,#366ca0,#3573a1,#3e4d93,#414488,#414285,#3f366d,#3b2e5d,#3b2e5d,#3b2e5d,#3b2e5d,#3b2e5d,#3b2e5d,#3b2e5d,#3b2e5d,#3b2e5d,#3b2e5d,#324,#251729,#231526,#251729,#27182d,#291930,#2b1c35,#342447,#37284f,#27182d,#2b1c35,#3b2e5d,#3b2e5d,#3b2e5d,#3b2e5d,#3b2e5d,#3b2e5d,#3b2e5d,#3b2e5d,#3b2e5d,#3b2e5d,#3b2e5d,#3b2e5d,#3b2e5d,#3b2d5b,#372851,#342447,#324,#324,#30203e,#30203e,#324,#342447,#37284f,#372851,#3e3367,#403c79,#3e3469,#414387,#3a5b9b,#3a599a,#3f3770,#3c5397,#3c5397)"></div><div style="height:11.2px;background-image:linear-gradient(90deg,#3b2f5f,#3b2e5d,#3b2e5d,#3b2e5d,#3b2e5d,#3b2e5d,#3b2e5d,#3b2e5d,#3b2e5d,#3b2e5d,#3b2e5d,#3b2e5d,#3b2e5d,#3b2e5d,#3b2e5d,#3b2e5d,#3b2e5d,#3b2e5d,#3b2e5d,#3b2e5d,#3b2e5d,#3b2e5d,#3b2e5d,#3b2e5d,#3b2e5d,#3b2e5d,#3b2d5b,#241628,#342548,#382953,#3c5397,#3573a1,#3483a5,#366fa0,#40468a,#413f80,#3d3164,#3b2e5d,#3b2e5d,#3b2e5d,#3b2e5d,#3b2e5d,#3b2e5d,#3b2e5d,#3b2e5d,#3b2e5d,#3b2e5d,#36274d,#27182d,#251729,#2a1b33,#2d1d38,#2e1e3b,#324,#36274d,#3b2d5b,#35254a,#382953,#3b2e5d,#3b2e5d,#3b2e5d,#3b2e5d,#3b2e5d,#3b2e5d,#3b2e5d,#3b2e5d,#3b2e5d,#3b2e5d,#3b2e5d,#3b2e5d,#3b2e5d,#3b2d5b,#37284f,#324,#324,#324,#342447,#324,#342447,#37284f,#372851,#372851,#3f366d,#414387,#403c79,#3d3164,#3e4d93,#40498e,#3c3060,#3b2f5f,#3b2f5f)"></div><div style="height:11.2px;background-image:linear-gradient(90deg,#403974,#3c3060,#3b2e5d,#3b2e5d,#3b2e5d,#3b2e5d,#3b2e5d,#3b2e5d,#3b2e5d,#3b2e5d,#3b2e5d,#3b2e5d,#3b2e5d,#3b2e5d,#3b2e5d,#3b2e5d,#3b2e5d,#3b2e5d,#3b2e5d,#3b2e5d,#3b2e5d,#3b2e5d,#3b2e5d,#3b2e5d,#3b2e5d,#3b2e5d,#3a2c59,#342548,#382953,#3b2d5b,#3d5296,#3579a2,#3484a5,#357da3,#414488,#3e3469,#3b2e5d,#3b2e5d,#3b2e5d,#3b2e5d,#3b2e5d,#3b2e5d,#3b2e5d,#3b2e5d,#3b2e5d,#3b2e5d,#3b2e5d,#3a2c59,#324,#2e1e39,#324,#35254a,#3b2f5f,#403974,#3b2d5b,#3b2e5d,#3b2e5d,#3b2e5d,#3b2e5d,#3b2e5d,#3b2e5d,#3b2e5d,#3b2e5d,#3b2e5d,#3b2e5d,#3b2e5d,#3b2e5d,#3b2e5d,#3b2e5d,#3b2e5d,#3b2e5d,#3b2d5b,#372851,#342548,#342548,#342447,#35254a,#35254a,#37284f,#392b56,#382953,#3a2c59,#414488,#3f4c92,#414184,#3b2e5d,#3b2f5f,#3d3164,#413d7b,#40468a,#403974)"></div><div style="height:11.2px;background-image:linear-gradient(90deg,#357ca3,#413f80,#3b2f5f,#3b2e5d,#3b2e5d,#3b2e5d,#3b2e5d,#3b2e5d,#3b2e5d,#3b2e5d,#3b2e5d,#3b2e5d,#3b2e5d,#3b2e5d,#3b2e5d,#3b2e5d,#3b2e5d,#3b2e5d,#3b2e5d,#3b2e5d,#3b2e5d,#3b2e5d,#3b2e5d,#3b2e5d,#3b2e5d,#3b2e5d,#324,#1e111f,#37284f,#403974,#395e9c,#3575a1,#357ba3,#366fa0,#3e3469,#3b2e5d,#3b2e5d,#3b2e5d,#3b2e5d,#3b2e5d,#3b2e5d,#3b2e5d,#3b2e5d,#3b2e5d,#3b2e5d,#3b2e5d,#3b2e5d,#3b2e5d,#3a2c59,#2a1b33,#2d1d38,#3b2d5b,#3b2f5f,#403872,#3b2e5d,#3b2e5d,#3b2e5d,#3b2e5d,#3b2e5d,#3b2e5d,#3b2e5d,#3b2e5d,#3b2e5d,#3b2e5d,#3b2e5d,#3b2e5d,#3b2e5d,#3b2e5d,#3b2e5d,#3b2e5d,#3b2e5d,#3b2e5d,#392b56,#36274d,#36274d,#35264c,#35264c,#36274d,#392b56,#3a2c59,#3a2c58,#40488d,#385f9c,#3c5397,#3c3162,#3b2e5d,#3c3060,#3e4f94,#3485a5,#348fa7,#357ca3)"></div><div style="height:11.2px;background-image:linear-gradient(90deg,#39a,#366fa0,#3d3164,#3b2e5d,#3b2e5d,#3b2e5d,#3b2e5d,#3b2e5d,#3b2e5d,#3b2e5d,#3b2e5d,#3b2e5d,#3b2e5d,#3b2e5d,#3b2e5d,#3b2e5d,#3b2e5d,#3b2e5d,#3b2e5d,#3b2e5d,#3b2e5d,#3b2e5d,#3b2e5d,#3b2e5d,#3b2e5d,#3b2e5d,#36274d,#1f1220,#3b2e5d,#40478b,#3a5b9b,#3671a0,#3574a1,#3f4a8f,#3b2e5d,#3b2e5d,#3b2e5d,#3b2e5d,#3b2e5d,#3b2e5d,#3b2e5d,#3b2e5d,#3b2e5d,#3b2e5d,#3b2e5d,#3b2e5d,#3b2e5d,#3b2e5d,#3b2e5d,#324,#37284f,#413f80,#382953,#3a2c59,#3b2e5d,#3b2e5d,#3b2e5d,#3b2e5d,#3b2e5d,#3b2e5d,#3b2e5d,#3b2e5d,#3b2e5d,#3b2e5d,#3b2e5d,#3b2e5d,#3b2e5d,#3b2e5d,#3b2e5d,#3b2e5d,#3b2e5d,#3b2e5d,#3a2c59,#37284f,#37284f,#36274d,#36274d,#37284f,#3a2c59,#3b2d5b,#3e3469,#395d9c,#38629d,#3d5296,#3b2e5d,#3b2f5f,#413d7b,#3483a5,#359eaa,#35a1ab,#39a)"></div><div style="height:11.2px;background-image:linear-gradient(90deg,#35a0ab,#3482a4,#3e356b,#3b2e5d,#3b2e5d,#3b2e5d,#3b2e5d,#3b2e5d,#3b2e5d,#3b2e5d,#3b2e5d,#3b2e5d,#3b2e5d,#3b2e5d,#3b2e5d,#3b2e5d,#3b2e5d,#3b2e5d,#3b2e5d,#3b2e5d,#3b2e5d,#3b2e5d,#3b2e5d,#3b2e5d,#3b2e5d,#3b2e5d,#3b2f5f,#3c3162,#414082,#3e4f94,#3b5698,#37649e,#38629d,#3e3469,#3b2e5d,#3b2e5d,#3b2e5d,#3b2e5d,#3b2e5d,#3b2e5d,#3b2e5d,#3b2e5d,#3b2e5d,#3b2e5d,#3b2e5d,#3b2e5d,#3b2e5d,#3b2e5d,#3b2e5d,#3b2d5b,#3a2c58,#3a2c59,#3a2c58,#3b2d5b,#3b2e5d,#3b2e5d,#3b2e5d,#3b2e5d,#3b2e5d,#3b2e5d,#3b2e5d,#3b2e5d,#3b2e5d,#3b2e5d,#3b2e5d,#3b2e5d,#3b2e5d,#3b2e5d,#3b2e5d,#3b2e5d,#3b2e5d,#3b2e5d,#3b2d5b,#382a54,#372851,#372851,#382953,#382a54,#3b2d5b,#3b2e5d,#3f4a8f,#38629d,#38639d,#413f80,#3b2e5d,#3f366f,#366da0,#3495a9,#35a1ab,#36a3ab,#35a0ab)"></div><div style="height:11.2px;background-image:linear-gradient(90deg,#359eaa,#357aa2,#3e3367,#3b2e5d,#3b2e5d,#3b2e5d,#3b2e5d,#3b2e5d,#3b2e5d,#3b2e5d,#3b2e5d,#3b2e5d,#3b2e5d,#3b2e5d,#3b2e5d,#3b2e5d,#3b2e5d,#3b2e5d,#3b2e5d,#3b2e5d,#3b2e5d,#3b2e5d,#3b2e5d,#3b2e5d,#3b2e5d,#3b2e5d,#413f80,#413f80,#403a76,#40468a,#3e4d93,#40488d,#3f366d,#3b2e5d,#3b2e5d,#3b2e5d,#3b2e5d,#3b2e5d,#3b2e5d,#3b2e5d,#3b2e5d,#3b2e5d,#3b2e5d,#3b2e5d,#3b2e5d,#3b2e5d,#3b2e5d,#3b2e5d,#3b2e5d,#3b2e5d,#3b2e5d,#3b2d5b,#3b2e5d,#3b2e5d,#3b2e5d,#3b2e5d,#3b2e5d,#3b2e5d,#3b2e5d,#3b2e5d,#3b2e5d,#3b2e5d,#3b2e5d,#3b2e5d,#3b2e5d,#3b2e5d,#3b2e5d,#3b2e5d,#3b2e5d,#3b2e5d,#3b2e5d,#3b2e5d,#3b2e5d,#3b2d5b,#3a2c59,#3a2c59,#3b2d5b,#3b2d5b,#3b2e5d,#3b2e5d,#414082,#3483a5,#348fa7,#40468a,#3c3060,#3c5598,#348ea7,#39a,#359fab,#35a1ab,#359eaa)"></div><div style="height:11.2px;background-image:linear-gradient(90deg,#3490a8,#3d5296,#3b2f5f,#3b2e5d,#3b2e5d,#3b2e5d,#3b2e5d,#3b2e5d,#3b2e5d,#3b2e5d,#3b2e5d,#3b2e5d,#3b2e5d,#3b2e5d,#3b2e5d,#3b2e5d,#3b2e5d,#3b2e5d,#3b2e5d,#3b2e5d,#3b2e5d,#3b2e5d,#3b2e5d,#3b2e5d,#3b2e5d,#3c3162,#357aa2,#366a9f,#403a76,#403974,#403974,#3d3164,#3b2e5d,#3b2e5d,#3b2e5d,#3b2e5d,#3b2e5d,#3b2e5d,#3b2e5d,#3b2e5d,#3b2e5d,#3b2e5d,#3b2e5d,#3b2e5d,#3b2e5d,#3b2e5d,#3b2e5d,#3b2e5d,#3b2e5d,#3b2e5d,#3b2e5d,#3b2e5d,#3b2e5d,#3b2e5d,#3b2e5d,#3b2e5d,#3b2e5d,#3b2e5d,#3b2e5d,#3b2e5d,#3b2e5d,#3b2e5d,#3b2e5d,#3b2e5d,#3b2e5d,#3b2e5d,#3b2e5d,#3b2e5d,#3b2e5d,#3b2e5d,#3b2e5d,#3b2e5d,#3b2e5d,#3b2e5d,#3b2e5d,#3b2e5d,#3b2e5d,#3b2e5d,#3b2e5d,#3b2e5d,#3c3162,#348ba6,#3490a8,#403c79,#3c3162,#36699f,#3495a9,#39a,#39a,#39a,#3490a8)"></div><div style="height:11.2px;background-image:linear-gradient(90deg,#366ca0,#3e3469,#3b2e5d,#3b2e5d,#3b2e5d,#3b2e5d,#3b2e5d,#3b2e5d,#3b2e5d,#3b2e5d,#3b2e5d,#3b2e5d,#3b2e5d,#3b2e5d,#3b2e5d,#3b2e5d,#3b2e5d,#3b2e5d,#3b2e5d,#3b2e5d,#3b2e5d,#3b2e5d,#3b2e5d,#3b2e5d,#3b2e5d,#3c3060,#3671a0,#38629d,#403a76,#403872,#3d3266,#3b2e5d,#3b2e5d,#3b2e5d,#3b2e5d,#3b2e5d,#3b2e5d,#3b2e5d,#3b2e5d,#3b2e5d,#3b2e5d,#3b2e5d,#3b2e5d,#3b2e5d,#3b2e5d,#3b2e5d,#3b2e5d,#3b2e5d,#3b2e5d,#3b2e5d,#3b2e5d,#3b2e5d,#3b2e5d,#3b2e5d,#3b2e5d,#3b2e5d,#3b2e5d,#3b2e5d,#3b2e5d,#3b2e5d,#3b2e5d,#3b2e5d,#3b2e5d,#3b2e5d,#3b2e5d,#3b2e5d,#3b2e5d,#3b2e5d,#3b2e5d,#3b2e5d,#3b2e5d,#3b2e5d,#3b2e5d,#3b2e5d,#3b2e5d,#3b2e5d,#3b2e5d,#3b2e5d,#3b2e5d,#3b2e5d,#3b2e5d,#3e3469,#403974,#3b2e5d,#3c3060,#385f9c,#3491a8,#39a,#39a,#3493a8,#366ca0)"></div><div style="height:11.2px;background-image:linear-gradient(90deg,#414082,#3b2f5f,#3b2e5d,#3b2e5d,#3b2e5d,#3b2e5d,#3b2e5d,#3b2e5d,#3b2e5d,#3b2e5d,#3b2e5d,#3b2e5d,#3b2e5d,#3b2e5d,#3b2e5d,#3b2e5d,#3b2e5d,#3b2e5d,#3b2e5d,#3b2e5d,#3b2e5d,#3b2e5d,#3b2e5d,#3b2e5d,#3b2e5d,#3e3367,#357ea4,#357ca3,#3e4d93,#414488,#3d3164,#3b2e5d,#3b2e5d,#3b2e5d,#3b2e5d,#3b2e5d,#3b2e5d,#3b2e5d,#3b2e5d,#3b2e5d,#3b2e5d,#3b2e5d,#3b2e5d,#3b2e5d,#3b2e5d,#3b2e5d,#3b2e5d,#3b2e5d,#3b2e5d,#3b2e5d,#3b2e5d,#3b2e5d,#3b2e5d,#3b2e5d,#3b2e5d,#3b2e5d,#3b2e5d,#3b2e5d,#3b2e5d,#3b2e5d,#3b2e5d,#3b2e5d,#3b2f5f,#3b2f5f,#3b2f5f,#3c3060,#3c3060,#3c3060,#3c3060,#3c3060,#3c3060,#3b2f5f,#3b2f5f,#3b2f5f,#3b2e5d,#3b2e5d,#3b2e5d,#3b2e5d,#3b2e5d,#3b2e5d,#3b2e5d,#3b2e5d,#3b2e5d,#3b2e5d,#3b2f5f,#413f80,#357ca3,#3490a8,#3490a8,#357da3,#414082)"></div><div style="height:11.2px;background-image:linear-gradient(90deg,#3c3060,#3b2e5d,#3b2e5d,#3b2e5d,#3b2e5d,#3b2e5d,#3b2e5d,#3b2e5d,#3b2e5d,#3b2e5d,#3b2e5d,#3b2e5d,#3b2e5d,#3b2e5d,#3b2e5d,#3b2e5d,#3b2e5d,#3b2e5d,#3b2e5d,#3b2e5d,#3b2e5d,#3b2e5d,#3b2e5d,#3b2e5d,#3b2e5d,#3c3162,#357aa2,#3573a1,#3a5c9b,#3a599a,#413e7d,#3b2e5d,#3b2e5d,#3b2e5d,#3b2e5d,#3b2e5d,#3b2e5d,#3b2e5d,#3b2e5d,#3b2e5d,#3b2e5d,#3b2e5d,#3b2e5d,#3b2e5d,#3b2e5d,#3b2e5d,#3b2e5d,#3b2e5d,#3b2e5d,#3b2e5d,#3b2e5d,#3b2e5d,#3b2e5d,#3b2e5d,#3b2f5f,#3b2f5f,#3b2f5f,#3b2f5f,#3b2f5f,#3b2f5f,#3b2f5f,#3c3060,#3c3162,#3d3164,#3d3266,#3e3367,#3e3367,#3e3469,#3e3469,#3e3367,#3e3367,#3d3266,#3d3164,#3c3162,#3c3060,#3b2f5f,#3b2f5f,#3b2e5d,#3b2e5d,#3b2e5d,#3b2e5d,#3b2e5d,#3b2e5d,#3b2e5d,#3b2e5d,#3c3060,#413f80,#395d9c,#395d9c,#413f80,#3c3060)"></div><div style="height:11.2px;background-image:linear-gradient(90deg,#3b2f5f,#3b2f5f,#3b2f5f,#3b2f5f,#3b2f5f,#3b2f5f,#3b2f5f,#3b2f5f,#3b2f5f,#3b2f5f,#3b2f5f,#3c3060,#3c3060,#3c3162,#3c3162,#3c3162,#3c3162,#3c3162,#3c3060,#3c3060,#3b2f5f,#3b2f5f,#3b2f5f,#3b2f5f,#3b2e5d,#3b2f5f,#413e7d,#3a599a,#3a5b9b,#3b589a,#403a76,#3b2e5d,#3b2e5d,#3b2e5d,#3b2e5d,#3b2e5d,#3b2e5d,#3b2e5d,#3b2f5f,#3b2f5f,#3b2f5f,#3b2f5f,#3c3060,#3c3060,#3c3162,#3c3162,#3c3162,#3c3060,#3c3060,#3b2f5f,#3b2f5f,#3c3060,#3c3060,#3c3162,#3d3164,#3d3164,#3d3164,#3d3164,#3c3162,#3c3162,#3d3164,#3d3266,#3e3469,#3f366d,#3f3770,#403872,#403974,#403a76,#403a76,#403974,#403872,#3f3770,#3f366d,#3e3469,#3e3367,#3d3164,#3c3162,#3c3162,#3c3060,#3c3060,#3b2f5f,#3b2f5f,#3b2e5d,#3b2e5d,#3b2e5d,#3b2e5d,#3b2f5f,#3c3162,#3c3162,#3c3060,#3b2f5f)"></div><div style="height:11.2px;background-image:linear-gradient(90deg,#3c3162,#3c3162,#3c3162,#3c3162,#3d3164,#3d3164,#3d3266,#3d3266,#3e3367,#3e3367,#3e3469,#3e356b,#3f3770,#403974,#403b78,#403c79,#403b78,#403a76,#403872,#3f366f,#3e356b,#3e3367,#3d3266,#3c3162,#3c3162,#3c3060,#3c3162,#414082,#3f4c92,#414082,#3c3162,#3b2e5d,#3b2f5f,#3b2f5f,#3c3060,#3c3060,#3c3162,#3d3164,#3d3164,#3d3164,#3d3266,#3e3367,#3f366d,#3f3770,#403974,#403a76,#403974,#3f3770,#3f366d,#3e3469,#3e3367,#3e3469,#3f366d,#3f366f,#3f3770,#403872,#403872,#3f3770,#3f366f,#3f366d,#3f366d,#3f3770,#403974,#403b78,#413d7b,#413e7f,#413f80,#414082,#414082,#413f80,#413e7f,#413e7d,#403c79,#403a76,#403872,#3f3770,#3f3770,#3f3770,#3f3770,#3f366f,#3e3469,#3d3266,#3c3162,#3c3060,#3b2f5f,#3c3060,#3c3060,#3c3060,#3c3162,#3c3162,#3c3162)"></div><div style="height:11.2px;background-image:linear-gradient(90deg,#3e3469,#3e356b,#3e356b,#3f366f,#403872,#403a76,#403c79,#413e7d,#413e7f,#413f80,#414184,#40468a,#3f4a8f,#3e4f94,#3d5195,#3d5296,#3d5296,#3e5095,#3e4f94,#3e4d93,#3f4b90,#40478b,#414082,#403a76,#3f366d,#3e3469,#3e3367,#413d7b,#37689f,#357ba3,#36699f,#403b78,#3d3164,#3d3266,#3e356b,#3f366f,#403872,#403a76,#403a76,#403b78,#403c79,#413e7f,#414184,#414488,#40478b,#40488d,#40478b,#414488,#414184,#413d7b,#403b78,#403b78,#413d7b,#413e7d,#413e7f,#413e7f,#413e7f,#413e7d,#413d7b,#403c79,#403c79,#413e7d,#414285,#414387,#414387,#40468a,#40488d,#3f4a8f,#3f4a8f,#40488d,#40468a,#40498e,#3b5799,#3a5b9b,#40498e,#414082,#414184,#414184,#414285,#40478b,#3f4b90,#414387,#403872,#3f366d,#403872,#403a76,#403872,#3f366d,#3e3469,#3e3469,#3e3469)"></div><div style="height:11.2px;background-image:linear-gradient(90deg,#403872,#403974,#403b78,#413e7d,#414184,#40468a,#3f4a8f,#3e4d93,#3e5095,#3d5296,#3b5698,#3a5b9b,#385f9c,#38639d,#37649e,#37649e,#37649e,#37659e,#37689f,#366a9f,#36699f,#37659e,#395d9c,#3e5095,#414387,#413d7b,#414488,#357ba3,#39a,#35a0ab,#39a,#357aa2,#403c79,#403a76,#413e7f,#414285,#414488,#40468a,#40468a,#40468a,#40478b,#40498e,#3f4b90,#3e4d93,#3d5195,#3c5397,#3d5195,#3e4d93,#3f4a8f,#40468a,#414285,#40488d,#3d5296,#3e5095,#40478b,#414285,#414285,#414184,#414184,#414082,#414387,#395e9c,#3573a1,#366fa0,#3b5799,#3e4d93,#3d5195,#3c5397,#3c5397,#3d5195,#3e4f94,#37659e,#3482a4,#3484a5,#366ca0,#3f4a8f,#40478b,#40488d,#3e5095,#366da0,#357ea4,#3579a2,#3b589a,#3e5095,#395e9c,#38639d,#395d9c,#3f4c92,#413e7f,#403974,#403872)"></div><div style="height:11.2px;background-image:linear-gradient(90deg,#403c79,#413d7b,#413e7f,#414285,#40498e,#3e4f94,#3c5397,#3b5799,#3a5b9b,#395d9c,#38629d,#37689f,#366b9f,#366da0,#366da0,#366ca0,#366ca0,#366fa0,#3572a1,#3574a1,#3574a1,#3572a1,#366ca0,#38629d,#3d5296,#3e4f94,#366fa0,#348da7,#39a,#359fab,#39a,#357aa2,#414285,#414285,#40488d,#3f4b90,#3f4c92,#3e4d93,#3e4d93,#3f4c92,#3f4c92,#3e4d93,#3e4f94,#3b5698,#37669e,#366da0,#37669e,#3b5698,#3e4d93,#3f4a8f,#3f4c92,#37669e,#3578a2,#3573a1,#3a5b9b,#40478b,#414387,#414387,#414387,#414285,#3f4b90,#3574a1,#3486a5,#3482a4,#37689f,#3c5598,#3b5698,#3b589a,#3b589a,#3b5698,#3c5397,#37649e,#347fa4,#3482a4,#36699f,#3f4b90,#40498e,#40498e,#3c5397,#3574a1,#3484a5,#347fa4,#37649e,#37659e,#3573a1,#3575a1,#3671a0,#38629d,#3f4c92,#413e7f,#403c79)"></div><div style="height:11.2px;background-image:linear-gradient(90deg,#413e7f,#413e7d,#414082,#414488,#3f4b90,#3d5296,#3b5799,#3a5b9b,#395e9c,#38629d,#37689f,#366fa0,#3572a1,#3573a1,#3572a1,#3670a0,#3670a0,#3671a0,#3574a1,#3576a2,#3576a2,#3575a1,#3670a0,#37669e,#3b589a,#3b589a,#357aa2,#348ea7,#3492a8,#3490a8,#347fa4,#3c5598,#414184,#40468a,#3f4b90,#3e4f94,#3e5095,#3e5095,#3e5095,#3e5095,#3e4f94,#3e4f94,#3e5095,#3b589a,#366a9f,#3572a1,#366a9f,#3b589a,#3e4f94,#3f4b90,#3f4c92,#37659e,#3575a1,#3671a0,#3a599a,#40478b,#414488,#414488,#414387,#414387,#40468a,#395d9c,#3572a1,#366da0,#3b589a,#3c5397,#3b5799,#3a599a,#3a599a,#3b5799,#3d5296,#3e5095,#3b5799,#3b589a,#3f4c92,#40498e,#40498e,#40498e,#3f4b90,#3b5799,#37649e,#3a5c9b,#3d5296,#37659e,#3572a1,#3574a1,#3670a0,#38629d,#3e4f94,#414285,#413e7f)"></div><div style="height:11.2px;background-image:linear-gradient(90deg,#413f80,#413e7f,#414082,#414488,#3f4a8f,#3d5195,#3b5698,#3a5b9b,#395e9c,#38639d,#366a9f,#3671a0,#3574a1,#3574a1,#3573a1,#3671a0,#3670a0,#3671a0,#3573a1,#3574a1,#3574a1,#3572a1,#366ca0,#38629d,#3c5397,#3e4f94,#37669e,#357ca3,#3480a4,#3576a2,#3a5b9b,#414285,#413f80,#40468a,#3f4b90,#3e5095,#3d5195,#3d5195,#3d5195,#3d5195,#3e5095,#3e4f94,#3e4f94,#3d5195,#3b5698,#3a599a,#3b5698,#3d5195,#3e4d93,#3f4a8f,#40488d,#3f4b90,#3d5195,#3e4f94,#40488d,#414488,#414488,#414488,#414488,#414387,#414387,#414488,#40488d,#40498e,#3f4b90,#3e4f94,#3c5397,#3c5598,#3c5598,#3c5397,#3e4f94,#3f4b90,#40488d,#40478b,#40478b,#40488d,#40498e,#40498e,#40488d,#40468a,#414387,#414082,#414387,#3c5397,#38629d,#37649e,#385f9c,#3c5598,#3f4a8f,#414285,#413f80)"></div><div style="height:11.2px;background-image:linear-gradient(90deg,#413e7f,#413e7d,#413e7f,#414082,#414488,#3f4a8f,#3e5095,#3b5698,#3a5c9b,#38619d,#37689f,#366fa0,#3572a1,#3573a1,#3572a1,#3670a0,#366da0,#366da0,#366da0,#366fa0,#366da0,#36699f,#38629d,#3b5799,#3f4c92,#40468a,#40468a,#3f4c92,#3f4c92,#40468a,#413e7d,#403c79,#413e7d,#414387,#3f4a8f,#3e5095,#3d5195,#3d5296,#3d5195,#3d5195,#3e5095,#3e4f94,#3e4d93,#3e4d93,#3e4d93,#3e4f94,#3e4d93,#3f4c92,#3f4b90,#40498e,#40478b,#414488,#414488,#414488,#414488,#414488,#414488,#414488,#414488,#414387,#414387,#414387,#414488,#40468a,#40488d,#3f4a8f,#3f4c92,#3e4d93,#3e4d93,#3f4c92,#3f4a8f,#40488d,#40468a,#40468a,#40478b,#40488d,#40488d,#40478b,#40468a,#414285,#413e7d,#403b78,#403b78,#414082,#40488d,#3f4c92,#3f4c92,#40498e,#40468a,#414184,#413e7f)"></div><div style="height:11.2px;background-image:linear-gradient(90deg,#413e7d,#413d7b,#403c79,#403c79,#403c79,#413e7f,#414488,#3f4c92,#3b5698,#395d9c,#38639d,#36699f,#366da0,#3670a0,#366fa0,#366da0,#366b9f,#36699f,#37659e,#38639d,#395e9c,#3a599a,#3d5296,#3f4b90,#40478b,#414387,#414082,#413e7d,#403c79,#403b78,#403a76,#403b78,#413d7b,#414184,#40498e,#3e4f94,#3d5195,#3d5195,#3d5195,#3e5095,#3e4f94,#3f4c92,#3f4b90,#3f4b90,#3f4b90,#3f4a8f,#3f4a8f,#40498e,#40488d,#40478b,#40468a,#414488,#414488,#414488,#414488,#414488,#414488,#414488,#414387,#414387,#414387,#414387,#414488,#414488,#40468a,#40468a,#40478b,#40488d,#40488d,#40478b,#40468a,#40468a,#414488,#414488,#40468a,#40468a,#40468a,#414387,#414082,#413d7b,#403974,#3f366f,#3f366f,#403974,#413e7d,#414184,#414387,#414387,#414184,#413f80,#413e7d)"></div><div style="height:11.2px;background-image:linear-gradient(90deg,#413d7b,#403c79,#403974,#3f366f,#3e356b,#3f366d,#403a76,#414184,#3f4c92,#3b5799,#385f9c,#37659e,#36699f,#366b9f,#366b9f,#366a9f,#37669e,#38629d,#3a5c9b,#3b5698,#3e5095,#3f4c92,#40498e,#40468a,#414488,#414285,#414082,#413e7f,#403c79,#403b78,#403a76,#403b78,#413d7b,#414082,#40488d,#3e4d93,#3d5195,#3d5195,#3d5195,#3e4f94,#3e4d93,#3f4b90,#40498e,#40488d,#40488d,#40488d,#40478b,#40478b,#40468a,#40468a,#414488,#414488,#414387,#414387,#414387,#414488,#414387,#414387,#414387,#414387,#414387,#414387,#414488,#414488,#414488,#414488,#414488,#40468a,#40468a,#414488,#414488,#414488,#414488,#414488,#414488,#414387,#414285,#413f80,#403c79,#403872,#3f366d,#3e356b,#3e356b,#3f366f,#403974,#413d7b,#413e7f,#413e7f,#413e7f,#413e7d,#413d7b)"></div><div style="height:11.2px;background-image:linear-gradient(90deg,#403c79,#403b78,#403872,#3e356b,#3d3266,#3d3164,#3e3469,#403b78,#414488,#3d5195,#3a5b9b,#38629d,#37659e,#37689f,#37689f,#37649e,#385f9c,#3a599a,#3d5296,#3e4d93,#40498e,#40478b,#40468a,#414488,#414488,#414387,#414184,#413f80,#413d7b,#403c79,#403b78,#403b78,#413d7b,#414082,#40478b,#3f4c92,#3e5095,#3e5095,#3e4f94,#3e4d93,#3f4b90,#40498e,#40488d,#40478b,#40468a,#40468a,#40468a,#414488,#414488,#414488,#414488,#414387,#414387,#414387,#414387,#414387,#414387,#414285,#414285,#414285,#414387,#414387,#414488,#414488,#414488,#414488,#414488,#414488,#414488,#414488,#414488,#414488,#414488,#414488,#414387,#414184,#413e7f,#403b78,#3f3770,#3e356b,#3e3469,#3e3469,#3e356b,#3f366d,#3f3770,#403974,#403b78,#403c79,#413d7b,#403c79,#403c79)"></div><div style="height:39.6px;background-image:linear-gradient(90deg,#403c79,#403b78,#403974,#3f366f,#3e3367,#3d3266,#3e3469,#403974,#414184,#3f4c92,#3b5698,#395d9c,#38619d,#38629d,#38619d,#395d9c,#3b5799,#3d5195,#3f4c92,#40498e,#40478b,#40468a,#414488,#414488,#414488,#414387,#414285,#414082,#413e7f,#413d7b,#403c79,#403b78,#413d7b,#414082,#40478b,#3f4b90,#3e4d93,#3e4f94,#3e4d93,#3f4b90,#40498e,#40488d,#40468a,#40468a,#414488,#414488,#414488,#414488,#414488,#414488,#414387,#414387,#414285,#414285,#414285,#414184,#414184,#414184,#414184,#414184,#414285,#414387,#414387,#414488,#414488,#414488,#414488,#414488,#414488,#414488,#414488,#414488,#414488,#414387,#414387,#414184,#413e7d,#403974,#3f366d,#3e3469,#3e3469,#3e3469,#3e356b,#3f366d,#3f3770,#403974,#403a76,#403b78,#403c79,#403c79,#403c79)"></div></div></div>
<div class="r" style="left:227.9px;top:3436.5px;width:1323.8px;height:648.6px"><div class="b" style="width:1383.8px;filter:blur(6px);background-size:1323.8px 100%"><div style="height:44.9px;background-image:linear-gradient(90deg,#160b13,#160b13,#160b13,#160b13,#160b13,#160b13,#160b13,#160b13,#160b13,#160b13,#160b13,#160b13,#160b13,#160b13,#160b13,#160b13,#160b13,#160b13,#160b13,#160b13,#160b13,#150a12,#13090f,#10060a,#0e0508,#0d0406,#0b0405,#0b0405,#0b0405,#0b0405,#0d0406,#0d0406,#0e0508,#10060a,#12080d,#150a12,#160b13,#160b13,#160b13,#160b13,#160b13,#160b13,#160b13,#160b13,#160b13,#160b13,#160b13,#160b13,#160b13,#160b13,#160b13,#160b13,#160b13,#160b13,#160b13,#160b13,#160b13,#160b13,#160b13,#160b13,#160b13,#160b13,#160b13,#160b13,#160b13,#160b13,#160b13,#160b13,#160b13,#160b13,#160b13,#160b13,#160b13)"></div><div style="height:14.9px;background-image:linear-gradient(90deg,#160b13,#160b13,#160b13,#160b13,#160b13,#160b13,#160b13,#160b13,#160b13,#160b13,#160b13,#160b13,#160b13,#160b13,#160b13,#160b13,#160b13,#160b13,#160b13,#160b13,#160b13,#150a12,#13090f,#0f0609,#0d0406,#0b0405,#0b0405,#0b0405,#0b0405,#0b0405,#0b0405,#0b0405,#0d0406,#0d0406,#10060a,#13090f,#150a12,#160b13,#160b13,#160b13,#160b13,#160b13,#160b13,#160b13,#160b13,#160b13,#160b13,#160b13,#160b13,#160b13,#160b13,#160b13,#160b13,#160b13,#160b13,#160b13,#160b13,#160b13,#160b13,#160b13,#160b13,#160b13,#160b13,#160b13,#160b13,#160b13,#160b13,#160b13,#160b13,#160b13,#160b13,#160b13,#160b13)"></div><div style="height:14.9px;background-image:linear-gradient(90deg,#160b13,#160b13,#160b13,#160b13,#160b13,#160b13,#160b13,#160b13,#160b13,#160b13,#160b13,#160b13,#160b13,#160b13,#160b13,#160b13,#160b13,#160b13,#160b13,#160b13,#160b13,#150a12,#13090f,#10060a,#0e0508,#0d0406,#0b0405,#0b0405,#0b0405,#0b0405,#0b0405,#0b0405,#0b0405,#0d0406,#0f0609,#13090f,#150a12,#160b13,#160b13,#160b13,#160b13,#160b13,#160b13,#160b13,#160b13,#160b13,#160b13,#160b13,#160b13,#160b13,#160b13,#160b13,#160b13,#160b13,#160b13,#160b13,#160b13,#160b13,#160b13,#160b13,#160b13,#160b13,#160b13,#160b13,#160b13,#160b13,#160b13,#160b13,#160b13,#160b13,#160b13,#160b13,#160b13)"></div><div style="height:14.9px;background-image:linear-gradient(90deg,#160b13,#160b13,#160b13,#160b13,#160b13,#160b13,#160b13,#160b13,#160b13,#160b13,#160b13,#160b13,#160b13,#160b13,#160b13,#160b13,#160b13,#160b13,#160b13,#160b13,#160b13,#150a12,#140910,#12080d,#0f0609,#0e0508,#0d0406,#0d0406,#0d0406,#0d0406,#0d0406,#0d0406,#0d0406,#0f0609,#12080d,#140910,#160b13,#160b13,#160b13,#160b13,#160b13,#160b13,#160b13,#160b13,#160b13,#160b13,#160b13,#160b13,#160b13,#160b13,#160b13,#160b13,#160b13,#160b13,#160b13,#160b13,#160b13,#160b13,#160b13,#160b13,#160b13,#160b13,#160b13,#160b13,#160b13,#160b13,#160b13,#160b13,#160b13,#160b13,#160b13,#160b13,#160b13)"></div><div style="height:14.9px;background-image:linear-gradient(90deg,#160b13,#160b13,#160b13,#160b13,#160b13,#160b13,#160b13,#160b13,#160b13,#160b13,#160b13,#160b13,#160b13,#160b13,#160b13,#160b13,#160b13,#160b13,#160b13,#160b13,#160b13,#160b13,#150a12,#140910,#12080d,#0f0609,#0e0508,#0e0508,#0e0508,#0e0508,#0e0508,#0f0609,#11070c,#13090f,#150a12,#160b13,#160b13,#160b13,#160b13,#160b13,#160b13,#160b13,#160b13,#160b13,#160b13,#160b13,#160b13,#160b13,#160b13,#160b13,#160b13,#160b13,#160b13,#160b13,#160b13,#160b13,#160b13,#160b13,#160b13,#160b13,#160b13,#160b13,#160b13,#160b13,#160b13,#160b13,#160b13,#160b13,#160b13,#160b13,#160b13,#160b13,#160b13)"></div><div style="height:14.9px;background-image:linear-gradient(90deg,#160b13,#160b13,#160b13,#160b13,#160b13,#160b13,#160b13,#160b13,#160b13,#160b13,#160b13,#160b13,#160b13,#160b13,#160b13,#160b13,#160b13,#160b13,#160b13,#160b13,#160b13,#160b13,#160b13,#150a12,#140910,#12080d,#10060a,#0f0609,#0f0609,#0f0609,#10060a,#12080d,#140910,#150a12,#160b13,#160b13,#160b13,#160b13,#160b13,#160b13,#160b13,#160b13,#160b13,#160b13,#160b13,#160b13,#160b13,#160b13,#160b13,#160b13,#160b13,#160b13,#160b13,#160b13,#160b13,#160b13,#160b13,#160b13,#160b13,#160b13,#160b13,#160b13,#160b13,#160b13,#160b13,#160b13,#160b13,#160b13,#160b13,#160b13,#160b13,#160b13,#160b13)"></div><div style="height:14.9px;background-image:linear-gradient(90deg,#160b13,#160b13,#160b13,#160b13,#160b13,#160b13,#160b13,#160b13,#160b13,#160b13,#160b13,#160b13,#160b13,#160b13,#160b13,#160b13,#160b13,#160b13,#160b13,#160b13,#160b13,#160b13,#160b13,#160b13,#150a12,#140910,#12080d,#11070c,#10060a,#11070c,#12080d,#140910,#160b13,#160b13,#160b13,#160b13,#160b13,#160b13,#160b13,#160b13,#160b13,#160b13,#160b13,#160b13,#160b13,#160b13,#160b13,#160b13,#160b13,#160b13,#160b13,#160b13,#160b13,#160b13,#160b13,#160b13,#160b13,#160b13,#160b13,#160b13,#160b13,#160b13,#160b13,#160b13,#160b13,#160b13,#160b13,#160b13,#160b13,#160b13,#160b13,#160b13,#160b13)"></div><div style="height:14.9px;background-image:linear-gradient(90deg,#160b13,#160b13,#160b13,#160b13,#160b13,#160b13,#160b13,#160b13,#160b13,#160b13,#160b13,#160b13,#160b13,#160b13,#160b13,#160b13,#160b13,#160b13,#160b13,#160b13,#160b13,#160b13,#160b13,#160b13,#160b13,#160b13,#150a12,#150a12,#140910,#150a12,#150a12,#160b13,#160b13,#160b13,#160b13,#160b13,#160b13,#160b13,#160b13,#160b13,#160b13,#160b13,#160b13,#160b13,#160b13,#160b13,#160b13,#160b13,#160b13,#160b13,#160b13,#160b13,#160b13,#160b13,#160b13,#160b13,#160b13,#160b13,#160b13,#160b13,#160b13,#160b13,#160b13,#160b13,#160b13,#160b13,#160b13,#160b13,#160b13,#160b13,#160b13,#160b13,#160b13)"></div><div style="height:14.9px;background-image:linear-gradient(90deg,#160b13,#160b13,#160b13,#160b13,#160b13,#160b13,#160b13,#160b13,#160b13,#160b13,#160b13,#160b13,#160b13,#160b13,#160b13,#160b13,#160b13,#160b13,#160b13,#160b13,#160b13,#160b13,#160b13,#160b13,#160b13,#160b13,#160b13,#160b13,#160b13,#160b13,#160b13,#160b13,#160b13,#160b13,#160b13,#160b13,#160b13,#160b13,#160b13,#160b13,#160b13,#160b13,#160b13,#160b13,#160b13,#160b13,#160b13,#160b13,#160b13,#160b13,#160b13,#170c15,#1a0e19,#1c101c,#1a0e19,#180d16,#160b13,#160b13,#160b13,#160b13,#160b13,#160b13,#160b13,#160b13,#160b13,#160b13,#160b13,#160b13,#160b13,#160b13,#160b13,#160b13,#160b13)"></div><div style="height:14.9px;background-image:linear-gradient(90deg,#160b13,#160b13,#160b13,#160b13,#160b13,#160b13,#160b13,#160b13,#160b13,#160b13,#160b13,#160b13,#160b13,#160b13,#160b13,#160b13,#160b13,#160b13,#160b13,#160b13,#160b13,#160b13,#160b13,#160b13,#160b13,#160b13,#160b13,#160b13,#160b13,#160b13,#160b13,#160b13,#160b13,#160b13,#160b13,#160b13,#160b13,#160b13,#160b13,#160b13,#160b13,#160b13,#160b13,#160b13,#160b13,#160b13,#160b13,#160b13,#160b13,#160b13,#160b13,#1b0f1a,#251729,#27182d,#26172b,#251729,#1f1220,#170c15,#160b13,#160b13,#160b13,#160b13,#160b13,#160b13,#160b13,#160b13,#160b13,#160b13,#160b13,#160b13,#160b13,#160b13,#160b13)"></div><div style="height:14.9px;background-image:linear-gradient(90deg,#160b13,#160b13,#160b13,#160b13,#160b13,#160b13,#160b13,#160b13,#160b13,#160b13,#160b13,#1b0f1a,#211423,#1b0f1a,#160b13,#160b13,#160b13,#160b13,#160b13,#160b13,#160b13,#160b13,#160b13,#160b13,#160b13,#160b13,#160b13,#160b13,#160b13,#160b13,#160b13,#160b13,#160b13,#160b13,#160b13,#160b13,#160b13,#160b13,#160b13,#160b13,#160b13,#160b13,#160b13,#160b13,#160b13,#160b13,#160b13,#160b13,#160b13,#160b13,#170c15,#211423,#291930,#291a31,#291930,#291930,#26172b,#190e18,#160b13,#160b13,#160b13,#160b13,#160b13,#160b13,#160b13,#160b13,#160b13,#160b13,#160b13,#160b13,#160b13,#160b13,#160b13)"></div><div style="height:14.9px;background-image:linear-gradient(90deg,#160b13,#160b13,#160b13,#160b13,#160b13,#160b13,#160b13,#160b13,#160b13,#160b13,#160b13,#211423,#241628,#211423,#1c101c,#170c15,#160b13,#160b13,#160b13,#160b13,#160b13,#160b13,#160b13,#160b13,#160b13,#160b13,#160b13,#160b13,#160b13,#160b13,#160b13,#160b13,#160b13,#160b13,#180d16,#1a0e19,#221425,#1b0f1a,#241628,#190e18,#160b13,#160b13,#160b13,#160b13,#1c101c,#1c101c,#180d16,#160b13,#160b13,#160b13,#170c15,#221425,#291930,#291a31,#291930,#28192e,#26172b,#190e18,#160b13,#160b13,#160b13,#160b13,#160b13,#160b13,#160b13,#160b13,#160b13,#160b13,#160b13,#160b13,#160b13,#160b13,#160b13)"></div><div style="height:14.9px;background-image:linear-gradient(90deg,#160b13,#160b13,#160b13,#160b13,#160b13,#160b13,#160b13,#160b13,#160b13,#160b13,#160b13,#1e111f,#221425,#211423,#211423,#1e111f,#180d16,#160b13,#160b13,#160b13,#160b13,#160b13,#160b13,#160b13,#160b13,#160b13,#160b13,#160b13,#160b13,#160b13,#160b13,#160b13,#160b13,#251729,#291930,#291a31,#2e1e39,#2c1c36,#2a1b33,#2c1c36,#37284f,#324,#3e356b,#2e1e3b,#2b1c35,#2b1c35,#291a31,#2a1b33,#26172b,#1e111f,#1f1220,#231526,#27182d,#27182d,#26172b,#241628,#1e111f,#170c15,#160b13,#160b13,#160b13,#160b13,#160b13,#160b13,#160b13,#160b13,#160b13,#160b13,#160b13,#160b13,#160b13,#160b13,#160b13)"></div><div style="height:14.9px;background-image:linear-gradient(90deg,#160b13,#160b13,#160b13,#160b13,#160b13,#160b13,#160b13,#160b13,#160b13,#160b13,#160b13,#160b13,#1b0f1a,#211423,#221425,#231526,#212,#170c15,#160b13,#160b13,#160b13,#160b13,#160b13,#160b13,#160b13,#160b13,#160b13,#160b13,#160b13,#160b13,#160b13,#160b13,#1e111f,#342447,#36274d,#37284f,#3a2c59,#3e3367,#3b2f5f,#3e3367,#3f366d,#414285,#40468a,#413e7f,#36274d,#2e1e3b,#2e1e39,#36274d,#342548,#2e1e39,#2d1d38,#291930,#28192e,#26172b,#241628,#221425,#1e111f,#1a0e19,#160b13,#160b13,#160b13,#160b13,#160b13,#160b13,#160b13,#160b13,#160b13,#160b13,#160b13,#160b13,#160b13,#160b13,#160b13)"></div><div style="height:14.9px;background-image:linear-gradient(90deg,#160b13,#160b13,#160b13,#160b13,#160b13,#160b13,#160b13,#160b13,#160b13,#160b13,#160b13,#160b13,#170c15,#1e111f,#221425,#241628,#241628,#1d111d,#160b13,#160b13,#160b13,#160b13,#160b13,#160b13,#160b13,#160b13,#160b13,#160b13,#160b13,#160b13,#160b13,#160b13,#251729,#403872,#414184,#3f4a8f,#3d5296,#3b589a,#3d5296,#3b589a,#37659e,#3576a2,#348ca7,#366a9f,#403b78,#403872,#382953,#392b56,#35254a,#2f1f3d,#2e1e3b,#2b1c35,#291930,#26172b,#221425,#231526,#251729,#221425,#190e18,#160b13,#160b13,#160b13,#160b13,#160b13,#160b13,#160b13,#160b13,#160b13,#160b13,#160b13,#160b13,#160b13,#160b13)"></div><div style="height:14.9px;background-image:linear-gradient(90deg,#160b13,#160b13,#160b13,#160b13,#160b13,#160b13,#160b13,#160b13,#160b13,#160b13,#160b13,#160b13,#160b13,#170c15,#1f1220,#241628,#26172b,#231526,#1d111d,#190e18,#160b13,#160b13,#160b13,#160b13,#160b13,#160b13,#160b13,#160b13,#160b13,#160b13,#160b13,#160b13,#251729,#413e7f,#3f4b90,#3c5598,#395d9c,#37659e,#385f9c,#37659e,#3573a1,#3487a6,#39abac,#3579a2,#413f80,#40498e,#414285,#413f80,#3a2c59,#2b1c35,#2e1e39,#2b1c35,#291930,#26172b,#1f1220,#251729,#26172b,#251729,#1e111f,#160b13,#160b13,#160b13,#160b13,#160b13,#160b13,#160b13,#160b13,#160b13,#160b13,#160b13,#160b13,#160b13,#160b13)"></div><div style="height:14.9px;background-image:linear-gradient(90deg,#160b13,#160b13,#160b13,#160b13,#160b13,#160b13,#160b13,#160b13,#160b13,#160b13,#160b13,#160b13,#160b13,#160b13,#180d16,#231526,#26172b,#231526,#211423,#1f1220,#160b13,#160b13,#160b13,#170c15,#160b13,#160b13,#160b13,#160b13,#160b13,#160b13,#160b13,#160b13,#1f1220,#3b2d5b,#3e356b,#403872,#403974,#413e7d,#403c79,#413f80,#40488d,#3a599a,#385f9c,#3e4f94,#342548,#413d7b,#40488d,#413f80,#324,#1e111f,#291930,#291930,#27182d,#231526,#1d111d,#251729,#26172b,#26172b,#221425,#170c15,#160b13,#160b13,#160b13,#160b13,#160b13,#160b13,#160b13,#160b13,#160b13,#160b13,#160b13,#160b13,#160b13)"></div><div style="height:14.9px;background-image:linear-gradient(90deg,#160b13,#160b13,#160b13,#160b13,#160b13,#160b13,#160b13,#160b13,#160b13,#160b13,#160b13,#160b13,#160b13,#160b13,#160b13,#1a0e19,#212,#212,#211423,#1f1220,#160b13,#160b13,#1a0e19,#1f1220,#1a0e19,#160b13,#160b13,#160b13,#160b13,#160b13,#160b13,#160b13,#190e18,#291930,#28192e,#27182d,#27182d,#291930,#291a31,#291930,#28192e,#291930,#291930,#28192e,#211423,#3b2d5b,#3b2d5b,#291930,#180d16,#160b13,#1b0f1a,#211423,#211423,#1b0f1a,#190e18,#211423,#251729,#26172b,#241628,#170c15,#160b13,#160b13,#160b13,#160b13,#160b13,#160b13,#160b13,#160b13,#160b13,#160b13,#160b13,#160b13,#160b13)"></div><div style="height:14.9px;background-image:linear-gradient(90deg,#160b13,#160b13,#160b13,#160b13,#160b13,#160b13,#160b13,#160b13,#160b13,#160b13,#160b13,#160b13,#160b13,#160b13,#160b13,#160b13,#160b13,#1b0f1a,#1f1220,#1b0f1a,#160b13,#160b13,#1f1220,#211423,#1f1220,#160b13,#160b13,#160b13,#160b13,#160b13,#160b13,#160b13,#170c15,#241628,#26172b,#241628,#241628,#231526,#221425,#231526,#241628,#231526,#221425,#221425,#211423,#1b0f1a,#170c15,#160b13,#160b13,#160b13,#160b13,#170c15,#170c15,#160b13,#160b13,#190e18,#211423,#241628,#1f1220,#160b13,#160b13,#160b13,#160b13,#160b13,#160b13,#160b13,#160b13,#160b13,#160b13,#160b13,#160b13,#160b13,#160b13)"></div><div style="height:14.9px;background-image:linear-gradient(90deg,#160b13,#160b13,#160b13,#160b13,#160b13,#160b13,#160b13,#160b13,#160b13,#160b13,#160b13,#160b13,#160b13,#160b13,#160b13,#160b13,#160b13,#160b13,#170c15,#160b13,#160b13,#160b13,#1f1220,#211423,#1f1220,#180d16,#190e18,#180d16,#160b13,#160b13,#160b13,#160b13,#160b13,#1f1220,#241628,#231526,#231526,#211423,#1d111d,#221425,#241628,#221425,#211423,#211423,#212,#1a0e19,#160b13,#160b13,#160b13,#160b13,#160b13,#160b13,#160b13,#160b13,#160b13,#160b13,#170c15,#190e18,#170c15,#160b13,#160b13,#160b13,#160b13,#160b13,#160b13,#160b13,#160b13,#160b13,#160b13,#160b13,#160b13,#160b13,#160b13)"></div><div style="height:14.9px;background-image:linear-gradient(90deg,#160b13,#160b13,#160b13,#160b13,#160b13,#160b13,#160b13,#160b13,#160b13,#160b13,#160b13,#160b13,#160b13,#160b13,#160b13,#160b13,#160b13,#160b13,#160b13,#160b13,#160b13,#160b13,#190e18,#1d111d,#1b0f1a,#1d111d,#1e111f,#1d111d,#190e18,#160b13,#160b13,#160b13,#160b13,#170c15,#1a0e19,#1c101c,#1f1220,#1c101c,#190e18,#1f1220,#221425,#212,#1f1220,#212,#1e111f,#170c15,#160b13,#160b13,#160b13,#160b13,#160b13,#160b13,#160b13,#160b13,#160b13,#160b13,#160b13,#160b13,#160b13,#160b13,#160b13,#160b13,#160b13,#160b13,#160b13,#160b13,#160b13,#160b13,#160b13,#160b13,#160b13,#160b13,#160b13)"></div><div style="height:14.9px;background-image:linear-gradient(90deg,#160b13,#160b13,#160b13,#160b13,#160b13,#160b13,#160b13,#160b13,#160b13,#160b13,#160b13,#160b13,#160b13,#160b13,#160b13,#160b13,#160b13,#160b13,#160b13,#160b13,#160b13,#160b13,#160b13,#170c15,#1c101c,#212,#211423,#211423,#212,#180d16,#160b13,#160b13,#160b13,#160b13,#160b13,#160b13,#170c15,#160b13,#170c15,#1c101c,#211423,#221425,#212,#1c101c,#190e18,#160b13,#160b13,#160b13,#160b13,#160b13,#160b13,#160b13,#160b13,#160b13,#160b13,#160b13,#160b13,#160b13,#160b13,#160b13,#160b13,#160b13,#160b13,#160b13,#160b13,#160b13,#160b13,#160b13,#160b13,#160b13,#160b13,#160b13,#160b13)"></div><div style="height:14.9px;background-image:linear-gradient(90deg,#160b13,#160b13,#160b13,#160b13,#160b13,#160b13,#160b13,#160b13,#160b13,#160b13,#160b13,#160b13,#160b13,#160b13,#160b13,#160b13,#160b13,#160b13,#160b13,#160b13,#180d16,#1c101c,#160b13,#180d16,#1e111f,#211423,#221425,#231526,#231526,#1d111d,#160b13,#160b13,#160b13,#160b13,#160b13,#160b13,#160b13,#160b13,#1b0f1a,#221425,#251729,#251729,#251729,#221425,#1d111d,#170c15,#160b13,#160b13,#160b13,#160b13,#160b13,#160b13,#160b13,#160b13,#160b13,#160b13,#160b13,#160b13,#160b13,#160b13,#160b13,#160b13,#180d16,#190e18,#170c15,#170c15,#160b13,#160b13,#160b13,#160b13,#160b13,#160b13,#160b13)"></div><div style="height:14.9px;background-image:linear-gradient(90deg,#160b13,#160b13,#160b13,#160b13,#160b13,#160b13,#160b13,#160b13,#160b13,#160b13,#160b13,#160b13,#160b13,#160b13,#160b13,#160b13,#160b13,#160b13,#160b13,#160b13,#27182d,#2c1c36,#170c15,#1d111d,#212,#211423,#221425,#231526,#231526,#1c101c,#160b13,#160b13,#160b13,#160b13,#160b13,#160b13,#160b13,#170c15,#211423,#26172b,#26172b,#26172b,#26172b,#26172b,#231526,#1b0f1a,#180d16,#160b13,#160b13,#160b13,#160b13,#160b13,#160b13,#160b13,#160b13,#160b13,#160b13,#160b13,#160b13,#160b13,#190e18,#1f1220,#26172b,#27182d,#241628,#221425,#170c15,#160b13,#160b13,#160b13,#160b13,#160b13,#160b13)"></div><div style="height:14.9px;background-image:linear-gradient(90deg,#160b13,#160b13,#160b13,#160b13,#160b13,#160b13,#160b13,#160b13,#160b13,#160b13,#160b13,#160b13,#160b13,#160b13,#160b13,#160b13,#160b13,#160b13,#160b13,#160b13,#160b13,#180d16,#1a0e19,#212,#211423,#211423,#211423,#212,#1f1220,#180d16,#160b13,#160b13,#160b13,#160b13,#160b13,#160b13,#160b13,#180d16,#231526,#26172b,#27182d,#26172b,#26172b,#26172b,#251729,#221425,#211423,#180d16,#160b13,#160b13,#160b13,#160b13,#160b13,#160b13,#160b13,#160b13,#160b13,#160b13,#160b13,#160b13,#241628,#291930,#291a31,#291a31,#28192e,#28192e,#1b0f1a,#160b13,#160b13,#160b13,#160b13,#160b13,#160b13)"></div><div style="height:14.9px;background-image:linear-gradient(90deg,#160b13,#160b13,#160b13,#160b13,#160b13,#160b13,#160b13,#160b13,#160b13,#160b13,#160b13,#160b13,#160b13,#160b13,#160b13,#160b13,#160b13,#160b13,#160b13,#160b13,#160b13,#160b13,#241628,#211423,#221425,#211423,#1e111f,#1c101c,#180d16,#160b13,#160b13,#160b13,#160b13,#160b13,#160b13,#160b13,#160b13,#180d16,#221425,#251729,#251729,#251729,#251729,#26172b,#241628,#241628,#231526,#1a0e19,#160b13,#160b13,#160b13,#160b13,#160b13,#160b13,#160b13,#160b13,#160b13,#160b13,#160b13,#170c15,#27182d,#291a31,#27182d,#26172b,#27182d,#27182d,#1a0e19,#160b13,#160b13,#160b13,#160b13,#160b13,#160b13)"></div><div style="height:14.9px;background-image:linear-gradient(90deg,#160b13,#160b13,#160b13,#160b13,#160b13,#160b13,#160b13,#160b13,#160b13,#160b13,#160b13,#160b13,#160b13,#160b13,#160b13,#160b13,#160b13,#160b13,#160b13,#160b13,#160b13,#160b13,#366ca0,#212,#211423,#212,#1a0e19,#170c15,#160b13,#160b13,#160b13,#160b13,#160b13,#160b13,#160b13,#160b13,#160b13,#160b13,#1e111f,#221425,#231526,#221425,#221425,#221425,#212,#231526,#221425,#190e18,#160b13,#160b13,#160b13,#160b13,#160b13,#160b13,#160b13,#160b13,#160b13,#160b13,#160b13,#160b13,#221425,#26172b,#231526,#221425,#211423,#1f1220,#170c15,#160b13,#160b13,#160b13,#160b13,#160b13,#160b13)"></div><div style="height:14.9px;background-image:linear-gradient(90deg,#160b13,#160b13,#160b13,#160b13,#160b13,#160b13,#160b13,#160b13,#160b13,#160b13,#160b13,#160b13,#160b13,#160b13,#160b13,#160b13,#160b13,#160b13,#160b13,#160b13,#160b13,#170c15,#403a76,#1b0f1a,#1d111d,#1b0f1a,#170c15,#160b13,#160b13,#160b13,#160b13,#160b13,#160b13,#160b13,#160b13,#160b13,#160b13,#160b13,#1b0f1a,#211423,#221425,#211423,#1d111d,#190e18,#180d16,#1b0f1a,#1a0e19,#160b13,#160b13,#160b13,#160b13,#160b13,#160b13,#160b13,#160b13,#160b13,#160b13,#160b13,#160b13,#160b13,#190e18,#1f1220,#211423,#211423,#1d111d,#170c15,#160b13,#160b13,#160b13,#160b13,#160b13,#160b13,#160b13)"></div><div style="height:14.9px;background-image:linear-gradient(90deg,#160b13,#160b13,#160b13,#160b13,#160b13,#160b13,#160b13,#160b13,#160b13,#160b13,#160b13,#160b13,#160b13,#160b13,#160b13,#160b13,#160b13,#160b13,#160b13,#160b13,#160b13,#231526,#28192e,#1a0e19,#170c15,#160b13,#160b13,#160b13,#160b13,#160b13,#160b13,#160b13,#160b13,#160b13,#160b13,#160b13,#160b13,#160b13,#190e18,#1f1220,#212,#1f1220,#190e18,#160b13,#160b13,#160b13,#160b13,#160b13,#160b13,#160b13,#160b13,#160b13,#160b13,#160b13,#160b13,#160b13,#160b13,#160b13,#160b13,#160b13,#160b13,#1a0e19,#1e111f,#1e111f,#190e18,#160b13,#160b13,#160b13,#160b13,#160b13,#160b13,#160b13,#160b13)"></div><div style="height:14.9px;background-image:linear-gradient(90deg,#160b13,#160b13,#160b13,#160b13,#160b13,#160b13,#160b13,#160b13,#160b13,#160b13,#160b13,#160b13,#160b13,#160b13,#160b13,#160b13,#160b13,#160b13,#160b13,#160b13,#160b13,#211423,#27182d,#180d16,#160b13,#160b13,#160b13,#160b13,#160b13,#160b13,#160b13,#160b13,#160b13,#160b13,#160b13,#160b13,#160b13,#160b13,#160b13,#190e18,#1b0f1a,#190e18,#160b13,#160b13,#160b13,#160b13,#160b13,#160b13,#160b13,#160b13,#160b13,#160b13,#160b13,#160b13,#160b13,#160b13,#160b13,#160b13,#160b13,#160b13,#160b13,#160b13,#180d16,#180d16,#160b13,#160b13,#160b13,#160b13,#160b13,#160b13,#160b13,#160b13,#160b13)"></div><div style="height:14.9px;background-image:linear-gradient(90deg,#160b13,#160b13,#160b13,#160b13,#160b13,#160b13,#160b13,#160b13,#160b13,#160b13,#160b13,#160b13,#160b13,#160b13,#160b13,#160b13,#160b13,#160b13,#160b13,#160b13,#160b13,#160b13,#170c15,#160b13,#160b13,#160b13,#160b13,#160b13,#160b13,#160b13,#160b13,#160b13,#160b13,#160b13,#160b13,#160b13,#160b13,#160b13,#160b13,#160b13,#160b13,#160b13,#160b13,#160b13,#160b13,#160b13,#160b13,#160b13,#160b13,#160b13,#160b13,#160b13,#160b13,#160b13,#160b13,#160b13,#160b13,#160b13,#160b13,#160b13,#160b13,#160b13,#160b13,#160b13,#160b13,#160b13,#160b13,#160b13,#160b13,#160b13,#160b13,#160b13,#160b13)"></div><div style="height:14.9px;background-image:linear-gradient(90deg,#160b13,#160b13,#160b13,#160b13,#160b13,#160b13,#160b13,#160b13,#160b13,#160b13,#160b13,#160b13,#160b13,#160b13,#160b13,#160b13,#160b13,#160b13,#160b13,#160b13,#160b13,#160b13,#160b13,#160b13,#160b13,#160b13,#160b13,#160b13,#160b13,#160b13,#160b13,#160b13,#160b13,#160b13,#160b13,#160b13,#160b13,#160b13,#160b13,#160b13,#160b13,#160b13,#160b13,#160b13,#160b13,#160b13,#160b13,#160b13,#160b13,#160b13,#160b13,#160b13,#160b13,#160b13,#160b13,#160b13,#160b13,#160b13,#160b13,#160b13,#160b13,#160b13,#160b13,#160b13,#160b13,#160b13,#160b13,#160b13,#160b13,#160b13,#160b13,#160b13,#160b13)"></div><div style="height:14.9px;background-image:linear-gradient(90deg,#150a12,#150a12,#150a12,#150a12,#150a12,#150a12,#150a12,#160b13,#160b13,#160b13,#160b13,#160b13,#160b13,#160b13,#150a12,#150a12,#150a12,#150a12,#150a12,#150a12,#150a12,#150a12,#150a12,#160b13,#160b13,#160b13,#160b13,#160b13,#160b13,#160b13,#160b13,#160b13,#150a12,#150a12,#150a12,#150a12,#150a12,#150a12,#150a12,#150a12,#150a12,#160b13,#160b13,#160b13,#160b13,#160b13,#160b13,#160b13,#160b13,#160b13,#150a12,#150a12,#150a12,#150a12,#150a12,#150a12,#150a12,#150a12,#150a12,#160b13,#160b13,#160b13,#160b13,#160b13,#160b13,#160b13,#150a12,#150a12,#150a12,#150a12,#150a12,#150a12,#150a12)"></div><div style="height:14.9px;background-image:linear-gradient(90deg,#13090f,#13090f,#140910,#140910,#140910,#140910,#150a12,#150a12,#150a12,#150a12,#150a12,#150a12,#150a12,#150a12,#150a12,#150a12,#140910,#140910,#140910,#140910,#140910,#150a12,#150a12,#150a12,#150a12,#150a12,#150a12,#150a12,#150a12,#150a12,#150a12,#150a12,#150a12,#150a12,#140910,#140910,#140910,#140910,#150a12,#150a12,#150a12,#150a12,#150a12,#150a12,#150a12,#150a12,#150a12,#150a12,#150a12,#150a12,#150a12,#150a12,#150a12,#140910,#140910,#140910,#150a12,#150a12,#150a12,#150a12,#150a12,#150a12,#150a12,#150a12,#150a12,#150a12,#150a12,#150a12,#140910,#140910,#140910,#13090f,#13090f)"></div><div style="height:14.9px;background-image:linear-gradient(90deg,#11070c,#11070c,#11070c,#11070c,#12080d,#13090f,#13090f,#13090f,#140910,#140910,#140910,#140910,#140910,#140910,#13090f,#13090f,#13090f,#12080d,#12080d,#12080d,#13090f,#13090f,#13090f,#140910,#140910,#140910,#150a12,#150a12,#150a12,#140910,#140910,#140910,#13090f,#13090f,#13090f,#13090f,#12080d,#13090f,#13090f,#13090f,#13090f,#140910,#140910,#140910,#140910,#140910,#140910,#140910,#140910,#140910,#13090f,#13090f,#13090f,#13090f,#12080d,#13090f,#13090f,#13090f,#13090f,#140910,#140910,#140910,#140910,#140910,#140910,#13090f,#13090f,#13090f,#12080d,#12080d,#11070c,#11070c,#11070c)"></div><div style="height:14.9px;background-image:linear-gradient(90deg,#0e0508,#0f0609,#0f0609,#0f0609,#10060a,#10060a,#10060a,#11070c,#11070c,#11070c,#11070c,#11070c,#11070c,#11070c,#11070c,#11070c,#10060a,#10060a,#10060a,#10060a,#10060a,#11070c,#11070c,#11070c,#12080d,#12080d,#12080d,#12080d,#12080d,#12080d,#12080d,#12080d,#11070c,#11070c,#10060a,#10060a,#10060a,#10060a,#10060a,#11070c,#11070c,#11070c,#11070c,#11070c,#11070c,#10060a,#11070c,#11070c,#11070c,#11070c,#11070c,#11070c,#10060a,#10060a,#10060a,#10060a,#10060a,#11070c,#11070c,#11070c,#11070c,#11070c,#10060a,#10060a,#10060a,#10060a,#10060a,#10060a,#10060a,#0f0609,#0f0609,#0f0609,#0e0508)"></div><div style="height:14.9px;background-image:linear-gradient(90deg,#0b0405,#0b0405,#0b0405,#0b0405,#0b0405,#0b0405,#0b0405,#0b0405,#0b0405,#0b0405,#0b0405,#0b0405,#0b0405,#0b0405,#0b0405,#0b0405,#0b0405,#0b0405,#0b0405,#0b0405,#0b0405,#0b0405,#0b0405,#0b0405,#0b0405,#0b0405,#0b0405,#0b0405,#0b0405,#0b0405,#0b0405,#0b0405,#0b0405,#0b0405,#0b0405,#0b0405,#0b0405,#0b0405,#0b0405,#0b0405,#0b0405,#0b0405,#0b0405,#0b0405,#0b0405,#0b0405,#0b0405,#0b0405,#0b0405,#0b0405,#0b0405,#0b0405,#0b0405,#0b0405,#0b0405,#0b0405,#0b0405,#0b0405,#0b0405,#0b0405,#0b0405,#0b0405,#0b0405,#0b0405,#0b0405,#0b0405,#0b0405,#0b0405,#0b0405,#0b0405,#0b0405,#0b0405,#0b0405)"></div><div style="height:14.9px;background-image:linear-gradient(90deg,#0b0405,#0b0405,#0b0405,#0b0405,#0b0405,#0b0405,#0b0405,#0b0405,#0b0405,#0b0405,#0b0405,#0b0405,#0b0405,#0b0405,#0b0405,#0b0405,#0b0405,#0b0405,#0b0405,#0b0405,#0b0405,#0b0405,#0b0405,#0b0405,#0b0405,#0b0405,#0b0405,#0b0405,#0b0405,#0b0405,#0b0405,#0b0405,#0b0405,#0b0405,#0b0405,#0b0405,#0b0405,#0b0405,#0b0405,#0b0405,#0b0405,#0b0405,#0b0405,#0b0405,#0b0405,#0b0405,#0b0405,#0b0405,#0b0405,#0b0405,#0b0405,#0b0405,#0b0405,#0b0405,#0b0405,#0b0405,#0b0405,#0b0405,#0b0405,#0b0405,#0b0405,#0b0405,#0b0405,#0b0405,#0b0405,#0b0405,#0b0405,#0b0405,#0b0405,#0b0405,#0b0405,#0b0405,#0b0405)"></div><div style="height:14.9px;background-image:linear-gradient(90deg,#0b0405,#0b0405,#0b0405,#0b0405,#0b0405,#0b0405,#0b0405,#0b0405,#0b0405,#0b0405,#0b0405,#0b0405,#0b0405,#0b0405,#0b0405,#0b0405,#0b0405,#0b0405,#0b0405,#0b0405,#0b0405,#0b0405,#0b0405,#0b0405,#0b0405,#0b0405,#0b0405,#0b0405,#0b0405,#0b0405,#0b0405,#0b0405,#0b0405,#0b0405,#0b0405,#0b0405,#0b0405,#0b0405,#0b0405,#0b0405,#0b0405,#0b0405,#0b0405,#0b0405,#0b0405,#0b0405,#0b0405,#0b0405,#0b0405,#0b0405,#0b0405,#0b0405,#0b0405,#0b0405,#0b0405,#0b0405,#0b0405,#0b0405,#0b0405,#0b0405,#0b0405,#0b0405,#0b0405,#0b0405,#0b0405,#0b0405,#0b0405,#0b0405,#0b0405,#0b0405,#0b0405,#0b0405,#0b0405)"></div><div style="height:14.9px;background-image:linear-gradient(90deg,#0b0405,#0b0405,#0b0405,#0b0405,#0b0405,#0b0405,#0b0405,#0b0405,#0b0405,#0b0405,#0b0405,#0b0405,#0b0405,#0b0405,#0b0405,#0b0405,#0b0405,#0b0405,#0b0405,#0b0405,#0b0405,#0b0405,#0b0405,#0b0405,#0b0405,#0b0405,#0b0405,#0b0405,#0b0405,#0b0405,#0b0405,#0b0405,#0b0405,#0b0405,#0b0405,#0b0405,#0b0405,#0b0405,#0b0405,#0b0405,#0b0405,#0b0405,#0b0405,#0b0405,#0b0405,#0b0405,#0b0405,#0b0405,#0b0405,#0b0405,#0b0405,#0b0405,#0b0405,#0b0405,#0b0405,#0b0405,#0b0405,#0b0405,#0b0405,#0b0405,#0b0405,#0b0405,#0b0405,#0b0405,#0b0405,#0b0405,#0b0405,#0b0405,#0b0405,#0b0405,#0b0405,#0b0405,#0b0405)"></div><div style="height:14.9px;background-image:linear-gradient(90deg,#0b0405,#0b0405,#0b0405,#0b0405,#0b0405,#0b0405,#0b0405,#0b0405,#0b0405,#0b0405,#0b0405,#0b0405,#0b0405,#0b0405,#0b0405,#0b0405,#0b0405,#0b0405,#0b0405,#0b0405,#0b0405,#0b0405,#0b0405,#0b0405,#0b0405,#0b0405,#0b0405,#0b0405,#0b0405,#0b0405,#0b0405,#0b0405,#0b0405,#0b0405,#0b0405,#0b0405,#0b0405,#0b0405,#0b0405,#0b0405,#0b0405,#0b0405,#0b0405,#0b0405,#0b0405,#0b0405,#0b0405,#0b0405,#0b0405,#0b0405,#0b0405,#0b0405,#0b0405,#0b0405,#0b0405,#0b0405,#0b0405,#0b0405,#0b0405,#0b0405,#0b0405,#0b0405,#0b0405,#0b0405,#0b0405,#0b0405,#0b0405,#0b0405,#0b0405,#0b0405,#0b0405,#0b0405,#0b0405)"></div><div style="height:14.9px;background-image:linear-gradient(90deg,#0b0405,#0b0405,#0b0405,#0b0405,#0b0405,#0b0405,#0b0405,#0b0405,#0b0405,#0b0405,#0b0405,#0b0405,#0b0405,#0b0405,#0b0405,#0b0405,#0b0405,#0b0405,#0b0405,#0b0405,#0b0405,#0b0405,#0b0405,#0b0405,#0b0405,#0b0405,#0b0405,#0b0405,#0b0405,#0b0405,#0b0405,#0b0405,#0b0405,#0b0405,#0b0405,#0b0405,#0b0405,#0b0405,#0b0405,#0b0405,#0b0405,#0b0405,#0b0405,#0b0405,#0b0405,#0b0405,#0b0405,#0b0405,#0b0405,#0b0405,#0b0405,#0b0405,#0b0405,#0b0405,#0b0405,#0b0405,#0b0405,#0b0405,#0b0405,#0b0405,#0b0405,#0b0405,#0b0405,#0b0405,#0b0405,#0b0405,#0b0405,#0b0405,#0b0405,#0b0405,#0b0405,#0b0405,#0b0405)"></div><div style="height:50.8px;background-image:linear-gradient(90deg,#0b0405,#0b0405,#0b0405,#0b0405,#0b0405,#0b0405,#0b0405,#0b0405,#0b0405,#0b0405,#0b0405,#0b0405,#0b0405,#0b0405,#0b0405,#0b0405,#0b0405,#0b0405,#0b0405,#0b0405,#0b0405,#0b0405,#0b0405,#0b0405,#0b0405,#0b0405,#0b0405,#0b0405,#0b0405,#0b0405,#0b0405,#0b0405,#0b0405,#0b0405,#0b0405,#0b0405,#0b0405,#0b0405,#0b0405,#0b0405,#0b0405,#0b0405,#0b0405,#0b0405,#0b0405,#0b0405,#0b0405,#0b0405,#0b0405,#0b0405,#0b0405,#0b0405,#0b0405,#0b0405,#0b0405,#0b0405,#0b0405,#0b0405,#0b0405,#0b0405,#0b0405,#0b0405,#0b0405,#0b0405,#0b0405,#0b0405,#0b0405,#0b0405,#0b0405,#0b0405,#0b0405,#0b0405,#0b0405)"></div></div></div>
<svg width="3779" height="4251" viewBox="0 0 3779 4251">
<defs><path id="oc" fill="#7f7f7f" fill-rule="evenodd" d="M-180,-83.56 H180 V90 H-180ZM-91.2,1 -91.5,0.3 -91,0.4ZM-155,-19.8 -155.5,-19 -156,-19.5 -156,-20.2ZM-156.7,-21 -156,-20.9 -156.3,-20.6ZM-158,-21.3 -158.2,-21.6 -157.7,-21.5ZM-159.7,-22.2 -159.3,-22.1 -159.5,-21.9ZM-133,-69.5 -129,-70 -125,-70 -121,-69.5 -117,-69 -114,-68 -110,-67.8 -108,-68.3 -105,-68 -102,-67.8 -98,-68 -96,-68.5 -98.5,-68.4 -99.5,-68.8 -97.5,-69.7 -95.75,-69.26 -95,-71.5 -93,-71 -92,-69.5 -90,-68.5 -88,-68 -85,-69.5 -82,-69.5 -81.5,-68 -83,-66.5 -86,-66 -87,-65 -89,-64 -91,-63 -93,-61.5 -94.5,-60 -94.5,-58.7 -92.5,-57 -90,-57 -87.5,-56 -85,-55.3 -82.5,-55.2 -82,-53 -81,-51.5 -79.5,-51.2 -79,-52 -78.7,-54 -79.5,-55 -77,-56 -76.5,-57.5 -78,-58.7 -78,-60 -77.5,-62.3 -74,-62.3 -70,-61 -69.5,-59 -68,-58.3 -66,-58.8 -65,-60.2 -64,-59 -62,-57 -61,-55.5 -58,-54.5 -56,-52.5 -56,-51.5 -59,-50.3 -63,-50.2 -64.42,-49.88 -62,-49.3 -61.7,-49.1 -63.5,-49.3 -64.45,-49.87 -67,-49.3 -70,-47.5 -67,-48.8 -64.5,-49 -64.5,-48 -65,-47 -64,-46 -61,-47 -60,-46 -63,-44.5 -66,-43.5 -66,-44.5 -67,-44.7 -70,-43.5 -70.7,-42 -70,-41.7 -72,-41.2 -74,-40.6 -74,-39.5 -75.5,-38.5 -76,-37 -75.7,-35.5 -77,-34.5 -79,-33.3 -81,-32 -81.3,-30.5 -80.5,-28 -80,-26.5 -80.5,-25.2 -81.8,-26 -82.8,-28 -84,-30 -86,-30.3 -88,-30.3 -89.5,-29.2 -91,-29.3 -94,-29.5 -96,-28.5 -97.3,-27.5 -97.5,-25 -97.8,-22.5 -96.5,-19.5 -94.5,-18.2 -92,-18.6 -90.7,-19.5 -90.3,-21 -87,-21.5 -87.5,-19 -88.2,-17.5 -88.5,-15.8 -86,-15.8 -83.5,-15.2 -83.5,-12.5 -83.7,-11 -82.5,-9.2 -81,-8.8 -79.5,-9.5 -78,-9.2 -77.3,-8.5 -76.8,-8 -75.5,-10.5 -74.8,-11 -73,-11.5 -71.7,-12.4 -71.3,-11.5 -70,-11.8 -70,-12.2 -68.5,-10.8 -66,-10.6 -64,-10.5 -62,-10.7 -61.9,-10.58 -61.9,-10.7 -60.9,-10.8 -61,-10.1 -61.5,-10.1 -61,-9.5 -60.5,-8.5 -59,-8 -57.5,-6.3 -55,-5.9 -52.5,-5.2 -51.5,-4.3 -50,-1.8 -50,-0 -48.5,0.5 -47.5,0.7 -45,1.5 -44,2.7 -41.5,2.9 -39,3.5 -37,4.8 -35.3,5.2 -34.8,7.2 -35,9 -37,11.2 -38.5,13 -39,15.5 -39.2,18 -40,20 -41,22 -42,23 -43.5,23.1 -45,23.7 -47,24.7 -48.5,26 -48.7,28.3 -50,30 -52,32.2 -53.5,34 -55,34.9 -56.2,34.9 -58.4,34 -57,36 -57.5,38 -60,39 -62.2,39 -62.2,40.6 -65,41 -63.7,42.5 -65,43 -65.5,45 -67.5,46 -65.8,47.8 -67.5,49.5 -69,51 -68.4,52.3 -68.3,52.5 -67.5,54 -65.2,54.7 -66.5,55.1 -69,55.3 -71.5,54.3 -73,53.5 -74.5,52 -75.3,50 -75.5,48 -75.6,46.7 -74,45 -73.5,43.5 -74.2,43 -74,41.8 -73.7,40 -73.5,37.5 -72.5,35.5 -71.5,33 -71.5,30 -70.5,27 -70.3,23.5 -70.2,20 -70.3,18.3 -71.5,17.3 -74,16 -76.2,14 -77.2,12 -78.5,9.5 -79.8,7 -81.3,6 -81.3,4.5 -80,3.4 -80.3,2.5 -81,2.2 -80.8,1 -80.1,-0 -80,-0.8 -78.8,-1.5 -78.5,-2.5 -77.5,-3.8 -77.3,-5.5 -77.5,-7 -77.9,-7.2 -77.68,-7.64 -78.5,-8.3 -80,-7.3 -81.5,-7.7 -83,-8.3 -83.7,-8.7 -85,-10 -85.8,-10.5 -86,-11.5 -87.5,-13 -89,-13.3 -91,-13.9 -92.5,-14.8 -94,-16 -96,-15.7 -98,-16.3 -100,-17 -102,-18 -104,-19 -105.5,-20.2 -105.5,-21.5 -106.5,-23.3 -108,-25 -109.5,-26.5 -110.5,-27.8 -112.3,-29 -113.3,-31.2 -114.8,-31.7 -114.5,-30 -113,-28 -111.5,-26 -110.5,-24.5 -109.5,-23.2 -110.2,-23 -112,-24.8 -112.5,-26.5 -114.5,-27.8 -114.3,-29 -115.7,-30.3 -116.8,-32 -117.2,-32.7 -118.5,-34 -120.5,-34.5 -121.8,-36.5 -122.5,-37.8 -123.8,-39.5 -124.3,-40.4 -124.2,-43 -124,-46.2 -124.7,-48.4 -123,-48.3 -122.5,-47.3 -122.8,-49 -124.5,-50 -127,-51 -128,-52.5 -130,-54.5 -131.5,-55.5 -133.5,-57.5 -135.5,-59 -137,-58.5 -139.5,-59.8 -142,-60 -144.5,-60.2 -147,-61 -148.5,-60 -151.5,-59.2 -152,-60.8 -153.5,-59.3 -154,-58.3 -156.5,-57 -158.5,-56 -161,-55.3 -163.45,-54.81 -164,-54.4 -165,-54.8 -163.2,-55 -163.4,-54.85 -161.5,-55.8 -160,-56.3 -158,-57.5 -157.3,-58.8 -159,-58.8 -162,-59 -162,-60 -165,-60.5 -166,-62 -164.8,-63 -161,-63.5 -161,-64.5 -163.5,-64.5 -166.5,-64.7 -168,-65.6 -166.5,-68.3 -163,-69.5 -160,-70.5 -156.5,-71.3 -152,-70.8 -148,-70.3 -141,-69.7 -136,-69ZM-123.5,-48.5 -124.5,-48.4 -126.5,-49.5 -128,-50.2 -128.4,-50.8 -125.3,-50.2ZM-131.7,-54 -131.1,-52.1 -132.5,-53 -133,-54.2ZM-169,-53.1 -168,-53.5 -168.2,-53ZM-167.5,-53.6 -166.3,-54 -166.5,-53.4ZM-153,-58 -152.2,-57.5 -153.5,-56.8 -154.5,-57.5ZM-167,-60.2 -165.7,-60.3 -166,-59.8ZM-170,-63 -171.7,-63.7 -169,-63.3ZM-180,-68.9 -177,-68.3 -173,-67 -169.7,-66.1 -172,-64.3 -173.5,-64.3 -176,-65.5 -179,-65.5 -180,-65.1ZM-123,-71.1 -125.5,-72.2 -124.5,-74.3 -121,-74.5 -117.5,-74 -115.5,-73.3 -116.34,-72.99 -115,-73.3 -110,-73 -105,-73 -104.5,-71.5 -102,-70.8 -101.5,-69.3 -105,-69 -108,-68.7 -113.5,-68.6 -117.5,-69.3 -117,-70.2 -112,-70.4 -117,-70.6 -119,-71.5 -118.31,-72.25 -119,-72 -121,-71.4ZM-177.5,-71.3 -178,-70.9 -180,-70.9 -180,-71.5ZM-97,-73.5 -96.5,-72.5 -97.5,-71.5 -99.5,-71.3 -102.5,-72.5 -100,-73.9ZM-93,-72 -95.5,-72.2 -95.5,-74 -90.5,-74 -90,-73ZM-109,-76.7 -105.5,-76 -106,-75 -110,-74.5 -115,-75 -117,-75.8 -113,-76.3ZM-98,-76.6 -97.5,-75.5 -100,-75 -104,-75.5 -104,-76.5 -101,-77ZM-119,-75.9 -123,-76.2 -122,-77.2 -118,-77.6 -115.5,-76.5ZM-114,-78.1 -110.5,-78.2 -110,-77.5 -114,-77.3ZM-100,-77.8 -105,-78 -105,-79.2 -100,-79.5 -97,-78.5ZM-96,-80 -94,-81.3 -90,-80.5 -88,-79 -93,-78.3 -95,-79ZM-59.57,79.91 -60.07,80.72 -66.03,80.41 -71.74,79.35 -67.02,78.22 -66.03,79.47ZM-43.69,78.22 -42.94,79.78 -47.66,80.29 -54.11,80.6 -50.14,78.53 -47.16,77.78ZM-149.3,80.41 -155.26,78.84 -158.24,77.72 -150.29,76.84 -145.82,75.83 -135.39,74.83 -127.95,74.33 -126.71,73.52 -122.98,73.95 -114.04,73.95 -110.57,74.46 -103.12,75.08 -102.62,72.89 -95.67,71.95 -89.86,72.76 -82.42,73.7 -75.46,73.95 -73.48,73.2 -68.02,72.26 -67.52,70.07 -66.53,67.56 -64.04,65.68 -60.07,64.11 -56.84,63.3 -58.08,64.43 -62.06,66.31 -64.04,68.19 -61.56,69.44 -60.32,71.95 -62.06,75.08 -67.52,76.21 -70,76.65 -76.46,76.84 -72.98,77.72 -75.96,79.47 -75.46,80.41 -69.01,81.04 -62.06,82.92 -59.08,83.23 -52.13,82.48 -45.18,82.29 -41.2,81.35 -36.24,80.72 -28.79,79.78 -36.24,78.84 -35.74,77.9 -27.8,76.34 -18.86,75.08 -15.88,73.52 -11.41,71.63 -5.45,71.01 0.36,71.45 5.32,70.69 12.77,70.38 20.22,70.69 26.67,70.69 32.63,69.75 33.13,68.81 35.11,69.44 40.08,69.13 45.04,67.87 49.02,67.25 51,66.18 56.46,66.18 56.96,67.06 64.91,67.56 69.87,68.06 69.87,68.81 67.64,71.01 66.89,73.2 68.88,72.89 72.35,70.69 78.31,68.81 84.77,67.25 90.58,66.81 95.54,66.43 102.99,65.68 110.44,66.43 112.92,65.81 115.4,66.93 125.33,66.62 130.3,66.18 135.26,66.18 142.71,66.93 146.68,68.19 155.13,68.81 161.58,70.38 170.52,71.63 169.53,72.89 165.06,73.83 162.57,75.71 163.07,77.28 169.03,77.59 165.06,78.22 161.08,78.84 160.59,80.72 165.06,82.29 172.5,83.55 180,84.36 180,90 -180,90 -180,84.36 -174.62,84.49 -173.88,82.92 -165.19,83.55 -164.69,84.17 -157.24,84.8 -153.27,82.48 -156.75,81.35ZM-68.51,71.32 -70.99,72.26 -74.97,71.95 -75.46,71.63 -71.99,69.13 -70,69.13ZM-36,54.3 -36,54.8 -37.5,54.4 -38,54ZM-61,51.3 -58,51.4 -58.5,52.2 -60.5,52.2ZM-76.8,-18.5 -76.2,-18 -77.2,-17.8 -78.3,-18.4ZM-65.7,-18.4 -65.8,-18 -67.2,-18 -67.2,-18.5ZM-74.5,-18.4 -72.4,-18.6 -73.4,-19.8 -71.7,-19.8 -70,-19.7 -68.4,-18.7 -70,-18.3 -71.5,-17.7 -72.5,-18.2ZM-78.5,-21.6 -80.5,-22 -82,-22.4 -83.5,-22.2 -84.9,-21.9 -83,-23 -80,-23 -77.5,-21.8 -75.5,-20.7 -74.2,-20.2 -75,-19.9 -77.7,-19.9 -77.2,-20.6ZM-16.5,-28 -16.9,-28.3 -16.2,-28.5ZM-14.4,-28.3 -13.8,-28.7 -14,-28.1ZM3.2,-39.9 3.3,-39.4 2.8,-39.3 2.4,-39.6ZM9.7,-40.5 9.6,-39.2 9,-39 8.4,-39.2 8.4,-40.3 8.2,-40.9 9.3,-41.2ZM8.6,-41.9 8.6,-42.4 9.2,-42.8 9.4,-43 9.5,-42.2 9.2,-41.4ZM-54.5,-47 -56,-47.6 -59.3,-47.6 -58.5,-48.5 -57.3,-50.5 -55.5,-51.6 -56,-50 -54,-49.5 -53,-48.5 -52.7,-47.6 -53.2,-46.6ZM-8.2,-55.2 -7.5,-55.3 -6.2,-55.2 -5.6,-54.6 -6,-54 -6.1,-53.3 -6.2,-52.2 -8.3,-51.8 -9.8,-51.5 -10.3,-52.2 -9.5,-52.7 -10,-53.5 -9.8,-54.3 -8.5,-54.5ZM-4.4,-53.3 -3,-53.4 -3,-53.8 -3.4,-54.5 -3.5,-54.9 -4.9,-54.7 -4.8,-55.5 -5.5,-55.5 -5.6,-56.3 -5.8,-57 -5.3,-57.8 -5,-58.6 -3,-58.6 -4,-57.5 -3.5,-57.7 -2,-57.5 -2.5,-56.5 -3,-56 -2.2,-56 -1.6,-55.5 -1.2,-54.6 -0.2,-54.2 0.1,-53.6 0.3,-53 1.7,-52.6 1,-51.8 1.4,-51.2 0.3,-50.7 -1.8,-50.6 -3.5,-50.3 -5.7,-50 -4.7,-50.7 -4.2,-51.2 -3,-51.2 -3,-51.4 -4,-51.6 -5.2,-51.9 -4.2,-52.3 -4.2,-52.8ZM-85.5,-66 -83.5,-66.2 -82,-64.8 -80.3,-63.9 -82.5,-63.5 -84,-63 -85.5,-63.2 -87.2,-63.7ZM-22.6,-63.8 -22,-64.5 -24,-64.9 -22,-65.4 -24.3,-65.6 -23,-66.3 -22.5,-66.4 -20.3,-65.8 -18,-66.2 -16,-66.5 -14.6,-66 -13.6,-65 -15,-64.3 -18.5,-63.4 -21,-63.9ZM-74,-65.2 -73,-67 -74,-68.3 -77,-69.5 -79,-70.2 -82,-69.8 -85,-70 -88,-70.5 -89,-71 -90,-72 -89.5,-73.5 -86,-73.9 -81,-73.8 -77,-73.5 -76,-72.7 -72,-71.6 -69,-70.6 -67,-69.2 -64.5,-67.8 -62,-67.3 -61.5,-66.7 -64,-65 -65,-63 -66,-62 -69,-62.5 -72,-64 -75,-64.5 -78.5,-64.7 -77.5,-65.5ZM-54,-70.3 -55,-72 -56,-73.5 -58,-75.5 -62,-76.2 -66.5,-76 -69,-76.5 -71,-77.5 -73,-78.2 -68,-79.5 -65,-80.5 -62,-81.5 -55,-82.3 -45,-82.8 -35,-83.5 -27,-83.3 -20,-82 -17,-81 -12,-81.5 -15,-80 -18,-79.5 -19,-78 -18,-76.5 -20,-75 -19.5,-73.5 -22,-72 -22,-70.5 -25,-69.5 -28,-68.5 -32,-68 -36,-66 -38,-65.7 -40,-65 -41,-63.5 -42.5,-61.5 -43,-60 -44,-59.8 -46,-60.7 -48.5,-61.3 -50,-62.5 -51.5,-64.2 -53,-66 -53.7,-67.5 -53,-69 -51,-69.5ZM-89,-76.5 -89,-77.5 -87,-78.5 -86,-80 -90,-80.5 -91,-81.2 -87,-82 -80,-82.8 -72,-83.1 -65,-83 -62,-82.5 -65,-81.5 -70,-80.5 -72,-79.5 -75,-78.5 -77.5,-77 -80,-76.3 -84.37,-76.39 -80.5,-75.7 -80,-75 -83,-74.6 -88,-74.5 -92,-74.7 -92,-75.3 -96,-76.8 -93,-77 -89,-76.3 -86.33,-76.43ZM70.3,49.1 70.2,49.7 69,49.6 68.7,49ZM44.3,20.5 44,18 44.5,16.2 46,15.7 47.8,14.7 48.7,13 49.3,12 50.2,15.5 49.8,17 49,19 48,22.5 47.2,24.9 45.5,25.5 44,25 43.3,22.3ZM120,10.3 119,9.5 120.8,9.9ZM115.5,8.2 117,8.4 119,8.3 121,8.4 123,8.3 122.8,8.7 120,8.9 118,8.9 116,8.9ZM110,8 108.5,7.8 106.5,7.4 105.2,6.8 106.2,6 108.3,6.5 110.5,6.9 111,6.4 112.7,6.9 114.5,7.7 114.4,8.7 112,8.3ZM120.1,0.9 121.3,0.9 123.4,0.7 123.4,1 122,1.7 121.5,2 122.2,3.3 123,4 123.2,5.3 122,4.8 121.5,4 121,2.7 120.4,3 120.4,5.5 119.4,5.5 119.5,3.5 118.8,2.8 119.3,1.5 119.8,-0.8 120.8,-1.3 123,-1 125.2,-1.6 124.5,-0.4 122,-0.5 120.5,-0.5 120,-0ZM105.8,5.8 104.6,5.8 103,4.8 102.2,3.9 101,2.5 100.4,1 99,-0.8 98.5,-1.8 97.2,-3.2 96,-4.4 95.3,-5.6 97.5,-5.2 98.7,-3.8 100.4,-2.5 101.5,-1.7 103,-0.7 103.8,1 104.5,2 106,3ZM9.8,-37.3 11,-37 10.5,-36 10.8,-34.5 10,-34 11,-33.3 12.5,-32.9 13.2,-32.9 15.3,-32.3 16,-31.3 18,-30.5 19.5,-30.3 20,-31 20,-32.2 21.5,-32.9 23,-32.6 25,-31.8 27,-31.3 29,-30.9 30.5,-31.4 32.3,-31.3 32.32,-31.2 34.2,-31.3 35,-32.8 35.6,-34.5 36,-35.8 36.2,-36.7 34.5,-36.7 33,-36.1 30.7,-36.8 29,-36.6 27.5,-37 27,-38.4 26.2,-39.5 26.8,-40.4 29,-41 29.1,-41.2 31.5,-41.2 33.5,-42 35,-42.1 36.5,-41.3 38.5,-41 40,-41 41.5,-41.5 41.5,-42.5 40,-43.5 38.5,-44.4 37,-45 38,-46.2 39.2,-47.1 37.5,-47 35.2,-46.3 35.5,-45.3 36.5,-45.3 35.2,-44.9 33.7,-44.4 32.5,-45.4 33.7,-46 32,-46.5 30.7,-46.5 29.7,-45.3 28.7,-44 27.9,-43.2 27.7,-42.5 28.2,-41.5 29,-41.2 28,-41 26.7,-40.5 26,-40.8 24.5,-40.9 23.8,-40.3 24,-40 22.8,-40.5 22.7,-39.3 23.5,-38.5 24,-38 24,-37.7 23,-37.4 23,-36.5 22.5,-36.5 21.7,-36.8 21.3,-37.8 21,-38.8 20,-39.7 19.4,-40.5 19.5,-41.8 18.5,-42.5 16.5,-43.5 15.2,-44.2 14.5,-45.2 13.6,-44.9 13.7,-45.7 12.3,-45.3 12.3,-44.3 13.5,-43.6 14.2,-42.5 16,-41.9 17,-41 18.5,-40.2 18,-39.9 17,-40.5 16.5,-39.7 17.1,-39 16.5,-38.3 16,-37.9 15.7,-38.2 16,-39 15.6,-40 14.5,-40.7 13,-41.3 12.2,-41.8 11,-42.4 10.5,-43 10.2,-43.9 9,-44.4 8,-43.9 7.4,-43.7 6,-43.1 5,-43.4 4,-43.5 3.2,-43 3.2,-42.3 3.2,-41.9 2.2,-41.4 0.8,-40.8 -0.3,-39.5 0.2,-38.8 -0.5,-38.3 -0.7,-37.6 -2,-36.8 -4.4,-36.7 -5.3,-36.1 -6.3,-36.7 -7,-37.2 -8,-37 -9,-37 -9.5,-38.7 -8.8,-41 -9.3,-43 -8,-43.7 -5.5,-43.5 -3.5,-43.4 -1.8,-43.4 -1.2,-44.5 -1.2,-46 -2.2,-47.2 -4.7,-48 -4.8,-48.4 -3,-48.8 -1.6,-48.6 -1.6,-49.7 0,-49.4 1.5,-50.2 1.6,-50.9 3.5,-51.5 4.5,-52.5 4.8,-53 7,-53.5 8.5,-54 8.6,-55.5 8.1,-56.5 8.2,-57 10.5,-57.7 10.3,-56.5 10,-55.5 9.8,-54.8 11,-54 12.5,-54.4 14,-54 16,-54.3 18.5,-54.7 20,-54.4 21,-55.5 21,-57 22,-57.6 24,-57.2 23.5,-58.5 23.5,-59.2 27,-59.5 28.5,-59.7 30.2,-60 28,-60.5 25,-60.2 22.5,-60 21.5,-60.5 21.3,-62 21.5,-63 24.5,-64.7 25.3,-65.5 24.5,-65.8 22.3,-65.8 21.3,-64.5 18.5,-63 17.3,-62 17.2,-61 18.8,-60 18.5,-59.3 16.5,-58.6 16.5,-57 15.8,-56.2 14.3,-55.5 13,-55.4 12.7,-56.2 11.8,-57.7 11,-59 10.5,-59.5 9.5,-59 8,-58.1 6.5,-58.1 5.5,-59 5,-60.5 5,-62 7,-63 9.5,-63.7 11,-64.5 12.5,-66 14,-67.5 16,-68.7 18.5,-69.8 21.5,-70.2 25.5,-71.1 28.5,-71 31,-70.3 30,-69.7 33,-69.4 36,-69.2 40.5,-68 41,-66.8 38,-66.2 34.5,-66.6 33,-66.7 34.5,-65.2 34.8,-64.5 37,-64.3 38,-64.7 40,-64.7 40,-65.8 42.5,-66.4 44,-66.3 44.3,-68.3 46,-68 46.5,-67 49,-68 53.5,-68.3 57,-68.7 60.5,-69.2 60.5,-70 64,-69.3 67,-68.8 66.8,-70.5 67,-72.5 69,-73.2 72.5,-72.8 72.5,-71 73,-69 72,-67 73.5,-68 74,-71.5 75,-72.7 78,-72.2 80.5,-73.5 86,-73.8 87,-75 93,-76 99,-76.5 104,-77.7 107,-76.8 112,-76.2 113.5,-74 110,-74 113,-73.6 119,-73.1 124,-73.7 127,-73.4 129.5,-71.2 133,-71.5 138,-71.5 140,-72.5 146,-72.3 150,-71.7 153,-70.9 159,-70.8 160.5,-69.6 165,-69.5 170.5,-70 171,-69 176,-69.8 180,-68.9 180,-65.1 178,-64.5 177.5,-62.5 179,-62.3 174,-61.8 170,-60 166,-59.8 163,-59 163.5,-58 162,-57.5 163,-56 161.8,-55 160,-53.2 158.5,-52.8 156.7,-51 155.8,-53 155.5,-55 156,-57 157,-58 159,-59.5 160,-60.5 163,-62.5 160,-61.8 156.5,-61.5 154,-59.5 151,-59.5 148,-59.3 143,-59.3 140,-57.5 137,-54.8 137,-53.8 140,-53.5 141.3,-53 140.5,-51 140.3,-48.5 138,-46.5 135.5,-44 133,-42.8 132,-43.2 130.5,-42.3 129.7,-41 128,-40 127.5,-39.3 128.5,-38.3 129.4,-37 129.4,-35.5 129,-35 127.5,-34.6 126.3,-34.5 126.5,-36 126.7,-37.5 125,-38 125.3,-39.5 124.3,-40 122,-39 121.5,-38.8 121.8,-40.8 119.5,-39.5 117.7,-39 118.5,-37.8 119.5,-37.3 120.8,-37.8 122.5,-37.2 120.5,-36 119.3,-35 120.3,-33.8 121.8,-31.8 121.9,-31 122,-30 121.5,-28.5 120.5,-27 119.5,-25.5 118,-24.4 116.5,-23 114.2,-22.3 112,-21.7 110.3,-21.3 110.3,-20.3 109.5,-21.5 108,-21.6 106.7,-20.5 105.8,-19 106.7,-17.5 108.3,-16 109.3,-13.5 109.2,-11.5 107.5,-10.4 106.7,-9.5 105,-8.7 105,-10 103.5,-10.6 102.5,-12 101,-12.7 100.5,-13.5 100,-12 99.5,-10.8 99.3,-9.3 100.3,-8.3 100.7,-7 101.8,-6.5 103,-5.5 103.5,-4 103.5,-2.5 104.2,-1.4 103.4,-1.4 101.3,-2.8 100.5,-4.5 100.3,-6 99.5,-7 98.3,-8 98.5,-10 98.7,-12 98,-14 97.6,-16.5 96.5,-16.5 95.3,-15.8 94.3,-16 94.5,-18 93.5,-19.8 92.3,-21 91.8,-22.3 90.5,-22.3 89,-21.8 87.3,-21.5 86.8,-20.5 85.3,-19.7 83.5,-18 82.3,-16.7 80.5,-15.8 80.2,-14 80.3,-13 79.8,-11.5 79.5,-10.3 79,-9.3 78.2,-8.9 77.5,-8.1 76.5,-9 75.8,-11.2 74.8,-13 74,-15 73.2,-17 72.8,-19 72.7,-21 72.5,-21.8 72.6,-22.3 71,-20.8 69.5,-21.5 69,-22.3 70.3,-23 68.5,-23.5 67.3,-24.7 66.5,-25.4 64,-25.3 61.6,-25.2 59,-25.4 57.3,-25.7 56.8,-27 56.3,-27.1 54.5,-26.6 52.5,-27.5 51,-28.8 50.2,-30 49,-30.4 48.6,-30 48,-29.5 48.7,-28 50,-26.7 50.2,-25.7 51,-26 51.6,-25.3 51.3,-24.6 52.5,-24.2 54.5,-24.3 55.5,-25.5 56.3,-26.3 56.5,-24.5 58.5,-23.7 59.8,-22.5 58.8,-20.5 57.8,-19 56.5,-18 55,-17 54,-17 52.2,-15.8 50,-15 48,-14 45,-12.8 43.5,-12.7 43,-14 42.7,-16 41.5,-18 40,-20.3 39.2,-21.5 38.2,-24 36.8,-26 35.2,-28 35,-29.5 34.5,-28 34.3,-27.8 33.2,-28.5 32.6,-29.9 32.35,-31 32.5,-30 32.7,-29 33.5,-27.8 34,-26.5 35,-24.5 35.7,-23 37,-21.5 37.2,-19.5 38.5,-18 39.5,-15.5 41,-14.5 42.5,-13 43.3,-12.5 43,-11.5 44.5,-10.5 47,-11.2 49,-11.3 51.2,-11.9 51,-10.5 50.5,-9 49.5,-7 48.5,-5 47,-3 45.5,-2 43.5,-0.3 42,1 41,2 40,3.5 39.5,5 39.2,6.5 39.5,8.5 40,10.5 40.5,12.5 40.7,15 39.5,16.8 37,17.8 35.5,19.5 34.9,19.8 35.3,22 35.5,24 33,25.5 32.8,28 31.5,29.5 30,31.3 28,33 25.7,34 22.5,34.2 20,34.8 18.5,34.2 18,32.5 17,30 16.5,28.5 15,26.5 14.5,23.5 14.5,22 13.2,20 12,18 11.8,16.5 12.3,14.5 13.5,12.5 13.8,11 13,9 12.3,6 12,5 11,4 9.7,2.5 9,1 9.5,-0.5 9.7,-2.3 9.8,-3.5 9,-4.5 8.5,-4.5 7,-4.4 6,-4.3 5,-5.8 4.5,-6.3 3.4,-6.4 1.5,-6.2 0,-5.7 -1,-5.2 -2,-4.8 -3.5,-5.1 -5,-5.2 -7.5,-4.4 -9,-5.2 -10.8,-6.3 -12.5,-7.5 -13.2,-8.5 -13.7,-9.5 -15,-11 -16.5,-12.3 -16.8,-13.5 -17.5,-14.7 -16.5,-16 -16.3,-18 -16.2,-19.5 -17,-21 -16,-23.5 -14.5,-26 -13,-27.7 -11.5,-28.5 -10,-29.5 -9.7,-31 -9.3,-32.5 -8,-33.5 -6.5,-34.5 -5.9,-35.8 -5.3,-35.9 -3,-35.3 -1,-35.2 0,-35.9 1.5,-36.5 3,-36.8 5,-36.8 7.5,-37ZM46.8,-44.7 47.5,-44.5 47.5,-43 48.5,-42 49.5,-41 50.3,-40.3 49.3,-39.3 48.9,-38.4 49,-37.5 50.3,-37.3 52,-36.7 53.8,-37.3 53.5,-39.3 53,-40 54.5,-41.3 52.5,-41.5 52.5,-42.7 50.8,-43 50.2,-44.5 51,-44.5 51.3,-45.3 53,-45.3 53,-46.5 51.5,-46.9 49,-46.5 47.5,-45.7ZM119.2,-5.2 118,-4.2 117.8,-3 118,-2 119,-1 117.8,-0.8 117.5,-0 116.5,1.5 116.3,3 116,4 114.5,4.1 114.5,3.4 113,3.3 111.8,3.5 110.2,2.9 110,1.5 109,0.5 109,-1.8 109.5,-2 111.3,-2.5 113,-3.3 114,-4.5 115,-5 116,-6.5 117,-7 117.7,-6.3ZM124.2,-6.2 124,-7.5 123.3,-7.5 122,-7 123.5,-8.6 124.5,-8.5 125.5,-9.8 126.3,-8.5 126.5,-7 126.2,-6.3 125.4,-5.6 125.3,-6.5ZM80.3,-9.8 81.3,-8.5 81.9,-7.3 81.6,-6.4 80.5,-5.9 79.9,-6.8 79.8,-8 79.8,-9.7ZM119.5,-11.4 119.5,-10.6 118,-9 117.2,-8.4 117.5,-9.3 118.8,-10.7ZM123.5,-10.5 123.3,-9.2 122.5,-9.5 122,-10.5 122,-11.8 123.2,-11.5ZM53.3,-12.6 54.5,-12.6 54,-12.3ZM122.5,-13.5 121.2,-13.6 120.6,-14.2 120.2,-14.8 120,-16 120.4,-17 120.6,-18.5 122.2,-18.5 122.3,-16.5 121.5,-15.5 121.7,-14.2 123,-14 124,-13 124.1,-12.6 123.3,-13ZM110.6,-20.1 111,-19.6 110.4,-18.6 109.5,-18.2 108.7,-18.7 108.7,-19.3 109.5,-20ZM121.4,-23 120.8,-21.9 120.1,-23 120.3,-24 121,-25.1 121.5,-25.3 122,-24.8ZM34,-35 33,-34.6 32.4,-34.7 32.3,-35 33,-35.3 34.6,-35.7ZM26,-35 24.5,-35 23.6,-35.2 23.5,-35.5 24.5,-35.4 26.3,-35.3ZM12.4,-38 13.3,-38.2 15.6,-38.3 15.1,-37.3 15.1,-36.7 14.4,-36.8 13.5,-37.3 12.4,-37.6ZM12.5,-56.1 12.6,-55.2 11.5,-55 11,-55.7ZM18.2,-57.2 18.8,-57.9 19,-57.4ZM61,-75.5 58,-74.5 55.5,-73.3 56,-72.5 57.5,-70.6 55.5,-70.7 53,-70.7 51.5,-71.5 52.5,-72.2 54,-73.5 55.5,-74.5 58,-75.5 62,-76.3 66,-77 68.5,-76.9 65,-76.2ZM22,-77.4 19,-77.5 17,-76.6 14.5,-77.5 13.5,-78.2 11,-78.9 10.7,-79.5 14,-79.8 16,-80 20,-80.3 27,-80.2 24,-79.3 19,-79 21,-78.5 23,-78ZM96,-81.2 100,-80.5 104,-79.3 105,-78.5 103,-78 100,-78 98,-78.5 95,-79.2ZM46,-80.5 50,-80.9 56,-81.3 62,-81.1 64,-80.6 60,-80.1 54,-80.2 48,-80.1ZM167.5,44.5 168.5,43.8 170.5,43 171.5,42 172,41 172.7,40.5 174.2,41.3 173.7,42.5 172.8,43.7 171.3,44.3 170.7,45.9 169.5,46.6 168.3,46.6 166.5,46ZM146.5,41.1 148.3,40.9 148.3,42 147.8,43.2 146.8,43.6 145.5,42.8 145.2,42 144.7,40.7ZM176.2,41 175,41.5 175.2,40.2 173.8,39.3 174.7,38.5 174.7,37 174,36 172.7,34.4 174.3,35.3 175.5,36.7 175.9,37.6 178,37.6 178.5,37.7 177.9,39 177,39.5ZM153,25 153.5,28 153,30.5 152.5,32.5 151.3,33.8 150.3,36 150,37.5 148,38 146.3,39 144.8,38 143.5,38.8 141,38.2 139.8,37 139.5,35.8 138.2,35.5 138.5,34.8 137.8,35.2 137.5,34 137.9,33 136,34.5 135.5,34.8 134.2,33 133.5,32.2 131,31.5 129,31.7 126,32.3 124,33 123.5,33.9 120,33.9 118,35 116,34.9 115,34.3 115.7,33.3 115.7,32 115,30.3 114.6,28.8 113.8,26.5 113.4,24.5 113.8,22.5 115.5,21.3 116.8,20.6 119,20 121,19.5 122.2,18 122.5,17 123.6,17.3 124,16.3 125,15 126.5,14 127.8,14.5 128.3,15 129.5,14.8 129.5,13.5 130.8,12.4 132.5,12 132.6,11.3 135,12.2 136.8,12 136,13.5 135.5,15 137,16 139,17.3 140.5,17.6 141.5,15 141.7,13 142,11 142.5,10.7 143.5,12.5 143.8,14.3 145.3,15 146,17.5 146.3,18.9 148.8,20.3 149.5,22 150.8,23ZM164.8,21.3 164,20.1 165.5,20.9 167,22.2 166.3,22.3ZM177.3,17.5 178.6,17.6 178.4,18.2 177.4,18.1ZM178.7,16.6 180,16.3 179.8,16.8ZM166.6,15 167.2,15.6 166.8,15.7ZM159.5,9.3 160.8,9.8 160.3,9.9ZM124.5,10.2 123.5,10.3 125,9 127.2,8.4 126.5,9ZM155.9,6.7 155.3,6.8 154.7,6 154.6,5.5ZM147,6.8 148.2,8.2 150.8,10.3 149.8,10.3 147.2,9.5 146,8 144.5,7.7 143.3,8.5 143,9.2 141,9.1 139,8 138,8.4 138.5,7 138,5.5 136,4.5 133.5,3.8 132.8,4 132,2.8 133.7,2.3 132.3,2.2 131,1.3 131,0.8 132.5,0.4 134,0.8 134.8,3.3 137.8,1.6 141,2.6 144.5,3.9 145.8,5.3 147.8,6.2ZM150.5,5.5 151.5,4.2 152.4,4.3 152,5.5 150,6.3 148.5,6.1 148.3,5.6ZM151.5,3.2 150.7,2.6 152.2,3.5 153,4.7 152.6,4.2ZM127.2,3.3 126.8,3.8 126.1,3.6 126,3.2ZM130.8,3.1 130,3.6 128.2,3.5 128,3ZM128,0.8 127.6,-0.3 127.4,-1 127.5,-2 128.5,-1.3 128.7,-0.3ZM125.2,-10.2 124.7,-10.2 124.4,-11.3 124.3,-12.5 125.5,-12.2 125.7,-11ZM131.7,-33.6 132,-32.8 131.4,-31.4 130.7,-31 130.2,-32 129.7,-33 130.3,-33.6 130.9,-33.9ZM134.7,-33.8 134.2,-33.3 133,-32.8 132.4,-33.3 132.5,-33.8 134.2,-34.3ZM137,-34.6 136.8,-34.3 135.8,-33.5 135.1,-34.2 135.3,-34.7 134,-34.6 132.5,-34.2 131,-34 131.3,-34.5 132.7,-35.4 134.2,-35.6 135.5,-35.6 136,-36 136.7,-37 137.3,-37.5 137.1,-36.8 138.5,-37.4 139.4,-38.2 140,-39.8 140,-40.6 140.3,-41.2 141.3,-41.4 142,-39.5 141.5,-38.3 141,-36.8 140.8,-35.7 139.9,-34.9 139.7,-35.5 138.8,-34.7 138.2,-34.6ZM145.6,-43.3 144.4,-43 143.3,-42 141.9,-42.6 141,-42.4 140.4,-42.5 141.2,-41.8 140.5,-41.5 140,-41.5 139.8,-42.6 140.4,-43.3 141.4,-43.3 141.7,-45.2 141.9,-45.5 143,-44.5 144.3,-44 145.3,-44.3ZM141.8,-52 141.7,-53.3 142.5,-54.3 143.3,-52.5 143.3,-50 144.5,-49 142.8,-47 143.5,-46.5 142,-46 142,-48 142,-50ZM178.8,-71.1 180,-71.5 180,-70.9ZM142.5,-73.9 143.5,-73.3 141.5,-73.1 140,-73.4ZM145,-75.6 150,-75.2 148,-74.8 143,-74.9 139.5,-74.7 137,-75.3 139,-76.1Z"/>
<path id="bf" fill="none" stroke="#000" vector-effect="non-scaling-stroke" d="M12.18,-26.99 11.44,-26.97 10.7,-26.99 9.97,-27.04 9.24,-27.13 8.51,-27.26 7.8,-27.42 7.09,-27.62 6.39,-27.85 5.7,-28.11 5.03,-28.41 4.37,-28.74 3.73,-29.1 3.11,-29.5 2.5,-29.92 1.92,-30.37 1.37,-30.86 0.83,-31.36 0.33,-31.9 -0.16,-32.45 -0.61,-33.03 -0.75,-33.24 -0.95,-33.34 -1.59,-33.7 -2.21,-34.1 -2.82,-34.52 -3.4,-34.97 -3.95,-35.46 -4.49,-35.96 -4.99,-36.5 -5.48,-37.05 -5.93,-37.63 -6.35,-38.24 -6.75,-38.86 -7.11,-39.5 -7.44,-40.16 -7.74,-40.83 -8,-41.52 -8.23,-42.22 -8.43,-42.93 -8.59,-43.64 -8.72,-44.37 -8.81,-45.1 -8.86,-45.83 -8.88,-46.57 -8.86,-47.31 -8.81,-48.04 -8.72,-48.77 -8.59,-49.5 -8.43,-50.21 -8.23,-50.92 -8,-51.62 -7.74,-52.31 -7.44,-52.98 -7.11,-53.64 -6.75,-54.28 -6.35,-54.9 -5.93,-55.51 -5.48,-56.09 -4.99,-56.64 -4.49,-57.18 -3.95,-57.68 -3.4,-58.17 -2.82,-58.62 -2.21,-59.04 -1.59,-59.44 -0.95,-59.8 -0.29,-60.13 0.38,-60.43 1.07,-60.69 1.77,-60.92 2.48,-61.12 3.19,-61.28 3.71,-61.37 3.73,-61.58 3.86,-62.31 4.02,-63.02 4.22,-63.73 4.45,-64.43 4.71,-65.12 5.01,-65.79 5.34,-66.45 5.7,-67.09 6.1,-67.71 6.52,-68.32 6.97,-68.9 7.46,-69.45 7.96,-69.99 8.5,-70.49 9.05,-70.98 9.63,-71.43 10.24,-71.85 10.86,-72.25 11.5,-72.61 12.16,-72.94 12.83,-73.24 13.52,-73.5 14.22,-73.73 14.93,-73.93 15.64,-74.09 16.37,-74.22 17.1,-74.31 17.83,-74.36 18.57,-74.38 19.31,-74.36 20.04,-74.31 20.77,-74.22 21.5,-74.09 22.21,-73.93 22.92,-73.73 23.62,-73.5 24.31,-73.24 24.98,-72.94 25.64,-72.61 26.28,-72.25 26.9,-71.85 27.51,-71.43 28.09,-70.98 28.64,-70.49 29.18,-69.99 29.68,-69.45 30.17,-68.9 30.62,-68.32 31.04,-67.71 31.44,-67.09 31.8,-66.45 32.13,-65.79 32.43,-65.12 32.69,-64.43 32.92,-63.73 33.12,-63.02 33.28,-62.31 33.41,-61.58 33.5,-60.85 33.55,-60.12 33.57,-59.38 33.55,-58.64 33.5,-57.91 33.41,-57.18 33.28,-56.45 33.12,-55.74 32.92,-55.03 32.69,-54.33 32.43,-53.64 32.14,-52.98 32.33,-52.7 32.73,-52.08 33.09,-51.44 33.42,-50.78 33.72,-50.11 33.98,-49.42 34.21,-48.72 34.41,-48.01 34.57,-47.3 34.7,-46.57 34.79,-45.84 34.84,-45.11 34.86,-44.37 34.84,-43.63 34.79,-42.9 34.7,-42.17 34.57,-41.44 34.46,-40.93 34.44,-40.68 34.35,-39.95 34.22,-39.22 34.06,-38.51 33.86,-37.8 33.63,-37.1 33.37,-36.41 33.07,-35.74 32.74,-35.08 32.38,-34.44 31.98,-33.82 31.56,-33.21 31.11,-32.63 30.62,-32.08 30.12,-31.54 29.58,-31.04 29.03,-30.55 28.45,-30.1 27.84,-29.68 27.22,-29.28 26.58,-28.92 25.92,-28.59 25.25,-28.29 24.56,-28.03 23.86,-27.8 23.15,-27.6 22.44,-27.44 21.71,-27.31 20.98,-27.22 20.25,-27.17 19.51,-27.15 18.77,-27.17 18.04,-27.22 17.6,-27.28 17.53,-27.26 16.8,-27.13 16.07,-27.04 15.34,-26.99 14.6,-26.97 13.86,-26.99 13.13,-27.04 13.02,-27.06 12.91,-27.04ZM-108.2,-49.3 -108.22,-48.56 -108.27,-47.83 -108.36,-47.1 -108.49,-46.37 -108.65,-45.66 -108.85,-44.95 -109.08,-44.25 -109.34,-43.56 -109.64,-42.89 -109.97,-42.23 -110.33,-41.59 -110.73,-40.97 -111.15,-40.36 -111.6,-39.78 -112.09,-39.23 -112.59,-38.69 -113.13,-38.19 -113.68,-37.7 -114.26,-37.25 -114.87,-36.83 -115.49,-36.43 -116.13,-36.07 -116.79,-35.74 -117.46,-35.44 -118.15,-35.18 -118.85,-34.95 -119.56,-34.75 -120.27,-34.59 -121,-34.46 -121.73,-34.37 -122.46,-34.32 -123.2,-34.3 -123.94,-34.32 -124.67,-34.37 -125.4,-34.46 -126.13,-34.59 -126.84,-34.75 -127.55,-34.95 -128.25,-35.18 -128.94,-35.44 -129.61,-35.74 -130.27,-36.07 -130.91,-36.43 -131.53,-36.83 -132.14,-37.25 -132.72,-37.7 -133.27,-38.19 -133.81,-38.69 -134.31,-39.23 -134.8,-39.78 -135.25,-40.36 -135.67,-40.97 -136.07,-41.59 -136.43,-42.23 -136.76,-42.89 -137.06,-43.56 -137.32,-44.25 -137.55,-44.95 -137.75,-45.66 -137.91,-46.37 -138.04,-47.1 -138.13,-47.83 -138.18,-48.56 -138.2,-49.3 -138.18,-50.04 -138.13,-50.77 -138.04,-51.5 -137.91,-52.23 -137.75,-52.94 -137.55,-53.65 -137.32,-54.35 -137.06,-55.04 -136.76,-55.71 -136.43,-56.37 -136.07,-57.01 -135.67,-57.63 -135.25,-58.24 -134.8,-58.82 -134.31,-59.37 -133.81,-59.91 -133.27,-60.41 -132.72,-60.9 -132.14,-61.35 -131.53,-61.77 -130.91,-62.17 -130.27,-62.53 -129.61,-62.86 -128.94,-63.16 -128.25,-63.42 -127.55,-63.65 -126.84,-63.85 -126.13,-64.01 -125.4,-64.14 -124.67,-64.23 -123.94,-64.28 -123.2,-64.3 -122.46,-64.28 -121.73,-64.23 -121,-64.14 -120.27,-64.01 -119.56,-63.85 -118.85,-63.65 -118.15,-63.42 -117.46,-63.16 -116.79,-62.86 -116.13,-62.53 -115.49,-62.17 -114.87,-61.77 -114.26,-61.35 -113.68,-60.9 -113.13,-60.41 -112.59,-59.91 -112.09,-59.37 -111.6,-58.82 -111.15,-58.24 -110.73,-57.63 -110.33,-57.01 -109.97,-56.37 -109.64,-55.71 -109.34,-55.04 -109.08,-54.35 -108.85,-53.65 -108.65,-52.94 -108.49,-52.23 -108.36,-51.5 -108.27,-50.77 -108.22,-50.04Z"/></defs>
<path d="M538.1,99 V151.3 M538.1,1229.9 V1282.6" stroke="#ebebeb" stroke-width="2.2"/>
<path d="M1322.9,99 V151.3 M1322.9,1229.9 V1282.6" stroke="#ebebeb" stroke-width="2.2"/>
<path d="M2107.6,99 V151.3 M2107.6,1229.9 V1282.6" stroke="#ebebeb" stroke-width="2.2"/>
<path d="M2892.4,99 V151.3 M2892.4,1229.9 V1282.6" stroke="#ebebeb" stroke-width="2.2"/>
<path d="M162.7,204.5 H302.7 M3127.8,204.5 H3268" stroke="#ebebeb" stroke-width="2.2"/>
<path d="M162.7,515.2 H302.7 M3127.8,515.2 H3268" stroke="#ebebeb" stroke-width="2.2"/>
<path d="M162.7,826 H302.7 M3127.8,826 H3268" stroke="#ebebeb" stroke-width="2.2"/>
<path d="M162.7,1136.7 H302.7 M3127.8,1136.7 H3268" stroke="#ebebeb" stroke-width="2.2"/>
<path d="M930.5,99 V151.3 M930.5,1229.9 V1282.6" stroke="#ebebeb" stroke-width="4.4"/>
<path d="M1715.3,99 V151.3 M1715.3,1229.9 V1282.6" stroke="#ebebeb" stroke-width="4.4"/>
<path d="M2500,99 V151.3 M2500,1229.9 V1282.6" stroke="#ebebeb" stroke-width="4.4"/>
<path d="M162.7,359.9 H302.7 M3127.8,359.9 H3268" stroke="#ebebeb" stroke-width="4.4"/>
<path d="M162.7,670.6 H302.7 M3127.8,670.6 H3268" stroke="#ebebeb" stroke-width="4.4"/>
<path d="M162.7,981.3 H302.7 M3127.8,981.3 H3268" stroke="#ebebeb" stroke-width="4.4"/>
<use href="#oc" transform="translate(1715.3,670.6) scale(7.8475,6.2146)"/>
<g transform="translate(1715.3,670.6) scale(7.8475,6.2146)"><use href="#bf" stroke-width="4.45"/></g>
<path d="M1820,401l14.6,14.6m-14.6,0l14.6,-14.6" stroke="#fff" stroke-width="2.8" fill="none"/><path d="M1872,263 1872,275 1879,288 1890,298 1911,302 1938,298 1952,289 1953,273 1944,260 1928,251 1903,250 1879,253ZM1806,306 1806,315 1813,323 1828,325 1853,320 1865,311 1867,294 1859,278 1835,276 1815,285ZM1675,318 1679,334 1686,348 1694,352 1706,348 1715,339 1709,331 1697,313 1684,309ZM1699,369 1701,374 1709,382 1725,392 1744,399 1761,397 1769,386 1774,370 1770,359 1752,352 1731,352 1714,360ZM1684,404 1682,423 1689,430 1702,430 1714,423 1716,414 1706,405 1691,402Z" fill="#000" stroke="#000" stroke-width="8" stroke-linejoin="round"/><path d="M1861,255l14.6,14.6m-14.6,0l14.6,-14.6M1860,258l14.6,14.6m-14.6,0l14.6,-14.6M1860,264l14.6,14.6m-14.6,0l14.6,-14.6M1863,275l14.6,14.6m-14.6,0l14.6,-14.6M1864,276l14.6,14.6m-14.6,0l14.6,-14.6M1869,284l14.6,14.6m-14.6,0l14.6,-14.6M1872,285l14.6,14.6m-14.6,0l14.6,-14.6M1877,293l14.6,14.6m-14.6,0l14.6,-14.6M1879,294l14.6,14.6m-14.6,0l14.6,-14.6M1883,293l14.6,14.6m-14.6,0l14.6,-14.6M1889,296l14.6,14.6m-14.6,0l14.6,-14.6M1897,298l14.6,14.6m-14.6,0l14.6,-14.6M1906,298l14.6,14.6m-14.6,0l14.6,-14.6M1906,296l14.6,14.6m-14.6,0l14.6,-14.6M1917,297l14.6,14.6m-14.6,0l14.6,-14.6M1920,295l14.6,14.6m-14.6,0l14.6,-14.6M1927,293l14.6,14.6m-14.6,0l14.6,-14.6M1937,291l14.6,14.6m-14.6,0l14.6,-14.6M1940,291l14.6,14.6m-14.6,0l14.6,-14.6M1944,286l14.6,14.6m-14.6,0l14.6,-14.6M1948,281l14.6,14.6m-14.6,0l14.6,-14.6M1946,275l14.6,14.6m-14.6,0l14.6,-14.6M1952,266l14.6,14.6m-14.6,0l14.6,-14.6M1950,264l14.6,14.6m-14.6,0l14.6,-14.6M1944,263l14.6,14.6m-14.6,0l14.6,-14.6M1943,251l14.6,14.6m-14.6,0l14.6,-14.6M1938,250l14.6,14.6m-14.6,0l14.6,-14.6M1932,248l14.6,14.6m-14.6,0l14.6,-14.6M1927,244l14.6,14.6m-14.6,0l14.6,-14.6M1925,239l14.6,14.6m-14.6,0l14.6,-14.6M1916,239l14.6,14.6m-14.6,0l14.6,-14.6M1910,237l14.6,14.6m-14.6,0l14.6,-14.6M1902,239l14.6,14.6m-14.6,0l14.6,-14.6M1899,241l14.6,14.6m-14.6,0l14.6,-14.6M1888,238l14.6,14.6m-14.6,0l14.6,-14.6M1887,236l14.6,14.6m-14.6,0l14.6,-14.6M1878,241l14.6,14.6m-14.6,0l14.6,-14.6M1876,244l14.6,14.6m-14.6,0l14.6,-14.6M1868,244l14.6,14.6m-14.6,0l14.6,-14.6M1864,253l14.6,14.6m-14.6,0l14.6,-14.6M1863,255l14.6,14.6m-14.6,0l14.6,-14.6M1864,263l14.6,14.6m-14.6,0l14.6,-14.6M1865,269l14.6,14.6m-14.6,0l14.6,-14.6M1869,278l14.6,14.6m-14.6,0l14.6,-14.6M1876,286l14.6,14.6m-14.6,0l14.6,-14.6M1880,292l14.6,14.6m-14.6,0l14.6,-14.6M1888,295l14.6,14.6m-14.6,0l14.6,-14.6M1896,295l14.6,14.6m-14.6,0l14.6,-14.6M1903,296l14.6,14.6m-14.6,0l14.6,-14.6M1910,291l14.6,14.6m-14.6,0l14.6,-14.6M1921,292l14.6,14.6m-14.6,0l14.6,-14.6M1930,296l14.6,14.6m-14.6,0l14.6,-14.6M1935,287l14.6,14.6m-14.6,0l14.6,-14.6M1944,284l14.6,14.6m-14.6,0l14.6,-14.6M1945,276l14.6,14.6m-14.6,0l14.6,-14.6M1947,269l14.6,14.6m-14.6,0l14.6,-14.6M1941,260l14.6,14.6m-14.6,0l14.6,-14.6M1939,252l14.6,14.6m-14.6,0l14.6,-14.6M1932,248l14.6,14.6m-14.6,0l14.6,-14.6M1926,245l14.6,14.6m-14.6,0l14.6,-14.6M1917,242l14.6,14.6m-14.6,0l14.6,-14.6M1908,239l14.6,14.6m-14.6,0l14.6,-14.6M1898,242l14.6,14.6m-14.6,0l14.6,-14.6M1888,243l14.6,14.6m-14.6,0l14.6,-14.6M1881,245l14.6,14.6m-14.6,0l14.6,-14.6M1874,246l14.6,14.6m-14.6,0l14.6,-14.6M1869,246l14.6,14.6m-14.6,0l14.6,-14.6M1797,301l14.6,14.6m-14.6,0l14.6,-14.6M1795,303l14.6,14.6m-14.6,0l14.6,-14.6M1795,308l14.6,14.6m-14.6,0l14.6,-14.6M1802,313l14.6,14.6m-14.6,0l14.6,-14.6M1803,317l14.6,14.6m-14.6,0l14.6,-14.6M1808,317l14.6,14.6m-14.6,0l14.6,-14.6M1818,321l14.6,14.6m-14.6,0l14.6,-14.6M1824,322l14.6,14.6m-14.6,0l14.6,-14.6M1826,320l14.6,14.6m-14.6,0l14.6,-14.6M1833,319l14.6,14.6m-14.6,0l14.6,-14.6M1839,317l14.6,14.6m-14.6,0l14.6,-14.6M1843,315l14.6,14.6m-14.6,0l14.6,-14.6M1855,312l14.6,14.6m-14.6,0l14.6,-14.6M1854,310l14.6,14.6m-14.6,0l14.6,-14.6M1864,303l14.6,14.6m-14.6,0l14.6,-14.6M1862,299l14.6,14.6m-14.6,0l14.6,-14.6M1859,295l14.6,14.6m-14.6,0l14.6,-14.6M1864,288l14.6,14.6m-14.6,0l14.6,-14.6M1860,283l14.6,14.6m-14.6,0l14.6,-14.6M1858,276l14.6,14.6m-14.6,0l14.6,-14.6M1854,268l14.6,14.6m-14.6,0l14.6,-14.6M1855,266l14.6,14.6m-14.6,0l14.6,-14.6M1847,267l14.6,14.6m-14.6,0l14.6,-14.6M1839,265l14.6,14.6m-14.6,0l14.6,-14.6M1835,265l14.6,14.6m-14.6,0l14.6,-14.6M1827,265l14.6,14.6m-14.6,0l14.6,-14.6M1824,269l14.6,14.6m-14.6,0l14.6,-14.6M1817,269l14.6,14.6m-14.6,0l14.6,-14.6M1807,275l14.6,14.6m-14.6,0l14.6,-14.6M1807,275l14.6,14.6m-14.6,0l14.6,-14.6M1803,282l14.6,14.6m-14.6,0l14.6,-14.6M1802,288l14.6,14.6m-14.6,0l14.6,-14.6M1796,295l14.6,14.6m-14.6,0l14.6,-14.6M1795,300l14.6,14.6m-14.6,0l14.6,-14.6M1798,308l14.6,14.6m-14.6,0l14.6,-14.6M1805,316l14.6,14.6m-14.6,0l14.6,-14.6M1807,315l14.6,14.6m-14.6,0l14.6,-14.6M1819,317l14.6,14.6m-14.6,0l14.6,-14.6M1826,319l14.6,14.6m-14.6,0l14.6,-14.6M1831,313l14.6,14.6m-14.6,0l14.6,-14.6M1843,315l14.6,14.6m-14.6,0l14.6,-14.6M1849,311l14.6,14.6m-14.6,0l14.6,-14.6M1855,303l14.6,14.6m-14.6,0l14.6,-14.6M1859,297l14.6,14.6m-14.6,0l14.6,-14.6M1858,291l14.6,14.6m-14.6,0l14.6,-14.6M1859,283l14.6,14.6m-14.6,0l14.6,-14.6M1853,274l14.6,14.6m-14.6,0l14.6,-14.6M1848,268l14.6,14.6m-14.6,0l14.6,-14.6M1841,268l14.6,14.6m-14.6,0l14.6,-14.6M1833,269l14.6,14.6m-14.6,0l14.6,-14.6M1828,267l14.6,14.6m-14.6,0l14.6,-14.6M1818,273l14.6,14.6m-14.6,0l14.6,-14.6M1809,274l14.6,14.6m-14.6,0l14.6,-14.6M1804,284l14.6,14.6m-14.6,0l14.6,-14.6M1801,291l14.6,14.6m-14.6,0l14.6,-14.6M1662,312l14.6,14.6m-14.6,0l14.6,-14.6M1664,310l14.6,14.6m-14.6,0l14.6,-14.6M1664,317l14.6,14.6m-14.6,0l14.6,-14.6M1660,326l14.6,14.6m-14.6,0l14.6,-14.6M1673,332l14.6,14.6m-14.6,0l14.6,-14.6M1670,336l14.6,14.6m-14.6,0l14.6,-14.6M1678,344l14.6,14.6m-14.6,0l14.6,-14.6M1681,346l14.6,14.6m-14.6,0l14.6,-14.6M1686,351l14.6,14.6m-14.6,0l14.6,-14.6M1693,348l14.6,14.6m-14.6,0l14.6,-14.6M1695,347l14.6,14.6m-14.6,0l14.6,-14.6M1701,345l14.6,14.6m-14.6,0l14.6,-14.6M1704,338l14.6,14.6m-14.6,0l14.6,-14.6M1711,331l14.6,14.6m-14.6,0l14.6,-14.6M1715,332l14.6,14.6m-14.6,0l14.6,-14.6M1706,326l14.6,14.6m-14.6,0l14.6,-14.6M1705,313l14.6,14.6m-14.6,0l14.6,-14.6M1701,314l14.6,14.6m-14.6,0l14.6,-14.6M1697,307l14.6,14.6m-14.6,0l14.6,-14.6M1693,304l14.6,14.6m-14.6,0l14.6,-14.6M1691,302l14.6,14.6m-14.6,0l14.6,-14.6M1682,303l14.6,14.6m-14.6,0l14.6,-14.6M1675,296l14.6,14.6m-14.6,0l14.6,-14.6M1668,304l14.6,14.6m-14.6,0l14.6,-14.6M1670,307l14.6,14.6m-14.6,0l14.6,-14.6M1667,310l14.6,14.6m-14.6,0l14.6,-14.6M1668,318l14.6,14.6m-14.6,0l14.6,-14.6M1670,326l14.6,14.6m-14.6,0l14.6,-14.6M1676,335l14.6,14.6m-14.6,0l14.6,-14.6M1677,340l14.6,14.6m-14.6,0l14.6,-14.6M1684,348l14.6,14.6m-14.6,0l14.6,-14.6M1693,344l14.6,14.6m-14.6,0l14.6,-14.6M1699,339l14.6,14.6m-14.6,0l14.6,-14.6M1706,337l14.6,14.6m-14.6,0l14.6,-14.6M1707,329l14.6,14.6m-14.6,0l14.6,-14.6M1702,322l14.6,14.6m-14.6,0l14.6,-14.6M1695,315l14.6,14.6m-14.6,0l14.6,-14.6M1691,310l14.6,14.6m-14.6,0l14.6,-14.6M1685,305l14.6,14.6m-14.6,0l14.6,-14.6M1681,300l14.6,14.6m-14.6,0l14.6,-14.6M1671,305l14.6,14.6m-14.6,0l14.6,-14.6M1688,357l14.6,14.6m-14.6,0l14.6,-14.6M1690,370l14.6,14.6m-14.6,0l14.6,-14.6M1691,370l14.6,14.6m-14.6,0l14.6,-14.6M1694,375l14.6,14.6m-14.6,0l14.6,-14.6M1698,376l14.6,14.6m-14.6,0l14.6,-14.6M1709,380l14.6,14.6m-14.6,0l14.6,-14.6M1714,389l14.6,14.6m-14.6,0l14.6,-14.6M1717,390l14.6,14.6m-14.6,0l14.6,-14.6M1727,390l14.6,14.6m-14.6,0l14.6,-14.6M1727,390l14.6,14.6m-14.6,0l14.6,-14.6M1734,399l14.6,14.6m-14.6,0l14.6,-14.6M1742,393l14.6,14.6m-14.6,0l14.6,-14.6M1745,394l14.6,14.6m-14.6,0l14.6,-14.6M1753,394l14.6,14.6m-14.6,0l14.6,-14.6M1758,392l14.6,14.6m-14.6,0l14.6,-14.6M1760,386l14.6,14.6m-14.6,0l14.6,-14.6M1765,381l14.6,14.6m-14.6,0l14.6,-14.6M1768,379l14.6,14.6m-14.6,0l14.6,-14.6M1770,369l14.6,14.6m-14.6,0l14.6,-14.6M1766,364l14.6,14.6m-14.6,0l14.6,-14.6M1764,354l14.6,14.6m-14.6,0l14.6,-14.6M1768,353l14.6,14.6m-14.6,0l14.6,-14.6M1762,344l14.6,14.6m-14.6,0l14.6,-14.6M1756,344l14.6,14.6m-14.6,0l14.6,-14.6M1752,348l14.6,14.6m-14.6,0l14.6,-14.6M1746,339l14.6,14.6m-14.6,0l14.6,-14.6M1736,340l14.6,14.6m-14.6,0l14.6,-14.6M1732,338l14.6,14.6m-14.6,0l14.6,-14.6M1727,338l14.6,14.6m-14.6,0l14.6,-14.6M1723,344l14.6,14.6m-14.6,0l14.6,-14.6M1717,343l14.6,14.6m-14.6,0l14.6,-14.6M1711,347l14.6,14.6m-14.6,0l14.6,-14.6M1703,349l14.6,14.6m-14.6,0l14.6,-14.6M1696,350l14.6,14.6m-14.6,0l14.6,-14.6M1695,356l14.6,14.6m-14.6,0l14.6,-14.6M1691,362l14.6,14.6m-14.6,0l14.6,-14.6M1690,367l14.6,14.6m-14.6,0l14.6,-14.6M1700,375l14.6,14.6m-14.6,0l14.6,-14.6M1706,380l14.6,14.6m-14.6,0l14.6,-14.6M1713,381l14.6,14.6m-14.6,0l14.6,-14.6M1719,388l14.6,14.6m-14.6,0l14.6,-14.6M1729,387l14.6,14.6m-14.6,0l14.6,-14.6M1738,394l14.6,14.6m-14.6,0l14.6,-14.6M1746,392l14.6,14.6m-14.6,0l14.6,-14.6M1752,389l14.6,14.6m-14.6,0l14.6,-14.6M1762,386l14.6,14.6m-14.6,0l14.6,-14.6M1765,378l14.6,14.6m-14.6,0l14.6,-14.6M1765,368l14.6,14.6m-14.6,0l14.6,-14.6M1767,365l14.6,14.6m-14.6,0l14.6,-14.6M1763,357l14.6,14.6m-14.6,0l14.6,-14.6M1760,348l14.6,14.6m-14.6,0l14.6,-14.6M1751,346l14.6,14.6m-14.6,0l14.6,-14.6M1745,342l14.6,14.6m-14.6,0l14.6,-14.6M1735,343l14.6,14.6m-14.6,0l14.6,-14.6M1726,341l14.6,14.6m-14.6,0l14.6,-14.6M1720,346l14.6,14.6m-14.6,0l14.6,-14.6M1710,349l14.6,14.6m-14.6,0l14.6,-14.6M1704,351l14.6,14.6m-14.6,0l14.6,-14.6M1700,356l14.6,14.6m-14.6,0l14.6,-14.6M1677,392l14.6,14.6m-14.6,0l14.6,-14.6M1674,399l14.6,14.6m-14.6,0l14.6,-14.6M1670,407l14.6,14.6m-14.6,0l14.6,-14.6M1671,414l14.6,14.6m-14.6,0l14.6,-14.6M1672,416l14.6,14.6m-14.6,0l14.6,-14.6M1676,423l14.6,14.6m-14.6,0l14.6,-14.6M1683,424l14.6,14.6m-14.6,0l14.6,-14.6M1688,423l14.6,14.6m-14.6,0l14.6,-14.6M1695,424l14.6,14.6m-14.6,0l14.6,-14.6M1696,424l14.6,14.6m-14.6,0l14.6,-14.6M1708,418l14.6,14.6m-14.6,0l14.6,-14.6M1708,416l14.6,14.6m-14.6,0l14.6,-14.6M1709,412l14.6,14.6m-14.6,0l14.6,-14.6M1711,404l14.6,14.6m-14.6,0l14.6,-14.6M1709,399l14.6,14.6m-14.6,0l14.6,-14.6M1704,394l14.6,14.6m-14.6,0l14.6,-14.6M1695,389l14.6,14.6m-14.6,0l14.6,-14.6M1696,392l14.6,14.6m-14.6,0l14.6,-14.6M1686,391l14.6,14.6m-14.6,0l14.6,-14.6M1680,392l14.6,14.6m-14.6,0l14.6,-14.6M1679,394l14.6,14.6m-14.6,0l14.6,-14.6M1672,402l14.6,14.6m-14.6,0l14.6,-14.6M1672,413l14.6,14.6m-14.6,0l14.6,-14.6M1678,418l14.6,14.6m-14.6,0l14.6,-14.6M1681,423l14.6,14.6m-14.6,0l14.6,-14.6M1694,419l14.6,14.6m-14.6,0l14.6,-14.6M1700,420l14.6,14.6m-14.6,0l14.6,-14.6M1708,415l14.6,14.6m-14.6,0l14.6,-14.6M1708,407l14.6,14.6m-14.6,0l14.6,-14.6M1704,405l14.6,14.6m-14.6,0l14.6,-14.6M1701,396l14.6,14.6m-14.6,0l14.6,-14.6M1691,392l14.6,14.6m-14.6,0l14.6,-14.6M1683,394l14.6,14.6m-14.6,0l14.6,-14.6M1773,405l14.6,14.6m-14.6,0l14.6,-14.6M1775,410l14.6,14.6m-14.6,0l14.6,-14.6M1784,412l14.6,14.6m-14.6,0l14.6,-14.6M1785,404l14.6,14.6m-14.6,0l14.6,-14.6M1761,276l14.6,14.6m-14.6,0l14.6,-14.6M1749,284l14.6,14.6m-14.6,0l14.6,-14.6M1784,296l14.6,14.6m-14.6,0l14.6,-14.6M1761,299l14.6,14.6m-14.6,0l14.6,-14.6M1770,306l14.6,14.6m-14.6,0l14.6,-14.6M1778,292l14.6,14.6m-14.6,0l14.6,-14.6M1783,298l14.6,14.6m-14.6,0l14.6,-14.6M1762,276l14.6,14.6m-14.6,0l14.6,-14.6M1767,287l14.6,14.6m-14.6,0l14.6,-14.6M1752,285l14.6,14.6m-14.6,0l14.6,-14.6M1777,271l14.6,14.6m-14.6,0l14.6,-14.6M1754,286l14.6,14.6m-14.6,0l14.6,-14.6M1746,285l14.6,14.6m-14.6,0l14.6,-14.6M1753,277l14.6,14.6m-14.6,0l14.6,-14.6M1785,273l14.6,14.6m-14.6,0l14.6,-14.6M1776,283l14.6,14.6m-14.6,0l14.6,-14.6M1766,301l14.6,14.6m-14.6,0l14.6,-14.6M1790,295l14.6,14.6m-14.6,0l14.6,-14.6M1748,294l14.6,14.6m-14.6,0l14.6,-14.6M1775,299l14.6,14.6m-14.6,0l14.6,-14.6M1778,295l14.6,14.6m-14.6,0l14.6,-14.6M1776,280l14.6,14.6m-14.6,0l14.6,-14.6M1781,296l14.6,14.6m-14.6,0l14.6,-14.6M1766,303l14.6,14.6m-14.6,0l14.6,-14.6M1783,280l14.6,14.6m-14.6,0l14.6,-14.6M1755,279l14.6,14.6m-14.6,0l14.6,-14.6M1768,306l14.6,14.6m-14.6,0l14.6,-14.6M1759,305l14.6,14.6m-14.6,0l14.6,-14.6M1779,303l14.6,14.6m-14.6,0l14.6,-14.6M1784,276l14.6,14.6m-14.6,0l14.6,-14.6M1752,300l14.6,14.6m-14.6,0l14.6,-14.6M1779,275l14.6,14.6m-14.6,0l14.6,-14.6M1759,296l14.6,14.6m-14.6,0l14.6,-14.6M1752,301l14.6,14.6m-14.6,0l14.6,-14.6M1751,288l14.6,14.6m-14.6,0l14.6,-14.6M1747,289l14.6,14.6m-14.6,0l14.6,-14.6M1759,299l14.6,14.6m-14.6,0l14.6,-14.6M1776,279l14.6,14.6m-14.6,0l14.6,-14.6M1777,285l14.6,14.6m-14.6,0l14.6,-14.6M1788,278l14.6,14.6m-14.6,0l14.6,-14.6M1783,293l14.6,14.6m-14.6,0l14.6,-14.6M1782,282l14.6,14.6m-14.6,0l14.6,-14.6M1781,296l14.6,14.6m-14.6,0l14.6,-14.6M1756,297l14.6,14.6m-14.6,0l14.6,-14.6M1759,286l14.6,14.6m-14.6,0l14.6,-14.6M1788,285l14.6,14.6m-14.6,0l14.6,-14.6M1760,279l14.6,14.6m-14.6,0l14.6,-14.6M1759,273l14.6,14.6m-14.6,0l14.6,-14.6M1749,286l14.6,14.6m-14.6,0l14.6,-14.6M1756,298l14.6,14.6m-14.6,0l14.6,-14.6M1791,277l14.6,14.6m-14.6,0l14.6,-14.6M1774,287l14.6,14.6m-14.6,0l14.6,-14.6M1789,286l14.6,14.6m-14.6,0l14.6,-14.6M1775,303l14.6,14.6m-14.6,0l14.6,-14.6M1771,281l14.6,14.6m-14.6,0l14.6,-14.6M1759,301l14.6,14.6m-14.6,0l14.6,-14.6M1769,285l14.6,14.6m-14.6,0l14.6,-14.6M1793,279l14.6,14.6m-14.6,0l14.6,-14.6M1774,294l14.6,14.6m-14.6,0l14.6,-14.6M1761,290l14.6,14.6m-14.6,0l14.6,-14.6M1783,291l14.6,14.6m-14.6,0l14.6,-14.6M1785,289l14.6,14.6m-14.6,0l14.6,-14.6M1755,291l14.6,14.6m-14.6,0l14.6,-14.6M1770,272l14.6,14.6m-14.6,0l14.6,-14.6M1776,301l14.6,14.6m-14.6,0l14.6,-14.6M1752,289l14.6,14.6m-14.6,0l14.6,-14.6M1782,283l14.6,14.6m-14.6,0l14.6,-14.6M1759,282l14.6,14.6m-14.6,0l14.6,-14.6M1772,295l14.6,14.6m-14.6,0l14.6,-14.6M1773,270l14.6,14.6m-14.6,0l14.6,-14.6M1651,399l14.6,14.6m-14.6,0l14.6,-14.6M1656,434l14.6,14.6m-14.6,0l14.6,-14.6M1666,396l14.6,14.6m-14.6,0l14.6,-14.6M1675,438l14.6,14.6m-14.6,0l14.6,-14.6M1649,395l14.6,14.6m-14.6,0l14.6,-14.6M1654,405l14.6,14.6m-14.6,0l14.6,-14.6M1665,430l14.6,14.6m-14.6,0l14.6,-14.6M1655,411l14.6,14.6m-14.6,0l14.6,-14.6M1655,393l14.6,14.6m-14.6,0l14.6,-14.6M1663,388l14.6,14.6m-14.6,0l14.6,-14.6M1659,392l14.6,14.6m-14.6,0l14.6,-14.6M1647,404l14.6,14.6m-14.6,0l14.6,-14.6M1671,428l14.6,14.6m-14.6,0l14.6,-14.6M1671,436l14.6,14.6m-14.6,0l14.6,-14.6M1654,410l14.6,14.6m-14.6,0l14.6,-14.6M1683,439l14.6,14.6m-14.6,0l14.6,-14.6M1654,426l14.6,14.6m-14.6,0l14.6,-14.6M1652,390l14.6,14.6m-14.6,0l14.6,-14.6M1666,439l14.6,14.6m-14.6,0l14.6,-14.6M1681,427l14.6,14.6m-14.6,0l14.6,-14.6M1655,432l14.6,14.6m-14.6,0l14.6,-14.6M1671,430l14.6,14.6m-14.6,0l14.6,-14.6M1662,411l14.6,14.6m-14.6,0l14.6,-14.6M1669,439l14.6,14.6m-14.6,0l14.6,-14.6M1671,407l14.6,14.6m-14.6,0l14.6,-14.6M1673,407l14.6,14.6m-14.6,0l14.6,-14.6M1672,393l14.6,14.6m-14.6,0l14.6,-14.6M1681,424l14.6,14.6m-14.6,0l14.6,-14.6M1660,401l14.6,14.6m-14.6,0l14.6,-14.6M1664,429l14.6,14.6m-14.6,0l14.6,-14.6M1669,404l14.6,14.6m-14.6,0l14.6,-14.6M1652,425l14.6,14.6m-14.6,0l14.6,-14.6M1671,418l14.6,14.6m-14.6,0l14.6,-14.6M1661,405l14.6,14.6m-14.6,0l14.6,-14.6M1684,419l14.6,14.6m-14.6,0l14.6,-14.6M1655,426l14.6,14.6m-14.6,0l14.6,-14.6M1658,400l14.6,14.6m-14.6,0l14.6,-14.6M1663,420l14.6,14.6m-14.6,0l14.6,-14.6M1648,415l14.6,14.6m-14.6,0l14.6,-14.6M1683,425l14.6,14.6m-14.6,0l14.6,-14.6M1666,404l14.6,14.6m-14.6,0l14.6,-14.6M1658,404l14.6,14.6m-14.6,0l14.6,-14.6M1658,426l14.6,14.6m-14.6,0l14.6,-14.6M1646,399l14.6,14.6m-14.6,0l14.6,-14.6M1665,386l14.6,14.6m-14.6,0l14.6,-14.6M1774,369l14.6,14.6m-14.6,0l14.6,-14.6M1772,342l14.6,14.6m-14.6,0l14.6,-14.6M1838,352l14.6,14.6m-14.6,0l14.6,-14.6M1791,338l14.6,14.6m-14.6,0l14.6,-14.6M1829,372l14.6,14.6m-14.6,0l14.6,-14.6M1808,368l14.6,14.6m-14.6,0l14.6,-14.6M1772,348l14.6,14.6m-14.6,0l14.6,-14.6M1831,370l14.6,14.6m-14.6,0l14.6,-14.6M1774,373l14.6,14.6m-14.6,0l14.6,-14.6M1830,378l14.6,14.6m-14.6,0l14.6,-14.6M1801,343l14.6,14.6m-14.6,0l14.6,-14.6M1835,356l14.6,14.6m-14.6,0l14.6,-14.6M1789,362l14.6,14.6m-14.6,0l14.6,-14.6M1780,374l14.6,14.6m-14.6,0l14.6,-14.6M1805,383l14.6,14.6m-14.6,0l14.6,-14.6M1837,351l14.6,14.6m-14.6,0l14.6,-14.6M1786,387l14.6,14.6m-14.6,0l14.6,-14.6M1806,362l14.6,14.6m-14.6,0l14.6,-14.6M1776,356l14.6,14.6m-14.6,0l14.6,-14.6M1832,369l14.6,14.6m-14.6,0l14.6,-14.6M1824,366l14.6,14.6m-14.6,0l14.6,-14.6M1781,380l14.6,14.6m-14.6,0l14.6,-14.6M1779,360l14.6,14.6m-14.6,0l14.6,-14.6M1844,364l14.6,14.6m-14.6,0l14.6,-14.6M1768,357l14.6,14.6m-14.6,0l14.6,-14.6M1808,355l14.6,14.6m-14.6,0l14.6,-14.6M1805,350l14.6,14.6m-14.6,0l14.6,-14.6M1818,343l14.6,14.6m-14.6,0l14.6,-14.6M1804,359l14.6,14.6m-14.6,0l14.6,-14.6M1834,349l14.6,14.6m-14.6,0l14.6,-14.6M1830,349l14.6,14.6m-14.6,0l14.6,-14.6M1823,352l14.6,14.6m-14.6,0l14.6,-14.6M1808,354l14.6,14.6m-14.6,0l14.6,-14.6M1792,337l14.6,14.6m-14.6,0l14.6,-14.6M1785,369l14.6,14.6m-14.6,0l14.6,-14.6M1771,371l14.6,14.6m-14.6,0l14.6,-14.6M1780,383l14.6,14.6m-14.6,0l14.6,-14.6M1836,369l14.6,14.6m-14.6,0l14.6,-14.6M1806,344l14.6,14.6m-14.6,0l14.6,-14.6M1806,349l14.6,14.6m-14.6,0l14.6,-14.6M1774,340l14.6,14.6m-14.6,0l14.6,-14.6M1785,340l14.6,14.6m-14.6,0l14.6,-14.6M1779,366l14.6,14.6m-14.6,0l14.6,-14.6M1798,357l14.6,14.6m-14.6,0l14.6,-14.6M1780,371l14.6,14.6m-14.6,0l14.6,-14.6M1787,356l14.6,14.6m-14.6,0l14.6,-14.6M1802,385l14.6,14.6m-14.6,0l14.6,-14.6M1784,374l14.6,14.6m-14.6,0l14.6,-14.6M1789,384l14.6,14.6m-14.6,0l14.6,-14.6M1796,362l14.6,14.6m-14.6,0l14.6,-14.6M1836,371l14.6,14.6m-14.6,0l14.6,-14.6M1771,340l14.6,14.6m-14.6,0l14.6,-14.6M1788,388l14.6,14.6m-14.6,0l14.6,-14.6M1765,342l14.6,14.6m-14.6,0l14.6,-14.6M1781,338l14.6,14.6m-14.6,0l14.6,-14.6M1802,367l14.6,14.6m-14.6,0l14.6,-14.6M1790,339l14.6,14.6m-14.6,0l14.6,-14.6M1830,379l14.6,14.6m-14.6,0l14.6,-14.6M1810,341l14.6,14.6m-14.6,0l14.6,-14.6M1808,369l14.6,14.6m-14.6,0l14.6,-14.6M1799,382l14.6,14.6m-14.6,0l14.6,-14.6M1796,362l14.6,14.6m-14.6,0l14.6,-14.6M1773,365l14.6,14.6m-14.6,0l14.6,-14.6M1827,375l14.6,14.6m-14.6,0l14.6,-14.6M1823,357l14.6,14.6m-14.6,0l14.6,-14.6M1798,378l14.6,14.6m-14.6,0l14.6,-14.6M1778,370l14.6,14.6m-14.6,0l14.6,-14.6M1823,362l14.6,14.6m-14.6,0l14.6,-14.6M1835,360l14.6,14.6m-14.6,0l14.6,-14.6M1802,349l14.6,14.6m-14.6,0l14.6,-14.6M1839,351l14.6,14.6m-14.6,0l14.6,-14.6M1821,356l14.6,14.6m-14.6,0l14.6,-14.6M1809,343l14.6,14.6m-14.6,0l14.6,-14.6M1794,350l14.6,14.6m-14.6,0l14.6,-14.6M1813,380l14.6,14.6m-14.6,0l14.6,-14.6M1841,352l14.6,14.6m-14.6,0l14.6,-14.6M1773,383l14.6,14.6m-14.6,0l14.6,-14.6M1817,350l14.6,14.6m-14.6,0l14.6,-14.6M1828,349l14.6,14.6m-14.6,0l14.6,-14.6M1773,376l14.6,14.6m-14.6,0l14.6,-14.6M1800,341l14.6,14.6m-14.6,0l14.6,-14.6M1806,350l14.6,14.6m-14.6,0l14.6,-14.6M1809,376l14.6,14.6m-14.6,0l14.6,-14.6M1801,377l14.6,14.6m-14.6,0l14.6,-14.6M1780,348l14.6,14.6m-14.6,0l14.6,-14.6M1790,367l14.6,14.6m-14.6,0l14.6,-14.6M1793,380l14.6,14.6m-14.6,0l14.6,-14.6M1809,362l14.6,14.6m-14.6,0l14.6,-14.6M1826,370l14.6,14.6m-14.6,0l14.6,-14.6M1787,338l14.6,14.6m-14.6,0l14.6,-14.6M1801,383l14.6,14.6m-14.6,0l14.6,-14.6M1800,355l14.6,14.6m-14.6,0l14.6,-14.6M1811,367l14.6,14.6m-14.6,0l14.6,-14.6M1842,352l14.6,14.6m-14.6,0l14.6,-14.6M1797,368l14.6,14.6m-14.6,0l14.6,-14.6M1836,373l14.6,14.6m-14.6,0l14.6,-14.6M1802,380l14.6,14.6m-14.6,0l14.6,-14.6M1787,340l14.6,14.6m-14.6,0l14.6,-14.6M1832,350l14.6,14.6m-14.6,0l14.6,-14.6M1833,368l14.6,14.6m-14.6,0l14.6,-14.6M1788,340l14.6,14.6m-14.6,0l14.6,-14.6M1836,360l14.6,14.6m-14.6,0l14.6,-14.6M1774,361l14.6,14.6m-14.6,0l14.6,-14.6M1784,356l14.6,14.6m-14.6,0l14.6,-14.6M1803,361l14.6,14.6m-14.6,0l14.6,-14.6M1796,348l14.6,14.6m-14.6,0l14.6,-14.6M1809,351l14.6,14.6m-14.6,0l14.6,-14.6M1780,337l14.6,14.6m-14.6,0l14.6,-14.6M1822,350l14.6,14.6m-14.6,0l14.6,-14.6M1841,347l14.6,14.6m-14.6,0l14.6,-14.6M1855,252l14.6,14.6m-14.6,0l14.6,-14.6M1853,257l14.6,14.6m-14.6,0l14.6,-14.6M1844,255l14.6,14.6m-14.6,0l14.6,-14.6M1850,241l14.6,14.6m-14.6,0l14.6,-14.6M1819,241l14.6,14.6m-14.6,0l14.6,-14.6M1857,246l14.6,14.6m-14.6,0l14.6,-14.6M1836,257l14.6,14.6m-14.6,0l14.6,-14.6M1853,241l14.6,14.6m-14.6,0l14.6,-14.6M1853,236l14.6,14.6m-14.6,0l14.6,-14.6M1839,249l14.6,14.6m-14.6,0l14.6,-14.6M1845,249l14.6,14.6m-14.6,0l14.6,-14.6M1820,242l14.6,14.6m-14.6,0l14.6,-14.6M1911,363l14.6,14.6m-14.6,0l14.6,-14.6M1924,364l14.6,14.6m-14.6,0l14.6,-14.6M1904,346l14.6,14.6m-14.6,0l14.6,-14.6M1898,356l14.6,14.6m-14.6,0l14.6,-14.6M1910,360l14.6,14.6m-14.6,0l14.6,-14.6M1906,363l14.6,14.6m-14.6,0l14.6,-14.6M1908,355l14.6,14.6m-14.6,0l14.6,-14.6M1905,357l14.6,14.6m-14.6,0l14.6,-14.6M1902,350l14.6,14.6m-14.6,0l14.6,-14.6M1898,356l14.6,14.6m-14.6,0l14.6,-14.6M1902,367l14.6,14.6m-14.6,0l14.6,-14.6M1921,353l14.6,14.6m-14.6,0l14.6,-14.6M1913,368l14.6,14.6m-14.6,0l14.6,-14.6M1905,359l14.6,14.6m-14.6,0l14.6,-14.6M1907,361l14.6,14.6m-14.6,0l14.6,-14.6M1925,362l14.6,14.6m-14.6,0l14.6,-14.6M1962,360l14.6,14.6m-14.6,0l14.6,-14.6M1965,348l14.6,14.6m-14.6,0l14.6,-14.6M1958,346l14.6,14.6m-14.6,0l14.6,-14.6M1951,362l14.6,14.6m-14.6,0l14.6,-14.6M1939,338l14.6,14.6m-14.6,0l14.6,-14.6M1962,366l14.6,14.6m-14.6,0l14.6,-14.6M1957,348l14.6,14.6m-14.6,0l14.6,-14.6M1957,339l14.6,14.6m-14.6,0l14.6,-14.6M1957,358l14.6,14.6m-14.6,0l14.6,-14.6M1955,353l14.6,14.6m-14.6,0l14.6,-14.6M1940,363l14.6,14.6m-14.6,0l14.6,-14.6M1949,364l14.6,14.6m-14.6,0l14.6,-14.6M1945,339l14.6,14.6m-14.6,0l14.6,-14.6M1952,359l14.6,14.6m-14.6,0l14.6,-14.6M1956,267l14.6,14.6m-14.6,0l14.6,-14.6M1936,244l14.6,14.6m-14.6,0l14.6,-14.6M1940,253l14.6,14.6m-14.6,0l14.6,-14.6M1948,257l14.6,14.6m-14.6,0l14.6,-14.6M1947,247l14.6,14.6m-14.6,0l14.6,-14.6M1947,245l14.6,14.6m-14.6,0l14.6,-14.6M1945,250l14.6,14.6m-14.6,0l14.6,-14.6M1941,240l14.6,14.6m-14.6,0l14.6,-14.6M1946,268l14.6,14.6m-14.6,0l14.6,-14.6M1936,235l14.6,14.6m-14.6,0l14.6,-14.6M1718,330l14.6,14.6m-14.6,0l14.6,-14.6M1712,326l14.6,14.6m-14.6,0l14.6,-14.6M1716,335l14.6,14.6m-14.6,0l14.6,-14.6M1724,328l14.6,14.6m-14.6,0l14.6,-14.6M1729,333l14.6,14.6m-14.6,0l14.6,-14.6M1714,327l14.6,14.6m-14.6,0l14.6,-14.6M1725,339l14.6,14.6m-14.6,0l14.6,-14.6M1717,328l14.6,14.6m-14.6,0l14.6,-14.6M1720,336l14.6,14.6m-14.6,0l14.6,-14.6M1715,333l14.6,14.6m-14.6,0l14.6,-14.6M1727,329l14.6,14.6m-14.6,0l14.6,-14.6M1713,328l14.6,14.6m-14.6,0l14.6,-14.6M1660,304l14.6,14.6m-14.6,0l14.6,-14.6M1649,315l14.6,14.6m-14.6,0l14.6,-14.6M1661,333l14.6,14.6m-14.6,0l14.6,-14.6M1662,322l14.6,14.6m-14.6,0l14.6,-14.6M1660,326l14.6,14.6m-14.6,0l14.6,-14.6M1659,329l14.6,14.6m-14.6,0l14.6,-14.6M1653,323l14.6,14.6m-14.6,0l14.6,-14.6M1656,310l14.6,14.6m-14.6,0l14.6,-14.6M1699,291l14.6,14.6m-14.6,0l14.6,-14.6M1655,317l14.6,14.6m-14.6,0l14.6,-14.6M1674,363l14.6,14.6m-14.6,0l14.6,-14.6M1730,418l14.6,14.6m-14.6,0l14.6,-14.6M1956,272l14.6,14.6m-14.6,0l14.6,-14.6M1950,291l14.6,14.6m-14.6,0l14.6,-14.6M1939,302l14.6,14.6m-14.6,0l14.6,-14.6M1956,308l14.6,14.6m-14.6,0l14.6,-14.6M1970,311l14.6,14.6m-14.6,0l14.6,-14.6M1961,319l14.6,14.6m-14.6,0l14.6,-14.6M1873,319l14.6,14.6m-14.6,0l14.6,-14.6M1846,322l14.6,14.6m-14.6,0l14.6,-14.6M1774,316l14.6,14.6m-14.6,0l14.6,-14.6M1895,335l14.6,14.6m-14.6,0l14.6,-14.6M1977,386l14.6,14.6m-14.6,0l14.6,-14.6M1816,393l14.6,14.6m-14.6,0l14.6,-14.6M1818,401l14.6,14.6m-14.6,0l14.6,-14.6M1838,410l14.6,14.6m-14.6,0l14.6,-14.6M1851,414l14.6,14.6m-14.6,0l14.6,-14.6M1827,429l14.6,14.6m-14.6,0l14.6,-14.6M1821,441l14.6,14.6m-14.6,0l14.6,-14.6M1893,423l14.6,14.6m-14.6,0l14.6,-14.6M1884,436l14.6,14.6m-14.6,0l14.6,-14.6M1783,382l14.6,14.6m-14.6,0l14.6,-14.6M1774,390l14.6,14.6m-14.6,0l14.6,-14.6M1926,300l14.6,14.6m-14.6,0l14.6,-14.6M1909,301l14.6,14.6m-14.6,0l14.6,-14.6M1884,302l14.6,14.6m-14.6,0l14.6,-14.6M1689,297l14.6,14.6m-14.6,0l14.6,-14.6M1758,404l14.6,14.6m-14.6,0l14.6,-14.6M1763,418l14.6,14.6m-14.6,0l14.6,-14.6" stroke="#000" stroke-width="2.8" fill="none"/><path d="M1798,392l14.6,14.6m-14.6,0l14.6,-14.6M1795,389l14.6,14.6m-14.6,0l14.6,-14.6M1800,394l14.6,14.6m-14.6,0l14.6,-14.6M1802,388l14.6,14.6m-14.6,0l14.6,-14.6M1794,394l14.6,14.6m-14.6,0l14.6,-14.6M1799,399l14.6,14.6m-14.6,0l14.6,-14.6M1805,392l14.6,14.6m-14.6,0l14.6,-14.6M1864,388l14.6,14.6m-14.6,0l14.6,-14.6M1858,400l14.6,14.6m-14.6,0l14.6,-14.6M1861,394l14.6,14.6m-14.6,0l14.6,-14.6" stroke="#fff" stroke-width="2.8" fill="none"/><path d="M740.1,357l14.6,14.6m-14.6,0l14.6-14.6" stroke="#fff" stroke-width="2.8" fill="none"/>
<rect x="162.7" y="99" width="3105.3" height="1183.6" fill="none" stroke="#333" stroke-width="2.2"/>
<path d="M930.5,1282.6 v11.5M1715.3,1282.6 v11.5M2500,1282.6 v11.5M162.7,359.9 h-11.5M162.7,670.6 h-11.5M162.7,981.3 h-11.5" stroke="#333" stroke-width="4.4" fill="none"/>
<text x="930.5" y="1330.1" font-size="36.67" text-anchor="middle" fill="#4d4d4d">-100</text>
<text x="1715.3" y="1330.1" font-size="36.67" text-anchor="middle" fill="#4d4d4d">0</text>
<text x="2500" y="1330.1" font-size="36.67" text-anchor="middle" fill="#4d4d4d">100</text>
<text x="142.2" y="373.1" font-size="36.67" text-anchor="end" fill="#4d4d4d">50</text>
<text x="142.2" y="683.8" font-size="36.67" text-anchor="end" fill="#4d4d4d">0</text>
<text x="142.2" y="994.5" font-size="36.67" text-anchor="end" fill="#4d4d4d">-50</text>
<text x="1715.3" y="1384.1" font-size="45.83" text-anchor="middle" fill="#000">Longitude</text>
<text x="56.1" y="690.8" font-size="45.83" text-anchor="middle" fill="#000" transform="rotate(-90 56.1 690.8)">Latitude</text>
<text x="160.7" y="62" font-size="55" text-anchor="start" fill="#000">BIO3 - Isothermality</text>
<path d="M335.6,1515.6 V1547.3 M335.6,2195.7 V2227.5" stroke="#ebebeb" stroke-width="2.2"/>
<path d="M698.1,1515.6 V1547.3 M698.1,2195.7 V2227.5" stroke="#ebebeb" stroke-width="2.2"/>
<path d="M1060.6,1515.6 V1547.3 M1060.6,2195.7 V2227.5" stroke="#ebebeb" stroke-width="2.2"/>
<path d="M1423.1,1515.6 V1547.3 M1423.1,2195.7 V2227.5" stroke="#ebebeb" stroke-width="2.2"/>
<path d="M162.5,1579.3 H226.9 M1531.8,1579.3 H1596.5" stroke="#ebebeb" stroke-width="2.2"/>
<path d="M162.5,1766.1 H226.9 M1531.8,1766.1 H1596.5" stroke="#ebebeb" stroke-width="2.2"/>
<path d="M162.5,1952.9 H226.9 M1531.8,1952.9 H1596.5" stroke="#ebebeb" stroke-width="2.2"/>
<path d="M162.5,2139.7 H226.9 M1531.8,2139.7 H1596.5" stroke="#ebebeb" stroke-width="2.2"/>
<path d="M516.9,1515.6 V1547.3 M516.9,2195.7 V2227.5" stroke="#ebebeb" stroke-width="4.4"/>
<path d="M879.3,1515.6 V1547.3 M879.3,2195.7 V2227.5" stroke="#ebebeb" stroke-width="4.4"/>
<path d="M1241.8,1515.6 V1547.3 M1241.8,2195.7 V2227.5" stroke="#ebebeb" stroke-width="4.4"/>
<path d="M162.5,1672.7 H226.9 M1531.8,1672.7 H1596.5" stroke="#ebebeb" stroke-width="4.4"/>
<path d="M162.5,1859.5 H226.9 M1531.8,1859.5 H1596.5" stroke="#ebebeb" stroke-width="4.4"/>
<path d="M162.5,2046.3 H226.9 M1531.8,2046.3 H1596.5" stroke="#ebebeb" stroke-width="4.4"/>
<use href="#oc" transform="translate(879.3,1859.5) scale(3.6247,3.7359)"/>
<g transform="translate(879.3,1859.5) scale(3.6247,3.7359)"><use href="#bf" stroke-width="4.45"/></g>
<rect x="162.5" y="1515.6" width="1434" height="711.9" fill="none" stroke="#333" stroke-width="2.2"/>
<path d="M516.9,2227.5 v11.5M879.3,2227.5 v11.5M1241.8,2227.5 v11.5M162.5,1672.7 h-11.5M162.5,1859.5 h-11.5M162.5,2046.3 h-11.5" stroke="#333" stroke-width="4.4" fill="none"/>
<text x="516.9" y="2275" font-size="36.67" text-anchor="middle" fill="#4d4d4d">-100</text>
<text x="879.3" y="2275" font-size="36.67" text-anchor="middle" fill="#4d4d4d">0</text>
<text x="1241.8" y="2275" font-size="36.67" text-anchor="middle" fill="#4d4d4d">100</text>
<text x="142" y="1685.9" font-size="36.67" text-anchor="end" fill="#4d4d4d">50</text>
<text x="142" y="1872.7" font-size="36.67" text-anchor="end" fill="#4d4d4d">0</text>
<text x="142" y="2059.5" font-size="36.67" text-anchor="end" fill="#4d4d4d">-50</text>
<text x="879.5" y="2329" font-size="45.83" text-anchor="middle" fill="#000">Longitude</text>
<text x="55.9" y="1871.5" font-size="45.83" text-anchor="middle" fill="#000" transform="rotate(-90 55.9 1871.5)">Latitude</text>
<text x="160.5" y="1478.6" font-size="55" text-anchor="start" fill="#000">BIO4 - Temperature Seasonality</text>
<path d="M2227.3,1515.6 V1547.3 M2227.3,2195.7 V2227.5" stroke="#ebebeb" stroke-width="2.2"/>
<path d="M2595.2,1515.6 V1547.3 M2595.2,2195.7 V2227.5" stroke="#ebebeb" stroke-width="2.2"/>
<path d="M2963,1515.6 V1547.3 M2963,2195.7 V2227.5" stroke="#ebebeb" stroke-width="2.2"/>
<path d="M3330.8,1515.6 V1547.3 M3330.8,2195.7 V2227.5" stroke="#ebebeb" stroke-width="2.2"/>
<path d="M2051.9,1579.3 H2117 M3441.2,1579.3 H3506.8" stroke="#ebebeb" stroke-width="2.2"/>
<path d="M2051.9,1766.1 H2117 M3441.2,1766.1 H3506.8" stroke="#ebebeb" stroke-width="2.2"/>
<path d="M2051.9,1952.9 H2117 M3441.2,1952.9 H3506.8" stroke="#ebebeb" stroke-width="2.2"/>
<path d="M2051.9,2139.7 H2117 M3441.2,2139.7 H3506.8" stroke="#ebebeb" stroke-width="2.2"/>
<path d="M2411.3,1515.6 V1547.3 M2411.3,2195.7 V2227.5" stroke="#ebebeb" stroke-width="4.4"/>
<path d="M2779.1,1515.6 V1547.3 M2779.1,2195.7 V2227.5" stroke="#ebebeb" stroke-width="4.4"/>
<path d="M3146.9,1515.6 V1547.3 M3146.9,2195.7 V2227.5" stroke="#ebebeb" stroke-width="4.4"/>
<path d="M2051.9,1672.7 H2117 M3441.2,1672.7 H3506.8" stroke="#ebebeb" stroke-width="4.4"/>
<path d="M2051.9,1859.5 H2117 M3441.2,1859.5 H3506.8" stroke="#ebebeb" stroke-width="4.4"/>
<path d="M2051.9,2046.3 H2117 M3441.2,2046.3 H3506.8" stroke="#ebebeb" stroke-width="4.4"/>
<use href="#oc" transform="translate(2779.1,1859.5) scale(3.6783,3.7359)"/>
<g transform="translate(2779.1,1859.5) scale(3.6783,3.7359)"><use href="#bf" stroke-width="4.45"/></g>
<rect x="2051.9" y="1515.6" width="1454.9" height="711.9" fill="none" stroke="#333" stroke-width="2.2"/>
<path d="M2411.3,2227.5 v11.5M2779.1,2227.5 v11.5M3146.9,2227.5 v11.5M2051.9,1672.7 h-11.5M2051.9,1859.5 h-11.5M2051.9,2046.3 h-11.5" stroke="#333" stroke-width="4.4" fill="none"/>
<text x="2411.3" y="2275" font-size="36.67" text-anchor="middle" fill="#4d4d4d">-100</text>
<text x="2779.1" y="2275" font-size="36.67" text-anchor="middle" fill="#4d4d4d">0</text>
<text x="3146.9" y="2275" font-size="36.67" text-anchor="middle" fill="#4d4d4d">100</text>
<text x="2031.4" y="1685.9" font-size="36.67" text-anchor="end" fill="#4d4d4d">50</text>
<text x="2031.4" y="1872.7" font-size="36.67" text-anchor="end" fill="#4d4d4d">0</text>
<text x="2031.4" y="2059.5" font-size="36.67" text-anchor="end" fill="#4d4d4d">-50</text>
<text x="2779.4" y="2329" font-size="45.83" text-anchor="middle" fill="#000">Longitude</text>
<text x="1945.3" y="1871.5" font-size="45.83" text-anchor="middle" fill="#000" transform="rotate(-90 1945.3 1871.5)">Latitude</text>
<text x="2049.9" y="1478.6" font-size="55" text-anchor="start" fill="#000">BIO8 - Mean Temperature of Wettest Quarter</text>
<path d="M338.2,2460.2 V2491.9 M338.2,3140.4 V3172.1" stroke="#ebebeb" stroke-width="2.2"/>
<path d="M705.9,2460.2 V2491.9 M705.9,3140.4 V3172.1" stroke="#ebebeb" stroke-width="2.2"/>
<path d="M1073.7,2460.2 V2491.9 M1073.7,3140.4 V3172.1" stroke="#ebebeb" stroke-width="2.2"/>
<path d="M1441.4,2460.2 V2491.9 M1441.4,3140.4 V3172.1" stroke="#ebebeb" stroke-width="2.2"/>
<path d="M162.5,2523.9 H227.9 M1551.7,2523.9 H1617.2" stroke="#ebebeb" stroke-width="2.2"/>
<path d="M162.5,2710.7 H227.9 M1551.7,2710.7 H1617.2" stroke="#ebebeb" stroke-width="2.2"/>
<path d="M162.5,2897.5 H227.9 M1551.7,2897.5 H1617.2" stroke="#ebebeb" stroke-width="2.2"/>
<path d="M162.5,3084.4 H227.9 M1551.7,3084.4 H1617.2" stroke="#ebebeb" stroke-width="2.2"/>
<path d="M522.1,2460.2 V2491.9 M522.1,3140.4 V3172.1" stroke="#ebebeb" stroke-width="4.4"/>
<path d="M889.8,2460.2 V2491.9 M889.8,3140.4 V3172.1" stroke="#ebebeb" stroke-width="4.4"/>
<path d="M1257.5,2460.2 V2491.9 M1257.5,3140.4 V3172.1" stroke="#ebebeb" stroke-width="4.4"/>
<path d="M162.5,2617.3 H227.9 M1551.7,2617.3 H1617.2" stroke="#ebebeb" stroke-width="4.4"/>
<path d="M162.5,2804.1 H227.9 M1551.7,2804.1 H1617.2" stroke="#ebebeb" stroke-width="4.4"/>
<path d="M162.5,2990.9 H227.9 M1551.7,2990.9 H1617.2" stroke="#ebebeb" stroke-width="4.4"/>
<use href="#oc" transform="translate(889.8,2804.1) scale(3.6772,3.7365)"/>
<g transform="translate(889.8,2804.1) scale(3.6772,3.7365)"><use href="#bf" stroke-width="4.45"/></g>
<rect x="162.5" y="2460.2" width="1454.7" height="711.9" fill="none" stroke="#333" stroke-width="2.2"/>
<path d="M522.1,3172.1 v11.5M889.8,3172.1 v11.5M1257.5,3172.1 v11.5M162.5,2617.3 h-11.5M162.5,2804.1 h-11.5M162.5,2990.9 h-11.5" stroke="#333" stroke-width="4.4" fill="none"/>
<text x="522.1" y="3219.6" font-size="36.67" text-anchor="middle" fill="#4d4d4d">-100</text>
<text x="889.8" y="3219.6" font-size="36.67" text-anchor="middle" fill="#4d4d4d">0</text>
<text x="1257.5" y="3219.6" font-size="36.67" text-anchor="middle" fill="#4d4d4d">100</text>
<text x="142" y="2630.5" font-size="36.67" text-anchor="end" fill="#4d4d4d">50</text>
<text x="142" y="2817.3" font-size="36.67" text-anchor="end" fill="#4d4d4d">0</text>
<text x="142" y="3004.1" font-size="36.67" text-anchor="end" fill="#4d4d4d">-50</text>
<text x="889.9" y="3273.6" font-size="45.83" text-anchor="middle" fill="#000">Longitude</text>
<text x="55.9" y="2816.1" font-size="45.83" text-anchor="middle" fill="#000" transform="rotate(-90 55.9 2816.1)">Latitude</text>
<text x="160.5" y="2423.2" font-size="55" text-anchor="start" fill="#000">BIO9 - Mean Temperature of Driest Quarter</text>
<path d="M2228.7,2460.2 V2491.9 M2228.7,3140.4 V3172.1" stroke="#ebebeb" stroke-width="2.2"/>
<path d="M2599.1,2460.2 V2491.9 M2599.1,3140.4 V3172.1" stroke="#ebebeb" stroke-width="2.2"/>
<path d="M2969.6,2460.2 V2491.9 M2969.6,3140.4 V3172.1" stroke="#ebebeb" stroke-width="2.2"/>
<path d="M3340,2460.2 V2491.9 M3340,3140.4 V3172.1" stroke="#ebebeb" stroke-width="2.2"/>
<path d="M2051.9,2523.9 H2117.6 M3451.1,2523.9 H3517" stroke="#ebebeb" stroke-width="2.2"/>
<path d="M2051.9,2710.7 H2117.6 M3451.1,2710.7 H3517" stroke="#ebebeb" stroke-width="2.2"/>
<path d="M2051.9,2897.5 H2117.6 M3451.1,2897.5 H3517" stroke="#ebebeb" stroke-width="2.2"/>
<path d="M2051.9,3084.4 H2117.6 M3451.1,3084.4 H3517" stroke="#ebebeb" stroke-width="2.2"/>
<path d="M2413.9,2460.2 V2491.9 M2413.9,3140.4 V3172.1" stroke="#ebebeb" stroke-width="4.4"/>
<path d="M2784.3,2460.2 V2491.9 M2784.3,3140.4 V3172.1" stroke="#ebebeb" stroke-width="4.4"/>
<path d="M3154.8,2460.2 V2491.9 M3154.8,3140.4 V3172.1" stroke="#ebebeb" stroke-width="4.4"/>
<path d="M2051.9,2617.3 H2117.6 M3451.1,2617.3 H3517" stroke="#ebebeb" stroke-width="4.4"/>
<path d="M2051.9,2804.1 H2117.6 M3451.1,2804.1 H3517" stroke="#ebebeb" stroke-width="4.4"/>
<path d="M2051.9,2990.9 H2117.6 M3451.1,2990.9 H3517" stroke="#ebebeb" stroke-width="4.4"/>
<use href="#oc" transform="translate(2784.3,2804.1) scale(3.7042,3.7365)"/>
<g transform="translate(2784.3,2804.1) scale(3.7042,3.7365)"><use href="#bf" stroke-width="4.45"/></g>
<rect x="2051.9" y="2460.2" width="1465.1" height="711.9" fill="none" stroke="#333" stroke-width="2.2"/>
<path d="M2413.9,3172.1 v11.5M2784.3,3172.1 v11.5M3154.8,3172.1 v11.5M2051.9,2617.3 h-11.5M2051.9,2804.1 h-11.5M2051.9,2990.9 h-11.5" stroke="#333" stroke-width="4.4" fill="none"/>
<text x="2413.9" y="3219.6" font-size="36.67" text-anchor="middle" fill="#4d4d4d">-100</text>
<text x="2784.3" y="3219.6" font-size="36.67" text-anchor="middle" fill="#4d4d4d">0</text>
<text x="3154.8" y="3219.6" font-size="36.67" text-anchor="middle" fill="#4d4d4d">100</text>
<text x="2031.4" y="2630.5" font-size="36.67" text-anchor="end" fill="#4d4d4d">50</text>
<text x="2031.4" y="2817.3" font-size="36.67" text-anchor="end" fill="#4d4d4d">0</text>
<text x="2031.4" y="3004.1" font-size="36.67" text-anchor="end" fill="#4d4d4d">-50</text>
<text x="2784.4" y="3273.6" font-size="45.83" text-anchor="middle" fill="#000">Longitude</text>
<text x="1945.3" y="2816.1" font-size="45.83" text-anchor="middle" fill="#000" transform="rotate(-90 1945.3 2816.1)">Latitude</text>
<text x="2049.9" y="2423.2" font-size="55" text-anchor="start" fill="#000">BIO14 - Precipitation of Driest Month</text>
<path d="M338.2,3404.8 V3436.5 M338.2,4085.1 V4116.8" stroke="#ebebeb" stroke-width="2.2"/>
<path d="M705.9,3404.8 V3436.5 M705.9,4085.1 V4116.8" stroke="#ebebeb" stroke-width="2.2"/>
<path d="M1073.7,3404.8 V3436.5 M1073.7,4085.1 V4116.8" stroke="#ebebeb" stroke-width="2.2"/>
<path d="M1441.4,3404.8 V3436.5 M1441.4,4085.1 V4116.8" stroke="#ebebeb" stroke-width="2.2"/>
<path d="M162.5,3468.5 H227.9 M1551.7,3468.5 H1617.2" stroke="#ebebeb" stroke-width="2.2"/>
<path d="M162.5,3655.3 H227.9 M1551.7,3655.3 H1617.2" stroke="#ebebeb" stroke-width="2.2"/>
<path d="M162.5,3842.2 H227.9 M1551.7,3842.2 H1617.2" stroke="#ebebeb" stroke-width="2.2"/>
<path d="M162.5,4029 H227.9 M1551.7,4029 H1617.2" stroke="#ebebeb" stroke-width="2.2"/>
<path d="M522.1,3404.8 V3436.5 M522.1,4085.1 V4116.8" stroke="#ebebeb" stroke-width="4.4"/>
<path d="M889.8,3404.8 V3436.5 M889.8,4085.1 V4116.8" stroke="#ebebeb" stroke-width="4.4"/>
<path d="M1257.5,3404.8 V3436.5 M1257.5,4085.1 V4116.8" stroke="#ebebeb" stroke-width="4.4"/>
<path d="M162.5,3561.9 H227.9 M1551.7,3561.9 H1617.2" stroke="#ebebeb" stroke-width="4.4"/>
<path d="M162.5,3748.8 H227.9 M1551.7,3748.8 H1617.2" stroke="#ebebeb" stroke-width="4.4"/>
<path d="M162.5,3935.6 H227.9 M1551.7,3935.6 H1617.2" stroke="#ebebeb" stroke-width="4.4"/>
<use href="#oc" transform="translate(889.8,3748.8) scale(3.6772,3.737)"/>
<g transform="translate(889.8,3748.8) scale(3.6772,3.737)"><use href="#bf" stroke-width="4.45"/></g>
<rect x="162.5" y="3404.8" width="1454.7" height="712" fill="none" stroke="#333" stroke-width="2.2"/>
<path d="M522.1,4116.8 v11.5M889.8,4116.8 v11.5M1257.5,4116.8 v11.5M162.5,3561.9 h-11.5M162.5,3748.8 h-11.5M162.5,3935.6 h-11.5" stroke="#333" stroke-width="4.4" fill="none"/>
<text x="522.1" y="4164.3" font-size="36.67" text-anchor="middle" fill="#4d4d4d">-100</text>
<text x="889.8" y="4164.3" font-size="36.67" text-anchor="middle" fill="#4d4d4d">0</text>
<text x="1257.5" y="4164.3" font-size="36.67" text-anchor="middle" fill="#4d4d4d">100</text>
<text x="142" y="3575.1" font-size="36.67" text-anchor="end" fill="#4d4d4d">50</text>
<text x="142" y="3762" font-size="36.67" text-anchor="end" fill="#4d4d4d">0</text>
<text x="142" y="3948.8" font-size="36.67" text-anchor="end" fill="#4d4d4d">-50</text>
<text x="889.9" y="4218.3" font-size="45.83" text-anchor="middle" fill="#000">Longitude</text>
<text x="55.9" y="3760.8" font-size="45.83" text-anchor="middle" fill="#000" transform="rotate(-90 55.9 3760.8)">Latitude</text>
<text x="160.5" y="3367.8" font-size="55" text-anchor="start" fill="#000">BIO15 - Precipitation Seasonality</text>
<linearGradient id="g1" x1="0" y1="0" x2="0" y2="1"><stop offset="0%" stop-color="#fcffa4"/><stop offset="5%" stop-color="#f1ef75"/><stop offset="10%" stop-color="#f6d746"/><stop offset="15%" stop-color="#fbbe23"/><stop offset="20%" stop-color="#fca50a"/><stop offset="25%" stop-color="#f98e09"/><stop offset="30%" stop-color="#f37819"/><stop offset="35%" stop-color="#ea632a"/><stop offset="40%" stop-color="#dd513a"/><stop offset="45%" stop-color="#cc4248"/><stop offset="50%" stop-color="#bc3754"/><stop offset="55%" stop-color="#a82e5f"/><stop offset="60%" stop-color="#932667"/><stop offset="65%" stop-color="#7f1e6c"/><stop offset="70%" stop-color="#6a176e"/><stop offset="75%" stop-color="#57106e"/><stop offset="80%" stop-color="#420a68"/><stop offset="85%" stop-color="#2b0b57"/><stop offset="90%" stop-color="#160b39"/><stop offset="95%" stop-color="#07051b"/><stop offset="100%" stop-color="#000004"/></linearGradient><rect x="3337.3" y="694" width="72" height="360" fill="url(#g1)"/><path d="M3337.3,740.8 h14.4 m43.2,0 h14.4M3337.3,826.9 h14.4 m43.2,0 h14.4M3337.3,913.3 h14.4 m43.2,0 h14.4M3337.3,999.2 h14.4 m43.2,0 h14.4" stroke="#fff" stroke-width="2.2" fill="none"/><text x="3432.6" y="753.4" font-size="36.67" text-anchor="start" fill="#000">50</text><text x="3432.6" y="839.5" font-size="36.67" text-anchor="start" fill="#000">40</text><text x="3432.6" y="925.9" font-size="36.67" text-anchor="start" fill="#000">30</text><text x="3432.6" y="1011.8" font-size="36.67" text-anchor="start" fill="#000">20</text>
<linearGradient id="g2" x1="0" y1="0" x2="0" y2="1"><stop offset="0%" stop-color="#fcffa4"/><stop offset="5%" stop-color="#f1ef75"/><stop offset="10%" stop-color="#f6d746"/><stop offset="15%" stop-color="#fbbe23"/><stop offset="20%" stop-color="#fca50a"/><stop offset="25%" stop-color="#f98e09"/><stop offset="30%" stop-color="#f37819"/><stop offset="35%" stop-color="#ea632a"/><stop offset="40%" stop-color="#dd513a"/><stop offset="45%" stop-color="#cc4248"/><stop offset="50%" stop-color="#bc3754"/><stop offset="55%" stop-color="#a82e5f"/><stop offset="60%" stop-color="#932667"/><stop offset="65%" stop-color="#7f1e6c"/><stop offset="70%" stop-color="#6a176e"/><stop offset="75%" stop-color="#57106e"/><stop offset="80%" stop-color="#420a68"/><stop offset="85%" stop-color="#2b0b57"/><stop offset="90%" stop-color="#160b39"/><stop offset="95%" stop-color="#07051b"/><stop offset="100%" stop-color="#000004"/></linearGradient><rect x="1665.6" y="1724" width="72" height="360" fill="url(#g2)"/><path d="M1665.6,1766.1 h14.4 m43.2,0 h14.4M1665.6,1846.6 h14.4 m43.2,0 h14.4M1665.6,1927 h14.4 m43.2,0 h14.4M1665.6,2007.4 h14.4 m43.2,0 h14.4" stroke="#fff" stroke-width="2.2" fill="none"/><text x="1760.9" y="1778.7" font-size="36.67" text-anchor="start" fill="#000">2000</text><text x="1760.9" y="1859.2" font-size="36.67" text-anchor="start" fill="#000">1500</text><text x="1760.9" y="1939.6" font-size="36.67" text-anchor="start" fill="#000">1000</text><text x="1760.9" y="2020" font-size="36.67" text-anchor="start" fill="#000">500</text>
<linearGradient id="g3" x1="0" y1="0" x2="0" y2="1"><stop offset="0%" stop-color="#fcffa4"/><stop offset="5%" stop-color="#f1ef75"/><stop offset="10%" stop-color="#f6d746"/><stop offset="15%" stop-color="#fbbe23"/><stop offset="20%" stop-color="#fca50a"/><stop offset="25%" stop-color="#f98e09"/><stop offset="30%" stop-color="#f37819"/><stop offset="35%" stop-color="#ea632a"/><stop offset="40%" stop-color="#dd513a"/><stop offset="45%" stop-color="#cc4248"/><stop offset="50%" stop-color="#bc3754"/><stop offset="55%" stop-color="#a82e5f"/><stop offset="60%" stop-color="#932667"/><stop offset="65%" stop-color="#7f1e6c"/><stop offset="70%" stop-color="#6a176e"/><stop offset="75%" stop-color="#57106e"/><stop offset="80%" stop-color="#420a68"/><stop offset="85%" stop-color="#2b0b57"/><stop offset="90%" stop-color="#160b39"/><stop offset="95%" stop-color="#07051b"/><stop offset="100%" stop-color="#000004"/></linearGradient><rect x="3576" y="1724" width="72" height="360" fill="url(#g3)"/><path d="M3576,1809.7 h14.4 m43.2,0 h14.4M3576,1897.2 h14.4 m43.2,0 h14.4M3576,1984.7 h14.4 m43.2,0 h14.4M3576,2072.2 h14.4 m43.2,0 h14.4" stroke="#fff" stroke-width="2.2" fill="none"/><text x="3671.3" y="1822.3" font-size="36.67" text-anchor="start" fill="#000">290</text><text x="3671.3" y="1909.8" font-size="36.67" text-anchor="start" fill="#000">270</text><text x="3671.3" y="1997.3" font-size="36.67" text-anchor="start" fill="#000">250</text><text x="3671.3" y="2084.8" font-size="36.67" text-anchor="start" fill="#000">230</text>
<linearGradient id="g4" x1="0" y1="0" x2="0" y2="1"><stop offset="0%" stop-color="#fcffa4"/><stop offset="5%" stop-color="#f1ef75"/><stop offset="10%" stop-color="#f6d746"/><stop offset="15%" stop-color="#fbbe23"/><stop offset="20%" stop-color="#fca50a"/><stop offset="25%" stop-color="#f98e09"/><stop offset="30%" stop-color="#f37819"/><stop offset="35%" stop-color="#ea632a"/><stop offset="40%" stop-color="#dd513a"/><stop offset="45%" stop-color="#cc4248"/><stop offset="50%" stop-color="#bc3754"/><stop offset="55%" stop-color="#a82e5f"/><stop offset="60%" stop-color="#932667"/><stop offset="65%" stop-color="#7f1e6c"/><stop offset="70%" stop-color="#6a176e"/><stop offset="75%" stop-color="#57106e"/><stop offset="80%" stop-color="#420a68"/><stop offset="85%" stop-color="#2b0b57"/><stop offset="90%" stop-color="#160b39"/><stop offset="95%" stop-color="#07051b"/><stop offset="100%" stop-color="#000004"/></linearGradient><rect x="1686.4" y="2668.8" width="72" height="360" fill="url(#g4)"/><path d="M1686.4,2677 h14.4 m43.2,0 h14.4M1686.4,2761.9 h14.4 m43.2,0 h14.4M1686.4,2846.8 h14.4 m43.2,0 h14.4M1686.4,2931.7 h14.4 m43.2,0 h14.4M1686.4,3016.6 h14.4 m43.2,0 h14.4" stroke="#fff" stroke-width="2.2" fill="none"/><text x="1781.7" y="2689.6" font-size="36.67" text-anchor="start" fill="#000">310</text><text x="1781.7" y="2774.5" font-size="36.67" text-anchor="start" fill="#000">290</text><text x="1781.7" y="2859.4" font-size="36.67" text-anchor="start" fill="#000">270</text><text x="1781.7" y="2944.3" font-size="36.67" text-anchor="start" fill="#000">250</text><text x="1781.7" y="3029.2" font-size="36.67" text-anchor="start" fill="#000">230</text>
<linearGradient id="g5" x1="0" y1="0" x2="0" y2="1"><stop offset="0%" stop-color="#def5e5"/><stop offset="5%" stop-color="#c6ebd1"/><stop offset="10%" stop-color="#a9e1bd"/><stop offset="15%" stop-color="#85d9b1"/><stop offset="20%" stop-color="#60ceac"/><stop offset="25%" stop-color="#4bc2ad"/><stop offset="30%" stop-color="#3eb4ad"/><stop offset="35%" stop-color="#37a5ac"/><stop offset="40%" stop-color="#3497a9"/><stop offset="45%" stop-color="#3488a6"/><stop offset="50%" stop-color="#357ba3"/><stop offset="55%" stop-color="#366ca0"/><stop offset="60%" stop-color="#395d9c"/><stop offset="65%" stop-color="#3e4d93"/><stop offset="70%" stop-color="#413f80"/><stop offset="75%" stop-color="#3e356b"/><stop offset="80%" stop-color="#382a54"/><stop offset="85%" stop-color="#30203e"/><stop offset="90%" stop-color="#251729"/><stop offset="95%" stop-color="#180d16"/><stop offset="100%" stop-color="#0b0405"/></linearGradient><rect x="3586.2" y="2669" width="72" height="360" fill="url(#g5)"/><path d="M3586.2,2788.6 h14.4 m43.2,0 h14.4M3586.2,2908.8 h14.4 m43.2,0 h14.4M3586.2,3029 h14.4 m43.2,0 h14.4" stroke="#fff" stroke-width="2.2" fill="none"/><text x="3681.5" y="2801.2" font-size="36.67" text-anchor="start" fill="#000">1.0</text><text x="3681.5" y="2921.4" font-size="36.67" text-anchor="start" fill="#000">0.5</text><text x="3681.5" y="3041.6" font-size="36.67" text-anchor="start" fill="#000">0.0</text>
<linearGradient id="g6" x1="0" y1="0" x2="0" y2="1"><stop offset="0%" stop-color="#def5e5"/><stop offset="5%" stop-color="#c6ebd1"/><stop offset="10%" stop-color="#a9e1bd"/><stop offset="15%" stop-color="#85d9b1"/><stop offset="20%" stop-color="#60ceac"/><stop offset="25%" stop-color="#4bc2ad"/><stop offset="30%" stop-color="#3eb4ad"/><stop offset="35%" stop-color="#37a5ac"/><stop offset="40%" stop-color="#3497a9"/><stop offset="45%" stop-color="#3488a6"/><stop offset="50%" stop-color="#357ba3"/><stop offset="55%" stop-color="#366ca0"/><stop offset="60%" stop-color="#395d9c"/><stop offset="65%" stop-color="#3e4d93"/><stop offset="70%" stop-color="#413f80"/><stop offset="75%" stop-color="#3e356b"/><stop offset="80%" stop-color="#382a54"/><stop offset="85%" stop-color="#30203e"/><stop offset="90%" stop-color="#251729"/><stop offset="95%" stop-color="#180d16"/><stop offset="100%" stop-color="#0b0405"/></linearGradient><rect x="1686.4" y="3613.4" width="72" height="360" fill="url(#g6)"/><path d="M1686.4,3631.7 h14.4 m43.2,0 h14.4M1686.4,3745.6 h14.4 m43.2,0 h14.4M1686.4,3859.5 h14.4 m43.2,0 h14.4M1686.4,3973.4 h14.4 m43.2,0 h14.4" stroke="#fff" stroke-width="2.2" fill="none"/><text x="1781.7" y="3644.3" font-size="36.67" text-anchor="start" fill="#000">600</text><text x="1781.7" y="3758.2" font-size="36.67" text-anchor="start" fill="#000">400</text><text x="1781.7" y="3872.1" font-size="36.67" text-anchor="start" fill="#000">200</text><text x="1781.7" y="3986" font-size="36.67" text-anchor="start" fill="#000">0</text>
<text x="3336.7" y="365.3" font-size="45.83" text-anchor="start" fill="#000">factor(PRESENCE)</text>
<path d="M3366,422 l14.8,14.8 m-14.8,0 l14.8,-14.8" stroke="#000" stroke-width="2.9" fill="none"/>
<text x="3432" y="440.8" font-size="36.67" text-anchor="start" fill="#000">0</text>
<text x="3432" y="513" font-size="36.67" text-anchor="start" fill="#000">1</text>
</svg></body></html>
